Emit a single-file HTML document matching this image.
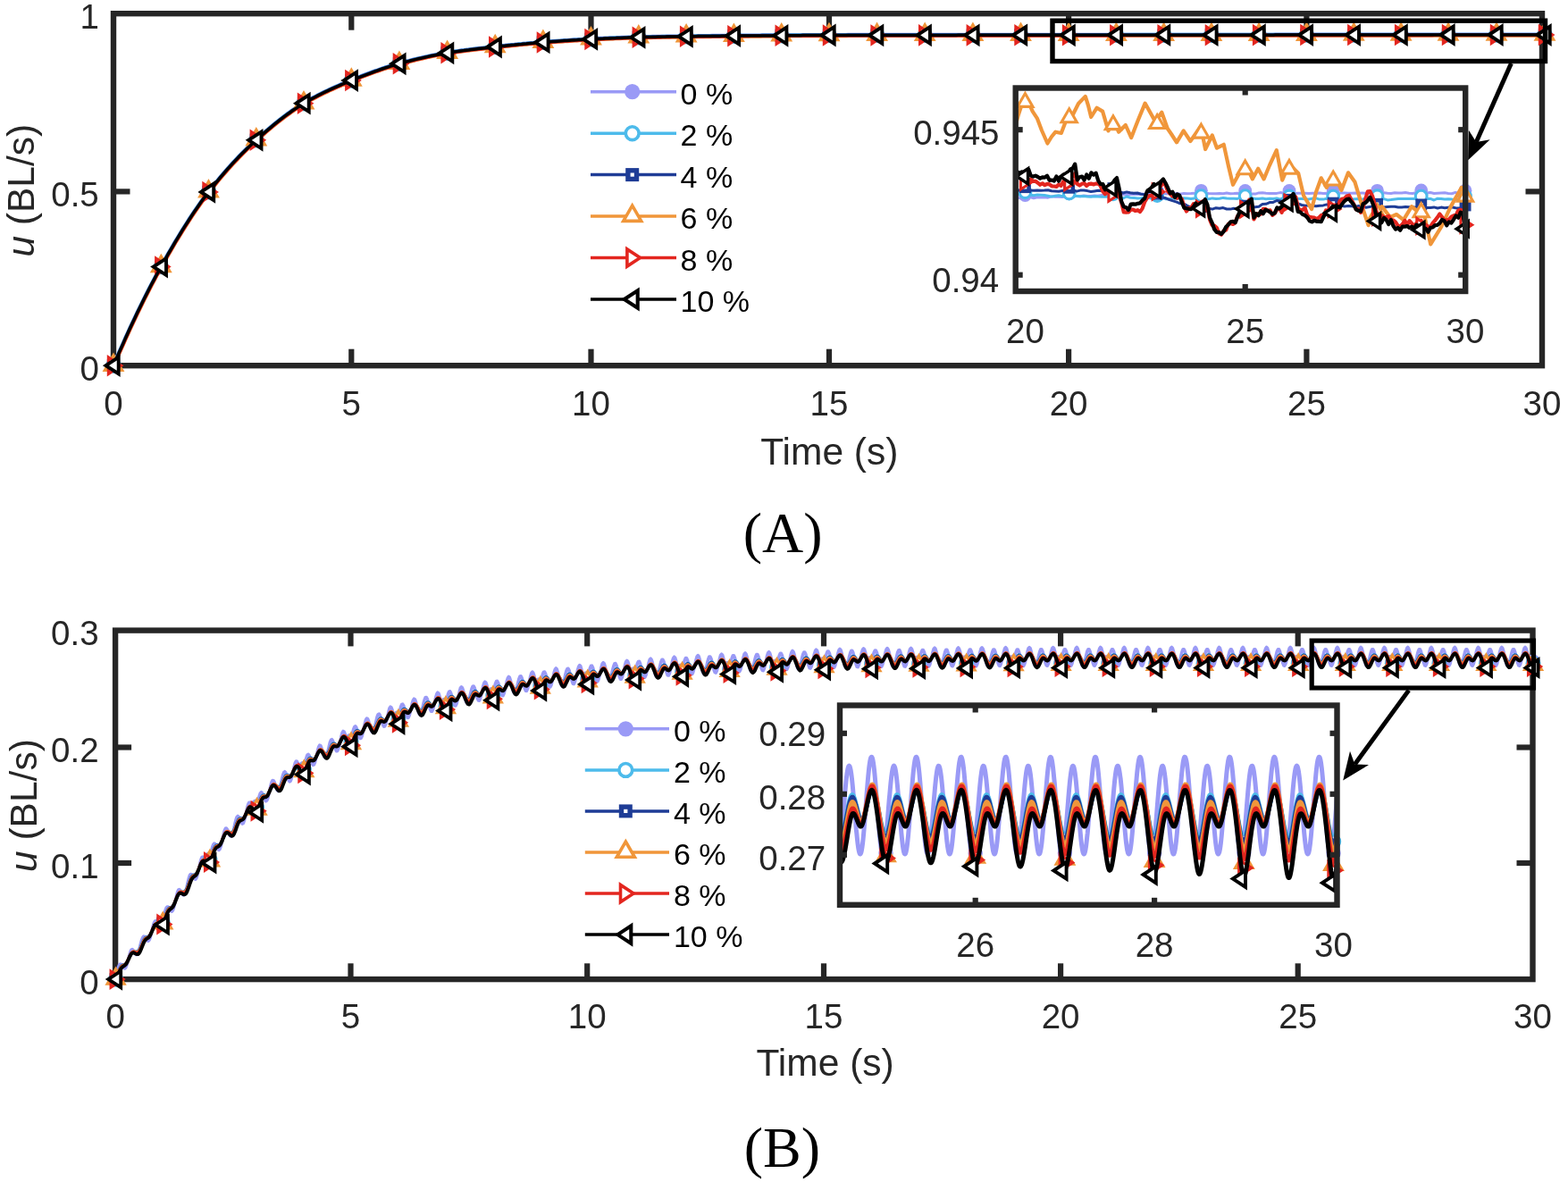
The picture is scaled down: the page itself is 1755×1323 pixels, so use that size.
<!DOCTYPE html>
<html><head><meta charset="utf-8"><title>u (BL/s) vs Time</title>
<style>
html,body{margin:0;padding:0;background:#fff;}
body{width:1755px;height:1323px;overflow:hidden;}
svg{display:block;}
svg text{font-family:"Liberation Sans",Arial,Helvetica,sans-serif;}
svg text.serif{font-family:"Liberation Serif","Times New Roman",Times,serif;}
</style></head><body>
<svg width="1755" height="1323" viewBox="0 0 1755 1323">
<rect width="1755" height="1323" fill="#fff"/>
<rect x="127" y="15.2" width="1599" height="394" fill="none" stroke="#262626" stroke-width="6.4"/>
<line x1="393.3" y1="409.2" x2="393.3" y2="390.7" stroke="#262626" stroke-width="6.2"/>
<line x1="393.3" y1="15.2" x2="393.3" y2="33.7" stroke="#262626" stroke-width="6.2"/>
<line x1="661.5" y1="409.2" x2="661.5" y2="390.7" stroke="#262626" stroke-width="6.2"/>
<line x1="661.5" y1="15.2" x2="661.5" y2="33.7" stroke="#262626" stroke-width="6.2"/>
<line x1="928" y1="409.2" x2="928" y2="390.7" stroke="#262626" stroke-width="6.2"/>
<line x1="928" y1="15.2" x2="928" y2="33.7" stroke="#262626" stroke-width="6.2"/>
<line x1="1196.1" y1="409.2" x2="1196.1" y2="390.7" stroke="#262626" stroke-width="6.2"/>
<line x1="1196.1" y1="15.2" x2="1196.1" y2="33.7" stroke="#262626" stroke-width="6.2"/>
<line x1="1462.4" y1="409.2" x2="1462.4" y2="390.7" stroke="#262626" stroke-width="6.2"/>
<line x1="1462.4" y1="15.2" x2="1462.4" y2="33.7" stroke="#262626" stroke-width="6.2"/>
<line x1="127" y1="214.4" x2="145.5" y2="214.4" stroke="#262626" stroke-width="6.2"/>
<line x1="1726" y1="214.4" x2="1707.5" y2="214.4" stroke="#262626" stroke-width="6.2"/>
<text x="127" y="464.6" font-size="38.5" text-anchor="middle" fill="#262626">0</text>
<text x="393.3" y="464.6" font-size="38.5" text-anchor="middle" fill="#262626">5</text>
<text x="661.5" y="464.6" font-size="38.5" text-anchor="middle" fill="#262626">10</text>
<text x="928" y="464.6" font-size="38.5" text-anchor="middle" fill="#262626">15</text>
<text x="1196.1" y="464.6" font-size="38.5" text-anchor="middle" fill="#262626">20</text>
<text x="1462.4" y="464.6" font-size="38.5" text-anchor="middle" fill="#262626">25</text>
<text x="1726" y="464.6" font-size="38.5" text-anchor="middle" fill="#262626">30</text>
<text x="110.8" y="426" font-size="38.5" text-anchor="end" fill="#262626">0</text>
<text x="110.8" y="231.2" font-size="38.5" text-anchor="end" fill="#262626">0.5</text>
<text x="110.8" y="32" font-size="38.5" text-anchor="end" fill="#262626">1</text>
<text x="928.3" y="519.6" font-size="42.5" text-anchor="middle" fill="#262626">Time (s)</text>
<text transform="translate(37.6,213.2) rotate(-90)" font-size="42.5" text-anchor="middle" fill="#262626"><tspan font-style="italic">u</tspan> (BL/s)</text>
<path d="M126.7 408.4L129.4 402.2L132 396.1L134.7 390.1L137.4 384.1L140 378.1L142.7 372.3L145.3 366.5L148 360.8L150.7 355.1L153.3 349.5L156 344L158.7 338.5L161.3 333.2L164 327.9L166.6 322.7L169.3 317.5L172 312.5L174.6 307.5L177.3 302.6L180 297.8L182.6 293.1L185.3 288.4L187.9 283.7L190.6 279.1L193.3 274.5L195.9 270L198.6 265.6L201.3 261.2L203.9 256.9L206.6 252.6L209.3 248.4L211.9 244.3L214.6 240.2L217.2 236.3L219.9 232.4L222.6 228.5L225.2 224.8L227.9 221.1L230.6 217.6L233.2 214.1L235.9 210.7L238.5 207.4L241.2 204.1L243.9 200.8L246.5 197.6L249.2 194.5L251.9 191.4L254.5 188.4L257.2 185.4L259.8 182.5L262.5 179.6L265.2 176.8L267.8 174L270.5 171.3L273.2 168.6L275.8 166L278.5 163.4L281.2 160.9L283.8 158.4L286.5 156L289.1 153.6L291.8 151.2L294.5 148.9L297.1 146.6L299.8 144.3L302.5 142L305.1 139.8L307.8 137.6L310.4 135.5L313.1 133.4L315.8 131.3L318.4 129.3L321.1 127.3L323.8 125.4L326.4 123.5L329.1 121.7L331.8 119.9L334.4 118.2L337.1 116.5L339.7 114.9L342.4 113.3L345.1 111.8L347.7 110.3L350.4 108.9L353.1 107.5L355.7 106.1L358.4 104.7L361 103.4L363.7 102.1L366.4 100.9L369 99.6L371.7 98.4L374.4 97.2L377 96L379.7 94.9L382.3 93.7L385 92.6L387.7 91.5L390.3 90.4L393 89.3L395.7 88.2L398.4 87.1L401 86.1L403.7 85L406.4 84L409.1 83L411.8 82L414.5 81L417.1 80L419.8 79L422.5 78.1L425.2 77.1L427.9 76.2L430.5 75.3L433.2 74.5L435.9 73.6L438.6 72.8L441.3 72L444 71.2L446.6 70.5L449.3 69.8L452 69.1L454.7 68.3L457.4 67.7L460.1 67L462.7 66.3L465.4 65.6L468.1 65L470.8 64.4L473.5 63.8L476.1 63.2L478.8 62.6L481.5 62L484.2 61.4L486.9 60.9L489.6 60.4L492.2 59.9L494.9 59.4L497.6 58.9L500.3 58.5L503 58.1L505.6 57.7L508.3 57.3L511 56.9L513.7 56.5L516.4 56.1L519.1 55.8L521.7 55.4L524.4 55.1L527.1 54.7L529.8 54.4L532.5 54.1L535.1 53.8L537.8 53.5L540.5 53.2L543.2 52.9L545.9 52.6L548.6 52.3L551.2 52L553.9 51.7L556.6 51.4L559.3 51.1L562 50.8L564.6 50.6L567.3 50.3L570 50L572.7 49.7L575.4 49.5L578.1 49.2L580.7 48.9L583.4 48.7L586.1 48.4L588.8 48.2L591.5 47.9L594.2 47.7L596.8 47.5L599.5 47.2L602.2 47L604.9 46.8L607.6 46.6L610.2 46.4L612.9 46.2L615.6 46L618.3 45.8L621 45.6L623.7 45.4L626.3 45.2L629 45L631.7 44.8L634.4 44.7L637.1 44.5L639.7 44.3L642.4 44.1L645.1 44L647.8 43.8L650.5 43.7L653.2 43.5L655.8 43.4L658.5 43.2L661.2 43.1L663.9 43L666.5 42.8L669.2 42.7L671.9 42.6L674.5 42.5L677.2 42.3L679.9 42.2L682.5 42.1L685.2 42L687.9 41.9L690.5 41.8L693.2 41.7L695.8 41.6L698.5 41.5L701.2 41.4L703.8 41.3L706.5 41.2L709.2 41.1L711.8 41.1L714.5 41L717.2 40.9L719.8 40.9L722.5 40.8L725.2 40.7L727.8 40.7L730.5 40.6L733.2 40.6L735.8 40.5L738.5 40.5L741.2 40.4L743.8 40.4L746.5 40.3L749.1 40.3L751.8 40.2L754.5 40.2L757.1 40.2L759.8 40.1L762.5 40.1L765.1 40L767.8 40L770.5 40L773.1 39.9L775.8 39.9L778.5 39.9L781.1 39.8L783.8 39.8L786.5 39.8L789.1 39.7L791.8 39.7L794.5 39.7L797.1 39.6L799.8 39.6L802.4 39.6L805.1 39.6L807.8 39.5L810.4 39.5L813.1 39.5L815.8 39.4L818.4 39.4L821.1 39.4L823.8 39.4L826.4 39.4L829.1 39.3L831.8 39.3L834.4 39.3L837.1 39.3L839.8 39.2L842.4 39.2L845.1 39.2L847.8 39.2L850.4 39.2L853.1 39.1L855.7 39.1L858.4 39.1L861.1 39.1L863.7 39.1L866.4 39.1L869.1 39L871.7 39L874.4 39L877.1 39L879.7 39L882.4 38.9L885.1 38.9L887.7 38.9L890.4 38.9L893.1 38.9L895.7 38.9L898.4 38.8L901.1 38.8L903.7 38.8L906.4 38.8L909 38.8L911.7 38.8L914.4 38.8L917 38.7L919.7 38.7L922.4 38.7L925 38.7L927.7 38.7L930.4 38.7L933.1 38.7L935.7 38.7L938.4 38.7L941.1 38.7L943.8 38.7L946.5 38.7L949.1 38.6L951.8 38.6L954.5 38.6L957.2 38.6L959.9 38.6L962.6 38.6L965.2 38.6L967.9 38.6L970.6 38.6L973.3 38.6L976 38.6L978.6 38.6L981.3 38.6L984 38.6L986.7 38.6L989.4 38.6L992 38.6L994.7 38.6L997.4 38.6L1000.1 38.6L1002.8 38.6L1005.4 38.6L1008.1 38.6L1010.8 38.6L1013.5 38.6L1016.2 38.6L1018.9 38.6L1021.5 38.6L1024.2 38.6L1026.9 38.6L1029.6 38.6L1032.3 38.6L1034.9 38.6L1037.6 38.6L1040.3 38.6L1043 38.6L1045.7 38.6L1048.3 38.6L1051 38.6L1053.7 38.6L1056.4 38.6L1059.1 38.6L1061.8 38.6L1064.4 38.6L1067.1 38.6L1069.8 38.6L1072.5 38.5L1075.2 38.5L1077.8 38.5L1080.5 38.5L1083.2 38.5L1085.9 38.5L1088.6 38.5L1091.2 38.5L1093.9 38.5L1096.6 38.5L1099.3 38.5L1102 38.5L1104.6 38.5L1107.3 38.5L1110 38.5L1112.7 38.5L1115.4 38.5L1118.1 38.5L1120.7 38.5L1123.4 38.5L1126.1 38.5L1128.8 38.5L1131.5 38.5L1134.1 38.5L1136.8 38.5L1139.5 38.5L1142.2 38.5L1144.9 38.5L1147.5 38.5L1150.2 38.5L1152.9 38.5L1155.6 38.5L1158.3 38.5L1160.9 38.5L1163.6 38.5L1166.3 38.5L1169 38.5L1171.7 38.5L1174.4 38.5L1177 38.5L1179.7 38.5L1182.4 38.5L1185.1 38.5L1187.8 38.5L1190.4 38.5L1193.1 38.5L1195.8 38.5L1198.5 38.5L1201.1 38.5L1203.8 38.5L1206.5 38.5L1209.1 38.5L1211.8 38.5L1214.4 38.5L1217.1 38.5L1219.8 38.5L1222.4 38.5L1225.1 38.5L1227.8 38.5L1230.4 38.5L1233.1 38.5L1235.7 38.5L1238.4 38.5L1241.1 38.5L1243.7 38.5L1246.4 38.5L1249.1 38.5L1251.7 38.4L1254.4 38.4L1257 38.4L1259.7 38.4L1262.4 38.4L1265 38.4L1267.7 38.4L1270.4 38.4L1273 38.4L1275.7 38.4L1278.4 38.4L1281 38.4L1283.7 38.4L1286.3 38.4L1289 38.4L1291.7 38.4L1294.3 38.4L1297 38.4L1299.7 38.4L1302.3 38.4L1305 38.4L1307.6 38.4L1310.3 38.4L1313 38.4L1315.6 38.4L1318.3 38.4L1321 38.4L1323.6 38.4L1326.3 38.4L1329 38.4L1331.6 38.4L1334.3 38.4L1336.9 38.4L1339.6 38.4L1342.3 38.4L1344.9 38.4L1347.6 38.4L1350.3 38.4L1352.9 38.4L1355.6 38.4L1358.2 38.4L1360.9 38.4L1363.6 38.4L1366.2 38.4L1368.9 38.4L1371.6 38.4L1374.2 38.4L1376.9 38.4L1379.5 38.4L1382.2 38.4L1384.9 38.4L1387.5 38.4L1390.2 38.4L1392.9 38.4L1395.5 38.4L1398.2 38.4L1400.9 38.4L1403.5 38.4L1406.2 38.4L1408.8 38.4L1411.5 38.4L1414.2 38.4L1416.8 38.4L1419.5 38.4L1422.2 38.4L1424.8 38.4L1427.5 38.3L1430.1 38.3L1432.8 38.3L1435.5 38.3L1438.1 38.3L1440.8 38.3L1443.5 38.3L1446.1 38.3L1448.8 38.3L1451.4 38.3L1454.1 38.3L1456.8 38.3L1459.4 38.3L1462.1 38.3L1464.7 38.3L1467.4 38.3L1470 38.3L1472.7 38.3L1475.3 38.3L1478 38.3L1480.6 38.3L1483.2 38.3L1485.9 38.3L1488.5 38.3L1491.2 38.3L1493.8 38.3L1496.5 38.3L1499.1 38.3L1501.8 38.3L1504.4 38.3L1507 38.3L1509.7 38.3L1512.3 38.3L1515 38.3L1517.6 38.3L1520.3 38.3L1522.9 38.3L1525.5 38.3L1528.2 38.3L1530.8 38.3L1533.5 38.3L1536.1 38.3L1538.8 38.3L1541.4 38.3L1544 38.3L1546.7 38.3L1549.3 38.3L1552 38.3L1554.6 38.3L1557.3 38.3L1559.9 38.3L1562.5 38.3L1565.2 38.3L1567.8 38.3L1570.5 38.3L1573.1 38.3L1575.8 38.3L1578.4 38.3L1581 38.3L1583.7 38.3L1586.3 38.3L1589 38.3L1591.6 38.3L1594.3 38.3L1596.9 38.3L1599.6 38.3L1602.2 38.3L1604.8 38.2L1607.5 38.2L1610.1 38.2L1612.8 38.2L1615.4 38.2L1618.1 38.2L1620.7 38.2L1623.4 38.2L1626.1 38.2L1628.8 38.2L1631.5 38.2L1634.2 38.2L1636.9 38.2L1639.6 38.2L1642.3 38.2L1645 38.2L1647.7 38.2L1650.4 38.2L1653.1 38.2L1655.8 38.2L1658.5 38.2L1661.2 38.2L1663.9 38.2L1666.6 38.2L1669.3 38.2L1672 38.2L1674.7 38.2L1677.4 38.2L1680.1 38.2L1682.8 38.2L1685.5 38.2L1688.2 38.2L1690.9 38.2L1693.6 38.2L1696.3 38.2L1699 38.2L1701.7 38.2L1704.4 38.2L1707.1 38.2L1709.8 38.2L1712.5 38.2L1715.2 38.2L1717.9 38.2L1720.6 38.2L1723.3 38.2L1726 38.2L1728.7 38.2" fill="none" stroke="#9A9AF6" stroke-width="3.5" stroke-linejoin="round"/>
<circle cx="127" cy="409.2" r="8.2" fill="#9A9AF6"/>
<circle cx="180.3" cy="298.6" r="8.2" fill="#9A9AF6"/>
<circle cx="233.5" cy="214.9" r="8.2" fill="#9A9AF6"/>
<circle cx="286.8" cy="156.8" r="8.2" fill="#9A9AF6"/>
<circle cx="340" cy="115.7" r="8.2" fill="#9A9AF6"/>
<circle cx="393.3" cy="90.1" r="8.2" fill="#9A9AF6"/>
<circle cx="446.9" cy="71.3" r="8.2" fill="#9A9AF6"/>
<circle cx="500.6" cy="59.3" r="8.2" fill="#9A9AF6"/>
<circle cx="554.2" cy="52.5" r="8.2" fill="#9A9AF6"/>
<circle cx="607.9" cy="47.4" r="8.2" fill="#9A9AF6"/>
<circle cx="661.5" cy="43.9" r="8.2" fill="#9A9AF6"/>
<circle cx="714.8" cy="41.8" r="8.2" fill="#9A9AF6"/>
<circle cx="768.1" cy="40.8" r="8.2" fill="#9A9AF6"/>
<circle cx="821.4" cy="40.2" r="8.2" fill="#9A9AF6"/>
<circle cx="874.7" cy="39.8" r="8.2" fill="#9A9AF6"/>
<circle cx="928" cy="39.5" r="8.2" fill="#9A9AF6"/>
<circle cx="981.6" cy="39.4" r="8.2" fill="#9A9AF6"/>
<circle cx="1035.2" cy="39.4" r="8.2" fill="#9A9AF6"/>
<circle cx="1088.9" cy="39.3" r="8.2" fill="#9A9AF6"/>
<circle cx="1142.5" cy="39.3" r="8.2" fill="#9A9AF6"/>
<circle cx="1196.1" cy="39.3" r="8.2" fill="#9A9AF6"/>
<circle cx="1249.4" cy="39.2" r="8.2" fill="#9A9AF6"/>
<circle cx="1302.6" cy="39.2" r="8.2" fill="#9A9AF6"/>
<circle cx="1355.9" cy="39.2" r="8.2" fill="#9A9AF6"/>
<circle cx="1409.1" cy="39.2" r="8.2" fill="#9A9AF6"/>
<circle cx="1462.4" cy="39.1" r="8.2" fill="#9A9AF6"/>
<circle cx="1515.3" cy="39.1" r="8.2" fill="#9A9AF6"/>
<circle cx="1568.1" cy="39.1" r="8.2" fill="#9A9AF6"/>
<circle cx="1621" cy="39" r="8.2" fill="#9A9AF6"/>
<circle cx="1675" cy="39" r="8.2" fill="#9A9AF6"/>
<circle cx="1729" cy="39" r="8.2" fill="#9A9AF6"/>
<path d="M126.8 408.6L129.5 402.4L132.1 396.3L134.8 390.3L137.5 384.3L140.1 378.3L142.8 372.5L145.4 366.7L148.1 361L150.8 355.3L153.4 349.7L156.1 344.2L158.8 338.7L161.4 333.4L164.1 328.1L166.7 322.9L169.4 317.7L172.1 312.7L174.7 307.7L177.4 302.8L180.1 298L182.7 293.3L185.4 288.6L188 283.9L190.7 279.3L193.4 274.7L196 270.2L198.7 265.8L201.4 261.4L204 257.1L206.7 252.8L209.4 248.6L212 244.5L214.7 240.4L217.3 236.5L220 232.6L222.7 228.7L225.3 225L228 221.3L230.7 217.8L233.3 214.3L236 210.9L238.6 207.6L241.3 204.3L244 201L246.6 197.8L249.3 194.7L252 191.6L254.6 188.6L257.3 185.6L259.9 182.7L262.6 179.8L265.3 177L267.9 174.2L270.6 171.5L273.3 168.8L275.9 166.2L278.6 163.6L281.3 161.1L283.9 158.6L286.6 156.2L289.2 153.8L291.9 151.4L294.6 149.1L297.2 146.8L299.9 144.5L302.6 142.2L305.2 140L307.9 137.8L310.5 135.7L313.2 133.6L315.9 131.5L318.5 129.5L321.2 127.5L323.9 125.6L326.5 123.7L329.2 121.9L331.9 120.1L334.5 118.4L337.2 116.7L339.8 115.1L342.5 113.5L345.2 112L347.8 110.5L350.5 109.1L353.2 107.7L355.8 106.3L358.5 104.9L361.1 103.6L363.8 102.3L366.5 101.1L369.1 99.8L371.8 98.6L374.5 97.4L377.1 96.2L379.8 95.1L382.4 93.9L385.1 92.8L387.8 91.7L390.4 90.6L393.1 89.5L395.8 88.4L398.5 87.3L401.1 86.3L403.8 85.2L406.5 84.2L409.2 83.2L411.9 82.2L414.6 81.2L417.2 80.2L419.9 79.2L422.6 78.3L425.3 77.3L428 76.4L430.6 75.5L433.3 74.7L436 73.8L438.7 73L441.4 72.2L444.1 71.4L446.7 70.7L449.4 70L452.1 69.3L454.8 68.5L457.5 67.9L460.2 67.2L462.8 66.5L465.5 65.8L468.2 65.2L470.9 64.6L473.6 64L476.2 63.4L478.9 62.8L481.6 62.2L484.3 61.6L487 61.1L489.7 60.6L492.3 60.1L495 59.6L497.7 59.1L500.4 58.7L503.1 58.3L505.7 57.9L508.4 57.5L511.1 57.1L513.8 56.7L516.5 56.3L519.2 56L521.8 55.6L524.5 55.3L527.2 54.9L529.9 54.6L532.6 54.3L535.2 54L537.9 53.7L540.6 53.4L543.3 53.1L546 52.8L548.7 52.5L551.3 52.2L554 51.9L556.7 51.6L559.4 51.3L562.1 51L564.7 50.8L567.4 50.5L570.1 50.2L572.8 49.9L575.5 49.7L578.2 49.4L580.8 49.1L583.5 48.9L586.2 48.6L588.9 48.4L591.6 48.1L594.2 47.9L596.9 47.7L599.6 47.4L602.3 47.2L605 47L607.7 46.8L610.3 46.6L613 46.4L615.7 46.2L618.4 46L621.1 45.8L623.8 45.6L626.4 45.4L629.1 45.2L631.8 45L634.5 44.9L637.2 44.7L639.8 44.5L642.5 44.3L645.2 44.2L647.9 44L650.6 43.9L653.3 43.7L655.9 43.6L658.6 43.4L661.3 43.3L664 43.2L666.6 43L669.3 42.9L672 42.8L674.6 42.7L677.3 42.5L680 42.4L682.6 42.3L685.3 42.2L687.9 42.1L690.6 42L693.3 41.9L695.9 41.8L698.6 41.7L701.3 41.6L703.9 41.5L706.6 41.4L709.3 41.3L711.9 41.3L714.6 41.2L717.3 41.1L719.9 41.1L722.6 41L725.3 40.9L727.9 40.9L730.6 40.8L733.3 40.8L735.9 40.7L738.6 40.7L741.2 40.6L743.9 40.6L746.6 40.5L749.2 40.5L751.9 40.4L754.6 40.4L757.2 40.4L759.9 40.3L762.6 40.3L765.2 40.2L767.9 40.2L770.6 40.2L773.2 40.1L775.9 40.1L778.6 40.1L781.2 40L783.9 40L786.6 40L789.2 39.9L791.9 39.9L794.5 39.9L797.2 39.8L799.9 39.8L802.5 39.8L805.2 39.8L807.9 39.7L810.5 39.7L813.2 39.7L815.9 39.6L818.5 39.6L821.2 39.6L823.9 39.6L826.5 39.6L829.2 39.5L831.9 39.5L834.5 39.5L837.2 39.5L839.9 39.4L842.5 39.4L845.2 39.4L847.8 39.4L850.5 39.4L853.2 39.3L855.8 39.3L858.5 39.3L861.2 39.3L863.8 39.3L866.5 39.3L869.2 39.2L871.8 39.2L874.5 39.2L877.2 39.2L879.8 39.2L882.5 39.1L885.2 39.1L887.8 39.1L890.5 39.1L893.2 39.1L895.8 39.1L898.5 39L901.1 39L903.8 39L906.5 39L909.1 39L911.8 39L914.5 39L917.1 38.9L919.8 38.9L922.5 38.9L925.1 38.9L927.8 38.9L930.5 38.9L933.2 38.9L935.8 38.9L938.5 38.9L941.2 38.9L943.9 38.9L946.6 38.9L949.2 38.8L951.9 38.8L954.6 38.8L957.3 38.8L960 38.8L962.7 38.8L965.3 38.8L968 38.8L970.7 38.8L973.4 38.8L976.1 38.8L978.7 38.8L981.4 38.8L984.1 38.8L986.8 38.8L989.5 38.8L992.1 38.8L994.8 38.8L997.5 38.8L1000.2 38.8L1002.9 38.8L1005.5 38.8L1008.2 38.8L1010.9 38.8L1013.6 38.8L1016.3 38.8L1019 38.8L1021.6 38.8L1024.3 38.8L1027 38.8L1029.7 38.8L1032.4 38.8L1035 38.8L1037.7 38.8L1040.4 38.8L1043.1 38.8L1045.8 38.8L1048.4 38.8L1051.1 38.8L1053.8 38.8L1056.5 38.8L1059.2 38.8L1061.8 38.8L1064.5 38.8L1067.2 38.8L1069.9 38.8L1072.6 38.7L1075.3 38.7L1077.9 38.7L1080.6 38.7L1083.3 38.7L1086 38.7L1088.7 38.7L1091.3 38.7L1094 38.7L1096.7 38.7L1099.4 38.7L1102.1 38.7L1104.7 38.7L1107.4 38.7L1110.1 38.7L1112.8 38.7L1115.5 38.7L1118.2 38.7L1120.8 38.7L1123.5 38.7L1126.2 38.7L1128.9 38.7L1131.6 38.7L1134.2 38.7L1136.9 38.7L1139.6 38.7L1142.3 38.7L1145 38.7L1147.6 38.7L1150.3 38.7L1153 38.7L1155.7 38.7L1158.4 38.7L1161 38.7L1163.7 38.7L1166.4 38.7L1169.1 38.7L1171.8 38.7L1174.5 38.7L1177.1 38.7L1179.8 38.7L1182.5 38.7L1185.2 38.7L1187.9 38.7L1190.5 38.7L1193.2 38.7L1195.9 38.7L1198.6 38.7L1201.2 38.7L1203.9 38.7L1206.6 38.7L1209.2 38.7L1211.9 38.7L1214.5 38.7L1217.2 38.7L1219.9 38.7L1222.5 38.7L1225.2 38.7L1227.9 38.7L1230.5 38.7L1233.2 38.7L1235.8 38.7L1238.5 38.7L1241.2 38.7L1243.8 38.7L1246.5 38.7L1249.2 38.6L1251.8 38.6L1254.5 38.6L1257.1 38.6L1259.8 38.6L1262.5 38.6L1265.1 38.6L1267.8 38.6L1270.5 38.6L1273.1 38.6L1275.8 38.6L1278.5 38.6L1281.1 38.6L1283.8 38.6L1286.4 38.6L1289.1 38.6L1291.8 38.6L1294.4 38.6L1297.1 38.6L1299.8 38.6L1302.4 38.6L1305.1 38.6L1307.7 38.6L1310.4 38.6L1313.1 38.6L1315.7 38.6L1318.4 38.6L1321.1 38.6L1323.7 38.6L1326.4 38.6L1329 38.6L1331.7 38.6L1334.4 38.6L1337 38.6L1339.7 38.6L1342.4 38.6L1345 38.6L1347.7 38.6L1350.4 38.6L1353 38.6L1355.7 38.6L1358.3 38.6L1361 38.6L1363.7 38.6L1366.3 38.6L1369 38.6L1371.7 38.6L1374.3 38.6L1377 38.6L1379.6 38.6L1382.3 38.6L1385 38.6L1387.6 38.6L1390.3 38.6L1393 38.6L1395.6 38.6L1398.3 38.6L1401 38.6L1403.6 38.6L1406.3 38.6L1408.9 38.6L1411.6 38.6L1414.3 38.6L1416.9 38.6L1419.6 38.6L1422.3 38.6L1424.9 38.6L1427.6 38.5L1430.2 38.5L1432.9 38.5L1435.6 38.5L1438.2 38.5L1440.9 38.5L1443.6 38.5L1446.2 38.5L1448.9 38.5L1451.5 38.5L1454.2 38.5L1456.9 38.5L1459.5 38.5L1462.2 38.5L1464.8 38.5L1467.5 38.5L1470.1 38.5L1472.8 38.5L1475.4 38.5L1478.1 38.5L1480.7 38.5L1483.3 38.5L1486 38.5L1488.6 38.5L1491.3 38.5L1493.9 38.5L1496.6 38.5L1499.2 38.5L1501.9 38.5L1504.5 38.5L1507.1 38.5L1509.8 38.5L1512.4 38.5L1515.1 38.5L1517.7 38.5L1520.4 38.5L1523 38.5L1525.6 38.5L1528.3 38.5L1530.9 38.5L1533.6 38.5L1536.2 38.5L1538.9 38.5L1541.5 38.5L1544.1 38.5L1546.8 38.5L1549.4 38.5L1552.1 38.5L1554.7 38.5L1557.4 38.5L1560 38.5L1562.6 38.5L1565.3 38.5L1567.9 38.5L1570.6 38.5L1573.2 38.5L1575.9 38.5L1578.5 38.5L1581.1 38.5L1583.8 38.5L1586.4 38.5L1589.1 38.5L1591.7 38.5L1594.4 38.5L1597 38.5L1599.7 38.5L1602.3 38.5L1604.9 38.4L1607.6 38.4L1610.2 38.4L1612.9 38.4L1615.5 38.4L1618.2 38.4L1620.8 38.4L1623.5 38.4L1626.2 38.4L1628.9 38.4L1631.6 38.4L1634.3 38.4L1637 38.4L1639.7 38.4L1642.4 38.4L1645.1 38.4L1647.8 38.4L1650.5 38.4L1653.2 38.4L1655.9 38.4L1658.6 38.4L1661.3 38.4L1664 38.4L1666.7 38.4L1669.4 38.4L1672.1 38.4L1674.8 38.4L1677.5 38.4L1680.2 38.4L1682.9 38.4L1685.6 38.4L1688.3 38.4L1691 38.4L1693.7 38.4L1696.4 38.4L1699.1 38.4L1701.8 38.4L1704.5 38.4L1707.2 38.4L1709.9 38.4L1712.6 38.4L1715.3 38.4L1718 38.4L1720.7 38.4L1723.4 38.4L1726.1 38.4L1728.8 38.4" fill="none" stroke="#4DBBEB" stroke-width="3.5" stroke-linejoin="round"/>
<circle cx="127" cy="409.2" r="7" fill="#fff" stroke="#4DBBEB" stroke-width="3.4"/>
<circle cx="180.3" cy="298.6" r="7" fill="#fff" stroke="#4DBBEB" stroke-width="3.4"/>
<circle cx="233.5" cy="214.9" r="7" fill="#fff" stroke="#4DBBEB" stroke-width="3.4"/>
<circle cx="286.8" cy="156.8" r="7" fill="#fff" stroke="#4DBBEB" stroke-width="3.4"/>
<circle cx="340" cy="115.7" r="7" fill="#fff" stroke="#4DBBEB" stroke-width="3.4"/>
<circle cx="393.3" cy="90.1" r="7" fill="#fff" stroke="#4DBBEB" stroke-width="3.4"/>
<circle cx="446.9" cy="71.3" r="7" fill="#fff" stroke="#4DBBEB" stroke-width="3.4"/>
<circle cx="500.6" cy="59.3" r="7" fill="#fff" stroke="#4DBBEB" stroke-width="3.4"/>
<circle cx="554.2" cy="52.5" r="7" fill="#fff" stroke="#4DBBEB" stroke-width="3.4"/>
<circle cx="607.9" cy="47.4" r="7" fill="#fff" stroke="#4DBBEB" stroke-width="3.4"/>
<circle cx="661.5" cy="43.9" r="7" fill="#fff" stroke="#4DBBEB" stroke-width="3.4"/>
<circle cx="714.8" cy="41.8" r="7" fill="#fff" stroke="#4DBBEB" stroke-width="3.4"/>
<circle cx="768.1" cy="40.8" r="7" fill="#fff" stroke="#4DBBEB" stroke-width="3.4"/>
<circle cx="821.4" cy="40.2" r="7" fill="#fff" stroke="#4DBBEB" stroke-width="3.4"/>
<circle cx="874.7" cy="39.8" r="7" fill="#fff" stroke="#4DBBEB" stroke-width="3.4"/>
<circle cx="928" cy="39.5" r="7" fill="#fff" stroke="#4DBBEB" stroke-width="3.4"/>
<circle cx="981.6" cy="39.4" r="7" fill="#fff" stroke="#4DBBEB" stroke-width="3.4"/>
<circle cx="1035.2" cy="39.4" r="7" fill="#fff" stroke="#4DBBEB" stroke-width="3.4"/>
<circle cx="1088.9" cy="39.3" r="7" fill="#fff" stroke="#4DBBEB" stroke-width="3.4"/>
<circle cx="1142.5" cy="39.3" r="7" fill="#fff" stroke="#4DBBEB" stroke-width="3.4"/>
<circle cx="1196.1" cy="39.3" r="7" fill="#fff" stroke="#4DBBEB" stroke-width="3.4"/>
<circle cx="1249.4" cy="39.2" r="7" fill="#fff" stroke="#4DBBEB" stroke-width="3.4"/>
<circle cx="1302.6" cy="39.2" r="7" fill="#fff" stroke="#4DBBEB" stroke-width="3.4"/>
<circle cx="1355.9" cy="39.2" r="7" fill="#fff" stroke="#4DBBEB" stroke-width="3.4"/>
<circle cx="1409.1" cy="39.2" r="7" fill="#fff" stroke="#4DBBEB" stroke-width="3.4"/>
<circle cx="1462.4" cy="39.1" r="7" fill="#fff" stroke="#4DBBEB" stroke-width="3.4"/>
<circle cx="1515.3" cy="39.1" r="7" fill="#fff" stroke="#4DBBEB" stroke-width="3.4"/>
<circle cx="1568.1" cy="39.1" r="7" fill="#fff" stroke="#4DBBEB" stroke-width="3.4"/>
<circle cx="1621" cy="39" r="7" fill="#fff" stroke="#4DBBEB" stroke-width="3.4"/>
<circle cx="1675" cy="39" r="7" fill="#fff" stroke="#4DBBEB" stroke-width="3.4"/>
<circle cx="1729" cy="39" r="7" fill="#fff" stroke="#4DBBEB" stroke-width="3.4"/>
<path d="M127 408.9L129.7 402.7L132.3 396.6L135 390.6L137.7 384.6L140.3 378.6L143 372.8L145.6 367L148.3 361.3L151 355.6L153.6 350L156.3 344.5L159 339L161.6 333.7L164.3 328.4L166.9 323.2L169.6 318L172.3 313L174.9 308L177.6 303.1L180.3 298.3L182.9 293.6L185.6 288.9L188.2 284.2L190.9 279.6L193.6 275L196.2 270.5L198.9 266.1L201.6 261.7L204.2 257.4L206.9 253.1L209.6 248.9L212.2 244.8L214.9 240.7L217.5 236.8L220.2 232.9L222.9 229L225.5 225.3L228.2 221.6L230.9 218.1L233.5 214.6L236.2 211.2L238.8 207.9L241.5 204.6L244.2 201.3L246.8 198.1L249.5 195L252.2 191.9L254.8 188.9L257.5 185.9L260.1 183L262.8 180.1L265.5 177.3L268.1 174.5L270.8 171.8L273.5 169.1L276.1 166.5L278.8 163.9L281.5 161.4L284.1 158.9L286.8 156.5L289.4 154.1L292.1 151.7L294.8 149.4L297.4 147.1L300.1 144.8L302.8 142.5L305.4 140.3L308.1 138.1L310.7 136L313.4 133.9L316.1 131.8L318.7 129.8L321.4 127.8L324.1 125.9L326.7 124L329.4 122.2L332.1 120.4L334.7 118.7L337.4 117L340 115.4L342.7 113.8L345.4 112.3L348 110.8L350.7 109.4L353.4 108L356 106.6L358.7 105.2L361.3 103.9L364 102.6L366.7 101.4L369.3 100.1L372 98.9L374.7 97.7L377.3 96.5L380 95.4L382.6 94.2L385.3 93.1L388 92L390.6 90.9L393.3 89.8L396 88.7L398.7 87.6L401.3 86.6L404 85.5L406.7 84.5L409.4 83.5L412.1 82.5L414.8 81.5L417.4 80.5L420.1 79.5L422.8 78.6L425.5 77.6L428.2 76.7L430.8 75.8L433.5 75L436.2 74.1L438.9 73.3L441.6 72.5L444.3 71.7L446.9 71L449.6 70.3L452.3 69.6L455 68.8L457.7 68.2L460.4 67.5L463 66.8L465.7 66.1L468.4 65.5L471.1 64.9L473.8 64.3L476.4 63.7L479.1 63.1L481.8 62.5L484.5 61.9L487.2 61.4L489.9 60.9L492.5 60.4L495.2 59.9L497.9 59.4L500.6 59L503.3 58.6L505.9 58.2L508.6 57.8L511.3 57.4L514 57L516.7 56.6L519.4 56.3L522 55.9L524.7 55.6L527.4 55.2L530.1 54.9L532.8 54.6L535.4 54.3L538.1 54L540.8 53.7L543.5 53.4L546.2 53.1L548.9 52.8L551.5 52.5L554.2 52.2L556.9 51.9L559.6 51.6L562.3 51.3L564.9 51.1L567.6 50.8L570.3 50.5L573 50.2L575.7 50L578.4 49.7L581 49.4L583.7 49.2L586.4 48.9L589.1 48.7L591.8 48.4L594.5 48.2L597.1 48L599.8 47.7L602.5 47.5L605.2 47.3L607.9 47.1L610.5 46.9L613.2 46.7L615.9 46.5L618.6 46.3L621.3 46.1L624 45.9L626.6 45.7L629.3 45.5L632 45.3L634.7 45.2L637.4 45L640 44.8L642.7 44.6L645.4 44.5L648.1 44.3L650.8 44.2L653.5 44L656.1 43.9L658.8 43.7L661.5 43.6L664.2 43.5L666.8 43.3L669.5 43.2L672.2 43.1L674.8 43L677.5 42.8L680.2 42.7L682.8 42.6L685.5 42.5L688.1 42.4L690.8 42.3L693.5 42.2L696.1 42.1L698.8 42L701.5 41.9L704.1 41.8L706.8 41.7L709.5 41.6L712.1 41.6L714.8 41.5L717.5 41.4L720.1 41.4L722.8 41.3L725.5 41.2L728.1 41.2L730.8 41.1L733.5 41.1L736.1 41L738.8 41L741.5 40.9L744.1 40.9L746.8 40.8L749.4 40.8L752.1 40.7L754.8 40.7L757.4 40.7L760.1 40.6L762.8 40.6L765.4 40.5L768.1 40.5L770.8 40.5L773.4 40.4L776.1 40.4L778.8 40.4L781.4 40.3L784.1 40.3L786.8 40.3L789.4 40.2L792.1 40.2L794.8 40.2L797.4 40.1L800.1 40.1L802.7 40.1L805.4 40.1L808.1 40L810.7 40L813.4 40L816.1 39.9L818.7 39.9L821.4 39.9L824.1 39.9L826.7 39.9L829.4 39.8L832.1 39.8L834.7 39.8L837.4 39.8L840.1 39.7L842.7 39.7L845.4 39.7L848 39.7L850.7 39.7L853.4 39.6L856 39.6L858.7 39.6L861.4 39.6L864 39.6L866.7 39.6L869.4 39.5L872 39.5L874.7 39.5L877.4 39.5L880 39.5L882.7 39.4L885.4 39.4L888 39.4L890.7 39.4L893.4 39.4L896 39.4L898.7 39.3L901.4 39.3L904 39.3L906.7 39.3L909.3 39.3L912 39.3L914.7 39.3L917.3 39.2L920 39.2L922.7 39.2L925.3 39.2L928 39.2L930.7 39.2L933.4 39.2L936 39.2L938.7 39.2L941.4 39.2L944.1 39.2L946.8 39.2L949.4 39.1L952.1 39.1L954.8 39.1L957.5 39.1L960.2 39.1L962.9 39.1L965.5 39.1L968.2 39.1L970.9 39.1L973.6 39.1L976.3 39.1L978.9 39.1L981.6 39.1L984.3 39.1L987 39.1L989.7 39.1L992.3 39.1L995 39.1L997.7 39.1L1000.4 39.1L1003.1 39.1L1005.7 39.1L1008.4 39.1L1011.1 39.1L1013.8 39.1L1016.5 39.1L1019.2 39.1L1021.8 39.1L1024.5 39.1L1027.2 39.1L1029.9 39.1L1032.6 39.1L1035.2 39.1L1037.9 39.1L1040.6 39.1L1043.3 39.1L1046 39.1L1048.6 39.1L1051.3 39.1L1054 39.1L1056.7 39.1L1059.4 39.1L1062 39.1L1064.7 39.1L1067.4 39.1L1070.1 39.1L1072.8 39L1075.5 39L1078.1 39L1080.8 39L1083.5 39L1086.2 39L1088.9 39L1091.5 39L1094.2 39L1096.9 39L1099.6 39L1102.3 39L1104.9 39L1107.6 39L1110.3 39L1113 39L1115.7 39L1118.4 39L1121 39L1123.7 39L1126.4 39L1129.1 39L1131.8 39L1134.4 39L1137.1 39L1139.8 39L1142.5 39L1145.2 39L1147.8 39L1150.5 39L1153.2 39L1155.9 39L1158.6 39L1161.2 39L1163.9 39L1166.6 39L1169.3 39L1172 39L1174.7 39L1177.3 39L1180 39L1182.7 39L1185.4 39L1188.1 39L1190.7 39L1193.4 39L1196.1 39L1198.8 39L1201.4 39L1204.1 39L1206.8 39L1209.4 39L1212.1 39L1214.7 39L1217.4 39L1220.1 39L1222.7 39L1225.4 39L1228.1 39L1230.7 39L1233.4 39L1236 39L1238.7 39L1241.4 39L1244 39L1246.7 39L1249.4 39L1252 38.9L1254.7 38.9L1257.3 38.9L1260 38.9L1262.7 38.9L1265.3 38.9L1268 38.9L1270.7 38.9L1273.3 38.9L1276 38.9L1278.7 38.9L1281.3 38.9L1284 38.9L1286.6 38.9L1289.3 38.9L1292 38.9L1294.6 38.9L1297.3 38.9L1300 38.9L1302.6 38.9L1305.3 38.9L1307.9 38.9L1310.6 38.9L1313.3 38.9L1315.9 38.9L1318.6 38.9L1321.3 38.9L1323.9 38.9L1326.6 38.9L1329.2 38.9L1331.9 38.9L1334.6 38.9L1337.2 38.9L1339.9 38.9L1342.6 38.9L1345.2 38.9L1347.9 38.9L1350.6 38.9L1353.2 38.9L1355.9 38.9L1358.5 38.9L1361.2 38.9L1363.9 38.9L1366.5 38.9L1369.2 38.9L1371.9 38.9L1374.5 38.9L1377.2 38.9L1379.8 38.9L1382.5 38.9L1385.2 38.9L1387.8 38.9L1390.5 38.9L1393.2 38.9L1395.8 38.9L1398.5 38.9L1401.2 38.9L1403.8 38.9L1406.5 38.9L1409.1 38.9L1411.8 38.9L1414.5 38.9L1417.1 38.9L1419.8 38.9L1422.5 38.9L1425.1 38.9L1427.8 38.8L1430.4 38.8L1433.1 38.8L1435.8 38.8L1438.4 38.8L1441.1 38.8L1443.8 38.8L1446.4 38.8L1449.1 38.8L1451.7 38.8L1454.4 38.8L1457.1 38.8L1459.7 38.8L1462.4 38.8L1465 38.8L1467.7 38.8L1470.3 38.8L1473 38.8L1475.6 38.8L1478.3 38.8L1480.9 38.8L1483.5 38.8L1486.2 38.8L1488.8 38.8L1491.5 38.8L1494.1 38.8L1496.8 38.8L1499.4 38.8L1502.1 38.8L1504.7 38.8L1507.3 38.8L1510 38.8L1512.6 38.8L1515.3 38.8L1517.9 38.8L1520.6 38.8L1523.2 38.8L1525.8 38.8L1528.5 38.8L1531.1 38.8L1533.8 38.8L1536.4 38.8L1539.1 38.8L1541.7 38.8L1544.3 38.8L1547 38.8L1549.6 38.8L1552.3 38.8L1554.9 38.8L1557.6 38.8L1560.2 38.8L1562.8 38.8L1565.5 38.8L1568.1 38.8L1570.8 38.8L1573.4 38.8L1576.1 38.8L1578.7 38.8L1581.3 38.8L1584 38.8L1586.6 38.8L1589.3 38.8L1591.9 38.8L1594.6 38.8L1597.2 38.8L1599.9 38.8L1602.5 38.8L1605.1 38.7L1607.8 38.7L1610.4 38.7L1613.1 38.7L1615.7 38.7L1618.4 38.7L1621 38.7L1623.7 38.7L1626.4 38.7L1629.1 38.7L1631.8 38.7L1634.5 38.7L1637.2 38.7L1639.9 38.7L1642.6 38.7L1645.3 38.7L1648 38.7L1650.7 38.7L1653.4 38.7L1656.1 38.7L1658.8 38.7L1661.5 38.7L1664.2 38.7L1666.9 38.7L1669.6 38.7L1672.3 38.7L1675 38.7L1677.7 38.7L1680.4 38.7L1683.1 38.7L1685.8 38.7L1688.5 38.7L1691.2 38.7L1693.9 38.7L1696.6 38.7L1699.3 38.7L1702 38.7L1704.7 38.7L1707.4 38.7L1710.1 38.7L1712.8 38.7L1715.5 38.7L1718.2 38.7L1720.9 38.7L1723.6 38.7L1726.3 38.7L1729 38.7" fill="none" stroke="#1E3C96" stroke-width="3.5" stroke-linejoin="round"/>
<rect x="122.4" y="404.6" width="9.1" height="9.1" fill="#fff" stroke="#1E3C96" stroke-width="5.1"/>
<rect x="175.7" y="294" width="9.1" height="9.1" fill="#fff" stroke="#1E3C96" stroke-width="5.1"/>
<rect x="229" y="210.3" width="9.1" height="9.1" fill="#fff" stroke="#1E3C96" stroke-width="5.1"/>
<rect x="282.2" y="152.2" width="9.1" height="9.1" fill="#fff" stroke="#1E3C96" stroke-width="5.1"/>
<rect x="335.5" y="111.1" width="9.1" height="9.1" fill="#fff" stroke="#1E3C96" stroke-width="5.1"/>
<rect x="388.7" y="85.5" width="9.1" height="9.1" fill="#fff" stroke="#1E3C96" stroke-width="5.1"/>
<rect x="442.4" y="66.7" width="9.1" height="9.1" fill="#fff" stroke="#1E3C96" stroke-width="5.1"/>
<rect x="496" y="54.7" width="9.1" height="9.1" fill="#fff" stroke="#1E3C96" stroke-width="5.1"/>
<rect x="549.7" y="47.9" width="9.1" height="9.1" fill="#fff" stroke="#1E3C96" stroke-width="5.1"/>
<rect x="603.3" y="42.8" width="9.1" height="9.1" fill="#fff" stroke="#1E3C96" stroke-width="5.1"/>
<rect x="656.9" y="39.3" width="9.1" height="9.1" fill="#fff" stroke="#1E3C96" stroke-width="5.1"/>
<rect x="710.2" y="37.2" width="9.1" height="9.1" fill="#fff" stroke="#1E3C96" stroke-width="5.1"/>
<rect x="763.5" y="36.2" width="9.1" height="9.1" fill="#fff" stroke="#1E3C96" stroke-width="5.1"/>
<rect x="816.8" y="35.6" width="9.1" height="9.1" fill="#fff" stroke="#1E3C96" stroke-width="5.1"/>
<rect x="870.1" y="35.2" width="9.1" height="9.1" fill="#fff" stroke="#1E3C96" stroke-width="5.1"/>
<rect x="923.4" y="34.9" width="9.1" height="9.1" fill="#fff" stroke="#1E3C96" stroke-width="5.1"/>
<rect x="977.1" y="34.8" width="9.1" height="9.1" fill="#fff" stroke="#1E3C96" stroke-width="5.1"/>
<rect x="1030.7" y="34.8" width="9.1" height="9.1" fill="#fff" stroke="#1E3C96" stroke-width="5.1"/>
<rect x="1084.3" y="34.8" width="9.1" height="9.1" fill="#fff" stroke="#1E3C96" stroke-width="5.1"/>
<rect x="1137.9" y="34.7" width="9.1" height="9.1" fill="#fff" stroke="#1E3C96" stroke-width="5.1"/>
<rect x="1191.5" y="34.7" width="9.1" height="9.1" fill="#fff" stroke="#1E3C96" stroke-width="5.1"/>
<rect x="1244.8" y="34.7" width="9.1" height="9.1" fill="#fff" stroke="#1E3C96" stroke-width="5.1"/>
<rect x="1298.1" y="34.7" width="9.1" height="9.1" fill="#fff" stroke="#1E3C96" stroke-width="5.1"/>
<rect x="1351.3" y="34.6" width="9.1" height="9.1" fill="#fff" stroke="#1E3C96" stroke-width="5.1"/>
<rect x="1404.6" y="34.6" width="9.1" height="9.1" fill="#fff" stroke="#1E3C96" stroke-width="5.1"/>
<rect x="1457.8" y="34.6" width="9.1" height="9.1" fill="#fff" stroke="#1E3C96" stroke-width="5.1"/>
<rect x="1510.7" y="34.5" width="9.1" height="9.1" fill="#fff" stroke="#1E3C96" stroke-width="5.1"/>
<rect x="1563.6" y="34.5" width="9.1" height="9.1" fill="#fff" stroke="#1E3C96" stroke-width="5.1"/>
<rect x="1616.4" y="34.5" width="9.1" height="9.1" fill="#fff" stroke="#1E3C96" stroke-width="5.1"/>
<rect x="1670.4" y="34.4" width="9.1" height="9.1" fill="#fff" stroke="#1E3C96" stroke-width="5.1"/>
<rect x="1724.4" y="34.4" width="9.1" height="9.1" fill="#fff" stroke="#1E3C96" stroke-width="5.1"/>
<path d="M127.5 410.1L130.2 403.9L132.8 397.8L135.5 391.8L138.2 385.8L140.8 379.8L143.5 374L146.1 368.2L148.8 362.5L151.5 356.8L154.1 351.2L156.8 345.7L159.5 340.2L162.1 334.9L164.8 329.6L167.4 324.4L170.1 319.2L172.8 314.2L175.4 309.2L178.1 304.3L180.8 299.5L183.4 294.8L186.1 290.1L188.7 285.4L191.4 280.8L194.1 276.2L196.7 271.7L199.4 267.3L202.1 262.9L204.7 258.6L207.4 254.3L210.1 250.1L212.7 246L215.4 241.9L218 238L220.7 234.1L223.4 230.2L226 226.5L228.7 222.8L231.4 219.3L234 215.8L236.7 212.4L239.3 209.1L242 205.8L244.7 202.5L247.3 199.3L250 196.2L252.7 193.1L255.3 190.1L258 187.1L260.6 184.2L263.3 181.3L266 178.5L268.6 175.7L271.3 173L274 170.3L276.6 167.7L279.3 165.1L282 162.6L284.6 160.1L287.3 157.7L289.9 155.3L292.6 152.9L295.3 150.6L297.9 148.3L300.6 146L303.3 143.7L305.9 141.5L308.6 139.3L311.2 137.2L313.9 135.1L316.6 133L319.2 131L321.9 129L324.6 127.1L327.2 125.2L329.9 123.4L332.6 121.6L335.2 119.9L337.9 118.2L340.5 116.6L343.2 115L345.9 113.5L348.5 112L351.2 110.6L353.9 109.2L356.5 107.8L359.2 106.4L361.8 105.1L364.5 103.8L367.2 102.6L369.8 101.3L372.5 100.1L375.2 98.9L377.8 97.7L380.5 96.6L383.1 95.4L385.8 94.3L388.5 93.2L391.1 92.1L393.8 91L396.5 89.9L399.2 88.8L401.8 87.8L404.5 86.7L407.2 85.7L409.9 84.7L412.6 83.7L415.3 82.7L417.9 81.7L420.6 80.7L423.3 79.8L426 78.8L428.7 77.9L431.3 77L434 76.2L436.7 75.3L439.4 74.5L442.1 73.7L444.8 72.9L447.4 72.2L450.1 71.5L452.8 70.8L455.5 70L458.2 69.4L460.9 68.7L463.5 68L466.2 67.3L468.9 66.7L471.6 66.1L474.3 65.5L476.9 64.9L479.6 64.3L482.3 63.7L485 63.1L487.7 62.6L490.4 62.1L493 61.6L495.7 61.1L498.4 60.6L501.1 60.2L503.8 59.8L506.4 59.4L509.1 59L511.8 58.6L514.5 58.2L517.2 57.8L519.9 57.5L522.5 57.1L525.2 56.8L527.9 56.4L530.6 56.1L533.3 55.8L535.9 55.5L538.6 55.2L541.3 54.9L544 54.6L546.7 54.3L549.4 54L552 53.7L554.7 53.4L557.4 53.1L560.1 52.8L562.8 52.5L565.4 52.3L568.1 52L570.8 51.7L573.5 51.4L576.2 51.2L578.9 50.9L581.5 50.6L584.2 50.4L586.9 50.1L589.6 49.9L592.3 49.6L595 49.4L597.6 49.2L600.3 48.9L603 48.7L605.7 48.5L608.4 48.3L611 48.1L613.7 47.9L616.4 47.7L619.1 47.5L621.8 47.3L624.5 47.1L627.1 46.9L629.8 46.7L632.5 46.5L635.2 46.4L637.9 46.2L640.5 46L643.2 45.8L645.9 45.7L648.6 45.5L651.3 45.4L654 45.2L656.6 45.1L659.3 44.9L662 44.8L664.7 44.7L667.3 44.5L670 44.4L672.7 44.3L675.3 44.2L678 44L680.7 43.9L683.3 43.8L686 43.7L688.6 43.6L691.3 43.5L694 43.4L696.6 43.3L699.3 43.2L702 43.1L704.6 43L707.3 42.9L710 42.8L712.6 42.8L715.3 42.7L718 42.6L720.6 42.6L723.3 42.5L726 42.4L728.6 42.4L731.3 42.3L734 42.3L736.6 42.2L739.3 42.2L742 42.1L744.6 42.1L747.3 42L749.9 42L752.6 41.9L755.3 41.9L757.9 41.9L760.6 41.8L763.3 41.8L765.9 41.7L768.6 41.7L771.3 41.7L773.9 41.6L776.6 41.6L779.3 41.6L781.9 41.5L784.6 41.5L787.3 41.5L789.9 41.4L792.6 41.4L795.2 41.4L797.9 41.3L800.6 41.3L803.2 41.3L805.9 41.3L808.6 41.2L811.2 41.2L813.9 41.2L816.6 41.1L819.2 41.1L821.9 41.1L824.6 41.1L827.2 41.1L829.9 41L832.6 41L835.2 41L837.9 41L840.6 40.9L843.2 40.9L845.9 40.9L848.5 40.9L851.2 40.9L853.9 40.8L856.5 40.8L859.2 40.8L861.9 40.8L864.5 40.8L867.2 40.8L869.9 40.7L872.5 40.7L875.2 40.7L877.9 40.7L880.5 40.7L883.2 40.6L885.9 40.6L888.5 40.6L891.2 40.6L893.9 40.6L896.5 40.6L899.2 40.5L901.9 40.5L904.5 40.5L907.2 40.5L909.8 40.5L912.5 40.5L915.2 40.5L917.8 40.4L920.5 40.4L923.2 40.4L925.8 40.4L928.5 40.4L931.2 40.4L933.9 40.4L936.5 40.4L939.2 40.4L941.9 40.4L944.6 40.4L947.3 40.4L949.9 40.3L952.6 40.3L955.3 40.3L958 40.3L960.7 40.3L963.4 40.3L966 40.3L968.7 40.3L971.4 40.3L974.1 40.3L976.8 40.3L979.4 40.3L982.1 40.3L984.8 40.3L987.5 40.3L990.2 40.3L992.8 40.3L995.5 40.3L998.2 40.3L1000.9 40.3L1003.6 40.3L1006.2 40.3L1008.9 40.3L1011.6 40.3L1014.3 40.3L1017 40.3L1019.7 40.3L1022.3 40.3L1025 40.3L1027.7 40.3L1030.4 40.3L1033.1 40.3L1035.7 40.3L1038.4 40.3L1041.1 40.3L1043.8 40.3L1046.5 40.3L1049.1 40.3L1051.8 40.3L1054.5 40.3L1057.2 40.3L1059.9 40.3L1062.5 40.3L1065.2 40.3L1067.9 40.3L1070.6 40.3L1073.3 40.2L1076 40.2L1078.6 40.2L1081.3 40.2L1084 40.2L1086.7 40.2L1089.4 40.2L1092 40.2L1094.7 40.2L1097.4 40.2L1100.1 40.2L1102.8 40.2L1105.4 40.2L1108.1 40.2L1110.8 40.2L1113.5 40.2L1116.2 40.2L1118.9 40.2L1121.5 40.2L1124.2 40.2L1126.9 40.2L1129.6 40.2L1132.3 40.2L1134.9 40.2L1137.6 40.2L1140.3 40.2L1143 40.2L1145.7 40.2L1148.3 40.2L1151 40.2L1153.7 40.2L1156.4 40.2L1159.1 40.2L1161.7 40.2L1164.4 40.2L1167.1 40.2L1169.8 40.2L1172.5 40.2L1175.2 40.2L1177.8 40.2L1180.5 40.2L1183.2 40.2L1185.9 40.2L1188.6 40.2L1191.2 40.2L1193.9 40.2L1196.6 40.2L1199.3 40.2L1201.9 40.2L1204.6 40.2L1207.3 40.2L1209.9 40.2L1212.6 40.2L1215.2 40.2L1217.9 40.2L1220.6 40.2L1223.2 40.2L1225.9 40.2L1228.6 40.2L1231.2 40.2L1233.9 40.2L1236.5 40.2L1239.2 40.2L1241.9 40.2L1244.5 40.2L1247.2 40.2L1249.9 40.1L1252.5 40.1L1255.2 40.1L1257.8 40.1L1260.5 40.1L1263.2 40.1L1265.8 40.1L1268.5 40.1L1271.2 40.1L1273.8 40.1L1276.5 40.1L1279.2 40.1L1281.8 40.1L1284.5 40.1L1287.1 40.1L1289.8 40.1L1292.5 40.1L1295.1 40.1L1297.8 40.1L1300.5 40.1L1303.1 40.1L1305.8 40.1L1308.4 40.1L1311.1 40.1L1313.8 40.1L1316.4 40.1L1319.1 40.1L1321.8 40.1L1324.4 40.1L1327.1 40.1L1329.8 40.1L1332.4 40.1L1335.1 40.1L1337.7 40.1L1340.4 40.1L1343.1 40.1L1345.7 40.1L1348.4 40.1L1351.1 40.1L1353.7 40.1L1356.4 40.1L1359 40.1L1361.7 40.1L1364.4 40.1L1367 40.1L1369.7 40.1L1372.4 40.1L1375 40.1L1377.7 40.1L1380.3 40.1L1383 40.1L1385.7 40.1L1388.3 40.1L1391 40.1L1393.7 40.1L1396.3 40.1L1399 40.1L1401.7 40.1L1404.3 40.1L1407 40.1L1409.6 40.1L1412.3 40.1L1415 40.1L1417.6 40.1L1420.3 40.1L1423 40.1L1425.6 40.1L1428.3 40L1430.9 40L1433.6 40L1436.3 40L1438.9 40L1441.6 40L1444.3 40L1446.9 40L1449.6 40L1452.2 40L1454.9 40L1457.6 40L1460.2 40L1462.9 40L1465.5 40L1468.2 40L1470.8 40L1473.5 40L1476.1 40L1478.8 40L1481.4 40L1484 40L1486.7 40L1489.3 40L1492 40L1494.6 40L1497.3 40L1499.9 40L1502.6 40L1505.2 40L1507.8 40L1510.5 40L1513.1 40L1515.8 40L1518.4 40L1521.1 40L1523.7 40L1526.3 40L1529 40L1531.6 40L1534.3 40L1536.9 40L1539.6 40L1542.2 40L1544.8 40L1547.5 40L1550.1 40L1552.8 40L1555.4 40L1558.1 40L1560.7 40L1563.3 40L1566 40L1568.6 40L1571.3 40L1573.9 40L1576.6 40L1579.2 40L1581.8 40L1584.5 40L1587.1 40L1589.8 40L1592.4 40L1595.1 40L1597.7 40L1600.4 40L1603 40L1605.6 39.9L1608.3 39.9L1610.9 39.9L1613.6 39.9L1616.2 39.9L1618.9 39.9L1621.5 39.9L1624.2 39.9L1626.9 39.9L1629.6 39.9L1632.3 39.9L1635 39.9L1637.7 39.9L1640.4 39.9L1643.1 39.9L1645.8 39.9L1648.5 39.9L1651.2 39.9L1653.9 39.9L1656.6 39.9L1659.3 39.9L1662 39.9L1664.7 39.9L1667.4 39.9L1670.1 39.9L1672.8 39.9L1675.5 39.9L1678.2 39.9L1680.9 39.9L1683.6 39.9L1686.3 39.9L1689 39.9L1691.7 39.9L1694.4 39.9L1697.1 39.9L1699.8 39.9L1702.5 39.9L1705.2 39.9L1707.9 39.9L1710.6 39.9L1713.3 39.9L1716 39.9L1718.7 39.9L1721.4 39.9L1724.1 39.9L1726.8 39.9L1729.5 39.9" fill="none" stroke="#F0963A" stroke-width="3.5" stroke-linejoin="round"/>
<polygon points="127,397.8 136.5,414.2 117.5,414.2" fill="#fff" stroke="#F0963A" stroke-width="3.4" stroke-linejoin="miter" stroke-miterlimit="10"/>
<polygon points="180.3,287.2 189.8,303.6 170.8,303.6" fill="#fff" stroke="#F0963A" stroke-width="3.4" stroke-linejoin="miter" stroke-miterlimit="10"/>
<polygon points="233.5,203.5 243,219.9 224,219.9" fill="#fff" stroke="#F0963A" stroke-width="3.4" stroke-linejoin="miter" stroke-miterlimit="10"/>
<polygon points="286.8,145.4 296.3,161.8 277.3,161.8" fill="#fff" stroke="#F0963A" stroke-width="3.4" stroke-linejoin="miter" stroke-miterlimit="10"/>
<polygon points="340,104.3 349.5,120.7 330.5,120.7" fill="#fff" stroke="#F0963A" stroke-width="3.4" stroke-linejoin="miter" stroke-miterlimit="10"/>
<polygon points="393.3,78.7 402.8,95.1 383.8,95.1" fill="#fff" stroke="#F0963A" stroke-width="3.4" stroke-linejoin="miter" stroke-miterlimit="10"/>
<polygon points="446.9,59.9 456.4,76.3 437.4,76.3" fill="#fff" stroke="#F0963A" stroke-width="3.4" stroke-linejoin="miter" stroke-miterlimit="10"/>
<polygon points="500.6,47.9 510.1,64.3 491.1,64.3" fill="#fff" stroke="#F0963A" stroke-width="3.4" stroke-linejoin="miter" stroke-miterlimit="10"/>
<polygon points="554.2,41.1 563.7,57.5 544.7,57.5" fill="#fff" stroke="#F0963A" stroke-width="3.4" stroke-linejoin="miter" stroke-miterlimit="10"/>
<polygon points="607.9,36 617.4,52.4 598.4,52.4" fill="#fff" stroke="#F0963A" stroke-width="3.4" stroke-linejoin="miter" stroke-miterlimit="10"/>
<polygon points="661.5,32.5 671,48.9 652,48.9" fill="#fff" stroke="#F0963A" stroke-width="3.4" stroke-linejoin="miter" stroke-miterlimit="10"/>
<polygon points="714.8,30.4 724.3,46.8 705.3,46.8" fill="#fff" stroke="#F0963A" stroke-width="3.4" stroke-linejoin="miter" stroke-miterlimit="10"/>
<polygon points="768.1,29.4 777.6,45.8 758.6,45.8" fill="#fff" stroke="#F0963A" stroke-width="3.4" stroke-linejoin="miter" stroke-miterlimit="10"/>
<polygon points="821.4,28.8 830.9,45.2 811.9,45.2" fill="#fff" stroke="#F0963A" stroke-width="3.4" stroke-linejoin="miter" stroke-miterlimit="10"/>
<polygon points="874.7,28.4 884.2,44.8 865.2,44.8" fill="#fff" stroke="#F0963A" stroke-width="3.4" stroke-linejoin="miter" stroke-miterlimit="10"/>
<polygon points="928,28.1 937.5,44.5 918.5,44.5" fill="#fff" stroke="#F0963A" stroke-width="3.4" stroke-linejoin="miter" stroke-miterlimit="10"/>
<polygon points="981.6,28 991.1,44.4 972.1,44.4" fill="#fff" stroke="#F0963A" stroke-width="3.4" stroke-linejoin="miter" stroke-miterlimit="10"/>
<polygon points="1035.2,28 1044.7,44.4 1025.7,44.4" fill="#fff" stroke="#F0963A" stroke-width="3.4" stroke-linejoin="miter" stroke-miterlimit="10"/>
<polygon points="1088.9,27.9 1098.4,44.4 1079.4,44.4" fill="#fff" stroke="#F0963A" stroke-width="3.4" stroke-linejoin="miter" stroke-miterlimit="10"/>
<polygon points="1142.5,27.9 1152,44.3 1133,44.3" fill="#fff" stroke="#F0963A" stroke-width="3.4" stroke-linejoin="miter" stroke-miterlimit="10"/>
<polygon points="1196.1,27.9 1205.6,44.3 1186.6,44.3" fill="#fff" stroke="#F0963A" stroke-width="3.4" stroke-linejoin="miter" stroke-miterlimit="10"/>
<polygon points="1249.4,27.9 1258.9,44.3 1239.9,44.3" fill="#fff" stroke="#F0963A" stroke-width="3.4" stroke-linejoin="miter" stroke-miterlimit="10"/>
<polygon points="1302.6,27.8 1312.1,44.3 1293.1,44.3" fill="#fff" stroke="#F0963A" stroke-width="3.4" stroke-linejoin="miter" stroke-miterlimit="10"/>
<polygon points="1355.9,27.8 1365.4,44.2 1346.4,44.2" fill="#fff" stroke="#F0963A" stroke-width="3.4" stroke-linejoin="miter" stroke-miterlimit="10"/>
<polygon points="1409.1,27.8 1418.6,44.2 1399.6,44.2" fill="#fff" stroke="#F0963A" stroke-width="3.4" stroke-linejoin="miter" stroke-miterlimit="10"/>
<polygon points="1462.4,27.7 1471.9,44.2 1452.9,44.2" fill="#fff" stroke="#F0963A" stroke-width="3.4" stroke-linejoin="miter" stroke-miterlimit="10"/>
<polygon points="1515.3,27.7 1524.8,44.1 1505.8,44.1" fill="#fff" stroke="#F0963A" stroke-width="3.4" stroke-linejoin="miter" stroke-miterlimit="10"/>
<polygon points="1568.1,27.7 1577.6,44.1 1558.6,44.1" fill="#fff" stroke="#F0963A" stroke-width="3.4" stroke-linejoin="miter" stroke-miterlimit="10"/>
<polygon points="1621,27.6 1630.5,44.1 1611.5,44.1" fill="#fff" stroke="#F0963A" stroke-width="3.4" stroke-linejoin="miter" stroke-miterlimit="10"/>
<polygon points="1675,27.6 1684.5,44 1665.5,44" fill="#fff" stroke="#F0963A" stroke-width="3.4" stroke-linejoin="miter" stroke-miterlimit="10"/>
<polygon points="1729,27.6 1738.5,44 1719.5,44" fill="#fff" stroke="#F0963A" stroke-width="3.4" stroke-linejoin="miter" stroke-miterlimit="10"/>
<path d="M127.3 409.8L130 403.6L132.6 397.5L135.3 391.5L138 385.5L140.6 379.5L143.3 373.7L145.9 367.9L148.6 362.2L151.3 356.5L153.9 350.9L156.6 345.4L159.3 339.9L161.9 334.6L164.6 329.3L167.2 324.1L169.9 318.9L172.6 313.9L175.2 308.9L177.9 304L180.6 299.2L183.2 294.5L185.9 289.8L188.5 285.1L191.2 280.5L193.9 275.9L196.5 271.4L199.2 267L201.9 262.6L204.5 258.3L207.2 254L209.9 249.8L212.5 245.7L215.2 241.6L217.8 237.7L220.5 233.8L223.2 229.9L225.8 226.2L228.5 222.5L231.2 219L233.8 215.5L236.5 212.1L239.1 208.8L241.8 205.5L244.5 202.2L247.1 199L249.8 195.9L252.5 192.8L255.1 189.8L257.8 186.8L260.4 183.9L263.1 181L265.8 178.2L268.4 175.4L271.1 172.7L273.8 170L276.4 167.4L279.1 164.8L281.8 162.3L284.4 159.8L287.1 157.4L289.7 155L292.4 152.6L295.1 150.3L297.7 148L300.4 145.7L303.1 143.4L305.7 141.2L308.4 139L311 136.9L313.7 134.8L316.4 132.7L319 130.7L321.7 128.7L324.4 126.8L327 124.9L329.7 123.1L332.4 121.3L335 119.6L337.7 117.9L340.3 116.3L343 114.7L345.7 113.2L348.3 111.7L351 110.3L353.7 108.9L356.3 107.5L359 106.1L361.6 104.8L364.3 103.5L367 102.3L369.6 101L372.3 99.8L375 98.6L377.6 97.4L380.3 96.3L382.9 95.1L385.6 94L388.3 92.9L390.9 91.8L393.6 90.7L396.3 89.6L399 88.5L401.6 87.5L404.3 86.4L407 85.4L409.7 84.4L412.4 83.4L415.1 82.4L417.7 81.4L420.4 80.4L423.1 79.5L425.8 78.5L428.5 77.6L431.1 76.7L433.8 75.9L436.5 75L439.2 74.2L441.9 73.4L444.6 72.6L447.2 71.9L449.9 71.2L452.6 70.5L455.3 69.7L458 69.1L460.7 68.4L463.3 67.7L466 67L468.7 66.4L471.4 65.8L474.1 65.2L476.7 64.6L479.4 64L482.1 63.4L484.8 62.8L487.5 62.3L490.2 61.8L492.8 61.3L495.5 60.8L498.2 60.3L500.9 59.9L503.6 59.5L506.2 59.1L508.9 58.7L511.6 58.3L514.3 57.9L517 57.5L519.7 57.2L522.3 56.8L525 56.5L527.7 56.1L530.4 55.8L533.1 55.5L535.7 55.2L538.4 54.9L541.1 54.6L543.8 54.3L546.5 54L549.2 53.7L551.8 53.4L554.5 53.1L557.2 52.8L559.9 52.5L562.6 52.2L565.2 52L567.9 51.7L570.6 51.4L573.3 51.1L576 50.9L578.7 50.6L581.3 50.3L584 50.1L586.7 49.8L589.4 49.6L592.1 49.3L594.8 49.1L597.4 48.9L600.1 48.6L602.8 48.4L605.5 48.2L608.2 48L610.8 47.8L613.5 47.6L616.2 47.4L618.9 47.2L621.6 47L624.3 46.8L626.9 46.6L629.6 46.4L632.3 46.2L635 46.1L637.7 45.9L640.3 45.7L643 45.5L645.7 45.4L648.4 45.2L651.1 45.1L653.8 44.9L656.4 44.8L659.1 44.6L661.8 44.5L664.5 44.4L667.1 44.2L669.8 44.1L672.5 44L675.1 43.9L677.8 43.7L680.5 43.6L683.1 43.5L685.8 43.4L688.4 43.3L691.1 43.2L693.8 43.1L696.4 43L699.1 42.9L701.8 42.8L704.4 42.7L707.1 42.6L709.8 42.5L712.4 42.5L715.1 42.4L717.8 42.3L720.4 42.3L723.1 42.2L725.8 42.1L728.4 42.1L731.1 42L733.8 42L736.4 41.9L739.1 41.9L741.8 41.8L744.4 41.8L747.1 41.7L749.7 41.7L752.4 41.6L755.1 41.6L757.7 41.6L760.4 41.5L763.1 41.5L765.7 41.4L768.4 41.4L771.1 41.4L773.7 41.3L776.4 41.3L779.1 41.3L781.7 41.2L784.4 41.2L787.1 41.2L789.7 41.1L792.4 41.1L795 41.1L797.7 41L800.4 41L803 41L805.7 41L808.4 40.9L811 40.9L813.7 40.9L816.4 40.8L819 40.8L821.7 40.8L824.4 40.8L827 40.8L829.7 40.7L832.4 40.7L835 40.7L837.7 40.7L840.4 40.6L843 40.6L845.7 40.6L848.3 40.6L851 40.6L853.7 40.5L856.3 40.5L859 40.5L861.7 40.5L864.3 40.5L867 40.5L869.7 40.4L872.3 40.4L875 40.4L877.7 40.4L880.3 40.4L883 40.3L885.7 40.3L888.3 40.3L891 40.3L893.7 40.3L896.3 40.3L899 40.2L901.6 40.2L904.3 40.2L907 40.2L909.6 40.2L912.3 40.2L915 40.2L917.6 40.1L920.3 40.1L923 40.1L925.6 40.1L928.3 40.1L931 40.1L933.7 40.1L936.3 40.1L939 40.1L941.7 40.1L944.4 40.1L947.1 40.1L949.7 40L952.4 40L955.1 40L957.8 40L960.5 40L963.2 40L965.8 40L968.5 40L971.2 40L973.9 40L976.6 40L979.2 40L981.9 40L984.6 40L987.3 40L990 40L992.6 40L995.3 40L998 40L1000.7 40L1003.4 40L1006 40L1008.7 40L1011.4 40L1014.1 40L1016.8 40L1019.5 40L1022.1 40L1024.8 40L1027.5 40L1030.2 40L1032.9 40L1035.5 40L1038.2 40L1040.9 40L1043.6 40L1046.3 40L1048.9 40L1051.6 40L1054.3 40L1057 40L1059.7 40L1062.3 40L1065 40L1067.7 40L1070.4 40L1073.1 39.9L1075.8 39.9L1078.4 39.9L1081.1 39.9L1083.8 39.9L1086.5 39.9L1089.2 39.9L1091.8 39.9L1094.5 39.9L1097.2 39.9L1099.9 39.9L1102.6 39.9L1105.2 39.9L1107.9 39.9L1110.6 39.9L1113.3 39.9L1116 39.9L1118.7 39.9L1121.3 39.9L1124 39.9L1126.7 39.9L1129.4 39.9L1132.1 39.9L1134.7 39.9L1137.4 39.9L1140.1 39.9L1142.8 39.9L1145.5 39.9L1148.1 39.9L1150.8 39.9L1153.5 39.9L1156.2 39.9L1158.9 39.9L1161.5 39.9L1164.2 39.9L1166.9 39.9L1169.6 39.9L1172.3 39.9L1175 39.9L1177.6 39.9L1180.3 39.9L1183 39.9L1185.7 39.9L1188.4 39.9L1191 39.9L1193.7 39.9L1196.4 39.9L1199.1 39.9L1201.7 39.9L1204.4 39.9L1207.1 39.9L1209.7 39.9L1212.4 39.9L1215 39.9L1217.7 39.9L1220.4 39.9L1223 39.9L1225.7 39.9L1228.4 39.9L1231 39.9L1233.7 39.9L1236.3 39.9L1239 39.9L1241.7 39.9L1244.3 39.9L1247 39.9L1249.7 39.9L1252.3 39.8L1255 39.8L1257.6 39.8L1260.3 39.8L1263 39.8L1265.6 39.8L1268.3 39.8L1271 39.8L1273.6 39.8L1276.3 39.8L1279 39.8L1281.6 39.8L1284.3 39.8L1286.9 39.8L1289.6 39.8L1292.3 39.8L1294.9 39.8L1297.6 39.8L1300.3 39.8L1302.9 39.8L1305.6 39.8L1308.2 39.8L1310.9 39.8L1313.6 39.8L1316.2 39.8L1318.9 39.8L1321.6 39.8L1324.2 39.8L1326.9 39.8L1329.5 39.8L1332.2 39.8L1334.9 39.8L1337.5 39.8L1340.2 39.8L1342.9 39.8L1345.5 39.8L1348.2 39.8L1350.9 39.8L1353.5 39.8L1356.2 39.8L1358.8 39.8L1361.5 39.8L1364.2 39.8L1366.8 39.8L1369.5 39.8L1372.2 39.8L1374.8 39.8L1377.5 39.8L1380.1 39.8L1382.8 39.8L1385.5 39.8L1388.1 39.8L1390.8 39.8L1393.5 39.8L1396.1 39.8L1398.8 39.8L1401.5 39.8L1404.1 39.8L1406.8 39.8L1409.4 39.8L1412.1 39.8L1414.8 39.8L1417.4 39.8L1420.1 39.8L1422.8 39.8L1425.4 39.8L1428.1 39.7L1430.7 39.7L1433.4 39.7L1436.1 39.7L1438.7 39.7L1441.4 39.7L1444.1 39.7L1446.7 39.7L1449.4 39.7L1452 39.7L1454.7 39.7L1457.4 39.7L1460 39.7L1462.7 39.7L1465.3 39.7L1468 39.7L1470.6 39.7L1473.3 39.7L1475.9 39.7L1478.6 39.7L1481.2 39.7L1483.8 39.7L1486.5 39.7L1489.1 39.7L1491.8 39.7L1494.4 39.7L1497.1 39.7L1499.7 39.7L1502.4 39.7L1505 39.7L1507.6 39.7L1510.3 39.7L1512.9 39.7L1515.6 39.7L1518.2 39.7L1520.9 39.7L1523.5 39.7L1526.1 39.7L1528.8 39.7L1531.4 39.7L1534.1 39.7L1536.7 39.7L1539.4 39.7L1542 39.7L1544.6 39.7L1547.3 39.7L1549.9 39.7L1552.6 39.7L1555.2 39.7L1557.9 39.7L1560.5 39.7L1563.1 39.7L1565.8 39.7L1568.4 39.7L1571.1 39.7L1573.7 39.7L1576.4 39.7L1579 39.7L1581.6 39.7L1584.3 39.7L1586.9 39.7L1589.6 39.7L1592.2 39.7L1594.9 39.7L1597.5 39.7L1600.2 39.7L1602.8 39.7L1605.4 39.6L1608.1 39.6L1610.7 39.6L1613.4 39.6L1616 39.6L1618.7 39.6L1621.3 39.6L1624 39.6L1626.7 39.6L1629.4 39.6L1632.1 39.6L1634.8 39.6L1637.5 39.6L1640.2 39.6L1642.9 39.6L1645.6 39.6L1648.3 39.6L1651 39.6L1653.7 39.6L1656.4 39.6L1659.1 39.6L1661.8 39.6L1664.5 39.6L1667.2 39.6L1669.9 39.6L1672.6 39.6L1675.3 39.6L1678 39.6L1680.7 39.6L1683.4 39.6L1686.1 39.6L1688.8 39.6L1691.5 39.6L1694.2 39.6L1696.9 39.6L1699.6 39.6L1702.3 39.6L1705 39.6L1707.7 39.6L1710.4 39.6L1713.1 39.6L1715.8 39.6L1718.5 39.6L1721.2 39.6L1723.9 39.6L1726.6 39.6L1729.3 39.6" fill="none" stroke="#E3261F" stroke-width="3.5" stroke-linejoin="round"/>
<polygon points="135.4,409.2 121.5,418.3 121.5,400.1" fill="#fff" stroke="#E3261F" stroke-width="3.4" stroke-linejoin="miter" stroke-miterlimit="10"/>
<polygon points="188.6,298.6 174.8,307.7 174.8,289.5" fill="#fff" stroke="#E3261F" stroke-width="3.4" stroke-linejoin="miter" stroke-miterlimit="10"/>
<polygon points="241.9,214.9 228,224 228,205.8" fill="#fff" stroke="#E3261F" stroke-width="3.4" stroke-linejoin="miter" stroke-miterlimit="10"/>
<polygon points="295.1,156.8 281.3,165.9 281.3,147.7" fill="#fff" stroke="#E3261F" stroke-width="3.4" stroke-linejoin="miter" stroke-miterlimit="10"/>
<polygon points="348.4,115.7 334.5,124.8 334.5,106.6" fill="#fff" stroke="#E3261F" stroke-width="3.4" stroke-linejoin="miter" stroke-miterlimit="10"/>
<polygon points="401.7,90.1 387.8,99.2 387.8,81" fill="#fff" stroke="#E3261F" stroke-width="3.4" stroke-linejoin="miter" stroke-miterlimit="10"/>
<polygon points="455.3,71.3 441.4,80.4 441.4,62.2" fill="#fff" stroke="#E3261F" stroke-width="3.4" stroke-linejoin="miter" stroke-miterlimit="10"/>
<polygon points="508.9,59.3 495.1,68.4 495.1,50.2" fill="#fff" stroke="#E3261F" stroke-width="3.4" stroke-linejoin="miter" stroke-miterlimit="10"/>
<polygon points="562.6,52.5 548.7,61.6 548.7,43.4" fill="#fff" stroke="#E3261F" stroke-width="3.4" stroke-linejoin="miter" stroke-miterlimit="10"/>
<polygon points="616.2,47.4 602.4,56.5 602.4,38.3" fill="#fff" stroke="#E3261F" stroke-width="3.4" stroke-linejoin="miter" stroke-miterlimit="10"/>
<polygon points="669.9,43.9 656,53 656,34.8" fill="#fff" stroke="#E3261F" stroke-width="3.4" stroke-linejoin="miter" stroke-miterlimit="10"/>
<polygon points="723.2,41.8 709.3,50.9 709.3,32.7" fill="#fff" stroke="#E3261F" stroke-width="3.4" stroke-linejoin="miter" stroke-miterlimit="10"/>
<polygon points="776.5,40.8 762.6,49.9 762.6,31.7" fill="#fff" stroke="#E3261F" stroke-width="3.4" stroke-linejoin="miter" stroke-miterlimit="10"/>
<polygon points="829.8,40.2 815.9,49.3 815.9,31.1" fill="#fff" stroke="#E3261F" stroke-width="3.4" stroke-linejoin="miter" stroke-miterlimit="10"/>
<polygon points="883.1,39.8 869.2,48.9 869.2,30.7" fill="#fff" stroke="#E3261F" stroke-width="3.4" stroke-linejoin="miter" stroke-miterlimit="10"/>
<polygon points="936.4,39.5 922.5,48.6 922.5,30.4" fill="#fff" stroke="#E3261F" stroke-width="3.4" stroke-linejoin="miter" stroke-miterlimit="10"/>
<polygon points="990,39.4 976.1,48.5 976.1,30.3" fill="#fff" stroke="#E3261F" stroke-width="3.4" stroke-linejoin="miter" stroke-miterlimit="10"/>
<polygon points="1043.6,39.4 1029.7,48.5 1029.7,30.2" fill="#fff" stroke="#E3261F" stroke-width="3.4" stroke-linejoin="miter" stroke-miterlimit="10"/>
<polygon points="1097.2,39.3 1083.3,48.5 1083.3,30.2" fill="#fff" stroke="#E3261F" stroke-width="3.4" stroke-linejoin="miter" stroke-miterlimit="10"/>
<polygon points="1150.8,39.3 1137,48.4 1137,30.2" fill="#fff" stroke="#E3261F" stroke-width="3.4" stroke-linejoin="miter" stroke-miterlimit="10"/>
<polygon points="1204.5,39.3 1190.6,48.4 1190.6,30.2" fill="#fff" stroke="#E3261F" stroke-width="3.4" stroke-linejoin="miter" stroke-miterlimit="10"/>
<polygon points="1257.7,39.2 1243.8,48.4 1243.8,30.1" fill="#fff" stroke="#E3261F" stroke-width="3.4" stroke-linejoin="miter" stroke-miterlimit="10"/>
<polygon points="1311,39.2 1297.1,48.3 1297.1,30.1" fill="#fff" stroke="#E3261F" stroke-width="3.4" stroke-linejoin="miter" stroke-miterlimit="10"/>
<polygon points="1364.2,39.2 1350.4,48.3 1350.4,30.1" fill="#fff" stroke="#E3261F" stroke-width="3.4" stroke-linejoin="miter" stroke-miterlimit="10"/>
<polygon points="1417.5,39.2 1403.6,48.3 1403.6,30" fill="#fff" stroke="#E3261F" stroke-width="3.4" stroke-linejoin="miter" stroke-miterlimit="10"/>
<polygon points="1470.8,39.1 1456.9,48.2 1456.9,30" fill="#fff" stroke="#E3261F" stroke-width="3.4" stroke-linejoin="miter" stroke-miterlimit="10"/>
<polygon points="1523.6,39.1 1509.8,48.2 1509.8,30" fill="#fff" stroke="#E3261F" stroke-width="3.4" stroke-linejoin="miter" stroke-miterlimit="10"/>
<polygon points="1576.5,39.1 1562.6,48.2 1562.6,30" fill="#fff" stroke="#E3261F" stroke-width="3.4" stroke-linejoin="miter" stroke-miterlimit="10"/>
<polygon points="1629.4,39 1615.5,48.2 1615.5,29.9" fill="#fff" stroke="#E3261F" stroke-width="3.4" stroke-linejoin="miter" stroke-miterlimit="10"/>
<polygon points="1683.4,39 1669.5,48.1 1669.5,29.9" fill="#fff" stroke="#E3261F" stroke-width="3.4" stroke-linejoin="miter" stroke-miterlimit="10"/>
<polygon points="1737.4,39 1723.5,48.1 1723.5,29.9" fill="#fff" stroke="#E3261F" stroke-width="3.4" stroke-linejoin="miter" stroke-miterlimit="10"/>
<path d="M127 409.2L129.7 403L132.3 396.9L135 390.9L137.7 384.9L140.3 378.9L143 373.1L145.6 367.3L148.3 361.6L151 355.9L153.6 350.3L156.3 344.8L159 339.3L161.6 334L164.3 328.7L166.9 323.5L169.6 318.3L172.3 313.3L174.9 308.3L177.6 303.4L180.3 298.6L182.9 293.9L185.6 289.2L188.2 284.5L190.9 279.9L193.6 275.3L196.2 270.8L198.9 266.4L201.6 262L204.2 257.7L206.9 253.4L209.6 249.2L212.2 245.1L214.9 241L217.5 237.1L220.2 233.2L222.9 229.3L225.5 225.6L228.2 221.9L230.9 218.4L233.5 214.9L236.2 211.5L238.8 208.2L241.5 204.9L244.2 201.6L246.8 198.4L249.5 195.3L252.2 192.2L254.8 189.2L257.5 186.2L260.1 183.3L262.8 180.4L265.5 177.6L268.1 174.8L270.8 172.1L273.5 169.4L276.1 166.8L278.8 164.2L281.5 161.7L284.1 159.2L286.8 156.8L289.4 154.4L292.1 152L294.8 149.7L297.4 147.4L300.1 145.1L302.8 142.8L305.4 140.6L308.1 138.4L310.7 136.3L313.4 134.2L316.1 132.1L318.7 130.1L321.4 128.1L324.1 126.2L326.7 124.3L329.4 122.5L332.1 120.7L334.7 119L337.4 117.3L340 115.7L342.7 114.1L345.4 112.6L348 111.1L350.7 109.7L353.4 108.3L356 106.9L358.7 105.5L361.3 104.2L364 102.9L366.7 101.7L369.3 100.4L372 99.2L374.7 98L377.3 96.8L380 95.7L382.6 94.5L385.3 93.4L388 92.3L390.6 91.2L393.3 90.1L396 89L398.7 87.9L401.3 86.9L404 85.8L406.7 84.8L409.4 83.8L412.1 82.8L414.8 81.8L417.4 80.8L420.1 79.8L422.8 78.9L425.5 77.9L428.2 77L430.8 76.1L433.5 75.3L436.2 74.4L438.9 73.6L441.6 72.8L444.3 72L446.9 71.3L449.6 70.6L452.3 69.9L455 69.1L457.7 68.5L460.4 67.8L463 67.1L465.7 66.4L468.4 65.8L471.1 65.2L473.8 64.6L476.4 64L479.1 63.4L481.8 62.8L484.5 62.2L487.2 61.7L489.9 61.2L492.5 60.7L495.2 60.2L497.9 59.7L500.6 59.3L503.3 58.9L505.9 58.5L508.6 58.1L511.3 57.7L514 57.3L516.7 56.9L519.4 56.6L522 56.2L524.7 55.9L527.4 55.5L530.1 55.2L532.8 54.9L535.4 54.6L538.1 54.3L540.8 54L543.5 53.7L546.2 53.4L548.9 53.1L551.5 52.8L554.2 52.5L556.9 52.2L559.6 51.9L562.3 51.6L564.9 51.4L567.6 51.1L570.3 50.8L573 50.5L575.7 50.3L578.4 50L581 49.7L583.7 49.5L586.4 49.2L589.1 49L591.8 48.7L594.5 48.5L597.1 48.3L599.8 48L602.5 47.8L605.2 47.6L607.9 47.4L610.5 47.2L613.2 47L615.9 46.8L618.6 46.6L621.3 46.4L624 46.2L626.6 46L629.3 45.8L632 45.6L634.7 45.5L637.4 45.3L640 45.1L642.7 44.9L645.4 44.8L648.1 44.6L650.8 44.5L653.5 44.3L656.1 44.2L658.8 44L661.5 43.9L664.2 43.8L666.8 43.6L669.5 43.5L672.2 43.4L674.8 43.3L677.5 43.1L680.2 43L682.8 42.9L685.5 42.8L688.1 42.7L690.8 42.6L693.5 42.5L696.1 42.4L698.8 42.3L701.5 42.2L704.1 42.1L706.8 42L709.5 41.9L712.1 41.9L714.8 41.8L717.5 41.7L720.1 41.7L722.8 41.6L725.5 41.5L728.1 41.5L730.8 41.4L733.5 41.4L736.1 41.3L738.8 41.3L741.5 41.2L744.1 41.2L746.8 41.1L749.4 41.1L752.1 41L754.8 41L757.4 41L760.1 40.9L762.8 40.9L765.4 40.8L768.1 40.8L770.8 40.8L773.4 40.7L776.1 40.7L778.8 40.7L781.4 40.6L784.1 40.6L786.8 40.6L789.4 40.5L792.1 40.5L794.8 40.5L797.4 40.4L800.1 40.4L802.7 40.4L805.4 40.4L808.1 40.3L810.7 40.3L813.4 40.3L816.1 40.2L818.7 40.2L821.4 40.2L824.1 40.2L826.7 40.2L829.4 40.1L832.1 40.1L834.7 40.1L837.4 40.1L840.1 40L842.7 40L845.4 40L848 40L850.7 40L853.4 39.9L856 39.9L858.7 39.9L861.4 39.9L864 39.9L866.7 39.9L869.4 39.8L872 39.8L874.7 39.8L877.4 39.8L880 39.8L882.7 39.7L885.4 39.7L888 39.7L890.7 39.7L893.4 39.7L896 39.7L898.7 39.6L901.4 39.6L904 39.6L906.7 39.6L909.3 39.6L912 39.6L914.7 39.6L917.3 39.5L920 39.5L922.7 39.5L925.3 39.5L928 39.5L930.7 39.5L933.4 39.5L936 39.5L938.7 39.5L941.4 39.5L944.1 39.5L946.8 39.5L949.4 39.4L952.1 39.4L954.8 39.4L957.5 39.4L960.2 39.4L962.9 39.4L965.5 39.4L968.2 39.4L970.9 39.4L973.6 39.4L976.3 39.4L978.9 39.4L981.6 39.4L984.3 39.4L987 39.4L989.7 39.4L992.3 39.4L995 39.4L997.7 39.4L1000.4 39.4L1003.1 39.4L1005.7 39.4L1008.4 39.4L1011.1 39.4L1013.8 39.4L1016.5 39.4L1019.2 39.4L1021.8 39.4L1024.5 39.4L1027.2 39.4L1029.9 39.4L1032.6 39.4L1035.2 39.4L1037.9 39.4L1040.6 39.4L1043.3 39.4L1046 39.4L1048.6 39.4L1051.3 39.4L1054 39.4L1056.7 39.4L1059.4 39.4L1062 39.4L1064.7 39.4L1067.4 39.4L1070.1 39.4L1072.8 39.3L1075.5 39.3L1078.1 39.3L1080.8 39.3L1083.5 39.3L1086.2 39.3L1088.9 39.3L1091.5 39.3L1094.2 39.3L1096.9 39.3L1099.6 39.3L1102.3 39.3L1104.9 39.3L1107.6 39.3L1110.3 39.3L1113 39.3L1115.7 39.3L1118.4 39.3L1121 39.3L1123.7 39.3L1126.4 39.3L1129.1 39.3L1131.8 39.3L1134.4 39.3L1137.1 39.3L1139.8 39.3L1142.5 39.3L1145.2 39.3L1147.8 39.3L1150.5 39.3L1153.2 39.3L1155.9 39.3L1158.6 39.3L1161.2 39.3L1163.9 39.3L1166.6 39.3L1169.3 39.3L1172 39.3L1174.7 39.3L1177.3 39.3L1180 39.3L1182.7 39.3L1185.4 39.3L1188.1 39.3L1190.7 39.3L1193.4 39.3L1196.1 39.3L1198.8 39.3L1201.4 39.3L1204.1 39.3L1206.8 39.3L1209.4 39.3L1212.1 39.3L1214.7 39.3L1217.4 39.3L1220.1 39.3L1222.7 39.3L1225.4 39.3L1228.1 39.3L1230.7 39.3L1233.4 39.3L1236 39.3L1238.7 39.3L1241.4 39.3L1244 39.3L1246.7 39.3L1249.4 39.2L1252 39.2L1254.7 39.2L1257.3 39.2L1260 39.2L1262.7 39.2L1265.3 39.2L1268 39.2L1270.7 39.2L1273.3 39.2L1276 39.2L1278.7 39.2L1281.3 39.2L1284 39.2L1286.6 39.2L1289.3 39.2L1292 39.2L1294.6 39.2L1297.3 39.2L1300 39.2L1302.6 39.2L1305.3 39.2L1307.9 39.2L1310.6 39.2L1313.3 39.2L1315.9 39.2L1318.6 39.2L1321.3 39.2L1323.9 39.2L1326.6 39.2L1329.2 39.2L1331.9 39.2L1334.6 39.2L1337.2 39.2L1339.9 39.2L1342.6 39.2L1345.2 39.2L1347.9 39.2L1350.6 39.2L1353.2 39.2L1355.9 39.2L1358.5 39.2L1361.2 39.2L1363.9 39.2L1366.5 39.2L1369.2 39.2L1371.9 39.2L1374.5 39.2L1377.2 39.2L1379.8 39.2L1382.5 39.2L1385.2 39.2L1387.8 39.2L1390.5 39.2L1393.2 39.2L1395.8 39.2L1398.5 39.2L1401.2 39.2L1403.8 39.2L1406.5 39.2L1409.1 39.2L1411.8 39.2L1414.5 39.2L1417.1 39.2L1419.8 39.2L1422.5 39.2L1425.1 39.2L1427.8 39.1L1430.4 39.1L1433.1 39.1L1435.8 39.1L1438.4 39.1L1441.1 39.1L1443.8 39.1L1446.4 39.1L1449.1 39.1L1451.7 39.1L1454.4 39.1L1457.1 39.1L1459.7 39.1L1462.4 39.1L1465 39.1L1467.7 39.1L1470.3 39.1L1473 39.1L1475.6 39.1L1478.3 39.1L1480.9 39.1L1483.5 39.1L1486.2 39.1L1488.8 39.1L1491.5 39.1L1494.1 39.1L1496.8 39.1L1499.4 39.1L1502.1 39.1L1504.7 39.1L1507.3 39.1L1510 39.1L1512.6 39.1L1515.3 39.1L1517.9 39.1L1520.6 39.1L1523.2 39.1L1525.8 39.1L1528.5 39.1L1531.1 39.1L1533.8 39.1L1536.4 39.1L1539.1 39.1L1541.7 39.1L1544.3 39.1L1547 39.1L1549.6 39.1L1552.3 39.1L1554.9 39.1L1557.6 39.1L1560.2 39.1L1562.8 39.1L1565.5 39.1L1568.1 39.1L1570.8 39.1L1573.4 39.1L1576.1 39.1L1578.7 39.1L1581.3 39.1L1584 39.1L1586.6 39.1L1589.3 39.1L1591.9 39.1L1594.6 39.1L1597.2 39.1L1599.9 39.1L1602.5 39.1L1605.1 39L1607.8 39L1610.4 39L1613.1 39L1615.7 39L1618.4 39L1621 39L1623.7 39L1626.4 39L1629.1 39L1631.8 39L1634.5 39L1637.2 39L1639.9 39L1642.6 39L1645.3 39L1648 39L1650.7 39L1653.4 39L1656.1 39L1658.8 39L1661.5 39L1664.2 39L1666.9 39L1669.6 39L1672.3 39L1675 39L1677.7 39L1680.4 39L1683.1 39L1685.8 39L1688.5 39L1691.2 39L1693.9 39L1696.6 39L1699.3 39L1702 39L1704.7 39L1707.4 39L1710.1 39L1712.8 39L1715.5 39L1718.2 39L1720.9 39L1723.6 39L1726.3 39L1729 39" fill="none" stroke="#000000" stroke-width="3.5" stroke-linejoin="round"/>
<polygon points="118.5,409.2 132.7,399.9 132.7,418.5" fill="#fff" stroke="#000000" stroke-width="3.9" stroke-linejoin="miter" stroke-miterlimit="10"/>
<polygon points="171.7,298.6 186,289.3 186,307.9" fill="#fff" stroke="#000000" stroke-width="3.9" stroke-linejoin="miter" stroke-miterlimit="10"/>
<polygon points="225,214.9 239.2,205.6 239.2,224.2" fill="#fff" stroke="#000000" stroke-width="3.9" stroke-linejoin="miter" stroke-miterlimit="10"/>
<polygon points="278.2,156.8 292.5,147.5 292.5,166.1" fill="#fff" stroke="#000000" stroke-width="3.9" stroke-linejoin="miter" stroke-miterlimit="10"/>
<polygon points="331.5,115.7 345.7,106.4 345.7,125" fill="#fff" stroke="#000000" stroke-width="3.9" stroke-linejoin="miter" stroke-miterlimit="10"/>
<polygon points="384.8,90.1 399,80.8 399,99.4" fill="#fff" stroke="#000000" stroke-width="3.9" stroke-linejoin="miter" stroke-miterlimit="10"/>
<polygon points="438.4,71.3 452.6,62 452.6,80.6" fill="#fff" stroke="#000000" stroke-width="3.9" stroke-linejoin="miter" stroke-miterlimit="10"/>
<polygon points="492,59.3 506.3,50 506.3,68.6" fill="#fff" stroke="#000000" stroke-width="3.9" stroke-linejoin="miter" stroke-miterlimit="10"/>
<polygon points="545.7,52.5 559.9,43.2 559.9,61.8" fill="#fff" stroke="#000000" stroke-width="3.9" stroke-linejoin="miter" stroke-miterlimit="10"/>
<polygon points="599.3,47.4 613.6,38.1 613.6,56.7" fill="#fff" stroke="#000000" stroke-width="3.9" stroke-linejoin="miter" stroke-miterlimit="10"/>
<polygon points="653,43.9 667.2,34.6 667.2,53.2" fill="#fff" stroke="#000000" stroke-width="3.9" stroke-linejoin="miter" stroke-miterlimit="10"/>
<polygon points="706.2,41.8 720.5,32.5 720.5,51.1" fill="#fff" stroke="#000000" stroke-width="3.9" stroke-linejoin="miter" stroke-miterlimit="10"/>
<polygon points="759.6,40.8 773.8,31.5 773.8,50.1" fill="#fff" stroke="#000000" stroke-width="3.9" stroke-linejoin="miter" stroke-miterlimit="10"/>
<polygon points="812.9,40.2 827.1,30.9 827.1,49.5" fill="#fff" stroke="#000000" stroke-width="3.9" stroke-linejoin="miter" stroke-miterlimit="10"/>
<polygon points="866.2,39.8 880.4,30.5 880.4,49.1" fill="#fff" stroke="#000000" stroke-width="3.9" stroke-linejoin="miter" stroke-miterlimit="10"/>
<polygon points="919.5,39.5 933.7,30.2 933.7,48.8" fill="#fff" stroke="#000000" stroke-width="3.9" stroke-linejoin="miter" stroke-miterlimit="10"/>
<polygon points="973.1,39.4 987.3,30.1 987.3,48.7" fill="#fff" stroke="#000000" stroke-width="3.9" stroke-linejoin="miter" stroke-miterlimit="10"/>
<polygon points="1026.7,39.4 1040.9,30.1 1040.9,48.7" fill="#fff" stroke="#000000" stroke-width="3.9" stroke-linejoin="miter" stroke-miterlimit="10"/>
<polygon points="1080.3,39.3 1094.6,30 1094.6,48.6" fill="#fff" stroke="#000000" stroke-width="3.9" stroke-linejoin="miter" stroke-miterlimit="10"/>
<polygon points="1133.9,39.3 1148.2,30 1148.2,48.6" fill="#fff" stroke="#000000" stroke-width="3.9" stroke-linejoin="miter" stroke-miterlimit="10"/>
<polygon points="1187.5,39.3 1201.8,30 1201.8,48.6" fill="#fff" stroke="#000000" stroke-width="3.9" stroke-linejoin="miter" stroke-miterlimit="10"/>
<polygon points="1240.8,39.2 1255.1,29.9 1255.1,48.6" fill="#fff" stroke="#000000" stroke-width="3.9" stroke-linejoin="miter" stroke-miterlimit="10"/>
<polygon points="1294.1,39.2 1308.3,29.9 1308.3,48.5" fill="#fff" stroke="#000000" stroke-width="3.9" stroke-linejoin="miter" stroke-miterlimit="10"/>
<polygon points="1347.3,39.2 1361.6,29.9 1361.6,48.5" fill="#fff" stroke="#000000" stroke-width="3.9" stroke-linejoin="miter" stroke-miterlimit="10"/>
<polygon points="1400.6,39.2 1414.8,29.8 1414.8,48.5" fill="#fff" stroke="#000000" stroke-width="3.9" stroke-linejoin="miter" stroke-miterlimit="10"/>
<polygon points="1453.9,39.1 1468.1,29.8 1468.1,48.4" fill="#fff" stroke="#000000" stroke-width="3.9" stroke-linejoin="miter" stroke-miterlimit="10"/>
<polygon points="1506.7,39.1 1521,29.8 1521,48.4" fill="#fff" stroke="#000000" stroke-width="3.9" stroke-linejoin="miter" stroke-miterlimit="10"/>
<polygon points="1559.6,39.1 1573.8,29.8 1573.8,48.4" fill="#fff" stroke="#000000" stroke-width="3.9" stroke-linejoin="miter" stroke-miterlimit="10"/>
<polygon points="1612.5,39 1626.7,29.7 1626.7,48.4" fill="#fff" stroke="#000000" stroke-width="3.9" stroke-linejoin="miter" stroke-miterlimit="10"/>
<polygon points="1666.5,39 1680.7,29.7 1680.7,48.3" fill="#fff" stroke="#000000" stroke-width="3.9" stroke-linejoin="miter" stroke-miterlimit="10"/>
<polygon points="1720.5,39 1734.7,29.7 1734.7,48.3" fill="#fff" stroke="#000000" stroke-width="3.9" stroke-linejoin="miter" stroke-miterlimit="10"/>
<rect x="1178" y="23.2" width="551.5" height="45.3" fill="none" stroke="#000" stroke-width="5.4"/>
<line x1="661" y1="102.7" x2="757" y2="102.7" stroke="#9A9AF6" stroke-width="3.5"/>
<circle cx="707.7" cy="102.7" r="8.6" fill="#9A9AF6"/>
<text x="761.6" y="116.7" font-size="34" text-anchor="start" fill="#000">0 %</text>
<line x1="661" y1="149.2" x2="757" y2="149.2" stroke="#4DBBEB" stroke-width="3.5"/>
<circle cx="707.7" cy="149.2" r="7.4" fill="#fff" stroke="#4DBBEB" stroke-width="3.6"/>
<text x="761.6" y="163.2" font-size="34" text-anchor="start" fill="#000">2 %</text>
<line x1="661" y1="195.6" x2="757" y2="195.6" stroke="#1E3C96" stroke-width="3.5"/>
<rect x="702.9" y="190.8" width="9.6" height="9.6" fill="#fff" stroke="#1E3C96" stroke-width="5.4"/>
<text x="761.6" y="209.6" font-size="34" text-anchor="start" fill="#000">4 %</text>
<line x1="661" y1="242.1" x2="757" y2="242.1" stroke="#F0963A" stroke-width="3.5"/>
<polygon points="707.7,230.1 717.7,247.4 697.7,247.4" fill="#fff" stroke="#F0963A" stroke-width="3.6" stroke-linejoin="miter" stroke-miterlimit="10"/>
<text x="761.6" y="256.1" font-size="34" text-anchor="start" fill="#000">6 %</text>
<line x1="661" y1="288.5" x2="757" y2="288.5" stroke="#E3261F" stroke-width="3.5"/>
<polygon points="716.5,288.5 701.9,298.1 701.9,278.9" fill="#fff" stroke="#E3261F" stroke-width="3.6" stroke-linejoin="miter" stroke-miterlimit="10"/>
<text x="761.6" y="302.5" font-size="34" text-anchor="start" fill="#000">8 %</text>
<line x1="661" y1="335" x2="757" y2="335" stroke="#000000" stroke-width="3.5"/>
<polygon points="698.7,335 713.7,325.2 713.7,344.8" fill="#fff" stroke="#000000" stroke-width="4.1" stroke-linejoin="miter" stroke-miterlimit="10"/>
<text x="761.6" y="349" font-size="34" text-anchor="start" fill="#000">10 %</text>
<rect x="1136.7" y="98.5" width="503.5" height="227.5" fill="#fff" stroke="none"/>
<clipPath id="clipA"><rect x="1136.7" y="98.5" width="503.5" height="227.5"/></clipPath>
<path d="M1133 222.6L1137 221.7L1141 221.6L1145 221.2L1149 221.8L1153 220.5L1157 221.8L1161 220.8L1165 221.1L1169 220.7L1173 221.2L1177 219.8L1181 220.3L1185 220.2L1189 220.6L1193 219.6L1197 219.8L1201 219.5L1205 219.6L1209 219.7L1213 219L1217 219.6L1221 219.4L1225 219.1L1229 219.2L1233 218.5L1237 218.5L1241 218.1L1245 218.2L1249 218.4L1253 217.8L1257 217.8L1261 217.5L1265 217.4L1269 217.3L1273 217.4L1277 216.9L1281 217.2L1285 217.6L1289 217.1L1293 216.7L1297 216.3L1301 216.2L1305 217.1L1309 216.5L1313 216.3L1317 216.5L1321 217.2L1325 216.5L1329 216.7L1333 216.6L1337 216.3L1341 216L1345 216.3L1349 216.4L1353 216.6L1357 216.7L1361 216.7L1365 216.5L1369 216.7L1373 216.1L1377 216.8L1381 216.6L1385 216.3L1389 216.5L1393 216.3L1397 216.8L1401 216.9L1405 217.1L1409 215.9L1413 215.8L1417 216.2L1421 216.4L1425 216.6L1429 216.4L1433 215.6L1437 216.2L1441 216.6L1445 216.4L1449 216.6L1453 216.2L1457 216.2L1461 216.3L1465 216.4L1469 216.3L1473 216.3L1477 216L1481 216.4L1485 216.3L1489 216.6L1493 216.6L1497 216.3L1501 216.1L1505 216L1509 216.3L1513 216.2L1517 216.1L1521 216.2L1525 216L1529 216.4L1533 216L1537 216.6L1541 216.3L1545 216.4L1549 215.8L1553 216.2L1557 216.4L1561 215.8L1565 216L1569 216.1L1573 215.6L1577 216.2L1581 216.4L1585 215.8L1589 216.2L1593 215.6L1597 216.1L1601 215.5L1605 216.5L1609 216.2L1613 216L1617 215.8L1621 216.5L1625 216.7L1629 215.4L1633 216.5L1637 216.6L1641 216.1L1645 215.6L1649 216.3" fill="none" stroke="#9A9AF6" stroke-width="3.0" stroke-linejoin="round" clip-path="url(#clipA)"/>
<circle cx="1147.4" cy="218.6" r="7.4" fill="#9A9AF6"/>
<circle cx="1196.7" cy="216.8" r="7.4" fill="#9A9AF6"/>
<circle cx="1245.9" cy="215.3" r="7.4" fill="#9A9AF6"/>
<circle cx="1295.2" cy="213.5" r="7.4" fill="#9A9AF6"/>
<circle cx="1344.4" cy="213.3" r="7.4" fill="#9A9AF6"/>
<circle cx="1393.7" cy="213.4" r="7.4" fill="#9A9AF6"/>
<circle cx="1443" cy="213.5" r="7.4" fill="#9A9AF6"/>
<circle cx="1492.2" cy="213.6" r="7.4" fill="#9A9AF6"/>
<circle cx="1541.5" cy="213.3" r="7.4" fill="#9A9AF6"/>
<circle cx="1590.7" cy="213" r="7.4" fill="#9A9AF6"/>
<circle cx="1640" cy="213.2" r="7.4" fill="#9A9AF6"/>
<path d="M1133 217.8L1137 218.1L1141 217.2L1145 219L1149 217.6L1153 218.1L1157 218.8L1161 218.1L1165 218.3L1169 218.5L1173 219.2L1177 220.1L1181 219.2L1185 218.7L1189 219.6L1193 219.2L1197 219.5L1201 220.2L1205 219.4L1209 219.8L1213 219.5L1217 219.9L1221 220.2L1225 219.8L1229 220.1L1233 220.3L1237 220.2L1241 220.1L1245 220L1249 220.7L1253 220.8L1257 222L1261 220L1265 221.2L1269 221.4L1273 222L1277 221.7L1281 221.2L1285 221.6L1289 222L1293 221.7L1297 222.3L1301 221.2L1305 222.8L1309 222.7L1313 221.9L1317 222.3L1321 222.1L1325 221.7L1329 222.1L1333 222.5L1337 221.9L1341 221.9L1345 222.1L1349 222.3L1353 222.7L1357 221.9L1361 222.4L1365 222.3L1369 221.4L1373 222L1377 222.2L1381 222.2L1385 222.4L1389 221.3L1393 222.3L1397 222L1401 221.6L1405 222.5L1409 222.6L1413 222L1417 222.7L1421 222.2L1425 222.4L1429 221.9L1433 223.1L1437 221.2L1441 222.4L1445 222.7L1449 221.5L1453 222.4L1457 222.4L1461 222.8L1465 223L1469 222.3L1473 221.9L1477 223.1L1481 223.1L1485 222.3L1489 222.7L1493 222.7L1497 222.8L1501 222.7L1505 223.2L1509 221.8L1513 223.1L1517 222.8L1521 222.5L1525 223.2L1529 221.6L1533 223.2L1537 222.9L1541 222.2L1545 222.9L1549 222.6L1553 223.9L1557 223.6L1561 222.9L1565 222.4L1569 222.5L1573 222.6L1577 222.5L1581 222.4L1585 222.5L1589 222.7L1593 222.6L1597 222.5L1601 222.4L1605 224L1609 222.2L1613 222.4L1617 223.1L1621 222.8L1625 223.1L1629 223.3L1633 223.5L1637 223.3L1641 222.5L1645 223.5L1649 222.2" fill="none" stroke="#4DBBEB" stroke-width="3.0" stroke-linejoin="round" clip-path="url(#clipA)"/>
<circle cx="1147.4" cy="215.2" r="6.4" fill="#fff" stroke="#4DBBEB" stroke-width="3.1"/>
<circle cx="1196.7" cy="216.5" r="6.4" fill="#fff" stroke="#4DBBEB" stroke-width="3.1"/>
<circle cx="1245.9" cy="217.2" r="6.4" fill="#fff" stroke="#4DBBEB" stroke-width="3.1"/>
<circle cx="1295.2" cy="219" r="6.4" fill="#fff" stroke="#4DBBEB" stroke-width="3.1"/>
<circle cx="1344.4" cy="219.1" r="6.4" fill="#fff" stroke="#4DBBEB" stroke-width="3.1"/>
<circle cx="1393.7" cy="219.2" r="6.4" fill="#fff" stroke="#4DBBEB" stroke-width="3.1"/>
<circle cx="1443" cy="219.5" r="6.4" fill="#fff" stroke="#4DBBEB" stroke-width="3.1"/>
<circle cx="1492.2" cy="219.7" r="6.4" fill="#fff" stroke="#4DBBEB" stroke-width="3.1"/>
<circle cx="1541.5" cy="219.3" r="6.4" fill="#fff" stroke="#4DBBEB" stroke-width="3.1"/>
<circle cx="1590.7" cy="219.7" r="6.4" fill="#fff" stroke="#4DBBEB" stroke-width="3.1"/>
<circle cx="1640" cy="219.7" r="6.4" fill="#fff" stroke="#4DBBEB" stroke-width="3.1"/>
<path d="M1133 213.9L1137 213.3L1141 213.1L1145 212.2L1149 213L1153 213L1157 213.2L1161 212.9L1165 213.3L1169 213.1L1173 212.7L1177 213.8L1181 213.9L1185 214.3L1189 213.5L1193 213.3L1197 213.3L1201 212.8L1205 214.1L1209 213.1L1213 213.1L1217 213.6L1221 214.5L1225 213.9L1229 213.3L1233 213.5L1237 214.2L1241 213.8L1245 213.6L1249 213.9L1253 214.8L1257 216L1261 214.9L1265 215.8L1269 216.3L1273 216L1277 217.3L1281 217.8L1285 219.5L1289 219.4L1293 219.2L1297 220.9L1301 221.1L1305 221.8L1309 223.6L1313 224.9L1317 226.1L1321 227.8L1325 228L1329 230.3L1333 232.2L1337 233.5L1341 234.5L1345 234.5L1349 234.6L1353 233.2L1357 234.1L1361 232.7L1365 233.3L1369 232.6L1373 234L1377 234.1L1381 233.2L1385 234.1L1389 232.8L1393 233.2L1397 233.1L1401 232.2L1405 231.7L1409 231.3L1413 228.6L1417 228.3L1421 226.6L1425 226.4L1429 224.5L1433 224.9L1437 225.7L1441 226.3L1445 226.3L1449 228.5L1453 227.9L1457 229.5L1461 230.3L1465 229.7L1469 230.2L1473 230.8L1477 230.3L1481 229.9L1485 228.9L1489 230L1493 230.2L1497 230.3L1501 230.2L1505 230.9L1509 230.5L1513 230.8L1517 231.2L1521 230.5L1525 230.9L1529 232.2L1533 231.6L1537 230.6L1541 231.2L1545 231.6L1549 232L1553 231.5L1557 231.3L1561 231.2L1565 232L1569 231.9L1573 231.5L1577 231.8L1581 231.7L1585 232.3L1589 231.7L1593 232.3L1597 232.6L1601 232.5L1605 231.9L1609 233L1613 232.1L1617 232.7L1621 232.2L1625 231.7L1629 232.8L1633 232.9L1637 232.8L1641 233L1645 232.6L1649 232.6" fill="none" stroke="#1E3C96" stroke-width="3.0" stroke-linejoin="round" clip-path="url(#clipA)"/>
<rect x="1143.3" y="205.5" width="8.3" height="8.3" fill="#fff" stroke="#1E3C96" stroke-width="4.6"/>
<rect x="1192.5" y="206.1" width="8.3" height="8.3" fill="#fff" stroke="#1E3C96" stroke-width="4.6"/>
<rect x="1241.8" y="206.5" width="8.3" height="8.3" fill="#fff" stroke="#1E3C96" stroke-width="4.6"/>
<rect x="1291.1" y="213" width="8.3" height="8.3" fill="#fff" stroke="#1E3C96" stroke-width="4.6"/>
<rect x="1340.3" y="227.4" width="8.3" height="8.3" fill="#fff" stroke="#1E3C96" stroke-width="4.6"/>
<rect x="1389.6" y="226.1" width="8.3" height="8.3" fill="#fff" stroke="#1E3C96" stroke-width="4.6"/>
<rect x="1438.8" y="219.2" width="8.3" height="8.3" fill="#fff" stroke="#1E3C96" stroke-width="4.6"/>
<rect x="1488.1" y="223" width="8.3" height="8.3" fill="#fff" stroke="#1E3C96" stroke-width="4.6"/>
<rect x="1537.4" y="224.2" width="8.3" height="8.3" fill="#fff" stroke="#1E3C96" stroke-width="4.6"/>
<rect x="1586.6" y="224.8" width="8.3" height="8.3" fill="#fff" stroke="#1E3C96" stroke-width="4.6"/>
<rect x="1635.9" y="225.8" width="8.3" height="8.3" fill="#fff" stroke="#1E3C96" stroke-width="4.6"/>
<path d="M1133.9 150.3L1140 128L1146.7 108L1150 112L1155.7 124.6L1160.8 132.3L1166 146L1172.4 160.5L1177 153L1181.4 147.7L1187.8 149L1192 138L1196.8 125.8L1201 128L1207 116L1214.8 107.9L1218 118L1221.2 131L1227.7 120.7L1234.1 124.6L1240.5 146.4L1245.7 133.6L1252.1 147.7L1259.8 140L1266.2 154.1L1274 134L1281.6 115.6L1288 127.1L1293 136L1300.3 125.8L1306.7 143.8L1311 150L1317 159.3L1324.7 146.4L1332.4 158L1338 150L1344 141.3L1349.1 167L1356.8 151.5L1362 165.7L1369.7 161.8L1375 186L1380 206.8L1387.7 192.7L1394.1 183.7L1401.8 200.4L1408.2 188.8L1414.6 200.4L1421 185L1428.8 168.2L1435.2 201.7L1442.9 183.7L1453.2 194L1459.1 219L1468.1 234.1L1473 215L1478.7 199.3L1484.8 209.9L1493.1 194.8L1501.4 212.9L1509 193.3L1516.5 203.8L1525.6 234.1L1531.6 252.2L1539.2 234.1L1546.7 231.1L1555.8 243.1L1563 240L1570.9 246.2L1580 231.1L1586 236L1592.1 231.1L1601.2 273.4L1613.3 253.7L1623.8 231.1L1635.9 209.9L1643 218" fill="none" stroke="#F0963A" stroke-width="4.2" stroke-linejoin="round" clip-path="url(#clipA)"/>
<polygon points="1147.4,104.5 1156,119.4 1138.8,119.4" fill="#fff" stroke="#F0963A" stroke-width="3.1" stroke-linejoin="miter" stroke-miterlimit="10"/>
<polygon points="1196.7,121.8 1205.3,136.7 1188.1,136.7" fill="#fff" stroke="#F0963A" stroke-width="3.1" stroke-linejoin="miter" stroke-miterlimit="10"/>
<polygon points="1245.9,129.8 1254.5,144.6 1237.3,144.6" fill="#fff" stroke="#F0963A" stroke-width="3.1" stroke-linejoin="miter" stroke-miterlimit="10"/>
<polygon points="1295.2,128.6 1303.8,143.5 1286.6,143.5" fill="#fff" stroke="#F0963A" stroke-width="3.1" stroke-linejoin="miter" stroke-miterlimit="10"/>
<polygon points="1344.4,139.2 1353,154.1 1335.8,154.1" fill="#fff" stroke="#F0963A" stroke-width="3.1" stroke-linejoin="miter" stroke-miterlimit="10"/>
<polygon points="1393.7,179.9 1402.3,194.8 1385.1,194.8" fill="#fff" stroke="#F0963A" stroke-width="3.1" stroke-linejoin="miter" stroke-miterlimit="10"/>
<polygon points="1443,179.4 1451.6,194.3 1434.4,194.3" fill="#fff" stroke="#F0963A" stroke-width="3.1" stroke-linejoin="miter" stroke-miterlimit="10"/>
<polygon points="1492.2,192.1 1500.8,207 1483.6,207" fill="#fff" stroke="#F0963A" stroke-width="3.1" stroke-linejoin="miter" stroke-miterlimit="10"/>
<polygon points="1541.5,228.9 1550.1,243.7 1532.9,243.7" fill="#fff" stroke="#F0963A" stroke-width="3.1" stroke-linejoin="miter" stroke-miterlimit="10"/>
<polygon points="1590.7,227.9 1599.3,242.8 1582.1,242.8" fill="#fff" stroke="#F0963A" stroke-width="3.1" stroke-linejoin="miter" stroke-miterlimit="10"/>
<polygon points="1640,210.3 1648.6,225.1 1631.4,225.1" fill="#fff" stroke="#F0963A" stroke-width="3.1" stroke-linejoin="miter" stroke-miterlimit="10"/>
<path d="M1133 193L1135.6 199.4L1138.2 195.9L1140.8 197.5L1143.4 200.4L1146 202.5L1148.6 201.2L1151.2 202L1153.8 200.5L1156.4 202.9L1159 202.8L1161.6 204.7L1164.2 206.8L1166.8 205.3L1169.4 207.2L1172 205.8L1174.6 206.4L1177.2 208.3L1179.8 208.5L1182.4 208.9L1185 206.4L1187.6 207.9L1190.2 202.9L1192.8 202L1195.4 199.5L1198 199.7L1200.6 197.6L1203.2 194.2L1205.8 206L1208.4 207.5L1211 205.8L1213.6 205.1L1216.2 208L1218.8 205.8L1221.4 205.6L1224 206.4L1226.6 205.6L1229.2 205.3L1231.8 208.1L1234.4 214.4L1237 217.3L1239.6 212.9L1242.2 218.4L1244.8 215L1247.4 214L1250 207.7L1252.6 219.5L1255.2 226.5L1257.8 237.5L1260.4 237.6L1263 237.5L1265.6 234.7L1268.2 234.7L1270.8 236L1273.4 235.2L1276 237.1L1278.6 233.4L1281.2 226L1283.8 221.6L1286.4 219.1L1289 218.7L1291.6 216.2L1294.2 209.4L1296.8 210L1299.4 208.3L1302 203.6L1304.6 207.6L1307.2 214.4L1309.8 217.1L1312.4 219.7L1315 218.7L1317.6 221.8L1320.2 220.3L1322.8 222.7L1325.4 231.5L1328 236.5L1330.6 232.9L1333.2 232.6L1335.8 228.3L1338.4 234.1L1341 230.5L1343.6 226.8L1346.2 225.2L1348.8 225.7L1351.4 231.9L1354 245.6L1356.6 251.9L1359.2 252.6L1361.8 254.8L1364.4 261.4L1367 262.7L1369.6 258.4L1372.2 257.6L1374.8 250.8L1377.4 250L1380 251L1382.6 249L1385.2 241.7L1387.8 241.5L1390.4 233.4L1393 232.7L1395.6 229.1L1398.2 223.6L1400.8 227.2L1403.4 245.4L1406 241L1408.6 239L1411.2 239.7L1413.8 233.9L1416.4 233.9L1419 236L1421.6 235.4L1424.2 240.9L1426.8 238.8L1429.4 234.4L1432 232.9L1434.6 237.8L1437.2 228.8L1439.8 226.1L1442.4 225L1445 222.4L1447.6 218.3L1450.2 220.3L1452.8 232.2L1455.4 235.9L1458 234.8L1460.6 232.7L1463.2 241L1465.8 242.9L1468.4 243.3L1471 243.7L1473.6 245.1L1476.2 243.7L1478.8 240.9L1481.4 241.6L1484 235.5L1486.6 236.6L1489.2 230.3L1491.8 230.9L1494.4 229.5L1497 232.1L1499.6 225.1L1502.2 222.6L1504.8 222.3L1507.4 219.5L1510 218.7L1512.6 223.7L1515.2 228.5L1517.8 234.4L1520.4 233.7L1523 237.9L1525.6 232L1528.2 223L1530.8 214.3L1533.4 214.1L1536 219.1L1538.6 228.3L1541.2 239.6L1543.8 243.3L1546.4 241.3L1549 243.2L1551.6 243.1L1554.2 242L1556.8 245.8L1559.4 246.5L1562 248.6L1564.6 252.7L1567.2 253.4L1569.8 250.8L1572.4 247L1575 252.1L1577.6 247.2L1580.2 250.2L1582.8 253.3L1585.4 249.7L1588 247.3L1590.6 246.8L1593.2 253.5L1595.8 254.7L1598.4 255.3L1601 253.8L1603.6 249.6L1606.2 246.8L1608.8 243.3L1611.4 239.4L1614 242.9L1616.6 246.2L1619.2 246.3L1621.8 245.7L1624.4 242.7L1627 241.4L1629.6 240.8L1632.2 235.5L1634.8 234.8L1637.4 236.5L1640 250.6L1642.6 253.1L1645.2 254.5L1647.8 257L1650.4 256.5" fill="none" stroke="#E3261F" stroke-width="4.2" stroke-linejoin="round" clip-path="url(#clipA)"/>
<polygon points="1155,203.8 1142.4,212 1142.4,195.5" fill="#fff" stroke="#E3261F" stroke-width="3.1" stroke-linejoin="miter" stroke-miterlimit="10"/>
<polygon points="1204.2,204.1 1191.7,212.4 1191.7,195.9" fill="#fff" stroke="#E3261F" stroke-width="3.1" stroke-linejoin="miter" stroke-miterlimit="10"/>
<polygon points="1253.5,216.9 1240.9,225.2 1240.9,208.7" fill="#fff" stroke="#E3261F" stroke-width="3.1" stroke-linejoin="miter" stroke-miterlimit="10"/>
<polygon points="1302.7,214.7 1290.2,222.9 1290.2,206.4" fill="#fff" stroke="#E3261F" stroke-width="3.1" stroke-linejoin="miter" stroke-miterlimit="10"/>
<polygon points="1352,233.6 1339.5,241.8 1339.5,225.3" fill="#fff" stroke="#E3261F" stroke-width="3.1" stroke-linejoin="miter" stroke-miterlimit="10"/>
<polygon points="1401.3,234.3 1388.7,242.6 1388.7,226" fill="#fff" stroke="#E3261F" stroke-width="3.1" stroke-linejoin="miter" stroke-miterlimit="10"/>
<polygon points="1450.5,226.7 1438,234.9 1438,218.4" fill="#fff" stroke="#E3261F" stroke-width="3.1" stroke-linejoin="miter" stroke-miterlimit="10"/>
<polygon points="1499.8,233.9 1487.2,242.2 1487.2,225.6" fill="#fff" stroke="#E3261F" stroke-width="3.1" stroke-linejoin="miter" stroke-miterlimit="10"/>
<polygon points="1549,243 1536.5,251.2 1536.5,234.7" fill="#fff" stroke="#E3261F" stroke-width="3.1" stroke-linejoin="miter" stroke-miterlimit="10"/>
<polygon points="1598.3,252.7 1585.8,261 1585.8,244.4" fill="#fff" stroke="#E3261F" stroke-width="3.1" stroke-linejoin="miter" stroke-miterlimit="10"/>
<polygon points="1647.6,251.7 1635,259.9 1635,243.4" fill="#fff" stroke="#E3261F" stroke-width="3.1" stroke-linejoin="miter" stroke-miterlimit="10"/>
<path d="M1133 193.1L1135.6 189.3L1138.2 191.8L1140.8 194.1L1143.4 192.4L1146 193.9L1148.6 193.6L1151.2 189.5L1153.8 196.6L1156.4 197.6L1159 196.7L1161.6 198L1164.2 199.7L1166.8 198.3L1169.4 198.7L1172 196.7L1174.6 201.8L1177.2 201.5L1179.8 202.5L1182.4 197.4L1185 202.7L1187.6 197.8L1190.2 195.5L1192.8 199.9L1195.4 194.5L1198 189.5L1200.6 188.4L1203.2 183.6L1205.8 201.4L1208.4 198.2L1211 197.5L1213.6 201.5L1216.2 195.5L1218.8 199.8L1221.4 193.3L1224 195.6L1226.6 193.6L1229.2 202.2L1231.8 206.1L1234.4 206.1L1237 212.4L1239.6 209.3L1242.2 210.1L1244.8 206.3L1247.4 201.8L1250 199.1L1252.6 210.8L1255.2 225.6L1257.8 231.3L1260.4 232.2L1263 235L1265.6 228.7L1268.2 228.3L1270.8 228.7L1273.4 227.8L1276 227.4L1278.6 224.2L1281.2 222.1L1283.8 214.4L1286.4 214L1289 210L1291.6 206L1294.2 209.4L1296.8 210.7L1299.4 203.3L1302 200.5L1304.6 205L1307.2 210.5L1309.8 216.4L1312.4 214.8L1315 221L1317.6 217.4L1320.2 218.6L1322.8 226.3L1325.4 232.6L1328 233.2L1330.6 233.8L1333.2 234.1L1335.8 231.5L1338.4 227.4L1341 232.1L1343.6 232.1L1346.2 228.7L1348.8 223.1L1351.4 229L1354 243.5L1356.6 249.3L1359.2 256.7L1361.8 259.8L1364.4 260.1L1367 261.9L1369.6 259L1372.2 254L1374.8 251.5L1377.4 248.3L1380 247.8L1382.6 249.3L1385.2 242.6L1387.8 236.4L1390.4 232.6L1393 229.1L1395.6 229.2L1398.2 226.7L1400.8 222.6L1403.4 243.6L1406 239.1L1408.6 241.2L1411.2 236.2L1413.8 239.2L1416.4 234.9L1419 235.7L1421.6 237.4L1424.2 239.6L1426.8 238.4L1429.4 232.4L1432 233.5L1434.6 231.1L1437.2 228.1L1439.8 225.2L1442.4 227.8L1445 220.5L1447.6 216.9L1450.2 225.1L1452.8 237L1455.4 237.4L1458 240.1L1460.6 241L1463.2 243.4L1465.8 247.4L1468.4 248.4L1471 246.8L1473.6 247.8L1476.2 247.9L1478.8 248.1L1481.4 242.6L1484 238.4L1486.6 240L1489.2 234.3L1491.8 230.8L1494.4 234.6L1497 231L1499.6 232.3L1502.2 228.3L1504.8 225.1L1507.4 223L1510 222.7L1512.6 226.2L1515.2 229.1L1517.8 234.4L1520.4 235.8L1523 236.6L1525.6 228.1L1528.2 227L1530.8 224.4L1533.4 220.7L1536 226.7L1538.6 233.5L1541.2 245.1L1543.8 250.3L1546.4 249L1549 243.9L1551.6 246L1554.2 251.1L1556.8 246.1L1559.4 252.8L1562 256.6L1564.6 255L1567.2 257.7L1569.8 253.5L1572.4 253.6L1575 253.1L1577.6 254.9L1580.2 253.7L1582.8 255.8L1585.4 251.6L1588 253.4L1590.6 255.8L1593.2 256.4L1595.8 255.8L1598.4 259.7L1601 254.9L1603.6 254.5L1606.2 252.1L1608.8 251.9L1611.4 249.8L1614 245.9L1616.6 247.3L1619.2 252.3L1621.8 248.3L1624.4 249.5L1627 245.7L1629.6 241.5L1632.2 243.7L1634.8 237.6L1637.4 239.2L1640 257.2L1642.6 252.8L1645.2 258.9L1647.8 260L1650.4 258.6" fill="none" stroke="#000000" stroke-width="4.2" stroke-linejoin="round" clip-path="url(#clipA)"/>
<polygon points="1137.7,197.3 1150.6,188.8 1150.6,205.7" fill="#fff" stroke="#000000" stroke-width="3.5" stroke-linejoin="miter" stroke-miterlimit="10"/>
<polygon points="1186.9,197.6 1199.8,189.2 1199.8,206" fill="#fff" stroke="#000000" stroke-width="3.5" stroke-linejoin="miter" stroke-miterlimit="10"/>
<polygon points="1236.2,210.4 1249.1,202 1249.1,218.9" fill="#fff" stroke="#000000" stroke-width="3.5" stroke-linejoin="miter" stroke-miterlimit="10"/>
<polygon points="1285.4,212.3 1298.3,203.8 1298.3,220.7" fill="#fff" stroke="#000000" stroke-width="3.5" stroke-linejoin="miter" stroke-miterlimit="10"/>
<polygon points="1334.7,233.1 1347.6,224.6 1347.6,241.5" fill="#fff" stroke="#000000" stroke-width="3.5" stroke-linejoin="miter" stroke-miterlimit="10"/>
<polygon points="1384,233.8 1396.9,225.4 1396.9,242.2" fill="#fff" stroke="#000000" stroke-width="3.5" stroke-linejoin="miter" stroke-miterlimit="10"/>
<polygon points="1433.2,226.9 1446.1,218.5 1446.1,235.3" fill="#fff" stroke="#000000" stroke-width="3.5" stroke-linejoin="miter" stroke-miterlimit="10"/>
<polygon points="1482.5,238.4 1495.4,230 1495.4,246.8" fill="#fff" stroke="#000000" stroke-width="3.5" stroke-linejoin="miter" stroke-miterlimit="10"/>
<polygon points="1531.7,247.5 1544.6,239 1544.6,255.9" fill="#fff" stroke="#000000" stroke-width="3.5" stroke-linejoin="miter" stroke-miterlimit="10"/>
<polygon points="1581,257.2 1593.9,248.8 1593.9,265.6" fill="#fff" stroke="#000000" stroke-width="3.5" stroke-linejoin="miter" stroke-miterlimit="10"/>
<polygon points="1630.3,256.2 1643.2,247.8 1643.2,264.6" fill="#fff" stroke="#000000" stroke-width="3.5" stroke-linejoin="miter" stroke-miterlimit="10"/>
<rect x="1136.7" y="98.5" width="503.5" height="227.5" fill="none" stroke="#262626" stroke-width="6.4"/>
<line x1="1393.7" y1="326" x2="1393.7" y2="318" stroke="#262626" stroke-width="6.2"/>
<line x1="1393.7" y1="98.5" x2="1393.7" y2="106.5" stroke="#262626" stroke-width="6.2"/>
<line x1="1136.7" y1="145.2" x2="1144.7" y2="145.2" stroke="#262626" stroke-width="6.2"/>
<line x1="1640.2" y1="145.2" x2="1632.2" y2="145.2" stroke="#262626" stroke-width="6.2"/>
<line x1="1136.7" y1="307.7" x2="1144.7" y2="307.7" stroke="#262626" stroke-width="6.2"/>
<line x1="1640.2" y1="307.7" x2="1632.2" y2="307.7" stroke="#262626" stroke-width="6.2"/>
<text x="1147.4" y="384" font-size="38.5" text-anchor="middle" fill="#262626">20</text>
<text x="1393.7" y="384" font-size="38.5" text-anchor="middle" fill="#262626">25</text>
<text x="1640" y="384" font-size="38.5" text-anchor="middle" fill="#262626">30</text>
<text x="1118.5" y="161.6" font-size="38.5" text-anchor="end" fill="#262626">0.945</text>
<text x="1118.2" y="327" font-size="38.5" text-anchor="end" fill="#262626">0.94</text>
<line x1="1691.4" y1="71" x2="1652.3" y2="158.9" stroke="#000" stroke-width="5.0"/><polygon points="1643.2,179.3 1643.9,145.7 1652.3,158.9 1667.7,156.3" fill="#000"/>
<text x="876.2" y="617.6" font-size="64" text-anchor="middle" fill="#000" class="serif">(A)</text>
<rect x="129.1" y="705.6" width="1586.4" height="390.5" fill="none" stroke="#262626" stroke-width="6.4"/>
<line x1="392.5" y1="1096.1" x2="392.5" y2="1078.3" stroke="#262626" stroke-width="6.2"/>
<line x1="392.5" y1="705.6" x2="392.5" y2="723.4" stroke="#262626" stroke-width="6.2"/>
<line x1="657.2" y1="1096.1" x2="657.2" y2="1078.3" stroke="#262626" stroke-width="6.2"/>
<line x1="657.2" y1="705.6" x2="657.2" y2="723.4" stroke="#262626" stroke-width="6.2"/>
<line x1="922" y1="1096.1" x2="922" y2="1078.3" stroke="#262626" stroke-width="6.2"/>
<line x1="922" y1="705.6" x2="922" y2="723.4" stroke="#262626" stroke-width="6.2"/>
<line x1="1187.1" y1="1096.1" x2="1187.1" y2="1078.3" stroke="#262626" stroke-width="6.2"/>
<line x1="1187.1" y1="705.6" x2="1187.1" y2="723.4" stroke="#262626" stroke-width="6.2"/>
<line x1="1452.7" y1="1096.1" x2="1452.7" y2="1078.3" stroke="#262626" stroke-width="6.2"/>
<line x1="1452.7" y1="705.6" x2="1452.7" y2="723.4" stroke="#262626" stroke-width="6.2"/>
<line x1="129.1" y1="966" x2="147.1" y2="966" stroke="#262626" stroke-width="6.2"/>
<line x1="1715.5" y1="966" x2="1697.5" y2="966" stroke="#262626" stroke-width="6.2"/>
<line x1="129.1" y1="836.5" x2="147.1" y2="836.5" stroke="#262626" stroke-width="6.2"/>
<line x1="1715.5" y1="836.5" x2="1697.5" y2="836.5" stroke="#262626" stroke-width="6.2"/>
<text x="129.1" y="1150.8" font-size="38.5" text-anchor="middle" fill="#262626">0</text>
<text x="392.5" y="1150.8" font-size="38.5" text-anchor="middle" fill="#262626">5</text>
<text x="657.2" y="1150.8" font-size="38.5" text-anchor="middle" fill="#262626">10</text>
<text x="922" y="1150.8" font-size="38.5" text-anchor="middle" fill="#262626">15</text>
<text x="1187.1" y="1150.8" font-size="38.5" text-anchor="middle" fill="#262626">20</text>
<text x="1452.7" y="1150.8" font-size="38.5" text-anchor="middle" fill="#262626">25</text>
<text x="1715.5" y="1150.8" font-size="38.5" text-anchor="middle" fill="#262626">30</text>
<text x="110.6" y="1112.7" font-size="38.5" text-anchor="end" fill="#262626">0</text>
<text x="110.6" y="982.6" font-size="38.5" text-anchor="end" fill="#262626">0.1</text>
<text x="110.6" y="853.1" font-size="38.5" text-anchor="end" fill="#262626">0.2</text>
<text x="110.6" y="722.2" font-size="38.5" text-anchor="end" fill="#262626">0.3</text>
<text x="923.6" y="1204.2" font-size="42.5" text-anchor="middle" fill="#262626">Time (s)</text>
<text transform="translate(40.8,901.6) rotate(-90)" font-size="42.5" text-anchor="middle" fill="#262626"><tspan font-style="italic">u</tspan> (BL/s)</text>
<path d="M129.1 1094.3L130.2 1090.6L131.2 1086.5L132.3 1082.9L133.3 1080.3L134.4 1079.1L135.4 1079.3L136.5 1080.6L137.5 1082.3L138.6 1083.7L139.6 1084.1L140.7 1083.2L141.7 1080.7L142.8 1077L143.9 1072.7L144.9 1068.5L146 1065.1L147 1063.1L148.1 1062.6L149.1 1063.5L150.2 1065.3L151.2 1067.2L152.3 1068.5L153.3 1068.6L154.4 1067.1L155.4 1064.2L156.5 1060.2L157.5 1055.9L158.6 1052.1L159.7 1049.3L160.7 1048.1L161.8 1048.3L162.8 1049.6L163.9 1051.4L164.9 1052.9L166 1053.3L167 1052.3L168.1 1049.7L169.1 1045.8L170.2 1041.2L171.2 1036.7L172.3 1033.1L173.4 1031L174.4 1030.5L175.5 1031.5L176.5 1033.4L177.6 1035.4L178.6 1036.7L179.7 1036.8L180.7 1035.2L181.8 1032.1L182.8 1027.9L183.9 1023.4L184.9 1019.3L186 1016.3L187 1015L188.1 1015.1L189.2 1016.5L190.2 1018.3L191.3 1019.8L192.3 1020.3L193.4 1019.1L194.4 1016.3L195.5 1012.1L196.5 1007.1L197.6 1002.3L198.6 998.5L199.7 996.1L200.7 995.5L201.8 996.5L202.9 998.4L203.9 1000.5L205 1001.8L206 1001.8L207.1 1000.1L208.1 996.7L209.2 992.2L210.2 987.4L211.3 983L212.3 979.9L213.4 978.4L214.4 978.6L215.5 980.1L216.5 982.1L217.6 983.7L218.7 984.2L219.7 983.1L220.8 980.2L221.8 975.8L222.9 970.7L223.9 965.8L225 961.9L226 959.5L227.1 959.1L228.1 960.3L229.2 962.5L230.2 964.9L231.3 966.6L232.4 966.8L233.4 965.2L234.5 962L235.5 957.5L236.6 952.7L237.6 948.4L238.7 945.3L239.7 944.1L240.8 944.5L241.8 946.3L242.9 948.7L243.9 950.7L245 951.5L246 950.5L247.1 947.7L248.2 943.4L249.2 938.3L250.3 933.4L251.3 929.5L252.4 927.3L253.4 927L254.5 928.5L255.5 931L256.6 933.7L257.6 935.7L258.7 936.1L259.7 934.6L260.8 931.3L261.9 926.8L262.9 921.9L264 917.6L265 914.6L266.1 913.4L267.1 914.1L268.2 916.2L269.2 918.8L270.3 921.1L271.3 922.1L272.4 921.3L273.4 918.5L274.5 914.2L275.6 909.1L276.6 904.2L277.7 900.3L278.7 898.2L279.8 898.2L280.8 899.9L281.9 902.7L282.9 905.8L284 908L285 908.7L286.1 907.3L287.1 904.2L288.2 899.7L289.2 894.9L290.3 890.6L291.4 887.7L292.4 886.7L293.5 887.6L294.5 890L295.6 892.9L296.6 895.5L297.7 896.7L298.7 896.1L299.8 893.5L300.8 889.2L301.9 884.1L302.9 879.2L304 875.4L305.1 873.4L306.1 873.6L307.2 875.5L308.2 878.6L309.3 882L310.3 884.4L311.4 885.3L312.4 884.1L313.5 881L314.5 876.5L315.6 871.7L316.6 867.4L317.7 864.6L318.7 863.7L319.8 864.8L320.9 867.4L321.9 870.6L323 873.4L324 874.9L325.1 874.4L326.1 871.8L327.2 867.6L328.2 862.5L329.3 857.6L330.3 853.8L331.4 852L332.4 852.3L333.5 854.5L334.6 857.8L335.6 861.4L336.7 864.1L337.7 865.1L338.8 864.1L339.8 861.1L340.9 856.7L341.9 851.8L343 847.6L344 844.9L345.1 844.2L346.1 845.5L347.2 848.3L348.2 851.7L349.3 854.7L350.4 856.4L351.4 856L352.5 853.6L353.5 849.4L354.6 844.4L355.6 839.5L356.7 835.8L357.7 834L358.8 834.5L359.8 836.9L360.9 840.5L361.9 844.2L363 847.1L364.1 848.3L365.1 847.4L366.2 844.4L367.2 840L368.3 835.2L369.3 831L370.4 828.3L371.4 827.6L372.5 829.1L373.5 832.1L374.6 835.8L375.6 839L376.7 840.8L377.7 840.5L378.8 838.1L379.9 833.9L380.9 828.8L382 823.9L383 820.2L384.1 818.4L385.1 819L386.2 821.5L387.2 825.3L388.3 829.3L389.3 832.4L390.4 833.6L391.4 832.7L392.5 829.8L393.6 825.3L394.6 820.4L395.7 816.2L396.7 813.5L397.8 812.9L398.9 814.4L399.9 817.6L401 821.3L402 824.7L403.1 826.5L404.1 826.3L405.2 823.9L406.3 819.6L407.3 814.5L408.4 809.5L409.4 805.7L410.5 804L411.6 804.6L412.6 807.2L413.7 811.1L414.7 815.2L415.8 818.4L416.9 819.7L417.9 818.8L419 815.8L420 811.4L421.1 806.4L422.1 802.2L423.2 799.5L424.3 799L425.3 800.6L426.4 803.9L427.4 807.8L428.5 811.2L429.6 813.2L430.6 813.1L431.7 810.7L432.7 806.5L433.8 801.4L434.9 796.4L435.9 792.8L437 791.1L438 791.9L439.1 794.7L440.1 798.8L441.2 803.1L442.3 806.4L443.3 807.9L444.4 807.2L445.4 804.3L446.5 800L447.6 795.1L448.6 791L449.7 788.4L450.7 788.1L451.8 789.9L452.9 793.4L453.9 797.5L455 801.2L456 803.4L457.1 803.4L458.1 801.1L459.2 797.1L460.3 792L461.3 787.1L462.4 783.6L463.4 782.1L464.5 782.9L465.6 785.9L466.6 790.2L467.7 794.6L468.7 798.1L469.8 799.8L470.9 799.1L471.9 796.3L473 792L474 787.3L475.1 783.1L476.1 780.7L477.2 780.4L478.3 782.3L479.3 785.9L480.4 790.1L481.4 793.9L482.5 796.2L483.6 796.3L484.6 794.1L485.7 790L486.7 785L487.8 780.1L488.9 776.5L489.9 775.1L491 776L492 779.1L493.1 783.4L494.1 787.9L495.2 791.5L496.3 793.2L497.3 792.6L498.4 789.8L499.4 785.5L500.5 780.7L501.6 776.5L502.6 774.1L503.7 773.8L504.7 775.8L505.8 779.4L506.9 783.7L507.9 787.5L509 789.8L510 790L511.1 787.8L512.1 783.7L513.2 778.6L514.3 773.8L515.3 770.2L516.4 768.8L517.4 769.7L518.5 772.8L519.6 777.2L520.6 781.8L521.7 785.4L522.7 787.2L523.8 786.6L524.9 783.8L525.9 779.5L527 774.7L528 770.6L529.1 768.1L530.1 767.9L531.2 769.9L532.3 773.6L533.3 777.9L534.4 781.8L535.4 784.1L536.5 784.3L537.6 782.1L538.6 778L539.7 772.9L540.7 768.1L541.8 764.5L542.8 763.1L543.9 764.1L545 767.2L546 771.6L547.1 776.2L548.1 779.9L549.2 781.7L550.3 781.1L551.3 778.3L552.4 773.9L553.4 769.1L554.5 765L555.6 762.5L556.6 762.3L557.7 764.3L558.7 768L559.8 772.4L560.8 776.3L561.9 778.6L563 778.8L564 776.6L565.1 772.5L566.1 767.4L567.2 762.4L568.3 758.9L569.3 757.4L570.4 758.4L571.4 761.5L572.5 766L573.6 770.7L574.6 774.3L575.7 776.1L576.7 775.5L577.8 772.7L578.8 768.4L579.9 763.5L581 759.3L582 756.9L583.1 756.7L584.1 758.7L585.2 762.4L586.3 766.9L587.3 770.8L588.4 773.2L589.4 773.4L590.5 771.2L591.6 767.1L592.6 762L593.7 757L594.7 753.5L595.8 752L596.8 753.1L597.9 756.3L599 760.8L600 765.5L601.1 769.3L602.1 771.1L603.2 770.6L604.3 767.8L605.3 763.5L606.4 758.6L607.4 754.5L608.5 752.1L609.6 751.9L610.6 754L611.7 757.8L612.7 762.3L613.8 766.4L614.8 768.8L615.9 769L617 766.9L618 762.8L619.1 757.7L620.1 752.8L621.2 749.3L622.3 747.9L623.3 749L624.4 752.2L625.4 756.8L626.5 761.6L627.6 765.4L628.6 767.3L629.7 766.8L630.7 764L631.8 759.7L632.8 754.9L633.9 750.8L635 748.4L636 748.2L637.1 750.4L638.1 754.2L639.2 758.8L640.3 762.8L641.3 765.3L642.4 765.6L643.4 763.4L644.5 759.3L645.6 754.3L646.6 749.4L647.7 745.9L648.7 744.5L649.8 745.6L650.8 748.9L651.9 753.5L653 758.4L654 762.2L655.1 764.1L656.1 763.6L657.2 760.9L658.3 756.6L659.3 751.8L660.4 747.7L661.4 745.3L662.5 745.1L663.6 747.3L664.6 751.2L665.7 755.8L666.7 759.9L667.8 762.4L668.9 762.7L669.9 760.6L671 756.5L672 751.4L673.1 746.5L674.1 743L675.2 741.7L676.3 742.8L677.3 746.1L678.4 750.8L679.4 755.7L680.5 759.5L681.6 761.5L682.6 761L683.7 758.3L684.7 754L685.8 749.2L686.9 745.1L687.9 742.7L689 742.6L690 744.8L691.1 748.7L692.2 753.3L693.2 757.4L694.3 760L695.3 760.3L696.4 758.1L697.4 754.1L698.5 749L699.6 744.1L700.6 740.6L701.7 739.3L702.7 740.4L703.8 743.8L704.9 748.5L705.9 753.4L707 757.3L708 759.2L709.1 758.7L710.2 756L711.2 751.7L712.3 746.9L713.3 742.8L714.4 740.4L715.5 740.3L716.5 742.5L717.6 746.5L718.6 751.1L719.7 755.2L720.8 757.8L721.8 758.1L722.9 756L723.9 751.9L725 746.8L726 742L727.1 738.4L728.2 737.1L729.2 738.3L730.3 741.6L731.3 746.3L732.4 751.3L733.5 755.2L734.5 757.1L735.6 756.7L736.6 753.9L737.7 749.6L738.8 744.8L739.8 740.7L740.9 738.3L741.9 738.3L743 740.5L744.1 744.4L745.1 749.1L746.2 753.3L747.2 755.8L748.3 756.1L749.4 754L750.4 750L751.5 744.9L752.5 740L753.6 736.5L754.6 735.2L755.7 736.3L756.8 739.7L757.8 744.5L758.9 749.4L759.9 753.3L761 755.3L762.1 754.9L763.1 752.1L764.2 747.8L765.2 743L766.3 738.9L767.4 736.6L768.4 736.5L769.5 738.7L770.5 742.7L771.6 747.4L772.7 751.6L773.7 754.2L774.8 754.5L775.8 752.4L776.9 748.3L777.9 743.2L779 738.4L780.1 734.8L781.1 733.5L782.2 734.7L783.2 738.1L784.3 742.9L785.4 747.8L786.4 751.8L787.5 753.8L788.5 753.3L789.6 750.6L790.7 746.3L791.7 741.5L792.8 737.4L793.8 735L794.9 735L796 737.2L797 741.2L798.1 745.9L799.1 750.1L800.2 752.7L801.3 753.1L802.3 751L803.4 746.9L804.4 741.8L805.5 736.9L806.5 733.4L807.6 732.1L808.7 733.3L809.7 736.7L810.8 741.5L811.8 746.5L812.9 750.4L814 752.4L815 752L816.1 749.3L817.1 745L818.2 740.2L819.3 736.1L820.3 733.7L821.4 733.7L822.4 735.9L823.5 739.9L824.6 744.6L825.6 748.8L826.7 751.5L827.7 751.8L828.8 749.7L829.8 745.6L830.9 740.6L832 735.7L833 732.2L834.1 730.9L835.1 732.1L836.2 735.5L837.3 740.3L838.3 745.3L839.4 749.2L840.4 751.2L841.5 750.8L842.6 748.1L843.6 743.8L844.7 739L845.7 734.9L846.8 732.5L847.9 732.5L848.9 734.7L850 738.8L851 743.5L852.1 747.7L853.2 750.3L854.2 750.7L855.3 748.6L856.3 744.5L857.4 739.4L858.4 734.5L859.5 731L860.6 729.7L861.6 730.9L862.7 734.3L863.7 739.1L864.8 744.1L865.9 748.1L866.9 750.1L868 749.7L869 746.9L870.1 742.6L871.2 737.8L872.2 733.7L873.3 731.3L874.3 731.3L875.4 733.6L876.5 737.6L877.5 742.3L878.6 746.5L879.6 749.1L880.7 749.4L881.8 747.3L882.8 743.3L883.9 738.2L884.9 733.3L886 729.7L887 728.4L888.1 729.6L889.2 733L890.2 737.8L891.3 742.8L892.3 746.8L893.4 748.8L894.5 748.4L895.5 745.6L896.6 741.3L897.6 736.5L898.7 732.3L899.8 730L900.8 729.9L901.9 732.2L902.9 736.2L904 740.9L905.1 745.2L906.1 747.8L907.2 748.1L908.2 746L909.3 741.9L910.3 736.8L911.4 732L912.5 728.4L913.5 727.1L914.6 728.3L915.6 731.8L916.7 736.6L917.8 741.6L918.8 745.6L919.9 747.6L920.9 747.2L922 744.5L923.1 740.2L924.1 735.4L925.2 731.3L926.2 728.9L927.3 728.9L928.4 731.2L929.4 735.2L930.5 740L931.5 744.2L932.6 746.9L933.7 747.3L934.7 745.2L935.8 741.1L936.8 736L937.9 731.1L939 727.6L940 726.3L941.1 727.6L942.1 731L943.2 735.9L944.3 740.9L945.3 744.9L946.4 746.9L947.4 746.5L948.5 743.8L949.6 739.5L950.6 734.7L951.7 730.6L952.8 728.3L953.8 728.3L954.9 730.6L955.9 734.6L957 739.4L958.1 743.6L959.1 746.3L960.2 746.7L961.2 744.6L962.3 740.5L963.4 735.5L964.4 730.6L965.5 727.1L966.5 725.8L967.6 727L968.7 730.5L969.7 735.4L970.8 740.4L971.8 744.4L972.9 746.5L974 746.1L975 743.4L976.1 739.1L977.1 734.3L978.2 730.2L979.3 727.9L980.3 727.9L981.4 730.2L982.4 734.2L983.5 739L984.6 743.3L985.6 746L986.7 746.3L987.7 744.3L988.8 740.2L989.9 735.2L990.9 730.3L992 726.8L993 725.5L994.1 726.8L995.2 730.3L996.2 735.1L997.3 740.2L998.3 744.2L999.4 746.2L1000.5 745.9L1001.5 743.2L1002.6 738.9L1003.7 734.1L1004.7 730L1005.8 727.7L1006.8 727.6L1007.9 730L1009 734L1010 738.8L1011.1 743.1L1012.1 745.8L1013.2 746.2L1014.3 744.1L1015.3 740L1016.4 735L1017.4 730.1L1018.5 726.6L1019.6 725.3L1020.6 726.6L1021.7 730.1L1022.7 734.9L1023.8 740L1024.9 744L1025.9 746.1L1027 745.7L1028 743L1029.1 738.7L1030.2 733.9L1031.2 729.8L1032.3 727.5L1033.3 727.5L1034.4 729.8L1035.5 733.8L1036.5 738.6L1037.6 742.9L1038.6 745.6L1039.7 746L1040.8 743.9L1041.8 739.8L1042.9 734.8L1043.9 729.9L1045 726.4L1046.1 725.1L1047.1 726.4L1048.2 729.9L1049.2 734.7L1050.3 739.8L1051.4 743.8L1052.4 745.8L1053.5 745.5L1054.5 742.8L1055.6 738.5L1056.7 733.7L1057.7 729.6L1058.8 727.2L1059.9 727.2L1060.9 729.6L1062 733.6L1063 738.4L1064.1 742.7L1065.2 745.4L1066.2 745.7L1067.3 743.7L1068.3 739.6L1069.4 734.5L1070.5 729.7L1071.5 726.2L1072.6 724.9L1073.6 726.2L1074.7 729.6L1075.8 734.5L1076.8 739.6L1077.9 743.6L1078.9 745.7L1080 745.3L1081.1 742.6L1082.1 738.3L1083.2 733.5L1084.2 729.4L1085.3 727.1L1086.4 727.1L1087.4 729.4L1088.5 733.5L1089.5 738.2L1090.6 742.5L1091.7 745.2L1092.7 745.6L1093.8 743.5L1094.8 739.5L1095.9 734.4L1097 729.5L1098 726L1099.1 724.8L1100.1 726L1101.2 729.5L1102.3 734.4L1103.3 739.4L1104.4 743.5L1105.4 745.5L1106.5 745.2L1107.6 742.5L1108.6 738.2L1109.7 733.4L1110.8 729.3L1111.8 727L1112.9 727L1113.9 729.3L1115 733.4L1116.1 738.1L1117.1 742.4L1118.2 745.1L1119.2 745.5L1120.3 743.4L1121.4 739.4L1122.4 734.3L1123.5 729.4L1124.5 726L1125.6 724.7L1126.7 725.9L1127.7 729.4L1128.8 734.3L1129.8 739.3L1130.9 743.4L1132 745.5L1133 745.1L1134.1 742.4L1135.1 738.1L1136.2 733.3L1137.3 729.2L1138.3 726.9L1139.4 726.9L1140.4 729.2L1141.5 733.3L1142.6 738L1143.6 742.3L1144.7 745L1145.7 745.4L1146.8 743.3L1147.9 739.3L1148.9 734.2L1150 729.3L1151 725.8L1152.1 724.6L1153.2 725.8L1154.2 729.3L1155.3 734.2L1156.3 739.2L1157.4 743.3L1158.5 745.3L1159.5 744.9L1160.6 742.2L1161.7 737.9L1162.7 733.2L1163.8 729.1L1164.8 726.7L1165.9 726.7L1167 729.1L1168 733.1L1169.1 737.9L1170.1 742.2L1171.2 744.9L1172.3 745.3L1173.3 743.2L1174.4 739.1L1175.4 734.1L1176.5 729.2L1177.6 725.7L1178.6 724.5L1179.7 725.7L1180.7 729.2L1181.8 734.1L1182.9 739.1L1183.9 743.2L1185 745.2L1186 744.9L1187.1 742.2L1188.2 737.9L1189.2 733.1L1190.3 729L1191.3 726.7L1192.4 726.7L1193.5 729L1194.5 733.1L1195.6 737.9L1196.7 742.2L1197.7 744.9L1198.8 745.2L1199.8 743.2L1200.9 739.1L1202 734.1L1203 729.2L1204.1 725.7L1205.2 724.4L1206.2 725.7L1207.3 729.2L1208.3 734.1L1209.4 739.1L1210.5 743.2L1211.5 745.2L1212.6 744.9L1213.7 742.2L1214.7 737.9L1215.8 733.1L1216.8 729L1217.9 726.7L1219 726.7L1220 729L1221.1 733.1L1222.2 737.9L1223.2 742.2L1224.3 744.9L1225.3 745.2L1226.4 743.2L1227.5 739.1L1228.5 734.1L1229.6 729.2L1230.7 725.7L1231.7 724.4L1232.8 725.7L1233.8 729.2L1234.9 734.1L1236 739.1L1237 743.2L1238.1 745.2L1239.2 744.9L1240.2 742.2L1241.3 737.9L1242.3 733.1L1243.4 729L1244.5 726.7L1245.5 726.7L1246.6 729L1247.7 733.1L1248.7 737.9L1249.8 742.2L1250.8 744.9L1251.9 745.2L1253 743.2L1254 739.1L1255.1 734.1L1256.2 729.2L1257.2 725.7L1258.3 724.4L1259.3 725.7L1260.4 729.2L1261.5 734.1L1262.5 739.1L1263.6 743.2L1264.7 745.2L1265.7 744.9L1266.8 742.2L1267.8 737.9L1268.9 733.1L1270 729L1271 726.7L1272.1 726.7L1273.2 729L1274.2 733.1L1275.3 737.9L1276.3 742.2L1277.4 744.9L1278.5 745.2L1279.5 743.2L1280.6 739.1L1281.7 734.1L1282.7 729.2L1283.8 725.7L1284.8 724.4L1285.9 725.7L1287 729.2L1288 734.1L1289.1 739.1L1290.2 743.2L1291.2 745.2L1292.3 744.9L1293.3 742.2L1294.4 737.9L1295.5 733.1L1296.5 729L1297.6 726.7L1298.7 726.7L1299.7 729L1300.8 733.1L1301.8 737.9L1302.9 742.2L1304 744.9L1305 745.2L1306.1 743.2L1307.2 739.1L1308.2 734.1L1309.3 729.2L1310.3 725.7L1311.4 724.4L1312.5 725.7L1313.5 729.2L1314.6 734.1L1315.7 739.1L1316.7 743.2L1317.8 745.2L1318.8 744.9L1319.9 742.2L1321 737.9L1322 733.1L1323.1 729L1324.1 726.7L1325.2 726.7L1326.3 729L1327.3 733.1L1328.4 737.9L1329.5 742.2L1330.5 744.9L1331.6 745.2L1332.6 743.2L1333.7 739.1L1334.8 734.1L1335.8 729.2L1336.9 725.7L1338 724.4L1339 725.7L1340.1 729.2L1341.1 734.1L1342.2 739.1L1343.3 743.2L1344.3 745.2L1345.4 744.9L1346.5 742.2L1347.5 737.9L1348.6 733.1L1349.6 729L1350.7 726.7L1351.8 726.7L1352.8 729L1353.9 733.1L1355 737.9L1356 742.2L1357.1 744.9L1358.1 745.2L1359.2 743.2L1360.3 739.1L1361.3 734.1L1362.4 729.2L1363.5 725.7L1364.5 724.4L1365.6 725.7L1366.6 729.2L1367.7 734.1L1368.8 739.1L1369.8 743.2L1370.9 745.2L1372 744.9L1373 742.2L1374.1 737.9L1375.1 733.1L1376.2 729L1377.3 726.7L1378.3 726.7L1379.4 729L1380.5 733.1L1381.5 737.9L1382.6 742.2L1383.6 744.9L1384.7 745.2L1385.8 743.2L1386.8 739.1L1387.9 734.1L1389 729.2L1390 725.7L1391.1 724.4L1392.1 725.7L1393.2 729.2L1394.3 734.1L1395.3 739.1L1396.4 743.2L1397.5 745.2L1398.5 744.9L1399.6 742.2L1400.6 737.9L1401.7 733.1L1402.8 729L1403.8 726.7L1404.9 726.7L1406 729L1407 733.1L1408.1 737.9L1409.1 742.2L1410.2 744.9L1411.3 745.2L1412.3 743.2L1413.4 739.1L1414.5 734.1L1415.5 729.2L1416.6 725.7L1417.6 724.4L1418.7 725.7L1419.8 729.2L1420.8 734.1L1421.9 739.1L1423 743.2L1424 745.2L1425.1 744.9L1426.1 742.2L1427.2 737.9L1428.3 733.1L1429.3 729L1430.4 726.7L1431.5 726.7L1432.5 729L1433.6 733.1L1434.6 737.9L1435.7 742.2L1436.8 744.9L1437.8 745.2L1438.9 743.2L1440 739.1L1441 734.1L1442.1 729.2L1443.1 725.7L1444.2 724.4L1445.3 725.7L1446.3 729.2L1447.4 734.1L1448.5 739.1L1449.5 743.2L1450.6 745.2L1451.6 744.9L1452.7 742.2L1453.8 737.9L1454.8 733.1L1455.9 729L1456.9 726.7L1458 726.7L1459 729L1460.1 733.1L1461.1 737.9L1462.2 742.2L1463.2 744.9L1464.3 745.2L1465.3 743.2L1466.4 739.1L1467.4 734.1L1468.5 729.2L1469.5 725.7L1470.6 724.4L1471.6 725.7L1472.7 729.2L1473.7 734.1L1474.8 739.1L1475.8 743.2L1476.9 745.2L1477.9 744.9L1479 742.2L1480 737.9L1481.1 733.1L1482.1 729L1483.2 726.7L1484.2 726.7L1485.3 729L1486.3 733.1L1487.4 737.9L1488.4 742.2L1489.5 744.9L1490.5 745.2L1491.6 743.2L1492.6 739.1L1493.7 734.1L1494.7 729.2L1495.8 725.7L1496.9 724.4L1497.9 725.7L1499 729.2L1500 734.1L1501.1 739.1L1502.1 743.2L1503.2 745.2L1504.2 744.9L1505.3 742.2L1506.3 737.9L1507.4 733.1L1508.4 729L1509.5 726.7L1510.5 726.7L1511.6 729L1512.6 733.1L1513.7 737.9L1514.7 742.2L1515.8 744.9L1516.8 745.2L1517.9 743.2L1518.9 739.1L1520 734.1L1521 729.2L1522.1 725.7L1523.1 724.4L1524.2 725.7L1525.2 729.2L1526.3 734.1L1527.3 739.1L1528.4 743.2L1529.4 745.2L1530.5 744.9L1531.5 742.2L1532.6 737.9L1533.6 733.1L1534.7 729L1535.7 726.7L1536.8 726.7L1537.8 729L1538.9 733.1L1539.9 737.9L1541 742.2L1542.1 744.9L1543.1 745.2L1544.2 743.2L1545.2 739.1L1546.3 734.1L1547.3 729.2L1548.4 725.7L1549.4 724.4L1550.5 725.7L1551.5 729.2L1552.6 734.1L1553.6 739.1L1554.7 743.2L1555.7 745.2L1556.8 744.9L1557.8 742.2L1558.9 737.9L1559.9 733.1L1561 729L1562 726.7L1563.1 726.7L1564.1 729L1565.2 733.1L1566.2 737.9L1567.3 742.2L1568.3 744.9L1569.4 745.2L1570.4 743.2L1571.5 739.1L1572.5 734.1L1573.6 729.2L1574.6 725.7L1575.7 724.4L1576.7 725.7L1577.8 729.2L1578.8 734.1L1579.9 739.1L1580.9 743.2L1582 745.2L1583 744.9L1584.1 742.2L1585.2 737.9L1586.2 733.1L1587.3 729L1588.3 726.7L1589.4 726.7L1590.4 729L1591.5 733.1L1592.5 737.9L1593.6 742.2L1594.6 744.9L1595.7 745.2L1596.7 743.2L1597.8 739.1L1598.8 734.1L1599.9 729.2L1600.9 725.7L1602 724.4L1603 725.7L1604.1 729.2L1605.1 734.1L1606.2 739.1L1607.2 743.2L1608.3 745.2L1609.3 744.9L1610.4 742.2L1611.4 737.9L1612.5 733.1L1613.5 729L1614.6 726.7L1615.6 726.7L1616.7 729L1617.7 733.1L1618.8 737.9L1619.8 742.2L1620.9 744.9L1621.9 745.2L1623 743.2L1624 739.1L1625.1 734.1L1626.1 729.2L1627.2 725.7L1628.3 724.4L1629.3 725.7L1630.4 729.2L1631.4 734.1L1632.5 739.1L1633.5 743.2L1634.6 745.2L1635.6 744.9L1636.7 742.2L1637.7 737.9L1638.8 733.1L1639.8 729L1640.9 726.7L1641.9 726.7L1643 729L1644 733.1L1645.1 737.9L1646.1 742.2L1647.2 744.9L1648.2 745.2L1649.3 743.2L1650.3 739.1L1651.4 734.1L1652.4 729.2L1653.5 725.7L1654.5 724.4L1655.6 725.7L1656.6 729.2L1657.7 734.1L1658.7 739.1L1659.8 743.2L1660.8 745.2L1661.9 744.9L1662.9 742.2L1664 737.9L1665 733.1L1666.1 729L1667.1 726.7L1668.2 726.7L1669.2 729L1670.3 733.1L1671.3 737.9L1672.4 742.2L1673.5 744.9L1674.5 745.2L1675.6 743.2L1676.6 739.1L1677.7 734.1L1678.7 729.2L1679.8 725.7L1680.8 724.4L1681.9 725.7L1682.9 729.2L1684 734.1L1685 739.1L1686.1 743.2L1687.1 745.2L1688.2 744.9L1689.2 742.2L1690.3 737.9L1691.3 733.1L1692.4 729L1693.4 726.7L1694.5 726.7L1695.5 729L1696.6 733.1L1697.6 737.9L1698.7 742.2L1699.7 744.9L1700.8 745.2L1701.8 743.2L1702.9 739.1L1703.9 734.1L1705 729.2L1706 725.7L1707.1 724.4L1708.1 725.7L1709.2 729.2L1710.2 734.1L1711.3 739.1L1712.3 743.2L1713.4 745.2L1714.4 744.9L1715.5 742.2" fill="none" stroke="#9A9AF6" stroke-width="3.5" stroke-linejoin="round"/>
<circle cx="129.6" cy="1096.1" r="8" fill="#9A9AF6"/>
<circle cx="182.3" cy="1032.7" r="8" fill="#9A9AF6"/>
<circle cx="235" cy="961.3" r="8" fill="#9A9AF6"/>
<circle cx="287.6" cy="902.2" r="8" fill="#9A9AF6"/>
<circle cx="340.3" cy="859.8" r="8" fill="#9A9AF6"/>
<circle cx="393" cy="828.7" r="8" fill="#9A9AF6"/>
<circle cx="445.9" cy="803.3" r="8" fill="#9A9AF6"/>
<circle cx="498.9" cy="788.5" r="8" fill="#9A9AF6"/>
<circle cx="551.8" cy="776.8" r="8" fill="#9A9AF6"/>
<circle cx="604.8" cy="766.1" r="8" fill="#9A9AF6"/>
<circle cx="657.7" cy="758.9" r="8" fill="#9A9AF6"/>
<circle cx="710.7" cy="754.1" r="8" fill="#9A9AF6"/>
<circle cx="763.6" cy="750.3" r="8" fill="#9A9AF6"/>
<circle cx="816.6" cy="747.5" r="8" fill="#9A9AF6"/>
<circle cx="869.5" cy="745.2" r="8" fill="#9A9AF6"/>
<circle cx="922.5" cy="742.8" r="8" fill="#9A9AF6"/>
<circle cx="975.5" cy="741.7" r="8" fill="#9A9AF6"/>
<circle cx="1028.5" cy="741.3" r="8" fill="#9A9AF6"/>
<circle cx="1081.6" cy="740.9" r="8" fill="#9A9AF6"/>
<circle cx="1134.6" cy="740.7" r="8" fill="#9A9AF6"/>
<circle cx="1187.6" cy="740.5" r="8" fill="#9A9AF6"/>
<circle cx="1240.7" cy="740.5" r="8" fill="#9A9AF6"/>
<circle cx="1293.8" cy="740.5" r="8" fill="#9A9AF6"/>
<circle cx="1347" cy="740.5" r="8" fill="#9A9AF6"/>
<circle cx="1400.1" cy="740.5" r="8" fill="#9A9AF6"/>
<circle cx="1453.2" cy="740.5" r="8" fill="#9A9AF6"/>
<circle cx="1505.8" cy="740.5" r="8" fill="#9A9AF6"/>
<circle cx="1558.3" cy="740.5" r="8" fill="#9A9AF6"/>
<circle cx="1610.9" cy="740.5" r="8" fill="#9A9AF6"/>
<circle cx="1663.4" cy="740.5" r="8" fill="#9A9AF6"/>
<circle cx="1716" cy="740.5" r="8" fill="#9A9AF6"/>
<path d="M129.1 1093.7L130.2 1092.1L131.2 1090L132.3 1087.7L133.3 1085.3L134.4 1083.2L135.4 1081.5L136.5 1080.5L137.5 1080L138.6 1079.7L139.6 1079.4L140.7 1078.8L141.7 1077.5L142.8 1075.7L143.9 1073.6L144.9 1071.4L146 1069.2L147 1067.5L148.1 1066.2L149.1 1065.6L150.2 1065.3L151.2 1065.3L152.3 1065.3L153.3 1065.2L154.4 1064.7L155.4 1063.6L156.5 1061.9L157.5 1059.6L158.6 1057.1L159.7 1054.6L160.7 1052.4L161.8 1050.6L162.8 1049.5L163.9 1048.9L164.9 1048.6L166 1048.3L167 1047.6L168.1 1046.3L169.1 1044.4L170.2 1042.1L171.2 1039.8L172.3 1037.5L173.4 1035.6L174.4 1034.3L175.5 1033.6L176.5 1033.4L177.6 1033.4L178.6 1033.4L179.7 1033.2L180.7 1032.6L181.8 1031.5L182.8 1029.7L183.9 1027.3L184.9 1024.6L186 1022L187 1019.5L188.1 1017.6L189.2 1016.4L190.2 1015.7L191.3 1015.4L192.3 1015L193.4 1014.2L194.4 1012.7L195.5 1010.6L196.5 1008.1L197.6 1005.6L198.6 1003.1L199.7 1001L200.7 999.6L201.8 998.8L202.9 998.4L203.9 998.3L205 998.2L206 998L207.1 997.3L208.1 996.1L209.2 994.1L210.2 991.5L211.3 988.7L212.3 985.8L213.4 983.2L214.4 981.2L215.5 979.9L216.5 979.3L217.6 979L218.7 978.6L219.7 977.9L220.8 976.4L221.8 974.3L222.9 971.8L223.9 969.2L225 966.8L226 964.7L227.1 963.4L228.1 962.7L229.2 962.5L230.2 962.6L231.3 962.8L232.4 962.8L233.4 962.3L234.5 961.3L235.5 959.4L236.6 957L237.6 954.3L238.7 951.6L239.7 949.1L240.8 947.3L241.8 946.2L242.9 945.8L243.9 945.7L245 945.6L246 945L247.1 943.8L248.2 941.8L249.2 939.4L250.3 937L251.3 934.6L252.4 932.7L253.4 931.5L254.5 931L255.5 931.1L256.6 931.4L257.6 931.7L258.7 931.8L259.7 931.6L260.8 930.6L261.9 928.9L262.9 926.5L264 923.8L265 921.1L266.1 918.7L267.1 916.9L268.2 916L269.2 915.8L270.3 915.9L271.3 915.9L272.4 915.5L273.4 914.4L274.5 912.5L275.6 910.3L276.6 907.9L277.7 905.7L278.7 903.9L279.8 902.8L280.8 902.5L281.9 902.8L282.9 903.3L284 903.9L285 904.2L286.1 904.2L287.1 903.4L288.2 901.8L289.2 899.6L290.3 897L291.4 894.5L292.4 892.2L293.5 890.6L294.5 889.8L295.6 889.8L296.6 890.1L297.7 890.4L298.7 890.2L299.8 889.2L300.8 887.5L301.9 885.3L302.9 883.1L304 880.9L305.1 879.3L306.1 878.4L307.2 878.3L308.2 878.7L309.3 879.4L310.3 880.2L311.4 880.7L312.4 880.8L313.5 880.2L314.5 878.7L315.6 876.5L316.6 874.1L317.7 871.6L318.7 869.4L319.8 867.9L320.9 867.3L321.9 867.4L323 867.9L324 868.3L325.1 868.3L326.1 867.4L327.2 865.8L328.2 863.7L329.3 861.6L330.3 859.5L331.4 858L332.4 857.2L333.5 857.3L334.6 857.9L335.6 858.8L336.7 859.7L337.7 860.5L338.8 860.7L339.8 860.2L340.9 858.9L341.9 856.8L343 854.4L344 852.1L345.1 850L346.1 848.6L347.2 848.1L348.2 848.4L349.3 849.1L350.4 849.7L351.4 849.8L352.5 849.1L353.5 847.6L354.6 845.6L355.6 843.5L356.7 841.6L357.7 840.2L358.8 839.6L359.8 839.7L360.9 840.5L361.9 841.6L363 842.7L364.1 843.5L365.1 843.9L366.2 843.6L367.2 842.3L368.3 840.3L369.3 838L370.4 835.7L371.4 833.7L372.5 832.3L373.5 832L374.6 832.4L375.6 833.2L376.7 833.9L377.7 834.1L378.8 833.4L379.9 832L380.9 830.1L382 828L383 826.2L384.1 824.8L385.1 824.2L386.2 824.5L387.2 825.4L388.3 826.5L389.3 827.7L390.4 828.7L391.4 829.2L392.5 828.9L393.6 827.7L394.6 825.7L395.7 823.4L396.7 821L397.8 819L398.9 817.7L399.9 817.4L401 817.9L402 818.7L403.1 819.5L404.1 819.7L405.2 819.1L406.3 817.7L407.3 815.8L408.4 813.7L409.4 811.8L410.5 810.5L411.6 809.9L412.6 810.2L413.7 811.2L414.7 812.4L415.8 813.7L416.9 814.7L417.9 815.2L419 815L420 813.7L421.1 811.8L422.1 809.5L423.2 807.2L424.3 805.2L425.3 804L426.4 803.7L427.4 804.3L428.5 805.2L429.6 806.1L430.6 806.4L431.7 805.9L432.7 804.6L433.8 802.7L434.9 800.8L435.9 799L437 797.7L438 797.3L439.1 797.7L440.1 798.8L441.2 800.2L442.3 801.6L443.3 802.9L444.4 803.6L445.4 803.5L446.5 802.4L447.6 800.6L448.6 798.4L449.7 796.2L450.7 794.4L451.8 793.3L452.9 793.2L453.9 793.9L455 795.1L456 796.1L457.1 796.6L458.1 796.3L459.2 795L460.3 793.4L461.3 791.5L462.4 789.8L463.4 788.7L464.5 788.4L465.6 789L466.6 790.2L467.7 791.8L468.7 793.3L469.8 794.7L470.9 795.5L471.9 795.5L473 794.5L474 792.7L475.1 790.6L476.1 788.5L477.2 786.8L478.3 785.7L479.3 785.7L480.4 786.5L481.4 787.7L482.5 788.9L483.6 789.5L484.6 789.1L485.7 788L486.7 786.3L487.8 784.5L488.9 782.9L489.9 781.8L491 781.5L492 782.2L493.1 783.4L494.1 785L495.2 786.6L496.3 788L497.3 788.9L498.4 788.9L499.4 787.9L500.5 786.2L501.6 784.1L502.6 782L503.7 780.2L504.7 779.2L505.8 779.2L506.9 780.1L507.9 781.3L509 782.5L510 783.1L511.1 782.8L512.1 781.6L513.2 780L514.3 778.2L515.3 776.6L516.4 775.5L517.4 775.3L518.5 776L519.6 777.3L520.6 778.9L521.7 780.5L522.7 782L523.8 782.8L524.9 782.9L525.9 781.9L527 780.2L528 778.2L529.1 776.1L530.1 774.4L531.2 773.3L532.3 773.4L533.3 774.3L534.4 775.5L535.4 776.7L536.5 777.4L537.6 777.1L538.6 776L539.7 774.3L540.7 772.5L541.8 770.9L542.8 769.9L543.9 769.6L545 770.3L546 771.7L547.1 773.3L548.1 775L549.2 776.4L550.3 777.3L551.3 777.4L552.4 776.4L553.4 774.7L554.5 772.6L555.6 770.5L556.6 768.8L557.7 767.8L558.7 767.8L559.8 768.7L560.8 770L561.9 771.2L563 771.8L564 771.5L565.1 770.4L566.1 768.7L567.2 766.9L568.3 765.3L569.3 764.2L570.4 764L571.4 764.7L572.5 766L573.6 767.7L574.6 769.4L575.7 770.8L576.7 771.7L577.8 771.8L578.8 770.9L579.9 769.1L581 767.1L582 764.9L583.1 763.2L584.1 762.2L585.2 762.3L586.3 763.2L587.3 764.5L588.4 765.7L589.4 766.4L590.5 766.1L591.6 765L592.6 763.4L593.7 761.6L594.7 760L595.8 758.9L596.8 758.7L597.9 759.5L599 760.9L600 762.6L601.1 764.3L602.1 765.8L603.2 766.8L604.3 766.9L605.3 766L606.4 764.3L607.4 762.3L608.5 760.2L609.6 758.5L610.6 757.6L611.7 757.7L612.7 758.6L613.8 760L614.8 761.3L615.9 762L617 761.8L618 760.7L619.1 759.1L620.1 757.4L621.2 755.8L622.3 754.8L623.3 754.7L624.4 755.4L625.4 756.9L626.5 758.6L627.6 760.4L628.6 762L629.7 763L630.7 763.1L631.8 762.2L632.8 760.6L633.9 758.5L635 756.5L636 754.8L637.1 753.9L638.1 754L639.2 755L640.3 756.4L641.3 757.7L642.4 758.5L643.4 758.3L644.5 757.3L645.6 755.7L646.6 754L647.7 752.4L648.7 751.4L649.8 751.3L650.8 752.1L651.9 753.6L653 755.4L654 757.2L655.1 758.8L656.1 759.8L657.2 760L658.3 759.1L659.3 757.5L660.4 755.5L661.4 753.4L662.5 751.8L663.6 750.9L664.6 751L665.7 752L666.7 753.5L667.8 754.8L668.9 755.6L669.9 755.4L671 754.4L672 752.8L673.1 751.1L674.1 749.6L675.2 748.6L676.3 748.5L677.3 749.4L678.4 750.9L679.4 752.7L680.5 754.5L681.6 756.1L682.6 757.2L683.7 757.3L684.7 756.5L685.8 754.9L686.9 752.9L687.9 750.9L689 749.2L690 748.3L691.1 748.5L692.2 749.5L693.2 751L694.3 752.3L695.3 753.1L696.4 753L697.4 752L698.5 750.4L699.6 748.7L700.6 747.2L701.7 746.2L702.7 746.2L703.8 747L704.9 748.5L705.9 750.3L707 752.2L708 753.8L709.1 754.9L710.2 755.1L711.2 754.2L712.3 752.6L713.3 750.6L714.4 748.6L715.5 747L716.5 746.1L717.6 746.3L718.6 747.3L719.7 748.8L720.8 750.1L721.8 751L722.9 750.8L723.9 749.8L725 748.3L726 746.6L727.1 745L728.2 744.1L729.2 744L730.3 744.9L731.3 746.4L732.4 748.2L733.5 750.1L734.5 751.7L735.6 752.8L736.6 753L737.7 752.2L738.8 750.6L739.8 748.6L740.9 746.6L741.9 744.9L743 744.1L744.1 744.3L745.1 745.3L746.2 746.8L747.2 748.2L748.3 749L749.4 748.9L750.4 747.8L751.5 746.3L752.5 744.6L753.6 743.1L754.6 742.2L755.7 742.1L756.8 743L757.8 744.5L758.9 746.4L759.9 748.3L761 749.9L762.1 751L763.1 751.2L764.2 750.4L765.2 748.8L766.3 746.8L767.4 744.8L768.4 743.2L769.5 742.3L770.5 742.5L771.6 743.6L772.7 745.1L773.7 746.5L774.8 747.3L775.8 747.2L776.9 746.2L777.9 744.7L779 743L780.1 741.5L781.1 740.6L782.2 740.5L783.2 741.4L784.3 742.9L785.4 744.8L786.4 746.7L787.5 748.4L788.5 749.5L789.6 749.7L790.7 748.9L791.7 747.3L792.8 745.3L793.8 743.3L794.9 741.7L796 740.8L797 741.1L798.1 742.1L799.1 743.6L800.2 745L801.3 745.9L802.3 745.8L803.4 744.8L804.4 743.3L805.5 741.6L806.5 740.1L807.6 739.2L808.7 739.1L809.7 740L810.8 741.6L811.8 743.4L812.9 745.4L814 747L815 748.1L816.1 748.4L817.1 747.6L818.2 746L819.3 744L820.3 742L821.4 740.4L822.4 739.5L823.5 739.7L824.6 740.8L825.6 742.3L826.7 743.7L827.7 744.6L828.8 744.5L829.8 743.5L830.9 742L832 740.3L833 738.8L834.1 737.9L835.1 737.9L836.2 738.8L837.3 740.3L838.3 742.2L839.4 744.1L840.4 745.8L841.5 746.9L842.6 747.2L843.6 746.4L844.7 744.8L845.7 742.8L846.8 740.8L847.9 739.2L848.9 738.3L850 738.6L851 739.7L852.1 741.2L853.2 742.6L854.2 743.5L855.3 743.3L856.3 742.4L857.4 740.8L858.4 739.2L859.5 737.7L860.6 736.8L861.6 736.7L862.7 737.6L863.7 739.2L864.8 741.1L865.9 743L866.9 744.7L868 745.8L869 746L870.1 745.2L871.2 743.6L872.2 741.6L873.3 739.6L874.3 738L875.4 737.2L876.5 737.4L877.5 738.5L878.6 740L879.6 741.4L880.7 742.2L881.8 742.1L882.8 741.1L883.9 739.6L884.9 737.9L886 736.4L887 735.5L888.1 735.4L889.2 736.3L890.2 737.9L891.3 739.8L892.3 741.7L893.4 743.3L894.5 744.4L895.5 744.7L896.6 743.9L897.6 742.3L898.7 740.3L899.8 738.3L900.8 736.7L901.9 735.8L902.9 736L904 737.1L905.1 738.6L906.1 740L907.2 740.9L908.2 740.8L909.3 739.8L910.3 738.3L911.4 736.6L912.5 735.1L913.5 734.2L914.6 734.2L915.6 735.1L916.7 736.6L917.8 738.5L918.8 740.5L919.9 742.2L920.9 743.3L922 743.6L923.1 742.8L924.1 741.2L925.2 739.2L926.2 737.3L927.3 735.7L928.4 734.8L929.4 735.1L930.5 736.2L931.5 737.7L932.6 739.1L933.7 740L934.7 739.9L935.8 739L936.8 737.5L937.9 735.8L939 734.3L940 733.4L941.1 733.4L942.1 734.3L943.2 735.9L944.3 737.8L945.3 739.8L946.4 741.5L947.4 742.6L948.5 742.9L949.6 742.1L950.6 740.5L951.7 738.6L952.8 736.6L953.8 735L954.9 734.2L955.9 734.4L957 735.6L958.1 737.1L959.1 738.5L960.2 739.4L961.2 739.4L962.3 738.4L963.4 736.9L964.4 735.2L965.5 733.8L966.5 732.9L967.6 732.9L968.7 733.8L969.7 735.4L970.8 737.3L971.8 739.3L972.9 741L974 742.2L975 742.5L976.1 741.7L977.1 740.1L978.2 738.2L979.3 736.2L980.3 734.6L981.4 733.8L982.4 734.1L983.5 735.2L984.6 736.7L985.6 738.2L986.7 739.1L987.7 739L988.8 738.1L989.9 736.6L990.9 734.9L992 733.5L993 732.6L994.1 732.6L995.2 733.6L996.2 735.2L997.3 737.1L998.3 739.1L999.4 740.8L1000.5 741.9L1001.5 742.2L1002.6 741.5L1003.7 739.9L1004.7 738L1005.8 736L1006.8 734.4L1007.9 733.6L1009 733.9L1010 735L1011.1 736.5L1012.1 738L1013.2 738.9L1014.3 738.9L1015.3 737.9L1016.4 736.4L1017.4 734.8L1018.5 733.3L1019.6 732.4L1020.6 732.4L1021.7 733.4L1022.7 735L1023.8 736.9L1024.9 738.9L1025.9 740.6L1027 741.8L1028 742L1029.1 741.3L1030.2 739.7L1031.2 737.8L1032.3 735.8L1033.3 734.2L1034.4 733.4L1035.5 733.7L1036.5 734.8L1037.6 736.4L1038.6 737.8L1039.7 738.7L1040.8 738.7L1041.8 737.7L1042.9 736.2L1043.9 734.6L1045 733.1L1046.1 732.2L1047.1 732.2L1048.2 733.2L1049.2 734.8L1050.3 736.7L1051.4 738.7L1052.4 740.4L1053.5 741.5L1054.5 741.8L1055.6 741.1L1056.7 739.5L1057.7 737.6L1058.8 735.6L1059.9 734L1060.9 733.2L1062 733.4L1063 734.6L1064.1 736.1L1065.2 737.6L1066.2 738.5L1067.3 738.4L1068.3 737.5L1069.4 736L1070.5 734.3L1071.5 732.9L1072.6 732L1073.6 732L1074.7 733L1075.8 734.6L1076.8 736.5L1077.9 738.5L1078.9 740.2L1080 741.3L1081.1 741.6L1082.1 740.9L1083.2 739.3L1084.2 737.4L1085.3 735.4L1086.4 733.8L1087.4 733L1088.5 733.3L1089.5 734.4L1090.6 736L1091.7 737.4L1092.7 738.4L1093.8 738.3L1094.8 737.3L1095.9 735.9L1097 734.2L1098 732.8L1099.1 731.9L1100.1 731.9L1101.2 732.8L1102.3 734.4L1103.3 736.4L1104.4 738.4L1105.4 740.1L1106.5 741.2L1107.6 741.5L1108.6 740.8L1109.7 739.2L1110.8 737.3L1111.8 735.3L1112.9 733.7L1113.9 732.9L1115 733.2L1116.1 734.3L1117.1 735.9L1118.2 737.3L1119.2 738.3L1120.3 738.2L1121.4 737.2L1122.4 735.8L1123.5 734.1L1124.5 732.7L1125.6 731.8L1126.7 731.8L1127.7 732.7L1128.8 734.3L1129.8 736.3L1130.9 738.3L1132 740L1133 741.1L1134.1 741.4L1135.1 740.7L1136.2 739.1L1137.3 737.2L1138.3 735.2L1139.4 733.6L1140.4 732.8L1141.5 733.1L1142.6 734.2L1143.6 735.8L1144.7 737.2L1145.7 738.2L1146.8 738.1L1147.9 737.1L1148.9 735.6L1150 734L1151 732.5L1152.1 731.7L1153.2 731.7L1154.2 732.6L1155.3 734.2L1156.3 736.2L1157.4 738.1L1158.5 739.9L1159.5 741L1160.6 741.3L1161.7 740.5L1162.7 739L1163.8 737L1164.8 735.1L1165.9 733.5L1167 732.7L1168 732.9L1169.1 734.1L1170.1 735.6L1171.2 737.1L1172.3 738L1173.3 738L1174.4 737L1175.4 735.5L1176.5 733.9L1177.6 732.4L1178.6 731.5L1179.7 731.6L1180.7 732.5L1181.8 734.1L1182.9 736.1L1183.9 738L1185 739.8L1186 740.9L1187.1 741.2L1188.2 740.5L1189.2 738.9L1190.3 737L1191.3 735L1192.4 733.4L1193.5 732.6L1194.5 732.9L1195.6 734.1L1196.7 735.6L1197.7 737.1L1198.8 738L1199.8 737.9L1200.9 737L1202 735.5L1203 733.9L1204.1 732.4L1205.2 731.5L1206.2 731.6L1207.3 732.5L1208.3 734.1L1209.4 736.1L1210.5 738L1211.5 739.8L1212.6 740.9L1213.7 741.2L1214.7 740.5L1215.8 738.9L1216.8 737L1217.9 735L1219 733.4L1220 732.6L1221.1 732.9L1222.2 734.1L1223.2 735.6L1224.3 737.1L1225.3 738L1226.4 737.9L1227.5 737L1228.5 735.5L1229.6 733.9L1230.7 732.4L1231.7 731.5L1232.8 731.6L1233.8 732.5L1234.9 734.1L1236 736.1L1237 738L1238.1 739.8L1239.2 740.9L1240.2 741.2L1241.3 740.5L1242.3 738.9L1243.4 737L1244.5 735L1245.5 733.4L1246.6 732.6L1247.7 732.9L1248.7 734.1L1249.8 735.6L1250.8 737.1L1251.9 738L1253 737.9L1254 737L1255.1 735.5L1256.2 733.9L1257.2 732.4L1258.3 731.5L1259.3 731.6L1260.4 732.5L1261.5 734.1L1262.5 736.1L1263.6 738L1264.7 739.8L1265.7 740.9L1266.8 741.2L1267.8 740.5L1268.9 738.9L1270 737L1271 735L1272.1 733.4L1273.2 732.6L1274.2 732.9L1275.3 734.1L1276.3 735.6L1277.4 737.1L1278.5 738L1279.5 737.9L1280.6 737L1281.7 735.5L1282.7 733.9L1283.8 732.4L1284.8 731.5L1285.9 731.6L1287 732.5L1288 734.1L1289.1 736.1L1290.2 738L1291.2 739.8L1292.3 740.9L1293.3 741.2L1294.4 740.5L1295.5 738.9L1296.5 737L1297.6 735L1298.7 733.4L1299.7 732.6L1300.8 732.9L1301.8 734.1L1302.9 735.6L1304 737.1L1305 738L1306.1 737.9L1307.2 737L1308.2 735.5L1309.3 733.9L1310.3 732.4L1311.4 731.5L1312.5 731.6L1313.5 732.5L1314.6 734.1L1315.7 736.1L1316.7 738L1317.8 739.8L1318.8 740.9L1319.9 741.2L1321 740.5L1322 738.9L1323.1 737L1324.1 735L1325.2 733.4L1326.3 732.6L1327.3 732.9L1328.4 734.1L1329.5 735.6L1330.5 737.1L1331.6 738L1332.6 737.9L1333.7 737L1334.8 735.5L1335.8 733.9L1336.9 732.4L1338 731.5L1339 731.6L1340.1 732.5L1341.1 734.1L1342.2 736.1L1343.3 738L1344.3 739.8L1345.4 740.9L1346.5 741.2L1347.5 740.5L1348.6 738.9L1349.6 737L1350.7 735L1351.8 733.4L1352.8 732.6L1353.9 732.9L1355 734.1L1356 735.6L1357.1 737.1L1358.1 738L1359.2 737.9L1360.3 737L1361.3 735.5L1362.4 733.9L1363.5 732.4L1364.5 731.5L1365.6 731.6L1366.6 732.5L1367.7 734.1L1368.8 736.1L1369.8 738L1370.9 739.8L1372 740.9L1373 741.2L1374.1 740.5L1375.1 738.9L1376.2 737L1377.3 735L1378.3 733.4L1379.4 732.6L1380.5 732.9L1381.5 734.1L1382.6 735.6L1383.6 737.1L1384.7 738L1385.8 737.9L1386.8 737L1387.9 735.5L1389 733.9L1390 732.4L1391.1 731.5L1392.1 731.6L1393.2 732.5L1394.3 734.1L1395.3 736.1L1396.4 738L1397.5 739.8L1398.5 740.9L1399.6 741.2L1400.6 740.5L1401.7 738.9L1402.8 737L1403.8 735L1404.9 733.4L1406 732.6L1407 732.9L1408.1 734.1L1409.1 735.6L1410.2 737.1L1411.3 738L1412.3 737.9L1413.4 737L1414.5 735.5L1415.5 733.9L1416.6 732.4L1417.6 731.5L1418.7 731.6L1419.8 732.5L1420.8 734.1L1421.9 736.1L1423 738L1424 739.8L1425.1 740.9L1426.1 741.2L1427.2 740.5L1428.3 738.9L1429.3 737L1430.4 735L1431.5 733.4L1432.5 732.6L1433.6 732.9L1434.6 734.1L1435.7 735.6L1436.8 737.1L1437.8 738L1438.9 737.9L1440 737L1441 735.5L1442.1 733.9L1443.1 732.4L1444.2 731.5L1445.3 731.6L1446.3 732.5L1447.4 734.1L1448.5 736.1L1449.5 738L1450.6 739.8L1451.6 740.9L1452.7 741.2L1453.8 740.5L1454.8 738.9L1455.9 737L1456.9 735L1458 733.4L1459 732.6L1460.1 732.9L1461.1 734.1L1462.2 735.6L1463.2 737.1L1464.3 738L1465.3 737.9L1466.4 737L1467.4 735.5L1468.5 733.9L1469.5 732.4L1470.6 731.5L1471.6 731.6L1472.7 732.5L1473.7 734.1L1474.8 736.1L1475.8 738L1476.9 739.8L1477.9 740.9L1479 741.2L1480 740.5L1481.1 738.9L1482.1 737L1483.2 735L1484.2 733.4L1485.3 732.6L1486.3 732.9L1487.4 734.1L1488.4 735.6L1489.5 737.1L1490.5 738L1491.6 737.9L1492.6 737L1493.7 735.5L1494.7 733.9L1495.8 732.4L1496.9 731.5L1497.9 731.6L1499 732.5L1500 734.1L1501.1 736.1L1502.1 738L1503.2 739.8L1504.2 740.9L1505.3 741.2L1506.3 740.5L1507.4 738.9L1508.4 737L1509.5 735L1510.5 733.4L1511.6 732.6L1512.6 732.9L1513.7 734.1L1514.7 735.6L1515.8 737.1L1516.8 738L1517.9 737.9L1518.9 737L1520 735.5L1521 733.9L1522.1 732.4L1523.1 731.5L1524.2 731.6L1525.2 732.5L1526.3 734.1L1527.3 736.1L1528.4 738L1529.4 739.8L1530.5 740.9L1531.5 741.2L1532.6 740.5L1533.6 738.9L1534.7 737L1535.7 735L1536.8 733.4L1537.8 732.6L1538.9 732.9L1539.9 734.1L1541 735.6L1542.1 737.1L1543.1 738L1544.2 737.9L1545.2 737L1546.3 735.5L1547.3 733.9L1548.4 732.4L1549.4 731.5L1550.5 731.6L1551.5 732.5L1552.6 734.1L1553.6 736.1L1554.7 738L1555.7 739.8L1556.8 740.9L1557.8 741.2L1558.9 740.5L1559.9 738.9L1561 737L1562 735L1563.1 733.4L1564.1 732.6L1565.2 732.9L1566.2 734.1L1567.3 735.6L1568.3 737.1L1569.4 738L1570.4 737.9L1571.5 737L1572.5 735.5L1573.6 733.9L1574.6 732.4L1575.7 731.5L1576.7 731.6L1577.8 732.5L1578.8 734.1L1579.9 736.1L1580.9 738L1582 739.8L1583 740.9L1584.1 741.2L1585.2 740.5L1586.2 738.9L1587.3 737L1588.3 735L1589.4 733.4L1590.4 732.6L1591.5 732.9L1592.5 734.1L1593.6 735.6L1594.6 737.1L1595.7 738L1596.7 737.9L1597.8 737L1598.8 735.5L1599.9 733.9L1600.9 732.4L1602 731.5L1603 731.6L1604.1 732.5L1605.1 734.1L1606.2 736.1L1607.2 738L1608.3 739.8L1609.3 740.9L1610.4 741.2L1611.4 740.5L1612.5 738.9L1613.5 737L1614.6 735L1615.6 733.4L1616.7 732.6L1617.7 732.9L1618.8 734.1L1619.8 735.6L1620.9 737.1L1621.9 738L1623 737.9L1624 737L1625.1 735.5L1626.1 733.9L1627.2 732.4L1628.3 731.5L1629.3 731.6L1630.4 732.5L1631.4 734.1L1632.5 736.1L1633.5 738L1634.6 739.8L1635.6 740.9L1636.7 741.2L1637.7 740.5L1638.8 738.9L1639.8 737L1640.9 735L1641.9 733.4L1643 732.6L1644 732.9L1645.1 734.1L1646.1 735.6L1647.2 737.1L1648.2 738L1649.3 737.9L1650.3 737L1651.4 735.5L1652.4 733.9L1653.5 732.4L1654.5 731.5L1655.6 731.6L1656.6 732.5L1657.7 734.1L1658.7 736.1L1659.8 738L1660.8 739.8L1661.9 740.9L1662.9 741.2L1664 740.5L1665 738.9L1666.1 737L1667.1 735L1668.2 733.4L1669.2 732.6L1670.3 732.9L1671.3 734.1L1672.4 735.6L1673.5 737.1L1674.5 738L1675.6 737.9L1676.6 737L1677.7 735.5L1678.7 733.9L1679.8 732.4L1680.8 731.5L1681.9 731.6L1682.9 732.5L1684 734.1L1685 736.1L1686.1 738L1687.1 739.8L1688.2 740.9L1689.2 741.2L1690.3 740.5L1691.3 738.9L1692.4 737L1693.4 735L1694.5 733.4L1695.5 732.6L1696.6 732.9L1697.6 734.1L1698.7 735.6L1699.7 737.1L1700.8 738L1701.8 737.9L1702.9 737L1703.9 735.5L1705 733.9L1706 732.4L1707.1 731.5L1708.1 731.6L1709.2 732.5L1710.2 734.1L1711.3 736.1L1712.3 738L1713.4 739.8L1714.4 740.9L1715.5 741.2" fill="none" stroke="#4DBBEB" stroke-width="3.5" stroke-linejoin="round"/>
<circle cx="129.6" cy="1096.1" r="6.9" fill="#fff" stroke="#4DBBEB" stroke-width="3.3"/>
<circle cx="182.3" cy="1033.3" r="6.9" fill="#fff" stroke="#4DBBEB" stroke-width="3.3"/>
<circle cx="235" cy="962.7" r="6.9" fill="#fff" stroke="#4DBBEB" stroke-width="3.3"/>
<circle cx="287.6" cy="904.2" r="6.9" fill="#fff" stroke="#4DBBEB" stroke-width="3.3"/>
<circle cx="340.3" cy="861.8" r="6.9" fill="#fff" stroke="#4DBBEB" stroke-width="3.3"/>
<circle cx="393" cy="830.7" r="6.9" fill="#fff" stroke="#4DBBEB" stroke-width="3.3"/>
<circle cx="445.9" cy="805.3" r="6.9" fill="#fff" stroke="#4DBBEB" stroke-width="3.3"/>
<circle cx="498.9" cy="790.5" r="6.9" fill="#fff" stroke="#4DBBEB" stroke-width="3.3"/>
<circle cx="551.8" cy="778.8" r="6.9" fill="#fff" stroke="#4DBBEB" stroke-width="3.3"/>
<circle cx="604.8" cy="768.1" r="6.9" fill="#fff" stroke="#4DBBEB" stroke-width="3.3"/>
<circle cx="657.7" cy="760.9" r="6.9" fill="#fff" stroke="#4DBBEB" stroke-width="3.3"/>
<circle cx="710.7" cy="756.1" r="6.9" fill="#fff" stroke="#4DBBEB" stroke-width="3.3"/>
<circle cx="763.6" cy="752.3" r="6.9" fill="#fff" stroke="#4DBBEB" stroke-width="3.3"/>
<circle cx="816.6" cy="749.5" r="6.9" fill="#fff" stroke="#4DBBEB" stroke-width="3.3"/>
<circle cx="869.5" cy="747.2" r="6.9" fill="#fff" stroke="#4DBBEB" stroke-width="3.3"/>
<circle cx="922.5" cy="744.8" r="6.9" fill="#fff" stroke="#4DBBEB" stroke-width="3.3"/>
<circle cx="975.5" cy="743.7" r="6.9" fill="#fff" stroke="#4DBBEB" stroke-width="3.3"/>
<circle cx="1028.5" cy="743.3" r="6.9" fill="#fff" stroke="#4DBBEB" stroke-width="3.3"/>
<circle cx="1081.6" cy="742.9" r="6.9" fill="#fff" stroke="#4DBBEB" stroke-width="3.3"/>
<circle cx="1134.6" cy="742.7" r="6.9" fill="#fff" stroke="#4DBBEB" stroke-width="3.3"/>
<circle cx="1187.6" cy="742.5" r="6.9" fill="#fff" stroke="#4DBBEB" stroke-width="3.3"/>
<circle cx="1240.7" cy="742.5" r="6.9" fill="#fff" stroke="#4DBBEB" stroke-width="3.3"/>
<circle cx="1293.8" cy="742.5" r="6.9" fill="#fff" stroke="#4DBBEB" stroke-width="3.3"/>
<circle cx="1347" cy="742.5" r="6.9" fill="#fff" stroke="#4DBBEB" stroke-width="3.3"/>
<circle cx="1400.1" cy="742.5" r="6.9" fill="#fff" stroke="#4DBBEB" stroke-width="3.3"/>
<circle cx="1453.2" cy="742.5" r="6.9" fill="#fff" stroke="#4DBBEB" stroke-width="3.3"/>
<circle cx="1505.8" cy="742.5" r="6.9" fill="#fff" stroke="#4DBBEB" stroke-width="3.3"/>
<circle cx="1558.3" cy="742.5" r="6.9" fill="#fff" stroke="#4DBBEB" stroke-width="3.3"/>
<circle cx="1610.9" cy="742.5" r="6.9" fill="#fff" stroke="#4DBBEB" stroke-width="3.3"/>
<circle cx="1663.4" cy="742.5" r="6.9" fill="#fff" stroke="#4DBBEB" stroke-width="3.3"/>
<circle cx="1716" cy="742.5" r="6.9" fill="#fff" stroke="#4DBBEB" stroke-width="3.3"/>
<path d="M129.1 1094.1L130.2 1092.5L131.2 1090.4L132.3 1088.1L133.3 1085.7L134.4 1083.5L135.4 1081.8L136.5 1080.8L137.5 1080.2L138.6 1079.9L139.6 1079.6L140.7 1078.9L141.7 1077.6L142.8 1075.8L143.9 1073.6L144.9 1071.3L146 1069.1L147 1067.3L148.1 1066.1L149.1 1065.5L150.2 1065.3L151.2 1065.4L152.3 1065.5L153.3 1065.4L154.4 1065L155.4 1064L156.5 1062.3L157.5 1060.1L158.6 1057.6L159.7 1055.1L160.7 1052.7L161.8 1050.9L162.8 1049.8L163.9 1049.2L164.9 1048.9L166 1048.5L167 1047.8L168.1 1046.4L169.1 1044.4L170.2 1042.1L171.2 1039.7L172.3 1037.4L173.4 1035.5L174.4 1034.2L175.5 1033.5L176.5 1033.4L177.6 1033.4L178.6 1033.5L179.7 1033.5L180.7 1033L181.8 1031.9L182.8 1030.1L183.9 1027.8L184.9 1025.1L186 1022.4L187 1019.9L188.1 1017.9L189.2 1016.7L190.2 1016L191.3 1015.7L192.3 1015.2L193.4 1014.4L194.4 1012.8L195.5 1010.7L196.5 1008.1L197.6 1005.5L198.6 1002.9L199.7 1000.8L200.7 999.4L201.8 998.6L202.9 998.4L203.9 998.4L205 998.4L206 998.3L207.1 997.7L208.1 996.5L209.2 994.6L210.2 992L211.3 989.2L212.3 986.3L213.4 983.7L214.4 981.6L215.5 980.3L216.5 979.6L217.6 979.3L218.7 978.9L219.7 978.1L220.8 976.5L221.8 974.3L222.9 971.8L223.9 969.1L225 966.6L226 964.5L227.1 963.2L228.1 962.6L229.2 962.5L230.2 962.7L231.3 963L232.4 963.1L233.4 962.7L234.5 961.8L235.5 960L236.6 957.6L237.6 954.8L238.7 952.1L239.7 949.6L240.8 947.7L241.8 946.6L242.9 946.1L243.9 946L245 945.9L246 945.3L247.1 943.9L248.2 941.9L249.2 939.4L250.3 936.8L251.3 934.5L252.4 932.5L253.4 931.3L254.5 930.9L255.5 931L256.6 931.4L257.6 931.9L258.7 932.2L259.7 932L260.8 931.1L261.9 929.4L262.9 927L264 924.3L265 921.6L266.1 919.2L267.1 917.4L268.2 916.4L269.2 916.1L270.3 916.2L271.3 916.2L272.4 915.8L273.4 914.5L274.5 912.6L275.6 910.2L276.6 907.8L277.7 905.5L278.7 903.7L279.8 902.6L280.8 902.4L281.9 902.7L282.9 903.4L284 904.1L285 904.6L286.1 904.6L287.1 904L288.2 902.4L289.2 900.2L290.3 897.6L291.4 895L292.4 892.7L293.5 891L294.5 890.2L295.6 890.2L296.6 890.5L297.7 890.7L298.7 890.4L299.8 889.3L300.8 887.5L301.9 885.3L302.9 882.9L304 880.7L305.1 879.1L306.1 878.2L307.2 878.1L308.2 878.7L309.3 879.5L310.3 880.4L311.4 881.1L312.4 881.3L313.5 880.7L314.5 879.3L315.6 877.1L316.6 874.6L317.7 872.1L318.7 869.9L319.8 868.3L320.9 867.7L321.9 867.8L323 868.2L324 868.6L325.1 868.5L326.1 867.6L327.2 865.9L328.2 863.7L329.3 861.4L330.3 859.3L331.4 857.8L332.4 857L333.5 857.1L334.6 857.9L335.6 858.9L336.7 860L337.7 860.8L338.8 861.2L339.8 860.8L340.9 859.5L341.9 857.4L343 855L344 852.6L345.1 850.5L346.1 849L347.2 848.5L348.2 848.8L349.3 849.4L350.4 850L351.4 850L352.5 849.2L353.5 847.6L354.6 845.6L355.6 843.4L356.7 841.4L357.7 840L358.8 839.3L359.8 839.6L360.9 840.5L361.9 841.7L363 842.9L364.1 843.9L365.1 844.4L366.2 844.1L367.2 842.9L368.3 840.9L369.3 838.6L370.4 836.3L371.4 834.2L372.5 832.8L373.5 832.4L374.6 832.8L375.6 833.5L376.7 834.2L377.7 834.4L378.8 833.6L379.9 832.1L380.9 830.1L382 827.9L383 826L384.1 824.5L385.1 824L386.2 824.3L387.2 825.3L388.3 826.6L389.3 828L390.4 829.1L391.4 829.7L392.5 829.5L393.6 828.3L394.6 826.3L395.7 824L396.7 821.6L397.8 819.6L398.9 818.2L399.9 817.8L401 818.3L402 819.1L403.1 819.8L404.1 820L405.2 819.3L406.3 817.8L407.3 815.7L408.4 813.6L409.4 811.6L410.5 810.2L411.6 809.7L412.6 810.1L413.7 811.1L414.7 812.5L415.8 813.9L416.9 815.1L417.9 815.7L419 815.6L420 814.4L421.1 812.5L422.1 810.1L423.2 807.8L424.3 805.8L425.3 804.4L426.4 804.1L427.4 804.7L428.5 805.6L429.6 806.4L430.6 806.7L431.7 806.1L432.7 804.6L433.8 802.7L434.9 800.6L435.9 798.8L437 797.5L438 797.1L439.1 797.6L440.1 798.8L441.2 800.3L442.3 801.9L443.3 803.2L444.4 804.1L445.4 804.1L446.5 803L447.6 801.2L448.6 799L449.7 796.8L450.7 795L451.8 793.8L452.9 793.7L453.9 794.4L455 795.4L456 796.4L457.1 796.9L458.1 796.4L459.2 795.1L460.3 793.3L461.3 791.4L462.4 789.6L463.4 788.5L464.5 788.2L465.6 788.9L466.6 790.2L467.7 791.9L468.7 793.6L469.8 795.1L470.9 796L471.9 796.1L473 795.1L474 793.4L475.1 791.3L476.1 789.1L477.2 787.3L478.3 786.2L479.3 786.2L480.4 787L481.4 788.1L482.5 789.2L483.6 789.7L484.6 789.3L485.7 788L486.7 786.3L487.8 784.4L488.9 782.7L489.9 781.5L491 781.3L492 782L493.1 783.4L494.1 785.1L495.2 786.9L496.3 788.4L497.3 789.4L498.4 789.5L499.4 788.6L500.5 786.9L501.6 784.8L502.6 782.6L503.7 780.8L504.7 779.7L505.8 779.7L506.9 780.5L507.9 781.7L509 782.8L510 783.4L511.1 783L512.1 781.7L513.2 780L514.3 778.1L515.3 776.4L516.4 775.3L517.4 775.1L518.5 775.8L519.6 777.2L520.6 779L521.7 780.8L522.7 782.4L523.8 783.4L524.9 783.5L525.9 782.6L527 780.9L528 778.8L529.1 776.7L530.1 774.9L531.2 773.9L532.3 773.8L533.3 774.7L534.4 775.9L535.4 777L536.5 777.6L537.6 777.3L538.6 776L539.7 774.3L540.7 772.4L541.8 770.7L542.8 769.6L543.9 769.4L545 770.2L546 771.6L547.1 773.4L548.1 775.2L549.2 776.8L550.3 777.9L551.3 778L552.4 777.1L553.4 775.4L554.5 773.3L555.6 771.2L556.6 769.4L557.7 768.3L558.7 768.3L559.8 769.1L560.8 770.4L561.9 771.5L563 772.1L564 771.7L565.1 770.5L566.1 768.7L567.2 766.8L568.3 765.1L569.3 764L570.4 763.8L571.4 764.6L572.5 766L573.6 767.8L574.6 769.7L575.7 771.2L576.7 772.3L577.8 772.4L578.8 771.5L579.9 769.8L581 767.7L582 765.6L583.1 763.8L584.1 762.7L585.2 762.7L586.3 763.6L587.3 764.9L588.4 766L589.4 766.6L590.5 766.3L591.6 765.1L592.6 763.3L593.7 761.4L594.7 759.7L595.8 758.7L596.8 758.5L597.9 759.3L599 760.8L600 762.7L601.1 764.6L602.1 766.2L603.2 767.3L604.3 767.5L605.3 766.7L606.4 765L607.4 762.9L608.5 760.8L609.6 759.1L610.6 758.1L611.7 758.1L612.7 759.1L613.8 760.4L614.8 761.6L615.9 762.3L617 762L618 760.8L619.1 759.1L620.1 757.2L621.2 755.6L622.3 754.5L623.3 754.4L624.4 755.3L625.4 756.8L626.5 758.7L627.6 760.7L628.6 762.4L629.7 763.5L630.7 763.7L631.8 762.9L632.8 761.3L633.9 759.2L635 757.1L636 755.4L637.1 754.4L638.1 754.5L639.2 755.5L640.3 756.8L641.3 758.1L642.4 758.8L643.4 758.5L644.5 757.3L645.6 755.6L646.6 753.8L647.7 752.2L648.7 751.2L649.8 751.1L650.8 752L651.9 753.5L653 755.5L654 757.5L655.1 759.2L656.1 760.3L657.2 760.6L658.3 759.8L659.3 758.2L660.4 756.1L661.4 754.1L662.5 752.4L663.6 751.4L664.6 751.5L665.7 752.5L666.7 753.9L667.8 755.1L668.9 755.9L669.9 755.6L671 754.5L672 752.8L673.1 751L674.1 749.4L675.2 748.4L676.3 748.3L677.3 749.2L678.4 750.8L679.4 752.8L680.5 754.8L681.6 756.5L682.6 757.7L683.7 758L684.7 757.2L685.8 755.6L686.9 753.6L687.9 751.5L689 749.8L690 748.9L691.1 749L692.2 750L693.2 751.4L694.3 752.7L695.3 753.4L696.4 753.2L697.4 752L698.5 750.4L699.6 748.6L700.6 747L701.7 746L702.7 745.9L703.8 746.9L704.9 748.5L705.9 750.4L707 752.5L708 754.2L709.1 755.4L710.2 755.7L711.2 754.9L712.3 753.3L713.3 751.3L714.4 749.3L715.5 747.6L716.5 746.6L717.6 746.8L718.6 747.8L719.7 749.2L720.8 750.5L721.8 751.2L722.9 751L723.9 749.9L725 748.2L726 746.4L727.1 744.8L728.2 743.8L729.2 743.8L730.3 744.7L731.3 746.3L732.4 748.3L733.5 750.4L734.5 752.2L735.6 753.4L736.6 753.7L737.7 752.9L738.8 751.3L739.8 749.3L740.9 747.2L741.9 745.5L743 744.6L744.1 744.7L745.1 745.8L746.2 747.2L747.2 748.5L748.3 749.3L749.4 749L750.4 747.9L751.5 746.3L752.5 744.5L753.6 742.9L754.6 741.9L755.7 741.9L756.8 742.8L757.8 744.5L758.9 746.5L759.9 748.5L761 750.3L762.1 751.5L763.1 751.9L764.2 751.1L765.2 749.5L766.3 747.5L767.4 745.5L768.4 743.8L769.5 742.8L770.5 743L771.6 744L772.7 745.5L773.7 746.8L774.8 747.6L775.8 747.4L776.9 746.3L777.9 744.6L779 742.8L780.1 741.3L781.1 740.3L782.2 740.3L783.2 741.2L784.3 742.9L785.4 744.9L786.4 747L787.5 748.8L788.5 750L789.6 750.3L790.7 749.6L791.7 748L792.8 746L793.8 744L794.9 742.3L796 741.4L797 741.5L798.1 742.6L799.1 744L800.2 745.4L801.3 746.2L802.3 746L803.4 744.9L804.4 743.2L805.5 741.4L806.5 739.9L807.6 738.9L808.7 738.9L809.7 739.9L810.8 741.5L811.8 743.5L812.9 745.6L814 747.4L815 748.7L816.1 749L817.1 748.3L818.2 746.7L819.3 744.7L820.3 742.6L821.4 741L822.4 740.1L823.5 740.2L824.6 741.3L825.6 742.7L826.7 744.1L827.7 744.9L828.8 744.7L829.8 743.6L830.9 741.9L832 740.2L833 738.6L834.1 737.6L835.1 737.6L836.2 738.6L837.3 740.3L838.3 742.3L839.4 744.4L840.4 746.2L841.5 747.5L842.6 747.8L843.6 747.1L844.7 745.5L845.7 743.5L846.8 741.5L847.9 739.8L848.9 738.9L850 739.1L851 740.1L852.1 741.6L853.2 742.9L854.2 743.7L855.3 743.5L856.3 742.4L857.4 740.8L858.4 739L859.5 737.5L860.6 736.5L861.6 736.5L862.7 737.5L863.7 739.1L864.8 741.2L865.9 743.3L866.9 745.1L868 746.3L869 746.7L870.1 745.9L871.2 744.3L872.2 742.3L873.3 740.3L874.3 738.6L875.4 737.7L876.5 737.9L877.5 738.9L878.6 740.4L879.6 741.7L880.7 742.5L881.8 742.3L882.8 741.2L883.9 739.5L884.9 737.8L886 736.2L887 735.2L888.1 735.2L889.2 736.2L890.2 737.8L891.3 739.9L892.3 741.9L893.4 743.8L894.5 745L895.5 745.3L896.6 744.6L897.6 743L898.7 741L899.8 738.9L900.8 737.3L901.9 736.3L902.9 736.5L904 737.6L905.1 739L906.1 740.4L907.2 741.2L908.2 741L909.3 739.9L910.3 738.2L911.4 736.5L912.5 734.9L913.5 733.9L914.6 733.9L915.6 734.9L916.7 736.6L917.8 738.7L918.8 740.8L919.9 742.6L920.9 743.9L922 744.2L923.1 743.5L924.1 741.9L925.2 739.9L926.2 737.9L927.3 736.2L928.4 735.3L929.4 735.5L930.5 736.6L931.5 738.1L932.6 739.5L933.7 740.3L934.7 740.1L935.8 739L936.8 737.4L937.9 735.6L939 734.1L940 733.1L941.1 733.2L942.1 734.2L943.2 735.9L944.3 737.9L945.3 740.1L946.4 741.9L947.4 743.2L948.5 743.5L949.6 742.8L950.6 741.3L951.7 739.3L952.8 737.3L953.8 735.6L954.9 734.7L955.9 734.9L957 736L958.1 737.5L959.1 738.9L960.2 739.7L961.2 739.5L962.3 738.5L963.4 736.9L964.4 735.1L965.5 733.6L966.5 732.6L967.6 732.6L968.7 733.7L969.7 735.4L970.8 737.4L971.8 739.6L972.9 741.4L974 742.7L975 743.1L976.1 742.4L977.1 740.8L978.2 738.9L979.3 736.9L980.3 735.2L981.4 734.3L982.4 734.5L983.5 735.6L984.6 737.1L985.6 738.6L986.7 739.4L987.7 739.2L988.8 738.2L989.9 736.6L990.9 734.8L992 733.3L993 732.3L994.1 732.4L995.2 733.4L996.2 735.1L997.3 737.2L998.3 739.3L999.4 741.2L1000.5 742.5L1001.5 742.9L1002.6 742.2L1003.7 740.6L1004.7 738.6L1005.8 736.6L1006.8 735L1007.9 734.1L1009 734.3L1010 735.4L1011.1 737L1012.1 738.4L1013.2 739.2L1014.3 739L1015.3 738L1016.4 736.4L1017.4 734.6L1018.5 733.1L1019.6 732.2L1020.6 732.2L1021.7 733.2L1022.7 734.9L1023.8 737L1024.9 739.2L1025.9 741L1027 742.3L1028 742.7L1029.1 742L1030.2 740.4L1031.2 738.5L1032.3 736.5L1033.3 734.8L1034.4 733.9L1035.5 734.2L1036.5 735.3L1037.6 736.8L1038.6 738.2L1039.7 739L1040.8 738.8L1041.8 737.8L1042.9 736.2L1043.9 734.4L1045 732.9L1046.1 731.9L1047.1 732L1048.2 733L1049.2 734.7L1050.3 736.8L1051.4 738.9L1052.4 740.8L1053.5 742.1L1054.5 742.5L1055.6 741.8L1056.7 740.2L1057.7 738.2L1058.8 736.2L1059.9 734.6L1060.9 733.7L1062 733.9L1063 735L1064.1 736.5L1065.2 738L1066.2 738.8L1067.3 738.6L1068.3 737.5L1069.4 735.9L1070.5 734.2L1071.5 732.7L1072.6 731.7L1073.6 731.8L1074.7 732.8L1075.8 734.5L1076.8 736.6L1077.9 738.7L1078.9 740.6L1080 741.9L1081.1 742.3L1082.1 741.6L1083.2 740L1084.2 738.1L1085.3 736.1L1086.4 734.4L1087.4 733.5L1088.5 733.8L1089.5 734.9L1090.6 736.4L1091.7 737.8L1092.7 738.6L1093.8 738.5L1094.8 737.4L1095.9 735.8L1097 734.1L1098 732.5L1099.1 731.6L1100.1 731.6L1101.2 732.7L1102.3 734.4L1103.3 736.5L1104.4 738.6L1105.4 740.5L1106.5 741.8L1107.6 742.2L1108.6 741.5L1109.7 739.9L1110.8 738L1111.8 736L1112.9 734.3L1113.9 733.4L1115 733.7L1116.1 734.8L1117.1 736.3L1118.2 737.7L1119.2 738.5L1120.3 738.4L1121.4 737.3L1122.4 735.7L1123.5 734L1124.5 732.4L1125.6 731.5L1126.7 731.5L1127.7 732.6L1128.8 734.3L1129.8 736.4L1130.9 738.5L1132 740.4L1133 741.7L1134.1 742.1L1135.1 741.4L1136.2 739.8L1137.3 737.9L1138.3 735.9L1139.4 734.2L1140.4 733.3L1141.5 733.6L1142.6 734.7L1143.6 736.2L1144.7 737.6L1145.7 738.4L1146.8 738.3L1147.9 737.2L1148.9 735.6L1150 733.8L1151 732.3L1152.1 731.4L1153.2 731.4L1154.2 732.5L1155.3 734.2L1156.3 736.3L1157.4 738.4L1158.5 740.3L1159.5 741.6L1160.6 742L1161.7 741.2L1162.7 739.7L1163.8 737.7L1164.8 735.7L1165.9 734.1L1167 733.2L1168 733.4L1169.1 734.5L1170.1 736.1L1171.2 737.5L1172.3 738.3L1173.3 738.1L1174.4 737.1L1175.4 735.5L1176.5 733.7L1177.6 732.2L1178.6 731.3L1179.7 731.3L1180.7 732.4L1181.8 734.1L1182.9 736.2L1183.9 738.3L1185 740.2L1186 741.5L1187.1 741.9L1188.2 741.2L1189.2 739.6L1190.3 737.7L1191.3 735.7L1192.4 734L1193.5 733.2L1194.5 733.4L1195.6 734.5L1196.7 736L1197.7 737.4L1198.8 738.3L1199.8 738.1L1200.9 737.1L1202 735.5L1203 733.7L1204.1 732.2L1205.2 731.3L1206.2 731.3L1207.3 732.3L1208.3 734.1L1209.4 736.2L1210.5 738.3L1211.5 740.2L1212.6 741.5L1213.7 741.9L1214.7 741.2L1215.8 739.6L1216.8 737.7L1217.9 735.7L1219 734L1220 733.2L1221.1 733.4L1222.2 734.5L1223.2 736L1224.3 737.4L1225.3 738.3L1226.4 738.1L1227.5 737.1L1228.5 735.5L1229.6 733.7L1230.7 732.2L1231.7 731.3L1232.8 731.3L1233.8 732.3L1234.9 734.1L1236 736.2L1237 738.3L1238.1 740.2L1239.2 741.5L1240.2 741.9L1241.3 741.2L1242.3 739.6L1243.4 737.7L1244.5 735.7L1245.5 734L1246.6 733.2L1247.7 733.4L1248.7 734.5L1249.8 736L1250.8 737.4L1251.9 738.3L1253 738.1L1254 737.1L1255.1 735.5L1256.2 733.7L1257.2 732.2L1258.3 731.3L1259.3 731.3L1260.4 732.3L1261.5 734.1L1262.5 736.2L1263.6 738.3L1264.7 740.2L1265.7 741.5L1266.8 741.9L1267.8 741.2L1268.9 739.6L1270 737.7L1271 735.7L1272.1 734L1273.2 733.2L1274.2 733.4L1275.3 734.5L1276.3 736L1277.4 737.4L1278.5 738.3L1279.5 738.1L1280.6 737.1L1281.7 735.5L1282.7 733.7L1283.8 732.2L1284.8 731.3L1285.9 731.3L1287 732.3L1288 734.1L1289.1 736.2L1290.2 738.3L1291.2 740.2L1292.3 741.5L1293.3 741.9L1294.4 741.2L1295.5 739.6L1296.5 737.7L1297.6 735.7L1298.7 734L1299.7 733.2L1300.8 733.4L1301.8 734.5L1302.9 736L1304 737.4L1305 738.3L1306.1 738.1L1307.2 737.1L1308.2 735.5L1309.3 733.7L1310.3 732.2L1311.4 731.3L1312.5 731.3L1313.5 732.3L1314.6 734.1L1315.7 736.2L1316.7 738.3L1317.8 740.2L1318.8 741.5L1319.9 741.9L1321 741.2L1322 739.6L1323.1 737.7L1324.1 735.7L1325.2 734L1326.3 733.2L1327.3 733.4L1328.4 734.5L1329.5 736L1330.5 737.4L1331.6 738.3L1332.6 738.1L1333.7 737.1L1334.8 735.5L1335.8 733.7L1336.9 732.2L1338 731.3L1339 731.3L1340.1 732.3L1341.1 734.1L1342.2 736.2L1343.3 738.3L1344.3 740.2L1345.4 741.5L1346.5 741.9L1347.5 741.2L1348.6 739.6L1349.6 737.7L1350.7 735.7L1351.8 734L1352.8 733.2L1353.9 733.4L1355 734.5L1356 736L1357.1 737.4L1358.1 738.3L1359.2 738.1L1360.3 737.1L1361.3 735.5L1362.4 733.7L1363.5 732.2L1364.5 731.3L1365.6 731.3L1366.6 732.3L1367.7 734.1L1368.8 736.2L1369.8 738.3L1370.9 740.2L1372 741.5L1373 741.9L1374.1 741.2L1375.1 739.6L1376.2 737.7L1377.3 735.7L1378.3 734L1379.4 733.2L1380.5 733.4L1381.5 734.5L1382.6 736L1383.6 737.4L1384.7 738.3L1385.8 738.1L1386.8 737.1L1387.9 735.5L1389 733.7L1390 732.2L1391.1 731.3L1392.1 731.3L1393.2 732.3L1394.3 734.1L1395.3 736.2L1396.4 738.3L1397.5 740.2L1398.5 741.5L1399.6 741.9L1400.6 741.2L1401.7 739.6L1402.8 737.7L1403.8 735.7L1404.9 734L1406 733.2L1407 733.4L1408.1 734.5L1409.1 736L1410.2 737.4L1411.3 738.3L1412.3 738.1L1413.4 737.1L1414.5 735.5L1415.5 733.7L1416.6 732.2L1417.6 731.3L1418.7 731.3L1419.8 732.3L1420.8 734.1L1421.9 736.2L1423 738.3L1424 740.2L1425.1 741.5L1426.1 741.9L1427.2 741.2L1428.3 739.6L1429.3 737.7L1430.4 735.7L1431.5 734L1432.5 733.2L1433.6 733.4L1434.6 734.5L1435.7 736L1436.8 737.4L1437.8 738.3L1438.9 738.1L1440 737.1L1441 735.5L1442.1 733.7L1443.1 732.2L1444.2 731.3L1445.3 731.3L1446.3 732.3L1447.4 734.1L1448.5 736.2L1449.5 738.3L1450.6 740.2L1451.6 741.5L1452.7 741.9L1453.8 741.2L1454.8 739.6L1455.9 737.7L1456.9 735.7L1458 734L1459 733.2L1460.1 733.4L1461.1 734.5L1462.2 736L1463.2 737.4L1464.3 738.3L1465.3 738.1L1466.4 737.1L1467.4 735.5L1468.5 733.7L1469.5 732.2L1470.6 731.3L1471.6 731.3L1472.7 732.3L1473.7 734.1L1474.8 736.2L1475.8 738.3L1476.9 740.2L1477.9 741.5L1479 741.9L1480 741.2L1481.1 739.6L1482.1 737.7L1483.2 735.7L1484.2 734L1485.3 733.2L1486.3 733.4L1487.4 734.5L1488.4 736L1489.5 737.4L1490.5 738.3L1491.6 738.1L1492.6 737.1L1493.7 735.5L1494.7 733.7L1495.8 732.2L1496.9 731.3L1497.9 731.3L1499 732.3L1500 734.1L1501.1 736.2L1502.1 738.3L1503.2 740.2L1504.2 741.5L1505.3 741.9L1506.3 741.2L1507.4 739.6L1508.4 737.7L1509.5 735.7L1510.5 734L1511.6 733.2L1512.6 733.4L1513.7 734.5L1514.7 736L1515.8 737.4L1516.8 738.3L1517.9 738.1L1518.9 737.1L1520 735.5L1521 733.7L1522.1 732.2L1523.1 731.3L1524.2 731.3L1525.2 732.3L1526.3 734.1L1527.3 736.2L1528.4 738.3L1529.4 740.2L1530.5 741.5L1531.5 741.9L1532.6 741.2L1533.6 739.6L1534.7 737.7L1535.7 735.7L1536.8 734L1537.8 733.2L1538.9 733.4L1539.9 734.5L1541 736L1542.1 737.4L1543.1 738.3L1544.2 738.1L1545.2 737.1L1546.3 735.5L1547.3 733.7L1548.4 732.2L1549.4 731.3L1550.5 731.3L1551.5 732.3L1552.6 734.1L1553.6 736.2L1554.7 738.3L1555.7 740.2L1556.8 741.5L1557.8 741.9L1558.9 741.2L1559.9 739.6L1561 737.7L1562 735.7L1563.1 734L1564.1 733.2L1565.2 733.4L1566.2 734.5L1567.3 736L1568.3 737.4L1569.4 738.3L1570.4 738.1L1571.5 737.1L1572.5 735.5L1573.6 733.7L1574.6 732.2L1575.7 731.3L1576.7 731.3L1577.8 732.3L1578.8 734.1L1579.9 736.2L1580.9 738.3L1582 740.2L1583 741.5L1584.1 741.9L1585.2 741.2L1586.2 739.6L1587.3 737.7L1588.3 735.7L1589.4 734L1590.4 733.2L1591.5 733.4L1592.5 734.5L1593.6 736L1594.6 737.4L1595.7 738.3L1596.7 738.1L1597.8 737.1L1598.8 735.5L1599.9 733.7L1600.9 732.2L1602 731.3L1603 731.3L1604.1 732.3L1605.1 734.1L1606.2 736.2L1607.2 738.3L1608.3 740.2L1609.3 741.5L1610.4 741.9L1611.4 741.2L1612.5 739.6L1613.5 737.7L1614.6 735.7L1615.6 734L1616.7 733.2L1617.7 733.4L1618.8 734.5L1619.8 736L1620.9 737.4L1621.9 738.3L1623 738.1L1624 737.1L1625.1 735.5L1626.1 733.7L1627.2 732.2L1628.3 731.3L1629.3 731.3L1630.4 732.3L1631.4 734.1L1632.5 736.2L1633.5 738.3L1634.6 740.2L1635.6 741.5L1636.7 741.9L1637.7 741.2L1638.8 739.6L1639.8 737.7L1640.9 735.7L1641.9 734L1643 733.2L1644 733.4L1645.1 734.5L1646.1 736L1647.2 737.4L1648.2 738.3L1649.3 738.1L1650.3 737.1L1651.4 735.5L1652.4 733.7L1653.5 732.2L1654.5 731.3L1655.6 731.3L1656.6 732.3L1657.7 734.1L1658.7 736.2L1659.8 738.3L1660.8 740.2L1661.9 741.5L1662.9 741.9L1664 741.2L1665 739.6L1666.1 737.7L1667.1 735.7L1668.2 734L1669.2 733.2L1670.3 733.4L1671.3 734.5L1672.4 736L1673.5 737.4L1674.5 738.3L1675.6 738.1L1676.6 737.1L1677.7 735.5L1678.7 733.7L1679.8 732.2L1680.8 731.3L1681.9 731.3L1682.9 732.3L1684 734.1L1685 736.2L1686.1 738.3L1687.1 740.2L1688.2 741.5L1689.2 741.9L1690.3 741.2L1691.3 739.6L1692.4 737.7L1693.4 735.7L1694.5 734L1695.5 733.2L1696.6 733.4L1697.6 734.5L1698.7 736L1699.7 737.4L1700.8 738.3L1701.8 738.1L1702.9 737.1L1703.9 735.5L1705 733.7L1706 732.2L1707.1 731.3L1708.1 731.3L1709.2 732.3L1710.2 734.1L1711.3 736.2L1712.3 738.3L1713.4 740.2L1714.4 741.5L1715.5 741.9" fill="none" stroke="#1E3C96" stroke-width="3.5" stroke-linejoin="round"/>
<rect x="125.1" y="1091.6" width="8.9" height="8.9" fill="#fff" stroke="#1E3C96" stroke-width="5"/>
<rect x="177.8" y="1029.2" width="8.9" height="8.9" fill="#fff" stroke="#1E3C96" stroke-width="5"/>
<rect x="230.5" y="958.9" width="8.9" height="8.9" fill="#fff" stroke="#1E3C96" stroke-width="5"/>
<rect x="283.2" y="900.7" width="8.9" height="8.9" fill="#fff" stroke="#1E3C96" stroke-width="5"/>
<rect x="335.9" y="858.3" width="8.9" height="8.9" fill="#fff" stroke="#1E3C96" stroke-width="5"/>
<rect x="388.5" y="827.2" width="8.9" height="8.9" fill="#fff" stroke="#1E3C96" stroke-width="5"/>
<rect x="441.5" y="801.8" width="8.9" height="8.9" fill="#fff" stroke="#1E3C96" stroke-width="5"/>
<rect x="494.4" y="787.1" width="8.9" height="8.9" fill="#fff" stroke="#1E3C96" stroke-width="5"/>
<rect x="547.4" y="775.4" width="8.9" height="8.9" fill="#fff" stroke="#1E3C96" stroke-width="5"/>
<rect x="600.3" y="764.7" width="8.9" height="8.9" fill="#fff" stroke="#1E3C96" stroke-width="5"/>
<rect x="653.2" y="757.4" width="8.9" height="8.9" fill="#fff" stroke="#1E3C96" stroke-width="5"/>
<rect x="706.2" y="752.6" width="8.9" height="8.9" fill="#fff" stroke="#1E3C96" stroke-width="5"/>
<rect x="759.2" y="748.8" width="8.9" height="8.9" fill="#fff" stroke="#1E3C96" stroke-width="5"/>
<rect x="812.1" y="746" width="8.9" height="8.9" fill="#fff" stroke="#1E3C96" stroke-width="5"/>
<rect x="865.1" y="743.7" width="8.9" height="8.9" fill="#fff" stroke="#1E3C96" stroke-width="5"/>
<rect x="918" y="741.3" width="8.9" height="8.9" fill="#fff" stroke="#1E3C96" stroke-width="5"/>
<rect x="971.1" y="740.2" width="8.9" height="8.9" fill="#fff" stroke="#1E3C96" stroke-width="5"/>
<rect x="1024.1" y="739.8" width="8.9" height="8.9" fill="#fff" stroke="#1E3C96" stroke-width="5"/>
<rect x="1077.1" y="739.4" width="8.9" height="8.9" fill="#fff" stroke="#1E3C96" stroke-width="5"/>
<rect x="1130.1" y="739.2" width="8.9" height="8.9" fill="#fff" stroke="#1E3C96" stroke-width="5"/>
<rect x="1183.1" y="739" width="8.9" height="8.9" fill="#fff" stroke="#1E3C96" stroke-width="5"/>
<rect x="1236.3" y="739" width="8.9" height="8.9" fill="#fff" stroke="#1E3C96" stroke-width="5"/>
<rect x="1289.4" y="739" width="8.9" height="8.9" fill="#fff" stroke="#1E3C96" stroke-width="5"/>
<rect x="1342.5" y="739" width="8.9" height="8.9" fill="#fff" stroke="#1E3C96" stroke-width="5"/>
<rect x="1395.6" y="739" width="8.9" height="8.9" fill="#fff" stroke="#1E3C96" stroke-width="5"/>
<rect x="1448.7" y="739" width="8.9" height="8.9" fill="#fff" stroke="#1E3C96" stroke-width="5"/>
<rect x="1501.3" y="739" width="8.9" height="8.9" fill="#fff" stroke="#1E3C96" stroke-width="5"/>
<rect x="1553.9" y="739" width="8.9" height="8.9" fill="#fff" stroke="#1E3C96" stroke-width="5"/>
<rect x="1606.4" y="739" width="8.9" height="8.9" fill="#fff" stroke="#1E3C96" stroke-width="5"/>
<rect x="1659" y="739" width="8.9" height="8.9" fill="#fff" stroke="#1E3C96" stroke-width="5"/>
<rect x="1711.5" y="739" width="8.9" height="8.9" fill="#fff" stroke="#1E3C96" stroke-width="5"/>
<path d="M129.1 1094.7L130.2 1093.2L131.2 1091.2L132.3 1088.9L133.3 1086.5L134.4 1084.2L135.4 1082.5L136.5 1081.3L137.5 1080.7L138.6 1080.4L139.6 1079.9L140.7 1079.1L141.7 1077.7L142.8 1075.7L143.9 1073.3L144.9 1070.9L146 1068.6L147 1066.8L148.1 1065.6L149.1 1065.1L150.2 1065.1L151.2 1065.3L152.3 1065.6L153.3 1065.8L154.4 1065.5L155.4 1064.7L156.5 1063.1L157.5 1060.9L158.6 1058.4L159.7 1055.8L160.7 1053.5L161.8 1051.6L162.8 1050.4L163.9 1049.8L164.9 1049.3L166 1048.9L167 1048L168.1 1046.5L169.1 1044.3L170.2 1041.9L171.2 1039.3L172.3 1036.9L173.4 1034.9L174.4 1033.7L175.5 1033.1L176.5 1033.1L177.6 1033.4L178.6 1033.7L179.7 1033.8L180.7 1033.6L181.8 1032.6L182.8 1030.9L183.9 1028.6L184.9 1026L186 1023.2L187 1020.7L188.1 1018.7L189.2 1017.3L190.2 1016.6L191.3 1016.1L192.3 1015.6L193.4 1014.6L194.4 1012.9L195.5 1010.5L196.5 1007.8L197.6 1005L198.6 1002.4L199.7 1000.3L200.7 998.9L201.8 998.2L202.9 998.1L203.9 998.3L205 998.6L206 998.7L207.1 998.3L208.1 997.3L209.2 995.4L210.2 992.9L211.3 990.1L212.3 987.2L213.4 984.5L214.4 982.4L215.5 981L216.5 980.2L217.6 979.8L218.7 979.2L219.7 978.3L220.8 976.6L221.8 974.2L222.9 971.5L223.9 968.7L225 966L226 963.9L227.1 962.6L228.1 962.1L229.2 962.2L230.2 962.7L231.3 963.2L232.4 963.5L233.4 963.3L234.5 962.5L235.5 960.8L236.6 958.5L237.6 955.8L238.7 953L239.7 950.5L240.8 948.5L241.8 947.3L242.9 946.8L243.9 946.6L245 946.3L246 945.5L247.1 944L248.2 941.7L249.2 939.1L250.3 936.4L251.3 933.9L252.4 931.9L253.4 930.8L254.5 930.4L255.5 930.7L256.6 931.4L257.6 932.1L258.7 932.6L259.7 932.6L260.8 931.9L261.9 930.3L262.9 928L264 925.3L265 922.6L266.1 920.1L267.1 918.2L268.2 917.2L269.2 916.8L270.3 916.7L271.3 916.6L272.4 916L273.4 914.6L274.5 912.5L275.6 909.9L276.6 907.3L277.7 904.9L278.7 903L279.8 902L280.8 901.9L281.9 902.5L282.9 903.3L284 904.3L285 905L286.1 905.3L287.1 904.8L288.2 903.4L289.2 901.2L290.3 898.6L291.4 896L292.4 893.6L293.5 891.9L294.5 891L295.6 890.9L296.6 891L297.7 891.1L298.7 890.7L299.8 889.4L300.8 887.4L301.9 885L302.9 882.4L304 880.1L305.1 878.4L306.1 877.6L307.2 877.6L308.2 878.4L309.3 879.4L310.3 880.6L311.4 881.5L312.4 882L313.5 881.6L314.5 880.3L315.6 878.2L316.6 875.7L317.7 873.2L318.7 870.9L319.8 869.2L320.9 868.5L321.9 868.5L323 868.8L324 869L325.1 868.8L326.1 867.6L327.2 865.7L328.2 863.4L329.3 860.9L330.3 858.7L331.4 857.1L332.4 856.4L333.5 856.6L334.6 857.5L335.6 858.8L336.7 860.2L337.7 861.3L338.8 861.9L339.8 861.7L340.9 860.5L341.9 858.5L343 856.1L344 853.7L345.1 851.5L346.1 850L347.2 849.4L348.2 849.5L349.3 850L350.4 850.4L351.4 850.3L352.5 849.3L353.5 847.5L354.6 845.2L355.6 842.9L356.7 840.8L357.7 839.3L358.8 838.7L359.8 839.1L360.9 840.1L361.9 841.6L363 843.1L364.1 844.4L365.1 845.1L366.2 845.1L367.2 844L368.3 842.1L369.3 839.7L370.4 837.3L371.4 835.2L372.5 833.8L373.5 833.2L374.6 833.5L375.6 834.1L376.7 834.7L377.7 834.6L378.8 833.7L379.9 831.9L380.9 829.7L382 827.4L383 825.3L384.1 823.8L385.1 823.3L386.2 823.8L387.2 825L388.3 826.6L389.3 828.2L390.4 829.6L391.4 830.5L392.5 830.4L393.6 829.4L394.6 827.5L395.7 825.2L396.7 822.7L397.8 820.6L398.9 819.2L399.9 818.7L401 819L402 819.7L403.1 820.3L404.1 820.3L405.2 819.4L406.3 817.6L407.3 815.4L408.4 813L409.4 811L410.5 809.5L411.6 809L412.6 809.6L413.7 810.8L414.7 812.4L415.8 814.1L416.9 815.6L417.9 816.5L419 816.5L420 815.5L421.1 813.6L422.1 811.3L423.2 808.9L424.3 806.8L425.3 805.4L426.4 805L427.4 805.4L428.5 806.2L429.6 806.9L430.6 807L431.7 806.2L432.7 804.5L433.8 802.3L434.9 800.1L435.9 798.1L437 796.7L438 796.4L439.1 797L440.1 798.4L441.2 800.2L442.3 802.1L443.3 803.8L444.4 804.8L445.4 805L446.5 804.1L447.6 802.4L448.6 800.2L449.7 798L450.7 796L451.8 794.8L452.9 794.6L453.9 795.1L455 796.1L456 796.9L457.1 797.2L458.1 796.5L459.2 795L460.3 792.9L461.3 790.8L462.4 788.9L463.4 787.7L464.5 787.5L465.6 788.3L466.6 789.8L467.7 791.8L468.7 793.8L469.8 795.6L470.9 796.8L471.9 797.1L473 796.2L474 794.6L475.1 792.5L476.1 790.3L477.2 788.4L478.3 787.2L479.3 787.1L480.4 787.7L481.4 788.8L482.5 789.7L483.6 790L484.6 789.4L485.7 787.9L486.7 785.9L487.8 783.8L488.9 782L489.9 780.8L491 780.6L492 781.5L493.1 783.1L494.1 785.1L495.2 787.1L496.3 788.9L497.3 790.2L498.4 790.5L499.4 789.7L500.5 788.1L501.6 786L502.6 783.8L503.7 781.9L504.7 780.7L505.8 780.6L506.9 781.3L507.9 782.3L509 783.3L510 783.7L511.1 783.1L512.1 781.6L513.2 779.6L514.3 777.5L515.3 775.7L516.4 774.5L517.4 774.4L518.5 775.3L519.6 776.9L520.6 778.9L521.7 781L522.7 782.9L523.8 784.2L524.9 784.5L525.9 783.8L527 782.1L528 780.1L529.1 777.9L530.1 776L531.2 774.9L532.3 774.8L533.3 775.5L534.4 776.6L535.4 777.5L536.5 777.9L537.6 777.3L538.6 775.9L539.7 773.9L540.7 771.8L541.8 770L542.8 768.8L543.9 768.7L545 769.6L546 771.3L547.1 773.3L548.1 775.5L549.2 777.4L550.3 778.6L551.3 779L552.4 778.3L553.4 776.6L554.5 774.5L555.6 772.4L556.6 770.5L557.7 769.3L558.7 769.2L559.8 769.9L560.8 771L561.9 772L563 772.4L564 771.8L565.1 770.3L566.1 768.3L567.2 766.2L568.3 764.4L569.3 763.2L570.4 763.1L571.4 764L572.5 765.7L573.6 767.7L574.6 769.9L575.7 771.8L576.7 773.1L577.8 773.5L578.8 772.7L579.9 771.1L581 769L582 766.8L583.1 764.9L584.1 763.8L585.2 763.7L586.3 764.4L587.3 765.5L588.4 766.5L589.4 766.9L590.5 766.4L591.6 764.9L592.6 762.9L593.7 760.8L594.7 759L595.8 757.9L596.8 757.8L597.9 758.8L599 760.5L600 762.6L601.1 764.8L602.1 766.8L603.2 768.1L604.3 768.5L605.3 767.8L606.4 766.2L607.4 764.2L608.5 762L609.6 760.2L610.6 759.1L611.7 759.1L612.7 759.9L613.8 761L614.8 762.1L615.9 762.6L617 762L618 760.6L619.1 758.7L620.1 756.6L621.2 754.9L622.3 753.8L623.3 753.7L624.4 754.7L625.4 756.5L626.5 758.7L627.6 760.9L628.6 762.9L629.7 764.3L630.7 764.8L631.8 764.1L632.8 762.5L633.9 760.5L635 758.4L636 756.6L637.1 755.5L638.1 755.5L639.2 756.3L640.3 757.5L641.3 758.6L642.4 759.1L643.4 758.6L644.5 757.2L645.6 755.3L646.6 753.2L647.7 751.5L648.7 750.4L649.8 750.4L650.8 751.4L651.9 753.2L653 755.4L654 757.7L655.1 759.7L656.1 761.1L657.2 761.6L658.3 761L659.3 759.4L660.4 757.4L661.4 755.3L662.5 753.5L663.6 752.4L664.6 752.4L665.7 753.3L666.7 754.5L667.8 755.7L668.9 756.2L669.9 755.7L671 754.3L672 752.4L673.1 750.4L674.1 748.7L675.2 747.6L676.3 747.6L677.3 748.6L678.4 750.5L679.4 752.7L680.5 755L681.6 757.1L682.6 758.5L683.7 759L684.7 758.4L685.8 756.8L686.9 754.8L687.9 752.7L689 751L690 749.9L691.1 749.9L692.2 750.8L693.2 752.1L694.3 753.2L695.3 753.7L696.4 753.3L697.4 751.9L698.5 750L699.6 748L700.6 746.3L701.7 745.2L702.7 745.2L703.8 746.3L704.9 748.1L705.9 750.4L707 752.7L708 754.8L709.1 756.2L710.2 756.8L711.2 756.1L712.3 754.6L713.3 752.6L714.4 750.5L715.5 748.7L716.5 747.7L717.6 747.7L718.6 748.6L719.7 749.9L720.8 751L721.8 751.6L722.9 751.1L723.9 749.7L725 747.8L726 745.8L727.1 744.1L728.2 743L729.2 743.1L730.3 744.1L731.3 746L732.4 748.3L733.5 750.6L734.5 752.7L735.6 754.2L736.6 754.7L737.7 754.1L738.8 752.5L739.8 750.5L740.9 748.4L741.9 746.7L743 745.7L744.1 745.7L745.1 746.6L746.2 747.9L747.2 749L748.3 749.6L749.4 749.1L750.4 747.8L751.5 745.9L752.5 743.9L753.6 742.2L754.6 741.1L755.7 741.1L756.8 742.2L757.8 744.1L758.9 746.4L759.9 748.8L761 750.9L762.1 752.3L763.1 752.9L764.2 752.3L765.2 750.8L766.3 748.8L767.4 746.7L768.4 744.9L769.5 743.9L770.5 744L771.6 744.9L772.7 746.2L773.7 747.3L774.8 747.9L775.8 747.5L776.9 746.1L777.9 744.2L779 742.2L780.1 740.5L781.1 739.5L782.2 739.5L783.2 740.7L784.3 742.5L785.4 744.8L786.4 747.2L787.5 749.3L788.5 750.8L789.6 751.4L790.7 750.8L791.7 749.3L792.8 747.3L793.8 745.2L794.9 743.5L796 742.4L797 742.5L798.1 743.4L799.1 744.7L800.2 745.9L801.3 746.5L802.3 746L803.4 744.7L804.4 742.8L805.5 740.8L806.5 739.1L807.6 738.1L808.7 738.1L809.7 739.3L810.8 741.2L811.8 743.5L812.9 745.9L814 748L815 749.5L816.1 750L817.1 749.4L818.2 747.9L819.3 745.9L820.3 743.9L821.4 742.1L822.4 741.1L823.5 741.2L824.6 742.1L825.6 743.4L826.7 744.6L827.7 745.2L828.8 744.8L829.8 743.4L830.9 741.6L832 739.6L833 737.9L834.1 736.9L835.1 736.9L836.2 738L837.3 739.9L838.3 742.2L839.4 744.6L840.4 746.8L841.5 748.3L842.6 748.9L843.6 748.2L844.7 746.7L845.7 744.8L846.8 742.7L847.9 741L848.9 739.9L850 740L851 740.9L852.1 742.3L853.2 743.5L854.2 744.1L855.3 743.6L856.3 742.3L857.4 740.4L858.4 738.4L859.5 736.7L860.6 735.7L861.6 735.7L862.7 736.9L863.7 738.8L864.8 741.1L865.9 743.5L866.9 745.6L868 747.1L869 747.7L870.1 747.1L871.2 745.6L872.2 743.6L873.3 741.5L874.3 739.8L875.4 738.8L876.5 738.8L877.5 739.7L878.6 741.1L879.6 742.2L880.7 742.8L881.8 742.4L882.8 741L883.9 739.2L884.9 737.2L886 735.4L887 734.4L888.1 734.4L889.2 735.6L890.2 737.5L891.3 739.8L892.3 742.2L893.4 744.3L894.5 745.8L895.5 746.4L896.6 745.8L897.6 744.3L898.7 742.3L899.8 740.2L900.8 738.4L901.9 737.4L902.9 737.5L904 738.4L905.1 739.7L906.1 740.9L907.2 741.5L908.2 741.1L909.3 739.7L910.3 737.9L911.4 735.9L912.5 734.2L913.5 733.1L914.6 733.2L915.6 734.3L916.7 736.2L917.8 738.6L918.8 741L919.9 743.1L920.9 744.7L922 745.3L923.1 744.7L924.1 743.2L925.2 741.2L926.2 739.1L927.3 737.4L928.4 736.4L929.4 736.5L930.5 737.5L931.5 738.8L932.6 740L933.7 740.6L934.7 740.2L935.8 738.9L936.8 737L937.9 735.1L939 733.4L940 732.4L941.1 732.4L942.1 733.6L943.2 735.5L944.3 737.9L945.3 740.3L946.4 742.5L947.4 744L948.5 744.6L949.6 744L950.6 742.5L951.7 740.6L952.8 738.5L953.8 736.8L954.9 735.8L955.9 735.9L957 736.8L958.1 738.2L959.1 739.4L960.2 740L961.2 739.6L962.3 738.3L963.4 736.5L964.4 734.5L965.5 732.8L966.5 731.8L967.6 731.9L968.7 733.1L969.7 735L970.8 737.4L971.8 739.8L972.9 742L974 743.5L975 744.2L976.1 743.6L977.1 742.1L978.2 740.1L979.3 738.1L980.3 736.4L981.4 735.4L982.4 735.5L983.5 736.5L984.6 737.8L985.6 739.1L986.7 739.7L987.7 739.3L988.8 738L989.9 736.2L990.9 734.2L992 732.5L993 731.5L994.1 731.6L995.2 732.8L996.2 734.8L997.3 737.1L998.3 739.6L999.4 741.8L1000.5 743.3L1001.5 743.9L1002.6 743.4L1003.7 741.9L1004.7 739.9L1005.8 737.9L1006.8 736.2L1007.9 735.2L1009 735.3L1010 736.3L1011.1 737.6L1012.1 738.9L1013.2 739.5L1014.3 739.1L1015.3 737.8L1016.4 736L1017.4 734L1018.5 732.3L1019.6 731.4L1020.6 731.4L1021.7 732.6L1022.7 734.6L1023.8 736.9L1024.9 739.4L1025.9 741.6L1027 743.1L1028 743.7L1029.1 743.2L1030.2 741.7L1031.2 739.7L1032.3 737.7L1033.3 736L1034.4 735L1035.5 735.1L1036.5 736.1L1037.6 737.4L1038.6 738.7L1039.7 739.3L1040.8 738.9L1041.8 737.6L1042.9 735.8L1043.9 733.8L1045 732.1L1046.1 731.1L1047.1 731.2L1048.2 732.4L1049.2 734.4L1050.3 736.7L1051.4 739.2L1052.4 741.4L1053.5 742.9L1054.5 743.5L1055.6 743L1056.7 741.5L1057.7 739.5L1058.8 737.5L1059.9 735.8L1060.9 734.8L1062 734.9L1063 735.9L1064.1 737.2L1065.2 738.5L1066.2 739.1L1067.3 738.7L1068.3 737.4L1069.4 735.6L1070.5 733.6L1071.5 731.9L1072.6 730.9L1073.6 731L1074.7 732.2L1075.8 734.2L1076.8 736.5L1077.9 739L1078.9 741.2L1080 742.7L1081.1 743.3L1082.1 742.8L1083.2 741.3L1084.2 739.3L1085.3 737.3L1086.4 735.6L1087.4 734.6L1088.5 734.7L1089.5 735.7L1090.6 737.1L1091.7 738.3L1092.7 739L1093.8 738.6L1094.8 737.2L1095.9 735.4L1097 733.5L1098 731.8L1099.1 730.8L1100.1 730.9L1101.2 732.1L1102.3 734L1103.3 736.4L1104.4 738.9L1105.4 741L1106.5 742.6L1107.6 743.2L1108.6 742.7L1109.7 741.2L1110.8 739.2L1111.8 737.2L1112.9 735.5L1113.9 734.5L1115 734.6L1116.1 735.6L1117.1 737L1118.2 738.2L1119.2 738.9L1120.3 738.5L1121.4 737.2L1122.4 735.3L1123.5 733.4L1124.5 731.7L1125.6 730.7L1126.7 730.8L1127.7 732L1128.8 733.9L1129.8 736.3L1130.9 738.8L1132 741L1133 742.5L1134.1 743.1L1135.1 742.6L1136.2 741.1L1137.3 739.1L1138.3 737.1L1139.4 735.4L1140.4 734.4L1141.5 734.5L1142.6 735.5L1143.6 736.9L1144.7 738.1L1145.7 738.8L1146.8 738.4L1147.9 737L1148.9 735.2L1150 733.3L1151 731.6L1152.1 730.6L1153.2 730.7L1154.2 731.9L1155.3 733.8L1156.3 736.2L1157.4 738.6L1158.5 740.8L1159.5 742.4L1160.6 743L1161.7 742.4L1162.7 741L1163.8 739L1164.8 737L1165.9 735.3L1167 734.3L1168 734.4L1169.1 735.4L1170.1 736.7L1171.2 738L1172.3 738.6L1173.3 738.2L1174.4 736.9L1175.4 735.1L1176.5 733.1L1177.6 731.5L1178.6 730.5L1179.7 730.6L1180.7 731.8L1181.8 733.7L1182.9 736.1L1183.9 738.6L1185 740.7L1186 742.3L1187.1 742.9L1188.2 742.4L1189.2 740.9L1190.3 739L1191.3 736.9L1192.4 735.2L1193.5 734.2L1194.5 734.4L1195.6 735.3L1196.7 736.7L1197.7 738L1198.8 738.6L1199.8 738.2L1200.9 736.9L1202 735.1L1203 733.1L1204.1 731.5L1205.2 730.5L1206.2 730.6L1207.3 731.8L1208.3 733.7L1209.4 736.1L1210.5 738.6L1211.5 740.7L1212.6 742.3L1213.7 742.9L1214.7 742.4L1215.8 740.9L1216.8 739L1217.9 736.9L1219 735.2L1220 734.2L1221.1 734.4L1222.2 735.3L1223.2 736.7L1224.3 738L1225.3 738.6L1226.4 738.2L1227.5 736.9L1228.5 735.1L1229.6 733.1L1230.7 731.5L1231.7 730.5L1232.8 730.6L1233.8 731.8L1234.9 733.7L1236 736.1L1237 738.6L1238.1 740.7L1239.2 742.3L1240.2 742.9L1241.3 742.4L1242.3 740.9L1243.4 739L1244.5 736.9L1245.5 735.2L1246.6 734.2L1247.7 734.4L1248.7 735.3L1249.8 736.7L1250.8 738L1251.9 738.6L1253 738.2L1254 736.9L1255.1 735.1L1256.2 733.1L1257.2 731.5L1258.3 730.5L1259.3 730.6L1260.4 731.8L1261.5 733.7L1262.5 736.1L1263.6 738.6L1264.7 740.7L1265.7 742.3L1266.8 742.9L1267.8 742.4L1268.9 740.9L1270 739L1271 736.9L1272.1 735.2L1273.2 734.2L1274.2 734.4L1275.3 735.3L1276.3 736.7L1277.4 738L1278.5 738.6L1279.5 738.2L1280.6 736.9L1281.7 735.1L1282.7 733.1L1283.8 731.5L1284.8 730.5L1285.9 730.6L1287 731.8L1288 733.7L1289.1 736.1L1290.2 738.6L1291.2 740.7L1292.3 742.3L1293.3 742.9L1294.4 742.4L1295.5 740.9L1296.5 739L1297.6 736.9L1298.7 735.2L1299.7 734.2L1300.8 734.4L1301.8 735.3L1302.9 736.7L1304 738L1305 738.6L1306.1 738.2L1307.2 736.9L1308.2 735.1L1309.3 733.1L1310.3 731.5L1311.4 730.5L1312.5 730.6L1313.5 731.8L1314.6 733.7L1315.7 736.1L1316.7 738.6L1317.8 740.7L1318.8 742.3L1319.9 742.9L1321 742.4L1322 740.9L1323.1 739L1324.1 736.9L1325.2 735.2L1326.3 734.2L1327.3 734.4L1328.4 735.3L1329.5 736.7L1330.5 738L1331.6 738.6L1332.6 738.2L1333.7 736.9L1334.8 735.1L1335.8 733.1L1336.9 731.5L1338 730.5L1339 730.6L1340.1 731.8L1341.1 733.7L1342.2 736.1L1343.3 738.6L1344.3 740.7L1345.4 742.3L1346.5 742.9L1347.5 742.4L1348.6 740.9L1349.6 739L1350.7 736.9L1351.8 735.2L1352.8 734.2L1353.9 734.4L1355 735.3L1356 736.7L1357.1 738L1358.1 738.6L1359.2 738.2L1360.3 736.9L1361.3 735.1L1362.4 733.1L1363.5 731.5L1364.5 730.5L1365.6 730.6L1366.6 731.8L1367.7 733.7L1368.8 736.1L1369.8 738.6L1370.9 740.7L1372 742.3L1373 742.9L1374.1 742.4L1375.1 740.9L1376.2 739L1377.3 736.9L1378.3 735.2L1379.4 734.2L1380.5 734.4L1381.5 735.3L1382.6 736.7L1383.6 738L1384.7 738.6L1385.8 738.2L1386.8 736.9L1387.9 735.1L1389 733.1L1390 731.5L1391.1 730.5L1392.1 730.6L1393.2 731.8L1394.3 733.7L1395.3 736.1L1396.4 738.6L1397.5 740.7L1398.5 742.3L1399.6 742.9L1400.6 742.4L1401.7 740.9L1402.8 739L1403.8 736.9L1404.9 735.2L1406 734.2L1407 734.4L1408.1 735.3L1409.1 736.7L1410.2 738L1411.3 738.6L1412.3 738.2L1413.4 736.9L1414.5 735.1L1415.5 733.1L1416.6 731.5L1417.6 730.5L1418.7 730.6L1419.8 731.8L1420.8 733.7L1421.9 736.1L1423 738.6L1424 740.7L1425.1 742.3L1426.1 742.9L1427.2 742.4L1428.3 740.9L1429.3 739L1430.4 736.9L1431.5 735.2L1432.5 734.2L1433.6 734.4L1434.6 735.3L1435.7 736.7L1436.8 738L1437.8 738.6L1438.9 738.2L1440 736.9L1441 735.1L1442.1 733.1L1443.1 731.5L1444.2 730.5L1445.3 730.6L1446.3 731.8L1447.4 733.7L1448.5 736.1L1449.5 738.6L1450.6 740.7L1451.6 742.3L1452.7 742.9L1453.8 742.4L1454.8 740.9L1455.9 739L1456.9 736.9L1458 735.2L1459 734.2L1460.1 734.4L1461.1 735.3L1462.2 736.7L1463.2 738L1464.3 738.6L1465.3 738.2L1466.4 736.9L1467.4 735.1L1468.5 733.1L1469.5 731.5L1470.6 730.5L1471.6 730.6L1472.7 731.8L1473.7 733.7L1474.8 736.1L1475.8 738.6L1476.9 740.7L1477.9 742.3L1479 742.9L1480 742.4L1481.1 740.9L1482.1 739L1483.2 736.9L1484.2 735.2L1485.3 734.2L1486.3 734.4L1487.4 735.3L1488.4 736.7L1489.5 738L1490.5 738.6L1491.6 738.2L1492.6 736.9L1493.7 735.1L1494.7 733.1L1495.8 731.5L1496.9 730.5L1497.9 730.6L1499 731.8L1500 733.7L1501.1 736.1L1502.1 738.6L1503.2 740.7L1504.2 742.3L1505.3 742.9L1506.3 742.4L1507.4 740.9L1508.4 739L1509.5 736.9L1510.5 735.2L1511.6 734.2L1512.6 734.4L1513.7 735.3L1514.7 736.7L1515.8 738L1516.8 738.6L1517.9 738.2L1518.9 736.9L1520 735.1L1521 733.1L1522.1 731.5L1523.1 730.5L1524.2 730.6L1525.2 731.8L1526.3 733.7L1527.3 736.1L1528.4 738.6L1529.4 740.7L1530.5 742.3L1531.5 742.9L1532.6 742.4L1533.6 740.9L1534.7 739L1535.7 736.9L1536.8 735.2L1537.8 734.2L1538.9 734.4L1539.9 735.3L1541 736.7L1542.1 738L1543.1 738.6L1544.2 738.2L1545.2 736.9L1546.3 735.1L1547.3 733.1L1548.4 731.5L1549.4 730.5L1550.5 730.6L1551.5 731.8L1552.6 733.7L1553.6 736.1L1554.7 738.6L1555.7 740.7L1556.8 742.3L1557.8 742.9L1558.9 742.4L1559.9 740.9L1561 739L1562 736.9L1563.1 735.2L1564.1 734.2L1565.2 734.4L1566.2 735.3L1567.3 736.7L1568.3 738L1569.4 738.6L1570.4 738.2L1571.5 736.9L1572.5 735.1L1573.6 733.1L1574.6 731.5L1575.7 730.5L1576.7 730.6L1577.8 731.8L1578.8 733.7L1579.9 736.1L1580.9 738.6L1582 740.7L1583 742.3L1584.1 742.9L1585.2 742.4L1586.2 740.9L1587.3 739L1588.3 736.9L1589.4 735.2L1590.4 734.2L1591.5 734.4L1592.5 735.3L1593.6 736.7L1594.6 738L1595.7 738.6L1596.7 738.2L1597.8 736.9L1598.8 735.1L1599.9 733.1L1600.9 731.5L1602 730.5L1603 730.6L1604.1 731.8L1605.1 733.7L1606.2 736.1L1607.2 738.6L1608.3 740.7L1609.3 742.3L1610.4 742.9L1611.4 742.4L1612.5 740.9L1613.5 739L1614.6 736.9L1615.6 735.2L1616.7 734.2L1617.7 734.4L1618.8 735.3L1619.8 736.7L1620.9 738L1621.9 738.6L1623 738.2L1624 736.9L1625.1 735.1L1626.1 733.1L1627.2 731.5L1628.3 730.5L1629.3 730.6L1630.4 731.8L1631.4 733.7L1632.5 736.1L1633.5 738.6L1634.6 740.7L1635.6 742.3L1636.7 742.9L1637.7 742.4L1638.8 740.9L1639.8 739L1640.9 736.9L1641.9 735.2L1643 734.2L1644 734.4L1645.1 735.3L1646.1 736.7L1647.2 738L1648.2 738.6L1649.3 738.2L1650.3 736.9L1651.4 735.1L1652.4 733.1L1653.5 731.5L1654.5 730.5L1655.6 730.6L1656.6 731.8L1657.7 733.7L1658.7 736.1L1659.8 738.6L1660.8 740.7L1661.9 742.3L1662.9 742.9L1664 742.4L1665 740.9L1666.1 739L1667.1 736.9L1668.2 735.2L1669.2 734.2L1670.3 734.4L1671.3 735.3L1672.4 736.7L1673.5 738L1674.5 738.6L1675.6 738.2L1676.6 736.9L1677.7 735.1L1678.7 733.1L1679.8 731.5L1680.8 730.5L1681.9 730.6L1682.9 731.8L1684 733.7L1685 736.1L1686.1 738.6L1687.1 740.7L1688.2 742.3L1689.2 742.9L1690.3 742.4L1691.3 740.9L1692.4 739L1693.4 736.9L1694.5 735.2L1695.5 734.2L1696.6 734.4L1697.6 735.3L1698.7 736.7L1699.7 738L1700.8 738.6L1701.8 738.2L1702.9 736.9L1703.9 735.1L1705 733.1L1706 731.5L1707.1 730.5L1708.1 730.6L1709.2 731.8L1710.2 733.7L1711.3 736.1L1712.3 738.6L1713.4 740.7L1714.4 742.3L1715.5 742.9" fill="none" stroke="#F0963A" stroke-width="3.5" stroke-linejoin="round"/>
<polygon points="129.6,1084.9 138.9,1101 120.3,1101" fill="#fff" stroke="#F0963A" stroke-width="3.3" stroke-linejoin="miter" stroke-miterlimit="10"/>
<polygon points="182.3,1022.8 191.6,1038.9 173,1038.9" fill="#fff" stroke="#F0963A" stroke-width="3.3" stroke-linejoin="miter" stroke-miterlimit="10"/>
<polygon points="235,952.8 244.3,968.9 225.7,968.9" fill="#fff" stroke="#F0963A" stroke-width="3.3" stroke-linejoin="miter" stroke-miterlimit="10"/>
<polygon points="287.6,895 296.9,911.1 278.3,911.1" fill="#fff" stroke="#F0963A" stroke-width="3.3" stroke-linejoin="miter" stroke-miterlimit="10"/>
<polygon points="340.3,852.6 349.6,868.7 331,868.7" fill="#fff" stroke="#F0963A" stroke-width="3.3" stroke-linejoin="miter" stroke-miterlimit="10"/>
<polygon points="393,821.5 402.3,837.6 383.7,837.6" fill="#fff" stroke="#F0963A" stroke-width="3.3" stroke-linejoin="miter" stroke-miterlimit="10"/>
<polygon points="445.9,796.1 455.2,812.2 436.6,812.2" fill="#fff" stroke="#F0963A" stroke-width="3.3" stroke-linejoin="miter" stroke-miterlimit="10"/>
<polygon points="498.9,781.4 508.2,797.5 489.6,797.5" fill="#fff" stroke="#F0963A" stroke-width="3.3" stroke-linejoin="miter" stroke-miterlimit="10"/>
<polygon points="551.8,769.7 561.1,785.8 542.5,785.8" fill="#fff" stroke="#F0963A" stroke-width="3.3" stroke-linejoin="miter" stroke-miterlimit="10"/>
<polygon points="604.8,759 614.1,775 595.5,775" fill="#fff" stroke="#F0963A" stroke-width="3.3" stroke-linejoin="miter" stroke-miterlimit="10"/>
<polygon points="657.7,751.7 667,767.8 648.4,767.8" fill="#fff" stroke="#F0963A" stroke-width="3.3" stroke-linejoin="miter" stroke-miterlimit="10"/>
<polygon points="710.7,746.9 720,763 701.4,763" fill="#fff" stroke="#F0963A" stroke-width="3.3" stroke-linejoin="miter" stroke-miterlimit="10"/>
<polygon points="763.6,743.1 772.9,759.2 754.3,759.2" fill="#fff" stroke="#F0963A" stroke-width="3.3" stroke-linejoin="miter" stroke-miterlimit="10"/>
<polygon points="816.6,740.3 825.9,756.4 807.3,756.4" fill="#fff" stroke="#F0963A" stroke-width="3.3" stroke-linejoin="miter" stroke-miterlimit="10"/>
<polygon points="869.5,738 878.8,754.1 860.2,754.1" fill="#fff" stroke="#F0963A" stroke-width="3.3" stroke-linejoin="miter" stroke-miterlimit="10"/>
<polygon points="922.5,735.6 931.8,751.7 913.2,751.7" fill="#fff" stroke="#F0963A" stroke-width="3.3" stroke-linejoin="miter" stroke-miterlimit="10"/>
<polygon points="975.5,734.5 984.8,750.6 966.2,750.6" fill="#fff" stroke="#F0963A" stroke-width="3.3" stroke-linejoin="miter" stroke-miterlimit="10"/>
<polygon points="1028.5,734.1 1037.8,750.2 1019.2,750.2" fill="#fff" stroke="#F0963A" stroke-width="3.3" stroke-linejoin="miter" stroke-miterlimit="10"/>
<polygon points="1081.6,733.7 1090.9,749.8 1072.3,749.8" fill="#fff" stroke="#F0963A" stroke-width="3.3" stroke-linejoin="miter" stroke-miterlimit="10"/>
<polygon points="1134.6,733.5 1143.9,749.6 1125.3,749.6" fill="#fff" stroke="#F0963A" stroke-width="3.3" stroke-linejoin="miter" stroke-miterlimit="10"/>
<polygon points="1187.6,733.3 1196.9,749.4 1178.3,749.4" fill="#fff" stroke="#F0963A" stroke-width="3.3" stroke-linejoin="miter" stroke-miterlimit="10"/>
<polygon points="1240.7,733.3 1250,749.4 1231.4,749.4" fill="#fff" stroke="#F0963A" stroke-width="3.3" stroke-linejoin="miter" stroke-miterlimit="10"/>
<polygon points="1293.8,733.3 1303.1,749.4 1284.5,749.4" fill="#fff" stroke="#F0963A" stroke-width="3.3" stroke-linejoin="miter" stroke-miterlimit="10"/>
<polygon points="1347,733.3 1356.3,749.4 1337.7,749.4" fill="#fff" stroke="#F0963A" stroke-width="3.3" stroke-linejoin="miter" stroke-miterlimit="10"/>
<polygon points="1400.1,733.3 1409.4,749.4 1390.8,749.4" fill="#fff" stroke="#F0963A" stroke-width="3.3" stroke-linejoin="miter" stroke-miterlimit="10"/>
<polygon points="1453.2,733.3 1462.5,749.4 1443.9,749.4" fill="#fff" stroke="#F0963A" stroke-width="3.3" stroke-linejoin="miter" stroke-miterlimit="10"/>
<polygon points="1505.8,733.3 1515.1,749.4 1496.5,749.4" fill="#fff" stroke="#F0963A" stroke-width="3.3" stroke-linejoin="miter" stroke-miterlimit="10"/>
<polygon points="1558.3,733.3 1567.6,749.4 1549,749.4" fill="#fff" stroke="#F0963A" stroke-width="3.3" stroke-linejoin="miter" stroke-miterlimit="10"/>
<polygon points="1610.9,733.3 1620.2,749.4 1601.6,749.4" fill="#fff" stroke="#F0963A" stroke-width="3.3" stroke-linejoin="miter" stroke-miterlimit="10"/>
<polygon points="1663.4,733.3 1672.7,749.4 1654.1,749.4" fill="#fff" stroke="#F0963A" stroke-width="3.3" stroke-linejoin="miter" stroke-miterlimit="10"/>
<polygon points="1716,733.3 1725.3,749.4 1706.7,749.4" fill="#fff" stroke="#F0963A" stroke-width="3.3" stroke-linejoin="miter" stroke-miterlimit="10"/>
<path d="M129.1 1095.6L130.2 1094.2L131.2 1092.2L132.3 1089.8L133.3 1087.4L134.4 1085.2L135.4 1083.4L136.5 1082.1L137.5 1081.4L138.6 1080.9L139.6 1080.3L140.7 1079.4L141.7 1077.9L142.8 1075.8L143.9 1073.4L144.9 1071L146 1068.8L147 1067L148.1 1065.9L149.1 1065.5L150.2 1065.6L151.2 1065.9L152.3 1066.3L153.3 1066.5L154.4 1066.4L155.4 1065.6L156.5 1064L157.5 1061.9L158.6 1059.4L159.7 1056.9L160.7 1054.5L161.8 1052.5L162.8 1051.2L163.9 1050.5L164.9 1049.9L166 1049.3L167 1048.3L168.1 1046.7L169.1 1044.5L170.2 1042L171.2 1039.4L172.3 1037.1L173.4 1035.2L174.4 1034L175.5 1033.5L176.5 1033.6L177.6 1034L178.6 1034.4L179.7 1034.6L180.7 1034.4L181.8 1033.6L182.8 1032L183.9 1029.7L184.9 1027.1L186 1024.3L187 1021.8L188.1 1019.7L189.2 1018.2L190.2 1017.3L191.3 1016.7L192.3 1016L193.4 1014.9L194.4 1013.1L195.5 1010.7L196.5 1008L197.6 1005.2L198.6 1002.6L199.7 1000.5L200.7 999.2L201.8 998.6L202.9 998.6L203.9 998.9L205 999.3L206 999.5L207.1 999.2L208.1 998.3L209.2 996.5L210.2 994.1L211.3 991.3L212.3 988.3L213.4 985.6L214.4 983.4L215.5 981.9L216.5 981L217.6 980.4L218.7 979.7L219.7 978.6L220.8 976.8L221.8 974.4L222.9 971.6L223.9 968.8L225 966.2L226 964.2L227.1 963L228.1 962.6L229.2 962.8L230.2 963.3L231.3 963.9L232.4 964.3L233.4 964.3L234.5 963.6L235.5 962L236.6 959.7L237.6 957L238.7 954.2L239.7 951.6L240.8 949.6L241.8 948.3L242.9 947.6L243.9 947.2L245 946.7L246 945.8L247.1 944.2L248.2 941.9L249.2 939.2L250.3 936.5L251.3 934.1L252.4 932.2L253.4 931.1L254.5 930.9L255.5 931.3L256.6 932.1L257.6 932.9L258.7 933.5L259.7 933.7L260.8 933.1L261.9 931.5L262.9 929.3L264 926.6L265 923.9L266.1 921.4L267.1 919.4L268.2 918.2L269.2 917.7L270.3 917.4L271.3 917.1L272.4 916.4L273.4 914.8L274.5 912.6L275.6 910.1L276.6 907.4L277.7 905.1L278.7 903.3L279.8 902.4L280.8 902.4L281.9 903L282.9 904L284 905.1L285 906L286.1 906.4L287.1 906L288.2 904.6L289.2 902.5L290.3 900L291.4 897.3L292.4 894.9L293.5 893.1L294.5 892.1L295.6 891.7L296.6 891.7L297.7 891.6L298.7 891L299.8 889.7L300.8 887.6L301.9 885.1L302.9 882.6L304 880.3L305.1 878.7L306.1 877.9L307.2 878.1L308.2 879L309.3 880.2L310.3 881.4L311.4 882.5L312.4 883.1L313.5 882.8L314.5 881.6L315.6 879.5L316.6 877.1L317.7 874.5L318.7 872.2L319.8 870.5L320.9 869.6L321.9 869.4L323 869.5L324 869.6L325.1 869.1L326.1 867.9L327.2 865.9L328.2 863.5L329.3 861.1L330.3 858.9L331.4 857.4L332.4 856.8L333.5 857.1L334.6 858.2L335.6 859.6L336.7 861L337.7 862.3L338.8 863L339.8 862.9L340.9 861.8L341.9 859.9L343 857.6L344 855.1L345.1 852.9L346.1 851.2L347.2 850.5L348.2 850.5L349.3 850.8L350.4 851L351.4 850.7L352.5 849.5L353.5 847.7L354.6 845.4L355.6 843.1L356.7 841L357.7 839.6L358.8 839.1L359.8 839.6L360.9 840.8L361.9 842.4L363 844L364.1 845.4L365.1 846.3L366.2 846.3L367.2 845.3L368.3 843.5L369.3 841.2L370.4 838.8L371.4 836.6L372.5 835.1L373.5 834.4L374.6 834.5L375.6 834.9L376.7 835.2L377.7 835L378.8 834L379.9 832.1L380.9 829.9L382 827.6L383 825.5L384.1 824.1L385.1 823.7L386.2 824.3L387.2 825.6L388.3 827.3L389.3 829.1L390.4 830.7L391.4 831.6L392.5 831.7L393.6 830.8L394.6 828.9L395.7 826.6L396.7 824.2L397.8 822.1L398.9 820.5L399.9 819.9L401 820L402 820.5L403.1 820.8L404.1 820.7L405.2 819.6L406.3 817.8L407.3 815.6L408.4 813.2L409.4 811.2L410.5 809.8L411.6 809.4L412.6 810.1L413.7 811.5L414.7 813.2L415.8 815.1L416.9 816.7L417.9 817.7L419 817.9L420 816.9L421.1 815.1L422.1 812.8L423.2 810.4L424.3 808.3L425.3 806.8L426.4 806.2L427.4 806.4L428.5 807L429.6 807.5L430.6 807.4L431.7 806.4L432.7 804.7L433.8 802.5L434.9 800.2L435.9 798.3L437 797L438 796.8L439.1 797.6L440.1 799.1L441.2 801L442.3 803.1L443.3 804.9L444.4 806.1L445.4 806.4L446.5 805.6L447.6 803.9L448.6 801.8L449.7 799.5L450.7 797.5L451.8 796.2L452.9 795.8L453.9 796.2L455 796.9L456 797.5L457.1 797.6L458.1 796.8L459.2 795.2L460.3 793.1L461.3 791L462.4 789.2L463.4 788L464.5 787.9L465.6 788.9L466.6 790.5L467.7 792.6L468.7 794.8L469.8 796.7L470.9 798L471.9 798.4L473 797.7L474 796.1L475.1 794L476.1 791.8L477.2 789.9L478.3 788.6L479.3 788.3L480.4 788.8L481.4 789.6L482.5 790.3L483.6 790.4L484.6 789.7L485.7 788.1L486.7 786.1L487.8 784L488.9 782.2L489.9 781.1L491 781L492 782L493.1 783.8L494.1 785.9L495.2 788.1L496.3 790.1L497.3 791.4L498.4 791.9L499.4 791.2L500.5 789.6L501.6 787.5L502.6 785.3L503.7 783.4L504.7 782.1L505.8 781.8L506.9 782.3L507.9 783.2L509 783.9L510 784.1L511.1 783.3L512.1 781.8L513.2 779.8L514.3 777.7L515.3 775.9L516.4 774.8L517.4 774.8L518.5 775.8L519.6 777.6L520.6 779.8L521.7 782L522.7 784L523.8 785.4L524.9 785.9L525.9 785.2L527 783.7L528 781.6L529.1 779.5L530.1 777.5L531.2 776.3L532.3 776L533.3 776.5L534.4 777.4L535.4 778.1L536.5 778.4L537.6 777.6L538.6 776.1L539.7 774.1L540.7 772L541.8 770.2L542.8 769.2L543.9 769.1L545 770.2L546 772L547.1 774.2L548.1 776.5L549.2 778.5L550.3 779.9L551.3 780.4L552.4 779.7L553.4 778.2L554.5 776.1L555.6 773.9L556.6 772L557.7 770.8L558.7 770.5L559.8 771L560.8 771.8L561.9 772.6L563 772.8L564 772.1L565.1 770.5L566.1 768.5L567.2 766.4L568.3 764.6L569.3 763.5L570.4 763.5L571.4 764.6L572.5 766.4L573.6 768.6L574.6 770.9L575.7 772.9L576.7 774.3L577.8 774.8L578.8 774.2L579.9 772.6L581 770.5L582 768.4L583.1 766.4L584.1 765.2L585.2 764.9L586.3 765.5L587.3 766.3L588.4 767.1L589.4 767.4L590.5 766.7L591.6 765.1L592.6 763.1L593.7 761L594.7 759.3L595.8 758.2L596.8 758.2L597.9 759.3L599 761.2L600 763.4L601.1 765.8L602.1 767.9L603.2 769.4L604.3 769.9L605.3 769.3L606.4 767.8L607.4 765.8L608.5 763.6L609.6 761.8L610.6 760.6L611.7 760.3L612.7 760.9L613.8 761.9L614.8 762.7L615.9 763L617 762.3L618 760.8L619.1 758.9L620.1 756.8L621.2 755.1L622.3 754.1L623.3 754.1L624.4 755.3L625.4 757.2L626.5 759.5L627.6 761.9L628.6 764.1L629.7 765.6L630.7 766.2L631.8 765.6L632.8 764.1L633.9 762.1L635 760L636 758.1L637.1 756.9L638.1 756.7L639.2 757.3L640.3 758.3L641.3 759.2L642.4 759.5L643.4 758.9L644.5 757.4L645.6 755.4L646.6 753.4L647.7 751.7L648.7 750.7L649.8 750.8L650.8 752L651.9 753.9L653 756.3L654 758.7L655.1 760.9L656.1 762.4L657.2 763L658.3 762.5L659.3 761L660.4 759L661.4 756.9L662.5 755.1L663.6 753.9L664.6 753.7L665.7 754.4L666.7 755.4L667.8 756.3L668.9 756.6L669.9 756L671 754.5L672 752.6L673.1 750.6L674.1 748.9L675.2 747.9L676.3 748L677.3 749.2L678.4 751.2L679.4 753.6L680.5 756L681.6 758.2L682.6 759.8L683.7 760.4L684.7 759.9L685.8 758.4L686.9 756.4L687.9 754.3L689 752.5L690 751.4L691.1 751.2L692.2 751.9L693.2 752.9L694.3 753.8L695.3 754.2L696.4 753.5L697.4 752.1L698.5 750.2L699.6 748.2L700.6 746.5L701.7 745.5L702.7 745.6L703.8 746.9L704.9 748.8L705.9 751.2L707 753.7L708 755.9L709.1 757.5L710.2 758.2L711.2 757.6L712.3 756.2L713.3 754.2L714.4 752.1L715.5 750.3L716.5 749.1L717.6 749L718.6 749.7L719.7 750.7L720.8 751.6L721.8 752L722.9 751.4L723.9 749.9L725 748L726 746L727.1 744.3L728.2 743.4L729.2 743.5L730.3 744.7L731.3 746.7L732.4 749.1L733.5 751.6L734.5 753.9L735.6 755.5L736.6 756.1L737.7 755.6L738.8 754.1L739.8 752.2L740.9 750.1L741.9 748.3L743 747.1L744.1 747L745.1 747.7L746.2 748.7L747.2 749.6L748.3 750L749.4 749.4L750.4 748L751.5 746.1L752.5 744.1L753.6 742.4L754.6 741.5L755.7 741.6L756.8 742.8L757.8 744.8L758.9 747.3L759.9 749.8L761 752L762.1 753.7L763.1 754.3L764.2 753.8L765.2 752.3L766.3 750.4L767.4 748.3L768.4 746.5L769.5 745.4L770.5 745.2L771.6 745.9L772.7 747L773.7 748L774.8 748.3L775.8 747.8L776.9 746.3L777.9 744.4L779 742.4L780.1 740.8L781.1 739.8L782.2 740L783.2 741.2L784.3 743.3L785.4 745.7L786.4 748.2L787.5 750.5L788.5 752.1L789.6 752.8L790.7 752.3L791.7 750.9L792.8 748.9L793.8 746.8L794.9 745L796 743.9L797 743.8L798.1 744.5L799.1 745.6L800.2 746.5L801.3 746.9L802.3 746.3L803.4 744.9L804.4 743L805.5 741L806.5 739.4L807.6 738.4L808.7 738.6L809.7 739.8L810.8 741.9L811.8 744.3L812.9 746.9L814 749.1L815 750.8L816.1 751.5L817.1 751L818.2 749.5L819.3 747.6L820.3 745.5L821.4 743.7L822.4 742.6L823.5 742.5L824.6 743.2L825.6 744.3L826.7 745.2L827.7 745.6L828.8 745.1L829.8 743.6L830.9 741.7L832 739.8L833 738.1L834.1 737.2L835.1 737.3L836.2 738.6L837.3 740.6L838.3 743.1L839.4 745.7L840.4 747.9L841.5 749.6L842.6 750.3L843.6 749.8L844.7 748.4L845.7 746.4L846.8 744.3L847.9 742.5L848.9 741.4L850 741.3L851 742L852.1 743.1L853.2 744.1L854.2 744.5L855.3 743.9L856.3 742.5L857.4 740.6L858.4 738.6L859.5 737L860.6 736L861.6 736.2L862.7 737.5L863.7 739.5L864.8 742L865.9 744.5L866.9 746.8L868 748.5L869 749.1L870.1 748.6L871.2 747.2L872.2 745.2L873.3 743.2L874.3 741.4L875.4 740.2L876.5 740.1L877.5 740.8L878.6 741.9L879.6 742.9L880.7 743.3L881.8 742.7L882.8 741.2L883.9 739.3L884.9 737.4L886 735.7L887 734.8L888.1 734.9L889.2 736.2L890.2 738.2L891.3 740.7L892.3 743.2L893.4 745.5L894.5 747.1L895.5 747.8L896.6 747.3L897.6 745.9L898.7 743.9L899.8 741.8L900.8 740L901.9 738.9L902.9 738.8L904 739.5L905.1 740.6L906.1 741.5L907.2 741.9L908.2 741.4L909.3 739.9L910.3 738L911.4 736.1L912.5 734.4L913.5 733.5L914.6 733.6L915.6 734.9L916.7 737L917.8 739.5L918.8 742L919.9 744.3L920.9 746L922 746.7L923.1 746.2L924.1 744.8L925.2 742.9L926.2 740.8L927.3 739L928.4 737.9L929.4 737.8L930.5 738.5L931.5 739.6L932.6 740.6L933.7 741.1L934.7 740.5L935.8 739.1L936.8 737.2L937.9 735.2L939 733.6L940 732.7L941.1 732.9L942.1 734.2L943.2 736.2L944.3 738.7L945.3 741.3L946.4 743.6L947.4 745.3L948.5 746L949.6 745.5L950.6 744.1L951.7 742.2L952.8 740.1L953.8 738.4L954.9 737.3L955.9 737.2L957 737.9L958.1 739L959.1 740L960.2 740.5L961.2 739.9L962.3 738.5L963.4 736.6L964.4 734.7L965.5 733.1L966.5 732.2L967.6 732.3L968.7 733.7L969.7 735.7L970.8 738.2L971.8 740.8L972.9 743.2L974 744.9L975 745.6L976.1 745.1L977.1 743.7L978.2 741.8L979.3 739.7L980.3 738L981.4 736.9L982.4 736.8L983.5 737.6L984.6 738.7L985.6 739.7L986.7 740.1L987.7 739.6L988.8 738.2L989.9 736.3L990.9 734.4L992 732.8L993 731.9L994.1 732.1L995.2 733.4L996.2 735.5L997.3 738L998.3 740.6L999.4 742.9L1000.5 744.6L1001.5 745.4L1002.6 744.9L1003.7 743.5L1004.7 741.6L1005.8 739.5L1006.8 737.8L1007.9 736.7L1009 736.6L1010 737.4L1011.1 738.5L1012.1 739.5L1013.2 740L1014.3 739.4L1015.3 738L1016.4 736.2L1017.4 734.2L1018.5 732.6L1019.6 731.7L1020.6 731.9L1021.7 733.2L1022.7 735.3L1023.8 737.8L1024.9 740.4L1025.9 742.7L1027 744.5L1028 745.2L1029.1 744.7L1030.2 743.3L1031.2 741.4L1032.3 739.3L1033.3 737.6L1034.4 736.5L1035.5 736.4L1036.5 737.2L1037.6 738.3L1038.6 739.3L1039.7 739.8L1040.8 739.2L1041.8 737.8L1042.9 736L1043.9 734L1045 732.4L1046.1 731.5L1047.1 731.7L1048.2 733L1049.2 735.1L1050.3 737.6L1051.4 740.2L1052.4 742.5L1053.5 744.2L1054.5 745L1055.6 744.5L1056.7 743.1L1057.7 741.2L1058.8 739.1L1059.9 737.4L1060.9 736.3L1062 736.2L1063 737L1064.1 738.1L1065.2 739.1L1066.2 739.5L1067.3 739L1068.3 737.6L1069.4 735.7L1070.5 733.8L1071.5 732.2L1072.6 731.3L1073.6 731.5L1074.7 732.8L1075.8 734.9L1076.8 737.4L1077.9 740L1078.9 742.3L1080 744L1081.1 744.8L1082.1 744.3L1083.2 742.9L1084.2 741L1085.3 738.9L1086.4 737.2L1087.4 736.1L1088.5 736L1089.5 736.8L1090.6 737.9L1091.7 738.9L1092.7 739.4L1093.8 738.9L1094.8 737.5L1095.9 735.6L1097 733.7L1098 732L1099.1 731.1L1100.1 731.3L1101.2 732.7L1102.3 734.8L1103.3 737.3L1104.4 739.9L1105.4 742.2L1106.5 743.9L1107.6 744.7L1108.6 744.2L1109.7 742.8L1110.8 740.9L1111.8 738.8L1112.9 737.1L1113.9 736L1115 735.9L1116.1 736.7L1117.1 737.8L1118.2 738.8L1119.2 739.3L1120.3 738.8L1121.4 737.4L1122.4 735.5L1123.5 733.6L1124.5 731.9L1125.6 731.1L1126.7 731.2L1127.7 732.6L1128.8 734.7L1129.8 737.2L1130.9 739.8L1132 742.1L1133 743.8L1134.1 744.6L1135.1 744.1L1136.2 742.7L1137.3 740.8L1138.3 738.7L1139.4 737L1140.4 735.9L1141.5 735.8L1142.6 736.6L1143.6 737.7L1144.7 738.7L1145.7 739.2L1146.8 738.7L1147.9 737.3L1148.9 735.4L1150 733.5L1151 731.8L1152.1 730.9L1153.2 731.1L1154.2 732.4L1155.3 734.5L1156.3 737.1L1157.4 739.7L1158.5 742L1159.5 743.7L1160.6 744.4L1161.7 744L1162.7 742.6L1163.8 740.7L1164.8 738.6L1165.9 736.9L1167 735.8L1168 735.7L1169.1 736.5L1170.1 737.6L1171.2 738.6L1172.3 739.1L1173.3 738.5L1174.4 737.1L1175.4 735.3L1176.5 733.3L1177.6 731.7L1178.6 730.8L1179.7 731L1180.7 732.3L1181.8 734.4L1182.9 737L1183.9 739.6L1185 741.9L1186 743.6L1187.1 744.4L1188.2 743.9L1189.2 742.5L1190.3 740.6L1191.3 738.6L1192.4 736.8L1193.5 735.7L1194.5 735.7L1195.6 736.4L1196.7 737.6L1197.7 738.6L1198.8 739L1199.8 738.5L1200.9 737.1L1202 735.3L1203 733.3L1204.1 731.7L1205.2 730.8L1206.2 731L1207.3 732.3L1208.3 734.4L1209.4 737L1210.5 739.6L1211.5 741.9L1212.6 743.6L1213.7 744.4L1214.7 743.9L1215.8 742.5L1216.8 740.6L1217.9 738.6L1219 736.8L1220 735.7L1221.1 735.7L1222.2 736.4L1223.2 737.6L1224.3 738.6L1225.3 739L1226.4 738.5L1227.5 737.1L1228.5 735.3L1229.6 733.3L1230.7 731.7L1231.7 730.8L1232.8 731L1233.8 732.3L1234.9 734.4L1236 737L1237 739.6L1238.1 741.9L1239.2 743.6L1240.2 744.4L1241.3 743.9L1242.3 742.5L1243.4 740.6L1244.5 738.6L1245.5 736.8L1246.6 735.7L1247.7 735.7L1248.7 736.4L1249.8 737.6L1250.8 738.6L1251.9 739L1253 738.5L1254 737.1L1255.1 735.3L1256.2 733.3L1257.2 731.7L1258.3 730.8L1259.3 731L1260.4 732.3L1261.5 734.4L1262.5 737L1263.6 739.6L1264.7 741.9L1265.7 743.6L1266.8 744.4L1267.8 743.9L1268.9 742.5L1270 740.6L1271 738.6L1272.1 736.8L1273.2 735.7L1274.2 735.7L1275.3 736.4L1276.3 737.6L1277.4 738.6L1278.5 739L1279.5 738.5L1280.6 737.1L1281.7 735.3L1282.7 733.3L1283.8 731.7L1284.8 730.8L1285.9 731L1287 732.3L1288 734.4L1289.1 737L1290.2 739.6L1291.2 741.9L1292.3 743.6L1293.3 744.4L1294.4 743.9L1295.5 742.5L1296.5 740.6L1297.6 738.6L1298.7 736.8L1299.7 735.7L1300.8 735.7L1301.8 736.4L1302.9 737.6L1304 738.6L1305 739L1306.1 738.5L1307.2 737.1L1308.2 735.3L1309.3 733.3L1310.3 731.7L1311.4 730.8L1312.5 731L1313.5 732.3L1314.6 734.4L1315.7 737L1316.7 739.6L1317.8 741.9L1318.8 743.6L1319.9 744.4L1321 743.9L1322 742.5L1323.1 740.6L1324.1 738.6L1325.2 736.8L1326.3 735.7L1327.3 735.7L1328.4 736.4L1329.5 737.6L1330.5 738.6L1331.6 739L1332.6 738.5L1333.7 737.1L1334.8 735.3L1335.8 733.3L1336.9 731.7L1338 730.8L1339 731L1340.1 732.3L1341.1 734.4L1342.2 737L1343.3 739.6L1344.3 741.9L1345.4 743.6L1346.5 744.4L1347.5 743.9L1348.6 742.5L1349.6 740.6L1350.7 738.6L1351.8 736.8L1352.8 735.7L1353.9 735.7L1355 736.4L1356 737.6L1357.1 738.6L1358.1 739L1359.2 738.5L1360.3 737.1L1361.3 735.3L1362.4 733.3L1363.5 731.7L1364.5 730.8L1365.6 731L1366.6 732.3L1367.7 734.4L1368.8 737L1369.8 739.6L1370.9 741.9L1372 743.6L1373 744.4L1374.1 743.9L1375.1 742.5L1376.2 740.6L1377.3 738.6L1378.3 736.8L1379.4 735.7L1380.5 735.7L1381.5 736.4L1382.6 737.6L1383.6 738.6L1384.7 739L1385.8 738.5L1386.8 737.1L1387.9 735.3L1389 733.3L1390 731.7L1391.1 730.8L1392.1 731L1393.2 732.3L1394.3 734.4L1395.3 737L1396.4 739.6L1397.5 741.9L1398.5 743.6L1399.6 744.4L1400.6 743.9L1401.7 742.5L1402.8 740.6L1403.8 738.6L1404.9 736.8L1406 735.7L1407 735.7L1408.1 736.4L1409.1 737.6L1410.2 738.6L1411.3 739L1412.3 738.5L1413.4 737.1L1414.5 735.3L1415.5 733.3L1416.6 731.7L1417.6 730.8L1418.7 731L1419.8 732.3L1420.8 734.4L1421.9 737L1423 739.6L1424 741.9L1425.1 743.6L1426.1 744.4L1427.2 743.9L1428.3 742.5L1429.3 740.6L1430.4 738.6L1431.5 736.8L1432.5 735.7L1433.6 735.7L1434.6 736.4L1435.7 737.6L1436.8 738.6L1437.8 739L1438.9 738.5L1440 737.1L1441 735.3L1442.1 733.3L1443.1 731.7L1444.2 730.8L1445.3 731L1446.3 732.3L1447.4 734.4L1448.5 737L1449.5 739.6L1450.6 741.9L1451.6 743.6L1452.7 744.4L1453.8 743.9L1454.8 742.5L1455.9 740.6L1456.9 738.6L1458 736.8L1459 735.7L1460.1 735.7L1461.1 736.4L1462.2 737.6L1463.2 738.6L1464.3 739L1465.3 738.5L1466.4 737.1L1467.4 735.3L1468.5 733.3L1469.5 731.7L1470.6 730.8L1471.6 731L1472.7 732.3L1473.7 734.4L1474.8 737L1475.8 739.6L1476.9 741.9L1477.9 743.6L1479 744.4L1480 743.9L1481.1 742.5L1482.1 740.6L1483.2 738.6L1484.2 736.8L1485.3 735.7L1486.3 735.7L1487.4 736.4L1488.4 737.6L1489.5 738.6L1490.5 739L1491.6 738.5L1492.6 737.1L1493.7 735.3L1494.7 733.3L1495.8 731.7L1496.9 730.8L1497.9 731L1499 732.3L1500 734.4L1501.1 737L1502.1 739.6L1503.2 741.9L1504.2 743.6L1505.3 744.4L1506.3 743.9L1507.4 742.5L1508.4 740.6L1509.5 738.6L1510.5 736.8L1511.6 735.7L1512.6 735.7L1513.7 736.4L1514.7 737.6L1515.8 738.6L1516.8 739L1517.9 738.5L1518.9 737.1L1520 735.3L1521 733.3L1522.1 731.7L1523.1 730.8L1524.2 731L1525.2 732.3L1526.3 734.4L1527.3 737L1528.4 739.6L1529.4 741.9L1530.5 743.6L1531.5 744.4L1532.6 743.9L1533.6 742.5L1534.7 740.6L1535.7 738.6L1536.8 736.8L1537.8 735.7L1538.9 735.7L1539.9 736.4L1541 737.6L1542.1 738.6L1543.1 739L1544.2 738.5L1545.2 737.1L1546.3 735.3L1547.3 733.3L1548.4 731.7L1549.4 730.8L1550.5 731L1551.5 732.3L1552.6 734.4L1553.6 737L1554.7 739.6L1555.7 741.9L1556.8 743.6L1557.8 744.4L1558.9 743.9L1559.9 742.5L1561 740.6L1562 738.6L1563.1 736.8L1564.1 735.7L1565.2 735.7L1566.2 736.4L1567.3 737.6L1568.3 738.6L1569.4 739L1570.4 738.5L1571.5 737.1L1572.5 735.3L1573.6 733.3L1574.6 731.7L1575.7 730.8L1576.7 731L1577.8 732.3L1578.8 734.4L1579.9 737L1580.9 739.6L1582 741.9L1583 743.6L1584.1 744.4L1585.2 743.9L1586.2 742.5L1587.3 740.6L1588.3 738.6L1589.4 736.8L1590.4 735.7L1591.5 735.7L1592.5 736.4L1593.6 737.6L1594.6 738.6L1595.7 739L1596.7 738.5L1597.8 737.1L1598.8 735.3L1599.9 733.3L1600.9 731.7L1602 730.8L1603 731L1604.1 732.3L1605.1 734.4L1606.2 737L1607.2 739.6L1608.3 741.9L1609.3 743.6L1610.4 744.4L1611.4 743.9L1612.5 742.5L1613.5 740.6L1614.6 738.6L1615.6 736.8L1616.7 735.7L1617.7 735.7L1618.8 736.4L1619.8 737.6L1620.9 738.6L1621.9 739L1623 738.5L1624 737.1L1625.1 735.3L1626.1 733.3L1627.2 731.7L1628.3 730.8L1629.3 731L1630.4 732.3L1631.4 734.4L1632.5 737L1633.5 739.6L1634.6 741.9L1635.6 743.6L1636.7 744.4L1637.7 743.9L1638.8 742.5L1639.8 740.6L1640.9 738.6L1641.9 736.8L1643 735.7L1644 735.7L1645.1 736.4L1646.1 737.6L1647.2 738.6L1648.2 739L1649.3 738.5L1650.3 737.1L1651.4 735.3L1652.4 733.3L1653.5 731.7L1654.5 730.8L1655.6 731L1656.6 732.3L1657.7 734.4L1658.7 737L1659.8 739.6L1660.8 741.9L1661.9 743.6L1662.9 744.4L1664 743.9L1665 742.5L1666.1 740.6L1667.1 738.6L1668.2 736.8L1669.2 735.7L1670.3 735.7L1671.3 736.4L1672.4 737.6L1673.5 738.6L1674.5 739L1675.6 738.5L1676.6 737.1L1677.7 735.3L1678.7 733.3L1679.8 731.7L1680.8 730.8L1681.9 731L1682.9 732.3L1684 734.4L1685 737L1686.1 739.6L1687.1 741.9L1688.2 743.6L1689.2 744.4L1690.3 743.9L1691.3 742.5L1692.4 740.6L1693.4 738.6L1694.5 736.8L1695.5 735.7L1696.6 735.7L1697.6 736.4L1698.7 737.6L1699.7 738.6L1700.8 739L1701.8 738.5L1702.9 737.1L1703.9 735.3L1705 733.3L1706 731.7L1707.1 730.8L1708.1 731L1709.2 732.3L1710.2 734.4L1711.3 737L1712.3 739.6L1713.4 741.9L1714.4 743.6L1715.5 744.4" fill="none" stroke="#E3261F" stroke-width="3.5" stroke-linejoin="round"/>
<polygon points="137.8,1096.1 124.2,1105 124.2,1087.2" fill="#fff" stroke="#E3261F" stroke-width="3.3" stroke-linejoin="miter" stroke-miterlimit="10"/>
<polygon points="190.5,1034.5 176.9,1043.4 176.9,1025.6" fill="#fff" stroke="#E3261F" stroke-width="3.3" stroke-linejoin="miter" stroke-miterlimit="10"/>
<polygon points="243.1,965 229.6,973.9 229.6,956.1" fill="#fff" stroke="#E3261F" stroke-width="3.3" stroke-linejoin="miter" stroke-miterlimit="10"/>
<polygon points="295.8,907.7 282.2,916.6 282.2,898.8" fill="#fff" stroke="#E3261F" stroke-width="3.3" stroke-linejoin="miter" stroke-miterlimit="10"/>
<polygon points="348.5,865.3 334.9,874.2 334.9,856.4" fill="#fff" stroke="#E3261F" stroke-width="3.3" stroke-linejoin="miter" stroke-miterlimit="10"/>
<polygon points="401.2,834.2 387.6,843.1 387.6,825.3" fill="#fff" stroke="#E3261F" stroke-width="3.3" stroke-linejoin="miter" stroke-miterlimit="10"/>
<polygon points="454.1,808.8 440.5,817.7 440.5,799.8" fill="#fff" stroke="#E3261F" stroke-width="3.3" stroke-linejoin="miter" stroke-miterlimit="10"/>
<polygon points="507.1,794 493.5,803 493.5,785.1" fill="#fff" stroke="#E3261F" stroke-width="3.3" stroke-linejoin="miter" stroke-miterlimit="10"/>
<polygon points="560,782.3 546.4,791.3 546.4,773.4" fill="#fff" stroke="#E3261F" stroke-width="3.3" stroke-linejoin="miter" stroke-miterlimit="10"/>
<polygon points="612.9,771.6 599.4,780.5 599.4,762.7" fill="#fff" stroke="#E3261F" stroke-width="3.3" stroke-linejoin="miter" stroke-miterlimit="10"/>
<polygon points="665.9,764.4 652.3,773.3 652.3,755.5" fill="#fff" stroke="#E3261F" stroke-width="3.3" stroke-linejoin="miter" stroke-miterlimit="10"/>
<polygon points="718.8,759.6 705.3,768.5 705.3,750.7" fill="#fff" stroke="#E3261F" stroke-width="3.3" stroke-linejoin="miter" stroke-miterlimit="10"/>
<polygon points="771.8,755.8 758.2,764.7 758.2,746.9" fill="#fff" stroke="#E3261F" stroke-width="3.3" stroke-linejoin="miter" stroke-miterlimit="10"/>
<polygon points="824.8,753 811.2,761.9 811.2,744.1" fill="#fff" stroke="#E3261F" stroke-width="3.3" stroke-linejoin="miter" stroke-miterlimit="10"/>
<polygon points="877.7,750.7 864.1,759.6 864.1,741.8" fill="#fff" stroke="#E3261F" stroke-width="3.3" stroke-linejoin="miter" stroke-miterlimit="10"/>
<polygon points="930.7,748.3 917.1,757.2 917.1,739.4" fill="#fff" stroke="#E3261F" stroke-width="3.3" stroke-linejoin="miter" stroke-miterlimit="10"/>
<polygon points="983.7,747.2 970.1,756.1 970.1,738.3" fill="#fff" stroke="#E3261F" stroke-width="3.3" stroke-linejoin="miter" stroke-miterlimit="10"/>
<polygon points="1036.7,746.8 1023.1,755.7 1023.1,737.9" fill="#fff" stroke="#E3261F" stroke-width="3.3" stroke-linejoin="miter" stroke-miterlimit="10"/>
<polygon points="1089.7,746.4 1076.2,755.3 1076.2,737.5" fill="#fff" stroke="#E3261F" stroke-width="3.3" stroke-linejoin="miter" stroke-miterlimit="10"/>
<polygon points="1142.8,746.2 1129.2,755.1 1129.2,737.3" fill="#fff" stroke="#E3261F" stroke-width="3.3" stroke-linejoin="miter" stroke-miterlimit="10"/>
<polygon points="1195.8,746 1182.2,754.9 1182.2,737.1" fill="#fff" stroke="#E3261F" stroke-width="3.3" stroke-linejoin="miter" stroke-miterlimit="10"/>
<polygon points="1248.9,746 1235.3,754.9 1235.3,737.1" fill="#fff" stroke="#E3261F" stroke-width="3.3" stroke-linejoin="miter" stroke-miterlimit="10"/>
<polygon points="1302,746 1288.4,754.9 1288.4,737.1" fill="#fff" stroke="#E3261F" stroke-width="3.3" stroke-linejoin="miter" stroke-miterlimit="10"/>
<polygon points="1355.1,746 1341.6,754.9 1341.6,737.1" fill="#fff" stroke="#E3261F" stroke-width="3.3" stroke-linejoin="miter" stroke-miterlimit="10"/>
<polygon points="1408.3,746 1394.7,754.9 1394.7,737.1" fill="#fff" stroke="#E3261F" stroke-width="3.3" stroke-linejoin="miter" stroke-miterlimit="10"/>
<polygon points="1461.4,746 1447.8,754.9 1447.8,737.1" fill="#fff" stroke="#E3261F" stroke-width="3.3" stroke-linejoin="miter" stroke-miterlimit="10"/>
<polygon points="1513.9,746 1500.4,754.9 1500.4,737.1" fill="#fff" stroke="#E3261F" stroke-width="3.3" stroke-linejoin="miter" stroke-miterlimit="10"/>
<polygon points="1566.5,746 1552.9,754.9 1552.9,737.1" fill="#fff" stroke="#E3261F" stroke-width="3.3" stroke-linejoin="miter" stroke-miterlimit="10"/>
<polygon points="1619.1,746 1605.5,754.9 1605.5,737.1" fill="#fff" stroke="#E3261F" stroke-width="3.3" stroke-linejoin="miter" stroke-miterlimit="10"/>
<polygon points="1671.6,746 1658,754.9 1658,737.1" fill="#fff" stroke="#E3261F" stroke-width="3.3" stroke-linejoin="miter" stroke-miterlimit="10"/>
<polygon points="1724.2,746 1710.6,754.9 1710.6,737.1" fill="#fff" stroke="#E3261F" stroke-width="3.3" stroke-linejoin="miter" stroke-miterlimit="10"/>
<path d="M129.1 1096.1L130.2 1095.8L131.2 1093.6L132.3 1091.2L133.3 1088.6L134.4 1086.1L135.4 1084.1L136.5 1082.7L137.5 1081.9L138.6 1081.3L139.6 1080.6L140.7 1079.6L141.7 1078.1L142.8 1076L143.9 1073.7L144.9 1071.3L146 1069.2L147 1067.5L148.1 1066.6L149.1 1066.3L150.2 1066.6L151.2 1067.2L152.3 1067.7L153.3 1068.1L154.4 1068.1L155.4 1067.3L156.5 1065.7L157.5 1063.5L158.6 1060.8L159.7 1058.1L160.7 1055.5L161.8 1053.3L162.8 1051.9L163.9 1050.9L164.9 1050.3L166 1049.6L167 1048.6L168.1 1046.9L169.1 1044.7L170.2 1042.2L171.2 1039.7L172.3 1037.5L173.4 1035.7L174.4 1034.7L175.5 1034.4L176.5 1034.7L177.6 1035.3L178.6 1035.9L179.7 1036.3L180.7 1036.2L181.8 1035.4L182.8 1033.8L183.9 1031.4L184.9 1028.6L186 1025.6L187 1022.8L188.1 1020.5L189.2 1018.9L190.2 1017.9L191.3 1017.1L192.3 1016.3L193.4 1015.2L194.4 1013.3L195.5 1010.9L196.5 1008.2L197.6 1005.5L198.6 1003L199.7 1001.1L200.7 999.9L201.8 999.6L202.9 999.8L203.9 1000.3L205 1000.9L206 1001.3L207.1 1001.1L208.1 1000.2L209.2 998.4L210.2 995.8L211.3 992.8L212.3 989.7L213.4 986.8L214.4 984.3L215.5 982.6L216.5 981.6L217.6 980.8L218.7 980.1L219.7 978.9L220.8 977.1L221.8 974.6L222.9 971.9L223.9 969.1L225 966.7L226 964.8L227.1 963.7L228.1 963.6L229.2 964L230.2 964.8L231.3 965.6L232.4 966.2L233.4 966.3L234.5 965.6L235.5 964L236.6 961.5L237.6 958.7L238.7 955.6L239.7 952.8L240.8 950.5L241.8 949L242.9 948.2L243.9 947.7L245 947.1L246 946.1L247.1 944.5L248.2 942.2L249.2 939.5L250.3 936.9L251.3 934.5L252.4 932.8L253.4 931.9L254.5 931.9L255.5 932.6L256.6 933.6L257.6 934.7L258.7 935.5L259.7 935.7L260.8 935.2L261.9 933.6L262.9 931.2L264 928.4L265 925.4L266.1 922.6L267.1 920.3L268.2 919L269.2 918.3L270.3 917.9L271.3 917.5L272.4 916.7L273.4 915.1L274.5 912.9L275.6 910.4L276.6 907.8L277.7 905.6L278.7 903.9L279.8 903.2L280.8 903.5L281.9 904.4L282.9 905.6L284 907L285 908L286.1 908.5L287.1 908.2L288.2 906.8L289.2 904.5L290.3 901.8L291.4 898.9L292.4 896.2L293.5 894.1L294.5 892.9L295.6 892.4L296.6 892.2L297.7 892L298.7 891.4L299.8 890L300.8 887.9L301.9 885.4L302.9 883L304 880.8L305.1 879.3L306.1 878.8L307.2 879.2L308.2 880.4L309.3 881.8L310.3 883.4L311.4 884.6L312.4 885.3L313.5 885.1L314.5 883.8L315.6 881.6L316.6 878.9L317.7 876.1L318.7 873.5L319.8 871.5L320.9 870.4L321.9 870L323 870L324 870L325.1 869.5L326.1 868.2L327.2 866.2L328.2 863.9L329.3 861.5L330.3 859.5L331.4 858.1L332.4 857.7L333.5 858.3L334.6 859.6L335.6 861.3L336.7 863L337.7 864.5L338.8 865.3L339.8 865.3L340.9 864.1L341.9 862L343 859.4L344 856.7L345.1 854.2L346.1 852.3L347.2 851.3L348.2 851.1L349.3 851.3L350.4 851.4L351.4 851L352.5 849.9L353.5 848L354.6 845.7L355.6 843.5L356.7 841.5L357.7 840.3L358.8 840L359.8 840.8L360.9 842.3L361.9 844.1L363 846L364.1 847.6L365.1 848.7L366.2 848.7L367.2 847.6L368.3 845.6L369.3 843.1L370.4 840.4L371.4 838L372.5 836.2L373.5 835.3L374.6 835.2L375.6 835.4L376.7 835.6L377.7 835.4L378.8 834.3L379.9 832.4L380.9 830.2L382 828L383 826.1L384.1 824.9L385.1 824.7L386.2 825.6L387.2 827.2L388.3 829.2L389.3 831.2L390.4 833L391.4 834.1L392.5 834.2L393.6 833.2L394.6 831.2L395.7 828.6L396.7 825.9L397.8 823.5L398.9 821.7L399.9 820.8L401 820.7L402 821L403.1 821.3L404.1 821.1L405.2 820L406.3 818.1L407.3 815.9L408.4 813.7L409.4 811.7L410.5 810.5L411.6 810.4L412.6 811.3L413.7 813L414.7 815.1L415.8 817.2L416.9 819L417.9 820.2L419 820.4L420 819.3L421.1 817.4L422.1 814.8L423.2 812.2L424.3 809.7L425.3 807.9L426.4 807.1L427.4 807.2L428.5 807.6L429.6 807.9L430.6 807.8L431.7 806.8L432.7 805L433.8 802.9L434.9 800.7L435.9 798.9L437 797.8L438 797.8L439.1 798.8L440.1 800.7L441.2 802.9L442.3 805.2L443.3 807.2L444.4 808.6L445.4 808.9L446.5 808.1L447.6 806.2L448.6 803.8L449.7 801.3L450.7 799L451.8 797.3L452.9 796.7L453.9 796.9L455 797.4L456 798L457.1 798L458.1 797.1L459.2 795.5L460.3 793.5L461.3 791.4L462.4 789.7L463.4 788.8L464.5 788.9L465.6 790.1L466.6 792.1L467.7 794.5L468.7 796.9L469.8 799.1L470.9 800.5L471.9 801L473 800.2L474 798.4L475.1 796.1L476.1 793.6L477.2 791.4L478.3 789.8L479.3 789.2L480.4 789.5L481.4 790.1L482.5 790.7L483.6 790.8L484.6 790L485.7 788.4L486.7 786.4L487.8 784.4L488.9 782.8L489.9 781.9L491 782L492 783.3L493.1 785.3L494.1 787.8L495.2 790.3L496.3 792.5L497.3 794L498.4 794.5L499.4 793.7L500.5 791.9L501.6 789.6L502.6 787.1L503.7 784.9L504.7 783.3L505.8 782.8L506.9 783.1L507.9 783.7L509 784.4L510 784.5L511.1 783.7L512.1 782.1L513.2 780.1L514.3 778.1L515.3 776.5L516.4 775.6L517.4 775.8L518.5 777.1L519.6 779.2L520.6 781.7L521.7 784.2L522.7 786.4L523.8 788L524.9 788.5L525.9 787.8L527 786L528 783.7L529.1 781.3L530.1 779L531.2 777.5L532.3 777L533.3 777.3L534.4 778L535.4 778.6L536.5 778.7L537.6 778L538.6 776.4L539.7 774.4L540.7 772.5L541.8 770.8L542.8 769.9L543.9 770.1L545 771.5L546 773.6L547.1 776.1L548.1 778.7L549.2 780.9L550.3 782.5L551.3 783L552.4 782.3L553.4 780.5L554.5 778.2L555.6 775.7L556.6 773.5L557.7 772L558.7 771.4L559.8 771.7L560.8 772.4L561.9 773.1L563 773.2L564 772.4L565.1 770.9L566.1 768.9L567.2 766.9L568.3 765.2L569.3 764.3L570.4 764.5L571.4 765.9L572.5 768L573.6 770.5L574.6 773.1L575.7 775.4L576.7 777L577.8 777.5L578.8 776.7L579.9 775L581 772.7L582 770.2L583.1 768L584.1 766.4L585.2 765.9L586.3 766.2L587.3 766.9L588.4 767.6L589.4 767.8L590.5 767L591.6 765.4L592.6 763.5L593.7 761.5L594.7 759.9L595.8 759L596.8 759.2L597.9 760.6L599 762.8L600 765.4L601.1 768L602.1 770.4L603.2 772L604.3 772.6L605.3 771.9L606.4 770.2L607.4 767.9L608.5 765.5L609.6 763.3L610.6 761.8L611.7 761.3L612.7 761.7L613.8 762.5L614.8 763.2L615.9 763.4L617 762.7L618 761.2L619.1 759.2L620.1 757.3L621.2 755.7L622.3 754.9L623.3 755.2L624.4 756.6L625.4 758.8L626.5 761.5L627.6 764.2L628.6 766.5L629.7 768.2L630.7 768.8L631.8 768.2L632.8 766.5L633.9 764.2L635 761.8L636 759.6L637.1 758.1L638.1 757.7L639.2 758.1L640.3 758.9L641.3 759.7L642.4 759.9L643.4 759.2L644.5 757.7L645.6 755.8L646.6 753.9L647.7 752.3L648.7 751.5L649.8 751.8L650.8 753.3L651.9 755.6L653 758.2L654 761L655.1 763.4L656.1 765.1L657.2 765.7L658.3 765.1L659.3 763.4L660.4 761.2L661.4 758.7L662.5 756.6L663.6 755.1L664.6 754.7L665.7 755.1L666.7 756L667.8 756.7L668.9 757L669.9 756.3L671 754.9L672 753L673.1 751L674.1 749.5L675.2 748.7L676.3 749L677.3 750.5L678.4 752.8L679.4 755.5L680.5 758.3L681.6 760.7L682.6 762.5L683.7 763.1L684.7 762.5L685.8 760.8L686.9 758.6L687.9 756.2L689 754.1L690 752.6L691.1 752.2L692.2 752.6L693.2 753.5L694.3 754.3L695.3 754.6L696.4 753.9L697.4 752.4L698.5 750.6L699.6 748.6L700.6 747.1L701.7 746.3L702.7 746.7L703.8 748.2L704.9 750.5L705.9 753.2L707 756L708 758.4L709.1 760.2L710.2 760.9L711.2 760.3L712.3 758.6L713.3 756.4L714.4 754L715.5 751.8L716.5 750.4L717.6 750L718.6 750.4L719.7 751.3L720.8 752.1L721.8 752.4L722.9 751.7L723.9 750.3L725 748.4L726 746.5L727.1 744.9L728.2 744.2L729.2 744.5L730.3 746.1L731.3 748.4L732.4 751.1L733.5 753.9L734.5 756.4L735.6 758.1L736.6 758.8L737.7 758.2L738.8 756.6L739.8 754.3L740.9 751.9L741.9 749.8L743 748.3L744.1 747.9L745.1 748.4L746.2 749.3L747.2 750.1L748.3 750.4L749.4 749.8L750.4 748.3L751.5 746.4L752.5 744.5L753.6 743L754.6 742.2L755.7 742.6L756.8 744.2L757.8 746.5L758.9 749.3L759.9 752.1L761 754.5L762.1 756.3L763.1 757L764.2 756.4L765.2 754.8L766.3 752.6L767.4 750.2L768.4 748L769.5 746.6L770.5 746.2L771.6 746.7L772.7 747.6L773.7 748.4L774.8 748.7L775.8 748.1L776.9 746.7L777.9 744.8L779 742.9L780.1 741.4L781.1 740.6L782.2 741L783.2 742.6L784.3 744.9L785.4 747.7L786.4 750.5L787.5 753L788.5 754.8L789.6 755.5L790.7 754.9L791.7 753.3L792.8 751.1L793.8 748.7L794.9 746.6L796 745.1L797 744.8L798.1 745.3L799.1 746.2L800.2 747L801.3 747.3L802.3 746.7L803.4 745.3L804.4 743.4L805.5 741.5L806.5 740L807.6 739.2L808.7 739.6L809.7 741.2L810.8 743.6L811.8 746.3L812.9 749.2L814 751.7L815 753.5L816.1 754.2L817.1 753.6L818.2 752L819.3 749.8L820.3 747.4L821.4 745.3L822.4 743.8L823.5 743.5L824.6 744L825.6 744.9L826.7 745.7L827.7 746L828.8 745.4L829.8 744L830.9 742.1L832 740.2L833 738.7L834.1 738L835.1 738.4L836.2 740L837.3 742.3L838.3 745.1L839.4 748L840.4 750.5L841.5 752.3L842.6 753L843.6 752.4L844.7 750.8L845.7 748.6L846.8 746.2L847.9 744.1L848.9 742.7L850 742.3L851 742.8L852.1 743.7L853.2 744.6L854.2 744.9L855.3 744.3L856.3 742.8L857.4 741L858.4 739.1L859.5 737.6L860.6 736.8L861.6 737.2L862.7 738.8L863.7 741.2L864.8 744L865.9 746.8L866.9 749.3L868 751.1L869 751.9L870.1 751.3L871.2 749.7L872.2 747.4L873.3 745L874.3 742.9L875.4 741.5L876.5 741.1L877.5 741.6L878.6 742.5L879.6 743.4L880.7 743.7L881.8 743L882.8 741.6L883.9 739.7L884.9 737.8L886 736.3L887 735.5L888.1 735.9L889.2 737.5L890.2 739.9L891.3 742.7L892.3 745.5L893.4 748L894.5 749.8L895.5 750.6L896.6 750L897.6 748.3L898.7 746.1L899.8 743.7L900.8 741.6L901.9 740.1L902.9 739.8L904 740.3L905.1 741.2L906.1 742L907.2 742.3L908.2 741.7L909.3 740.3L910.3 738.4L911.4 736.5L912.5 735L913.5 734.3L914.6 734.7L915.6 736.3L916.7 738.7L917.8 741.5L918.8 744.3L919.9 746.9L920.9 748.7L922 749.4L923.1 748.9L924.1 747.3L925.2 745L926.2 742.7L927.3 740.6L928.4 739.1L929.4 738.8L930.5 739.3L931.5 740.3L932.6 741.1L933.7 741.5L934.7 740.9L935.8 739.4L936.8 737.6L937.9 735.7L939 734.2L940 733.5L941.1 733.9L942.1 735.5L943.2 737.9L944.3 740.7L945.3 743.6L946.4 746.2L947.4 748L948.5 748.8L949.6 748.2L950.6 746.6L951.7 744.4L952.8 742L953.8 739.9L954.9 738.5L955.9 738.2L957 738.7L958.1 739.6L959.1 740.5L960.2 740.9L961.2 740.3L962.3 738.9L963.4 737L964.4 735.2L965.5 733.7L966.5 733L967.6 733.4L968.7 735L969.7 737.4L970.8 740.3L971.8 743.2L972.9 745.7L974 747.6L975 748.3L976.1 747.8L977.1 746.2L978.2 744L979.3 741.6L980.3 739.5L981.4 738.1L982.4 737.8L983.5 738.3L984.6 739.3L985.6 740.2L986.7 740.6L987.7 740L988.8 738.6L989.9 736.7L990.9 734.9L992 733.4L993 732.7L994.1 733.1L995.2 734.7L996.2 737.2L997.3 740L998.3 742.9L999.4 745.5L1000.5 747.3L1001.5 748.1L1002.6 747.6L1003.7 746L1004.7 743.8L1005.8 741.4L1006.8 739.3L1007.9 737.9L1009 737.6L1010 738.1L1011.1 739.1L1012.1 740L1013.2 740.4L1014.3 739.8L1015.3 738.4L1016.4 736.5L1017.4 734.7L1018.5 733.2L1019.6 732.5L1020.6 732.9L1021.7 734.6L1022.7 737L1023.8 739.8L1024.9 742.7L1025.9 745.3L1027 747.2L1028 747.9L1029.1 747.4L1030.2 745.8L1031.2 743.6L1032.3 741.2L1033.3 739.1L1034.4 737.7L1035.5 737.4L1036.5 737.9L1037.6 738.9L1038.6 739.8L1039.7 740.2L1040.8 739.6L1041.8 738.2L1042.9 736.3L1043.9 734.5L1045 733L1046.1 732.3L1047.1 732.7L1048.2 734.3L1049.2 736.8L1050.3 739.6L1051.4 742.5L1052.4 745.1L1053.5 746.9L1054.5 747.7L1055.6 747.2L1056.7 745.6L1057.7 743.4L1058.8 741L1059.9 738.9L1060.9 737.5L1062 737.2L1063 737.7L1064.1 738.7L1065.2 739.6L1066.2 739.9L1067.3 739.4L1068.3 738L1069.4 736.1L1070.5 734.3L1071.5 732.8L1072.6 732.1L1073.6 732.5L1074.7 734.1L1075.8 736.6L1076.8 739.4L1077.9 742.3L1078.9 744.9L1080 746.7L1081.1 747.5L1082.1 747L1083.2 745.4L1084.2 743.2L1085.3 740.8L1086.4 738.7L1087.4 737.3L1088.5 737L1089.5 737.6L1090.6 738.5L1091.7 739.4L1092.7 739.8L1093.8 739.2L1094.8 737.8L1095.9 736L1097 734.1L1098 732.6L1099.1 731.9L1100.1 732.4L1101.2 734L1102.3 736.4L1103.3 739.3L1104.4 742.2L1105.4 744.8L1106.5 746.6L1107.6 747.4L1108.6 746.9L1109.7 745.3L1110.8 743.1L1111.8 740.7L1112.9 738.6L1113.9 737.2L1115 736.9L1116.1 737.5L1117.1 738.4L1118.2 739.3L1119.2 739.7L1120.3 739.1L1121.4 737.7L1122.4 735.9L1123.5 734L1124.5 732.6L1125.6 731.8L1126.7 732.3L1127.7 733.9L1128.8 736.3L1129.8 739.2L1130.9 742.1L1132 744.7L1133 746.5L1134.1 747.3L1135.1 746.8L1136.2 745.2L1137.3 743L1138.3 740.6L1139.4 738.5L1140.4 737.1L1141.5 736.8L1142.6 737.4L1143.6 738.3L1144.7 739.2L1145.7 739.6L1146.8 739L1147.9 737.6L1148.9 735.8L1150 733.9L1151 732.4L1152.1 731.7L1153.2 732.2L1154.2 733.8L1155.3 736.2L1156.3 739.1L1157.4 742L1158.5 744.6L1159.5 746.4L1160.6 747.2L1161.7 746.6L1162.7 745.1L1163.8 742.9L1164.8 740.5L1165.9 738.4L1167 737L1168 736.7L1169.1 737.2L1170.1 738.2L1171.2 739.1L1172.3 739.5L1173.3 738.9L1174.4 737.5L1175.4 735.7L1176.5 733.8L1177.6 732.3L1178.6 731.6L1179.7 732.1L1180.7 733.7L1181.8 736.1L1182.9 739L1183.9 741.9L1185 744.5L1186 746.3L1187.1 747.1L1188.2 746.6L1189.2 745L1190.3 742.8L1191.3 740.4L1192.4 738.4L1193.5 737L1194.5 736.6L1195.6 737.2L1196.7 738.2L1197.7 739.1L1198.8 739.4L1199.8 738.9L1200.9 737.5L1202 735.6L1203 733.8L1204.1 732.3L1205.2 731.6L1206.2 732.1L1207.3 733.7L1208.3 736.1L1209.4 739L1210.5 741.9L1211.5 744.5L1212.6 746.3L1213.7 747.1L1214.7 746.6L1215.8 745L1216.8 742.8L1217.9 740.4L1219 738.4L1220 737L1221.1 736.6L1222.2 737.2L1223.2 738.2L1224.3 739.1L1225.3 739.4L1226.4 738.9L1227.5 737.5L1228.5 735.6L1229.6 733.8L1230.7 732.3L1231.7 731.6L1232.8 732.1L1233.8 733.7L1234.9 736.1L1236 739L1237 741.9L1238.1 744.5L1239.2 746.3L1240.2 747.1L1241.3 746.6L1242.3 745L1243.4 742.8L1244.5 740.4L1245.5 738.4L1246.6 737L1247.7 736.6L1248.7 737.2L1249.8 738.2L1250.8 739.1L1251.9 739.4L1253 738.9L1254 737.5L1255.1 735.6L1256.2 733.8L1257.2 732.3L1258.3 731.6L1259.3 732.1L1260.4 733.7L1261.5 736.1L1262.5 739L1263.6 741.9L1264.7 744.5L1265.7 746.3L1266.8 747.1L1267.8 746.6L1268.9 745L1270 742.8L1271 740.4L1272.1 738.4L1273.2 737L1274.2 736.6L1275.3 737.2L1276.3 738.2L1277.4 739.1L1278.5 739.4L1279.5 738.9L1280.6 737.5L1281.7 735.6L1282.7 733.8L1283.8 732.3L1284.8 731.6L1285.9 732.1L1287 733.7L1288 736.1L1289.1 739L1290.2 741.9L1291.2 744.5L1292.3 746.3L1293.3 747.1L1294.4 746.6L1295.5 745L1296.5 742.8L1297.6 740.4L1298.7 738.4L1299.7 737L1300.8 736.6L1301.8 737.2L1302.9 738.2L1304 739.1L1305 739.4L1306.1 738.9L1307.2 737.5L1308.2 735.6L1309.3 733.8L1310.3 732.3L1311.4 731.6L1312.5 732.1L1313.5 733.7L1314.6 736.1L1315.7 739L1316.7 741.9L1317.8 744.5L1318.8 746.3L1319.9 747.1L1321 746.6L1322 745L1323.1 742.8L1324.1 740.4L1325.2 738.4L1326.3 737L1327.3 736.6L1328.4 737.2L1329.5 738.2L1330.5 739.1L1331.6 739.4L1332.6 738.9L1333.7 737.5L1334.8 735.6L1335.8 733.8L1336.9 732.3L1338 731.6L1339 732.1L1340.1 733.7L1341.1 736.1L1342.2 739L1343.3 741.9L1344.3 744.5L1345.4 746.3L1346.5 747.1L1347.5 746.6L1348.6 745L1349.6 742.8L1350.7 740.4L1351.8 738.4L1352.8 737L1353.9 736.6L1355 737.2L1356 738.2L1357.1 739.1L1358.1 739.4L1359.2 738.9L1360.3 737.5L1361.3 735.6L1362.4 733.8L1363.5 732.3L1364.5 731.6L1365.6 732.1L1366.6 733.7L1367.7 736.1L1368.8 739L1369.8 741.9L1370.9 744.5L1372 746.3L1373 747.1L1374.1 746.6L1375.1 745L1376.2 742.8L1377.3 740.4L1378.3 738.4L1379.4 737L1380.5 736.6L1381.5 737.2L1382.6 738.2L1383.6 739.1L1384.7 739.4L1385.8 738.9L1386.8 737.5L1387.9 735.6L1389 733.8L1390 732.3L1391.1 731.6L1392.1 732.1L1393.2 733.7L1394.3 736.1L1395.3 739L1396.4 741.9L1397.5 744.5L1398.5 746.3L1399.6 747.1L1400.6 746.6L1401.7 745L1402.8 742.8L1403.8 740.4L1404.9 738.4L1406 737L1407 736.6L1408.1 737.2L1409.1 738.2L1410.2 739.1L1411.3 739.4L1412.3 738.9L1413.4 737.5L1414.5 735.6L1415.5 733.8L1416.6 732.3L1417.6 731.6L1418.7 732.1L1419.8 733.7L1420.8 736.1L1421.9 739L1423 741.9L1424 744.5L1425.1 746.3L1426.1 747.1L1427.2 746.6L1428.3 745L1429.3 742.8L1430.4 740.4L1431.5 738.4L1432.5 737L1433.6 736.6L1434.6 737.2L1435.7 738.2L1436.8 739.1L1437.8 739.4L1438.9 738.9L1440 737.5L1441 735.6L1442.1 733.8L1443.1 732.3L1444.2 731.6L1445.3 732.1L1446.3 733.7L1447.4 736.1L1448.5 739L1449.5 741.9L1450.6 744.5L1451.6 746.3L1452.7 747.1L1453.8 746.6L1454.8 745L1455.9 742.8L1456.9 740.4L1458 738.4L1459 737L1460.1 736.6L1461.1 737.2L1462.2 738.2L1463.2 739.1L1464.3 739.4L1465.3 738.9L1466.4 737.5L1467.4 735.6L1468.5 733.8L1469.5 732.3L1470.6 731.6L1471.6 732.1L1472.7 733.7L1473.7 736.1L1474.8 739L1475.8 741.9L1476.9 744.5L1477.9 746.3L1479 747.1L1480 746.6L1481.1 745L1482.1 742.8L1483.2 740.4L1484.2 738.4L1485.3 737L1486.3 736.6L1487.4 737.2L1488.4 738.2L1489.5 739.1L1490.5 739.4L1491.6 738.9L1492.6 737.5L1493.7 735.6L1494.7 733.8L1495.8 732.3L1496.9 731.6L1497.9 732.1L1499 733.7L1500 736.1L1501.1 739L1502.1 741.9L1503.2 744.5L1504.2 746.3L1505.3 747.1L1506.3 746.6L1507.4 745L1508.4 742.8L1509.5 740.4L1510.5 738.4L1511.6 737L1512.6 736.6L1513.7 737.2L1514.7 738.2L1515.8 739.1L1516.8 739.4L1517.9 738.9L1518.9 737.5L1520 735.6L1521 733.8L1522.1 732.3L1523.1 731.6L1524.2 732.1L1525.2 733.7L1526.3 736.1L1527.3 739L1528.4 741.9L1529.4 744.5L1530.5 746.3L1531.5 747.1L1532.6 746.6L1533.6 745L1534.7 742.8L1535.7 740.4L1536.8 738.4L1537.8 737L1538.9 736.6L1539.9 737.2L1541 738.2L1542.1 739.1L1543.1 739.4L1544.2 738.9L1545.2 737.5L1546.3 735.6L1547.3 733.8L1548.4 732.3L1549.4 731.6L1550.5 732.1L1551.5 733.7L1552.6 736.1L1553.6 739L1554.7 741.9L1555.7 744.5L1556.8 746.3L1557.8 747.1L1558.9 746.6L1559.9 745L1561 742.8L1562 740.4L1563.1 738.4L1564.1 737L1565.2 736.6L1566.2 737.2L1567.3 738.2L1568.3 739.1L1569.4 739.4L1570.4 738.9L1571.5 737.5L1572.5 735.6L1573.6 733.8L1574.6 732.3L1575.7 731.6L1576.7 732.1L1577.8 733.7L1578.8 736.1L1579.9 739L1580.9 741.9L1582 744.5L1583 746.3L1584.1 747.1L1585.2 746.6L1586.2 745L1587.3 742.8L1588.3 740.4L1589.4 738.4L1590.4 737L1591.5 736.6L1592.5 737.2L1593.6 738.2L1594.6 739.1L1595.7 739.4L1596.7 738.9L1597.8 737.5L1598.8 735.6L1599.9 733.8L1600.9 732.3L1602 731.6L1603 732.1L1604.1 733.7L1605.1 736.1L1606.2 739L1607.2 741.9L1608.3 744.5L1609.3 746.3L1610.4 747.1L1611.4 746.6L1612.5 745L1613.5 742.8L1614.6 740.4L1615.6 738.4L1616.7 737L1617.7 736.6L1618.8 737.2L1619.8 738.2L1620.9 739.1L1621.9 739.4L1623 738.9L1624 737.5L1625.1 735.6L1626.1 733.8L1627.2 732.3L1628.3 731.6L1629.3 732.1L1630.4 733.7L1631.4 736.1L1632.5 739L1633.5 741.9L1634.6 744.5L1635.6 746.3L1636.7 747.1L1637.7 746.6L1638.8 745L1639.8 742.8L1640.9 740.4L1641.9 738.4L1643 737L1644 736.6L1645.1 737.2L1646.1 738.2L1647.2 739.1L1648.2 739.4L1649.3 738.9L1650.3 737.5L1651.4 735.6L1652.4 733.8L1653.5 732.3L1654.5 731.6L1655.6 732.1L1656.6 733.7L1657.7 736.1L1658.7 739L1659.8 741.9L1660.8 744.5L1661.9 746.3L1662.9 747.1L1664 746.6L1665 745L1666.1 742.8L1667.1 740.4L1668.2 738.4L1669.2 737L1670.3 736.6L1671.3 737.2L1672.4 738.2L1673.5 739.1L1674.5 739.4L1675.6 738.9L1676.6 737.5L1677.7 735.6L1678.7 733.8L1679.8 732.3L1680.8 731.6L1681.9 732.1L1682.9 733.7L1684 736.1L1685 739L1686.1 741.9L1687.1 744.5L1688.2 746.3L1689.2 747.1L1690.3 746.6L1691.3 745L1692.4 742.8L1693.4 740.4L1694.5 738.4L1695.5 737L1696.6 736.6L1697.6 737.2L1698.7 738.2L1699.7 739.1L1700.8 739.4L1701.8 738.9L1702.9 737.5L1703.9 735.6L1705 733.8L1706 732.3L1707.1 731.6L1708.1 732.1L1709.2 733.7L1710.2 736.1L1711.3 739L1712.3 741.9L1713.4 744.5L1714.4 746.3L1715.5 747.1" fill="none" stroke="#000000" stroke-width="4.0" stroke-linejoin="round"/>
<polygon points="121.2,1096.1 135.2,1087 135.2,1105.2" fill="#fff" stroke="#000000" stroke-width="3.8" stroke-linejoin="miter" stroke-miterlimit="10"/>
<polygon points="173.9,1035 187.9,1025.9 187.9,1044.1" fill="#fff" stroke="#000000" stroke-width="3.8" stroke-linejoin="miter" stroke-miterlimit="10"/>
<polygon points="226.6,966 240.5,956.9 240.5,975.1" fill="#fff" stroke="#000000" stroke-width="3.8" stroke-linejoin="miter" stroke-miterlimit="10"/>
<polygon points="279.3,909.2 293.2,900.1 293.2,918.3" fill="#fff" stroke="#000000" stroke-width="3.8" stroke-linejoin="miter" stroke-miterlimit="10"/>
<polygon points="331.9,866.8 345.9,857.7 345.9,875.9" fill="#fff" stroke="#000000" stroke-width="3.8" stroke-linejoin="miter" stroke-miterlimit="10"/>
<polygon points="384.6,835.7 398.6,826.6 398.6,844.8" fill="#fff" stroke="#000000" stroke-width="3.8" stroke-linejoin="miter" stroke-miterlimit="10"/>
<polygon points="437.6,810.3 451.5,801.2 451.5,819.4" fill="#fff" stroke="#000000" stroke-width="3.8" stroke-linejoin="miter" stroke-miterlimit="10"/>
<polygon points="490.5,795.5 504.5,786.4 504.5,804.7" fill="#fff" stroke="#000000" stroke-width="3.8" stroke-linejoin="miter" stroke-miterlimit="10"/>
<polygon points="543.5,783.8 557.4,774.7 557.4,792.9" fill="#fff" stroke="#000000" stroke-width="3.8" stroke-linejoin="miter" stroke-miterlimit="10"/>
<polygon points="596.4,773.1 610.3,764 610.3,782.2" fill="#fff" stroke="#000000" stroke-width="3.8" stroke-linejoin="miter" stroke-miterlimit="10"/>
<polygon points="649.3,765.9 663.3,756.8 663.3,775" fill="#fff" stroke="#000000" stroke-width="3.8" stroke-linejoin="miter" stroke-miterlimit="10"/>
<polygon points="702.3,761.1 716.2,752 716.2,770.2" fill="#fff" stroke="#000000" stroke-width="3.8" stroke-linejoin="miter" stroke-miterlimit="10"/>
<polygon points="755.2,757.3 769.2,748.2 769.2,766.4" fill="#fff" stroke="#000000" stroke-width="3.8" stroke-linejoin="miter" stroke-miterlimit="10"/>
<polygon points="808.2,754.5 822.2,745.4 822.2,763.6" fill="#fff" stroke="#000000" stroke-width="3.8" stroke-linejoin="miter" stroke-miterlimit="10"/>
<polygon points="861.2,752.2 875.1,743.1 875.1,761.3" fill="#fff" stroke="#000000" stroke-width="3.8" stroke-linejoin="miter" stroke-miterlimit="10"/>
<polygon points="914.1,749.8 928.1,740.7 928.1,758.9" fill="#fff" stroke="#000000" stroke-width="3.8" stroke-linejoin="miter" stroke-miterlimit="10"/>
<polygon points="967.1,748.7 981.1,739.6 981.1,757.8" fill="#fff" stroke="#000000" stroke-width="3.8" stroke-linejoin="miter" stroke-miterlimit="10"/>
<polygon points="1020.2,748.3 1034.1,739.2 1034.1,757.4" fill="#fff" stroke="#000000" stroke-width="3.8" stroke-linejoin="miter" stroke-miterlimit="10"/>
<polygon points="1073.2,747.9 1087.1,738.8 1087.1,757" fill="#fff" stroke="#000000" stroke-width="3.8" stroke-linejoin="miter" stroke-miterlimit="10"/>
<polygon points="1126.2,747.7 1140.2,738.6 1140.2,756.8" fill="#fff" stroke="#000000" stroke-width="3.8" stroke-linejoin="miter" stroke-miterlimit="10"/>
<polygon points="1179.2,747.5 1193.2,738.4 1193.2,756.6" fill="#fff" stroke="#000000" stroke-width="3.8" stroke-linejoin="miter" stroke-miterlimit="10"/>
<polygon points="1232.4,747.5 1246.3,738.4 1246.3,756.6" fill="#fff" stroke="#000000" stroke-width="3.8" stroke-linejoin="miter" stroke-miterlimit="10"/>
<polygon points="1285.5,747.5 1299.4,738.4 1299.4,756.6" fill="#fff" stroke="#000000" stroke-width="3.8" stroke-linejoin="miter" stroke-miterlimit="10"/>
<polygon points="1338.6,747.5 1352.5,738.4 1352.5,756.6" fill="#fff" stroke="#000000" stroke-width="3.8" stroke-linejoin="miter" stroke-miterlimit="10"/>
<polygon points="1391.7,747.5 1405.7,738.4 1405.7,756.6" fill="#fff" stroke="#000000" stroke-width="3.8" stroke-linejoin="miter" stroke-miterlimit="10"/>
<polygon points="1444.8,747.5 1458.8,738.4 1458.8,756.6" fill="#fff" stroke="#000000" stroke-width="3.8" stroke-linejoin="miter" stroke-miterlimit="10"/>
<polygon points="1497.4,747.5 1511.3,738.4 1511.3,756.6" fill="#fff" stroke="#000000" stroke-width="3.8" stroke-linejoin="miter" stroke-miterlimit="10"/>
<polygon points="1550,747.5 1563.9,738.4 1563.9,756.6" fill="#fff" stroke="#000000" stroke-width="3.8" stroke-linejoin="miter" stroke-miterlimit="10"/>
<polygon points="1602.5,747.5 1616.5,738.4 1616.5,756.6" fill="#fff" stroke="#000000" stroke-width="3.8" stroke-linejoin="miter" stroke-miterlimit="10"/>
<polygon points="1655.1,747.5 1669,738.4 1669,756.6" fill="#fff" stroke="#000000" stroke-width="3.8" stroke-linejoin="miter" stroke-miterlimit="10"/>
<polygon points="1707.6,747.5 1721.6,738.4 1721.6,756.6" fill="#fff" stroke="#000000" stroke-width="3.8" stroke-linejoin="miter" stroke-miterlimit="10"/>
<rect x="1468.2" y="717.1" width="248.3" height="52.9" fill="none" stroke="#000" stroke-width="5.2"/>
<line x1="654.8" y1="815.8" x2="749" y2="815.8" stroke="#9A9AF6" stroke-width="3.5"/>
<circle cx="700.3" cy="815.8" r="8.6" fill="#9A9AF6"/>
<text x="753.9" y="829.8" font-size="34" text-anchor="start" fill="#000">0 %</text>
<line x1="654.8" y1="861.9" x2="749" y2="861.9" stroke="#4DBBEB" stroke-width="3.5"/>
<circle cx="700.3" cy="861.9" r="7.4" fill="#fff" stroke="#4DBBEB" stroke-width="3.6"/>
<text x="753.9" y="875.9" font-size="34" text-anchor="start" fill="#000">2 %</text>
<line x1="654.8" y1="907.9" x2="749" y2="907.9" stroke="#1E3C96" stroke-width="3.5"/>
<rect x="695.5" y="903.1" width="9.6" height="9.6" fill="#fff" stroke="#1E3C96" stroke-width="5.4"/>
<text x="753.9" y="921.9" font-size="34" text-anchor="start" fill="#000">4 %</text>
<line x1="654.8" y1="954" x2="749" y2="954" stroke="#F0963A" stroke-width="3.5"/>
<polygon points="700.3,942 710.3,959.3 690.3,959.3" fill="#fff" stroke="#F0963A" stroke-width="3.6" stroke-linejoin="miter" stroke-miterlimit="10"/>
<text x="753.9" y="968" font-size="34" text-anchor="start" fill="#000">6 %</text>
<line x1="654.8" y1="1000" x2="749" y2="1000" stroke="#E3261F" stroke-width="3.5"/>
<polygon points="709.1,1000 694.5,1009.6 694.5,990.4" fill="#fff" stroke="#E3261F" stroke-width="3.6" stroke-linejoin="miter" stroke-miterlimit="10"/>
<text x="753.9" y="1014" font-size="34" text-anchor="start" fill="#000">8 %</text>
<line x1="654.8" y1="1046.1" x2="749" y2="1046.1" stroke="#000000" stroke-width="3.5"/>
<polygon points="691.3,1046.1 706.3,1036.3 706.3,1055.9" fill="#fff" stroke="#000000" stroke-width="4.1" stroke-linejoin="miter" stroke-miterlimit="10"/>
<text x="753.9" y="1060.1" font-size="34" text-anchor="start" fill="#000">10 %</text>
<rect x="940" y="789.5" width="556.5" height="223.3" fill="#fff" stroke="none"/>
<clipPath id="clipB"><rect x="940" y="789.5" width="556.5" height="223.3"/></clipPath>
<path d="M936.4 951.3L936.8 953.3L937.2 954.7L937.6 955.6L938 956L938.4 955.8L938.8 955.2L939.2 954L939.6 952.3L940 950.1L940.4 947.5L940.8 944.5L941.2 941.1L941.6 937.3L942 933.1L942.4 928.8L942.8 924.1L943.2 919.3L943.6 914.4L944 909.4L944.4 904.3L944.8 899.3L945.2 894.4L945.6 889.6L946 884.9L946.4 880.5L946.8 876.4L947.2 872.6L947.6 869.1L948 866L948.4 863.4L948.8 861.1L949.2 859.4L949.6 858.1L950 857.4L950.4 857.1L950.8 857.4L951.2 858.2L951.6 859.5L952 861.2L952.4 863.5L952.8 866.2L953.2 869.3L953.6 872.8L954 876.6L954.4 880.7L954.8 885.2L955.2 889.8L955.6 894.6L956 899.6L956.4 904.6L956.8 909.6L957.2 914.6L957.6 919.6L958 924.4L958.4 929L958.9 933.4L959.3 937.5L959.7 941.2L960.1 944.7L960.5 947.7L960.9 950.3L961.3 952.4L961.7 954L962.1 955.2L962.5 955.8L962.9 956L963.3 955.5L963.7 954.6L964.1 953.2L964.5 951.2L964.9 948.8L965.3 945.9L965.7 942.6L966.1 938.8L966.5 934.7L966.9 930.3L967.3 925.6L967.7 920.7L968.1 915.5L968.5 910.3L968.9 904.9L969.3 899.5L969.7 894.1L970.1 888.8L970.5 883.6L970.9 878.6L971.3 873.9L971.7 869.4L972.1 865.2L972.5 861.3L972.9 857.9L973.3 854.9L973.7 852.3L974.1 850.3L974.5 848.7L974.9 847.7L975.3 847.2L975.7 847.2L976.1 847.8L976.5 848.9L976.9 850.5L977.3 852.7L977.7 855.3L978.1 858.3L978.5 861.8L978.9 865.7L979.3 870L979.7 874.5L980.1 879.3L980.5 884.4L980.9 889.6L981.3 894.9L981.7 900.3L982.1 905.7L982.5 911L982.9 916.3L983.3 921.4L983.7 926.3L984.1 931L984.5 935.3L984.9 939.4L985.3 943.1L985.7 946.3L986.1 949.2L986.5 951.5L986.9 953.4L987.3 954.8L987.7 955.6L988.1 956L988.5 955.8L988.9 955.1L989.3 953.8L989.7 952.1L990.1 949.9L990.5 947.3L990.9 944.2L991.3 940.7L991.7 936.9L992.1 932.8L992.5 928.3L992.9 923.7L993.3 918.9L993.7 914L994.1 908.9L994.5 903.9L994.9 898.9L995.3 894L995.8 889.2L996.2 884.5L996.6 880.2L997 876L997.4 872.2L997.8 868.8L998.2 865.8L998.6 863.1L999 861L999.4 859.3L999.8 858.1L1000.2 857.3L1000.6 857.1L1001 857.5L1001.4 858.3L1001.8 859.6L1002.2 861.4L1002.6 863.7L1003 866.4L1003.4 869.6L1003.8 873.1L1004.2 877L1004.6 881.1L1005 885.6L1005.4 890.2L1005.8 895.1L1006.2 900L1006.6 905L1007 910.1L1007.4 915.1L1007.8 920L1008.2 924.8L1008.6 929.4L1009 933.7L1009.4 937.8L1009.8 941.6L1010.2 944.9L1010.6 947.9L1011 950.5L1011.4 952.6L1011.8 954.2L1012.2 955.3L1012.6 955.9L1013 955.9L1013.4 955.5L1013.8 954.5L1014.2 953L1014.6 951L1015 948.6L1015.4 945.6L1015.8 942.3L1016.2 938.5L1016.6 934.4L1017 929.9L1017.4 925.2L1017.8 920.2L1018.2 915.1L1018.6 909.8L1019 904.4L1019.4 899L1019.8 893.7L1020.2 888.4L1020.6 883.2L1021 878.2L1021.4 873.4L1021.8 869L1022.2 864.8L1022.6 861L1023 857.6L1023.4 854.6L1023.8 852.1L1024.2 850.1L1024.6 848.6L1025 847.6L1025.4 847.2L1025.8 847.3L1026.2 847.9L1026.6 849L1027 850.7L1027.4 852.9L1027.8 855.5L1028.2 858.6L1028.6 862.2L1029 866.1L1029.4 870.4L1029.8 874.9L1030.2 879.8L1030.6 884.8L1031 890L1031.4 895.4L1031.8 900.7L1032.2 906.1L1032.7 911.5L1033.1 916.7L1033.5 921.8L1033.9 926.7L1034.3 931.4L1034.7 935.7L1035.1 939.7L1035.5 943.4L1035.9 946.6L1036.3 949.4L1036.7 951.7L1037.1 953.5L1037.5 954.9L1037.9 955.7L1038.3 956L1038.7 955.7L1039.1 955L1039.5 953.7L1039.9 952L1040.3 949.7L1040.7 947L1041.1 943.9L1041.5 940.4L1041.9 936.5L1042.3 932.4L1042.7 927.9L1043.1 923.3L1043.5 918.5L1043.9 913.5L1044.3 908.5L1044.7 903.4L1045.1 898.4L1045.5 893.5L1045.9 888.7L1046.3 884.1L1046.7 879.8L1047.1 875.7L1047.5 871.9L1047.9 868.5L1048.3 865.5L1048.7 862.9L1049.1 860.8L1049.5 859.1L1049.9 858L1050.3 857.3L1050.7 857.2L1051.1 857.5L1051.5 858.4L1051.9 859.8L1052.3 861.6L1052.7 863.9L1053.1 866.7L1053.5 869.9L1053.9 873.4L1054.3 877.3L1054.7 881.5L1055.1 886L1055.5 890.7L1055.9 895.5L1056.3 900.5L1056.7 905.5L1057.1 910.5L1057.5 915.5L1057.9 920.4L1058.3 925.2L1058.7 929.8L1059.1 934.1L1059.5 938.2L1059.9 941.9L1060.3 945.2L1060.7 948.2L1061.1 950.7L1061.5 952.7L1061.9 954.3L1062.3 955.4L1062.7 955.9L1063.1 955.9L1063.5 955.4L1063.9 954.4L1064.3 952.9L1064.7 950.8L1065.1 948.3L1065.5 945.3L1065.9 941.9L1066.3 938.1L1066.7 934L1067.1 929.5L1067.5 924.8L1067.9 919.8L1068.3 914.6L1068.7 909.3L1069.1 903.9L1069.6 898.5L1070 893.2L1070.4 887.9L1070.8 882.7L1071.2 877.8L1071.6 873L1072 868.6L1072.4 864.4L1072.8 860.7L1073.2 857.3L1073.6 854.4L1074 851.9L1074.4 850L1074.8 848.5L1075.2 847.6L1075.6 847.2L1076 847.3L1076.4 848L1076.8 849.2L1077.2 850.9L1077.6 853.1L1078 855.8L1078.4 858.9L1078.8 862.5L1079.2 866.5L1079.6 870.8L1080 875.4L1080.4 880.2L1080.8 885.3L1081.2 890.5L1081.6 895.8L1082 901.2L1082.4 906.6L1082.8 912L1083.2 917.2L1083.6 922.3L1084 927.1L1084.4 931.8L1084.8 936.1L1085.2 940.1L1085.6 943.7L1086 946.9L1086.4 949.6L1086.8 951.9L1087.2 953.7L1087.6 955L1088 955.7L1088.4 956L1088.8 955.7L1089.2 954.9L1089.6 953.6L1090 951.8L1090.4 949.5L1090.8 946.8L1091.2 943.6L1091.6 940.1L1092 936.2L1092.4 932L1092.8 927.5L1093.2 922.9L1093.6 918L1094 913.1L1094.4 908L1094.8 903L1095.2 898L1095.6 893.1L1096 888.3L1096.4 883.7L1096.8 879.4L1097.2 875.3L1097.6 871.6L1098 868.2L1098.4 865.3L1098.8 862.7L1099.2 860.6L1099.6 859L1100 857.9L1100.4 857.3L1100.8 857.2L1101.2 857.6L1101.6 858.5L1102 859.9L1102.4 861.8L1102.8 864.2L1103.2 867L1103.6 870.2L1104 873.8L1104.4 877.7L1104.8 881.9L1105.2 886.4L1105.6 891.1L1106 895.9L1106.5 900.9L1106.9 905.9L1107.3 911L1107.7 916L1108.1 920.9L1108.5 925.6L1108.9 930.2L1109.3 934.5L1109.7 938.5L1110.1 942.2L1110.5 945.5L1110.9 948.4L1111.3 950.9L1111.7 952.9L1112.1 954.4L1112.5 955.4L1112.9 955.9L1113.3 955.9L1113.7 955.4L1114.1 954.3L1114.5 952.7L1114.9 950.6L1115.3 948.1L1115.7 945.1L1116.1 941.6L1116.5 937.8L1116.9 933.6L1117.3 929.1L1117.7 924.3L1118.1 919.3L1118.5 914.1L1118.9 908.8L1119.3 903.5L1119.7 898.1L1120.1 892.7L1120.5 887.4L1120.9 882.3L1121.3 877.3L1121.7 872.6L1122.1 868.2L1122.5 864.1L1122.9 860.4L1123.3 857L1123.7 854.2L1124.1 851.7L1124.5 849.8L1124.9 848.4L1125.3 847.5L1125.7 847.2L1126.1 847.3L1126.5 848.1L1126.9 849.3L1127.3 851.1L1127.7 853.3L1128.1 856.1L1128.5 859.2L1128.9 862.8L1129.3 866.8L1129.7 871.2L1130.1 875.8L1130.5 880.7L1130.9 885.7L1131.3 891L1131.7 896.3L1132.1 901.7L1132.5 907.1L1132.9 912.4L1133.3 917.6L1133.7 922.7L1134.1 927.6L1134.5 932.2L1134.9 936.5L1135.3 940.4L1135.7 944L1136.1 947.1L1136.5 949.8L1136.9 952.1L1137.3 953.8L1137.7 955.1L1138.1 955.8L1138.5 956L1138.9 955.6L1139.3 954.8L1139.7 953.4L1140.1 951.6L1140.5 949.3L1140.9 946.5L1141.3 943.3L1141.7 939.7L1142.1 935.8L1142.5 931.6L1142.9 927.1L1143.4 922.4L1143.8 917.6L1144.2 912.6L1144.6 907.6L1145 902.5L1145.4 897.6L1145.8 892.7L1146.2 887.9L1146.6 883.3L1147 879L1147.4 875L1147.8 871.3L1148.2 868L1148.6 865L1149 862.5L1149.4 860.5L1149.8 858.9L1150.2 857.8L1150.6 857.2L1151 857.2L1151.4 857.6L1151.8 858.6L1152.2 860L1152.6 862L1153 864.4L1153.4 867.2L1153.8 870.5L1154.2 874.1L1154.6 878L1155 882.3L1155.4 886.8L1155.8 891.5L1156.2 896.4L1156.6 901.4L1157 906.4L1157.4 911.4L1157.8 916.4L1158.2 921.3L1158.6 926L1159 930.6L1159.4 934.9L1159.8 938.8L1160.2 942.5L1160.6 945.8L1161 948.6L1161.4 951.1L1161.8 953L1162.2 954.5L1162.6 955.5L1163 955.9L1163.4 955.9L1163.8 955.3L1164.2 954.2L1164.6 952.5L1165 950.4L1165.4 947.8L1165.8 944.8L1166.2 941.3L1166.6 937.4L1167 933.2L1167.4 928.7L1167.8 923.9L1168.2 918.9L1168.6 913.7L1169 908.4L1169.4 903L1169.8 897.6L1170.2 892.2L1170.6 887L1171 881.8L1171.4 876.9L1171.8 872.2L1172.2 867.8L1172.6 863.7L1173 860.1L1173.4 856.8L1173.8 853.9L1174.2 851.6L1174.6 849.7L1175 848.3L1175.4 847.5L1175.8 847.2L1176.2 847.4L1176.6 848.1L1177 849.4L1177.4 851.2L1177.8 853.5L1178.2 856.3L1178.6 859.5L1179 863.2L1179.4 867.2L1179.8 871.6L1180.3 876.2L1180.7 881.1L1181.1 886.2L1181.5 891.4L1181.9 896.8L1182.3 902.2L1182.7 907.6L1183.1 912.9L1183.5 918.1L1183.9 923.2L1184.3 928L1184.7 932.6L1185.1 936.8L1185.5 940.7L1185.9 944.3L1186.3 947.4L1186.7 950.1L1187.1 952.3L1187.5 954L1187.9 955.1L1188.3 955.8L1188.7 956L1189.1 955.6L1189.5 954.7L1189.9 953.3L1190.3 951.4L1190.7 949L1191.1 946.2L1191.5 943L1191.9 939.4L1192.3 935.5L1192.7 931.2L1193.1 926.7L1193.5 922L1193.9 917.1L1194.3 912.2L1194.7 907.1L1195.1 902.1L1195.5 897.1L1195.9 892.2L1196.3 887.5L1196.7 882.9L1197.1 878.7L1197.5 874.6L1197.9 871L1198.3 867.7L1198.7 864.8L1199.1 862.3L1199.5 860.3L1199.9 858.8L1200.3 857.7L1200.7 857.2L1201.1 857.2L1201.5 857.7L1201.9 858.7L1202.3 860.2L1202.7 862.2L1203.1 864.6L1203.5 867.5L1203.9 870.8L1204.3 874.4L1204.7 878.4L1205.1 882.7L1205.5 887.2L1205.9 891.9L1206.3 896.8L1206.7 901.8L1207.1 906.8L1207.5 911.9L1207.9 916.9L1208.3 921.7L1208.7 926.5L1209.1 931L1209.5 935.2L1209.9 939.2L1210.3 942.8L1210.7 946.1L1211.1 948.9L1211.5 951.3L1211.9 953.2L1212.3 954.6L1212.7 955.5L1213.1 956L1213.5 955.8L1213.9 955.2L1214.3 954L1214.7 952.4L1215.1 950.2L1215.5 947.6L1215.9 944.5L1216.3 941L1216.7 937.1L1217.2 932.8L1217.6 928.3L1218 923.4L1218.4 918.4L1218.8 913.2L1219.2 907.9L1219.6 902.5L1220 897.1L1220.4 891.8L1220.8 886.5L1221.2 881.4L1221.6 876.5L1222 871.8L1222.4 867.4L1222.8 863.4L1223.2 859.7L1223.6 856.5L1224 853.7L1224.4 851.4L1224.8 849.5L1225.2 848.2L1225.6 847.4L1226 847.2L1226.4 847.4L1226.8 848.2L1227.2 849.6L1227.6 851.4L1228 853.8L1228.4 856.6L1228.8 859.9L1229.2 863.5L1229.6 867.6L1230 872L1230.4 876.6L1230.8 881.5L1231.2 886.7L1231.6 891.9L1232 897.3L1232.4 902.7L1232.8 908.1L1233.2 913.4L1233.6 918.6L1234 923.6L1234.4 928.4L1234.8 933L1235.2 937.2L1235.6 941.1L1236 944.6L1236.4 947.7L1236.8 950.3L1237.2 952.4L1237.6 954.1L1238 955.2L1238.4 955.9L1238.8 956L1239.2 955.5L1239.6 954.6L1240 953.1L1240.4 951.2L1240.8 948.8L1241.2 946L1241.6 942.7L1242 939.1L1242.4 935.1L1242.8 930.8L1243.2 926.3L1243.6 921.6L1244 916.7L1244.4 911.7L1244.8 906.7L1245.2 901.7L1245.6 896.7L1246 891.8L1246.4 887.1L1246.8 882.6L1247.2 878.3L1247.6 874.3L1248 870.7L1248.4 867.4L1248.8 864.5L1249.2 862.1L1249.6 860.1L1250 858.7L1250.4 857.7L1250.8 857.2L1251.2 857.2L1251.6 857.8L1252 858.8L1252.4 860.4L1252.8 862.4L1253.2 864.9L1253.6 867.8L1254.1 871.1L1254.5 874.8L1254.9 878.8L1255.3 883.1L1255.7 887.6L1256.1 892.4L1256.5 897.3L1256.9 902.3L1257.3 907.3L1257.7 912.3L1258.1 917.3L1258.5 922.2L1258.9 926.9L1259.3 931.4L1259.7 935.6L1260.1 939.5L1260.5 943.1L1260.9 946.3L1261.3 949.1L1261.7 951.5L1262.1 953.3L1262.5 954.7L1262.9 955.6L1263.3 956L1263.7 955.8L1264.1 955.1L1264.5 953.9L1264.9 952.2L1265.3 950L1265.7 947.3L1266.1 944.2L1266.5 940.6L1266.9 936.7L1267.3 932.4L1267.7 927.8L1268.1 923L1268.5 917.9L1268.9 912.7L1269.3 907.4L1269.7 902L1270.1 896.6L1270.5 891.3L1270.9 886L1271.3 880.9L1271.7 876L1272.1 871.4L1272.5 867.1L1272.9 863.1L1273.3 859.4L1273.7 856.2L1274.1 853.5L1274.5 851.2L1274.9 849.4L1275.3 848.1L1275.7 847.4L1276.1 847.2L1276.5 847.5L1276.9 848.3L1277.3 849.7L1277.7 851.6L1278.1 854L1278.5 856.9L1278.9 860.2L1279.3 863.9L1279.7 868L1280.1 872.4L1280.5 877.1L1280.9 882L1281.3 887.1L1281.7 892.4L1282.1 897.8L1282.5 903.2L1282.9 908.5L1283.3 913.8L1283.7 919L1284.1 924L1284.5 928.8L1284.9 933.3L1285.3 937.6L1285.7 941.4L1286.1 944.9L1286.5 947.9L1286.9 950.5L1287.3 952.6L1287.7 954.2L1288.1 955.3L1288.5 955.9L1288.9 955.9L1289.3 955.5L1289.7 954.5L1290.1 953L1290.5 951L1291 948.6L1291.4 945.7L1291.8 942.4L1292.2 938.7L1292.6 934.7L1293 930.4L1293.4 925.9L1293.8 921.2L1294.2 916.3L1294.6 911.3L1295 906.2L1295.4 901.2L1295.8 896.2L1296.2 891.4L1296.6 886.7L1297 882.2L1297.4 877.9L1297.8 874L1298.2 870.4L1298.6 867.1L1299 864.3L1299.4 861.9L1299.8 860L1300.2 858.6L1300.6 857.6L1301 857.2L1301.4 857.3L1301.8 857.8L1302.2 858.9L1302.6 860.5L1303 862.6L1303.4 865.1L1303.8 868.1L1304.2 871.4L1304.6 875.1L1305 879.2L1305.4 883.5L1305.8 888.1L1306.2 892.8L1306.6 897.7L1307 902.7L1307.4 907.7L1307.8 912.8L1308.2 917.7L1308.6 922.6L1309 927.3L1309.4 931.7L1309.8 936L1310.2 939.9L1310.6 943.4L1311 946.6L1311.4 949.3L1311.8 951.7L1312.2 953.5L1312.6 954.8L1313 955.7L1313.4 956L1313.8 955.8L1314.2 955L1314.6 953.8L1315 952L1315.4 949.8L1315.8 947L1316.2 943.9L1316.6 940.3L1317 936.3L1317.4 932L1317.8 927.4L1318.2 922.6L1318.6 917.5L1319 912.3L1319.4 906.9L1319.8 901.5L1320.2 896.1L1320.6 890.8L1321 885.6L1321.4 880.5L1321.8 875.6L1322.2 871L1322.6 866.7L1323 862.7L1323.4 859.1L1323.8 856L1324.2 853.2L1324.6 851L1325 849.3L1325.4 848L1325.8 847.3L1326.2 847.2L1326.6 847.5L1327 848.4L1327.4 849.9L1327.9 851.8L1328.3 854.2L1328.7 857.1L1329.1 860.5L1329.5 864.2L1329.9 868.3L1330.3 872.8L1330.7 877.5L1331.1 882.4L1331.5 887.6L1331.9 892.9L1332.3 898.2L1332.7 903.6L1333.1 909L1333.5 914.3L1333.9 919.5L1334.3 924.5L1334.7 929.2L1335.1 933.7L1335.5 937.9L1335.9 941.7L1336.3 945.2L1336.7 948.2L1337.1 950.7L1337.5 952.8L1337.9 954.3L1338.3 955.4L1338.7 955.9L1339.1 955.9L1339.5 955.4L1339.9 954.4L1340.3 952.8L1340.7 950.8L1341.1 948.3L1341.5 945.4L1341.9 942.1L1342.3 938.4L1342.7 934.3L1343.1 930L1343.5 925.5L1343.9 920.7L1344.3 915.8L1344.7 910.8L1345.1 905.8L1345.5 900.8L1345.9 895.8L1346.3 890.9L1346.7 886.2L1347.1 881.8L1347.5 877.5L1347.9 873.6L1348.3 870.1L1348.7 866.9L1349.1 864.1L1349.5 861.7L1349.9 859.8L1350.3 858.4L1350.7 857.6L1351.1 857.2L1351.5 857.3L1351.9 857.9L1352.3 859.1L1352.7 860.7L1353.1 862.8L1353.5 865.4L1353.9 868.3L1354.3 871.7L1354.7 875.5L1355.1 879.5L1355.5 883.9L1355.9 888.5L1356.3 893.2L1356.7 898.2L1357.1 903.2L1357.5 908.2L1357.9 913.2L1358.3 918.2L1358.7 923L1359.1 927.7L1359.5 932.1L1359.9 936.3L1360.3 940.2L1360.7 943.7L1361.1 946.9L1361.5 949.6L1361.9 951.8L1362.3 953.6L1362.7 954.9L1363.1 955.7L1363.5 956L1363.9 955.7L1364.3 954.9L1364.8 953.6L1365.2 951.8L1365.6 949.5L1366 946.8L1366.4 943.6L1366.8 939.9L1367.2 936L1367.6 931.6L1368 927L1368.4 922.1L1368.8 917L1369.2 911.8L1369.6 906.4L1370 901L1370.4 895.7L1370.8 890.3L1371.2 885.1L1371.6 880L1372 875.2L1372.4 870.6L1372.8 866.3L1373.2 862.4L1373.6 858.8L1374 855.7L1374.4 853L1374.8 850.8L1375.2 849.1L1375.6 847.9L1376 847.3L1376.4 847.2L1376.8 847.6L1377.2 848.5L1377.6 850L1378 852L1378.4 854.5L1378.8 857.4L1379.2 860.8L1379.6 864.6L1380 868.7L1380.4 873.2L1380.8 877.9L1381.2 882.9L1381.6 888.1L1382 893.3L1382.4 898.7L1382.8 904.1L1383.2 909.5L1383.6 914.8L1384 919.9L1384.4 924.9L1384.8 929.7L1385.2 934.1L1385.6 938.3L1386 942.1L1386.4 945.4L1386.8 948.4L1387.2 950.9L1387.6 952.9L1388 954.4L1388.4 955.4L1388.8 955.9L1389.2 955.9L1389.6 955.3L1390 954.2L1390.4 952.7L1390.8 950.6L1391.2 948.1L1391.6 945.1L1392 941.8L1392.4 938L1392.8 934L1393.2 929.6L1393.6 925.1L1394 920.3L1394.4 915.4L1394.8 910.4L1395.2 905.3L1395.6 900.3L1396 895.4L1396.4 890.5L1396.8 885.8L1397.2 881.4L1397.6 877.2L1398 873.3L1398.4 869.8L1398.8 866.6L1399.2 863.8L1399.6 861.5L1400 859.7L1400.4 858.3L1400.8 857.5L1401.2 857.2L1401.7 857.3L1402.1 858L1402.5 859.2L1402.9 860.9L1403.3 863L1403.7 865.6L1404.1 868.6L1404.5 872L1404.9 875.8L1405.3 879.9L1405.7 884.3L1406.1 888.9L1406.5 893.7L1406.9 898.6L1407.3 903.6L1407.7 908.6L1408.1 913.7L1408.5 918.6L1408.9 923.4L1409.3 928.1L1409.7 932.5L1410.1 936.7L1410.5 940.5L1410.9 944L1411.3 947.1L1411.7 949.8L1412.1 952L1412.5 953.8L1412.9 955L1413.3 955.8L1413.7 956L1414.1 955.7L1414.5 954.8L1414.9 953.5L1415.3 951.6L1415.7 949.3L1416.1 946.5L1416.5 943.3L1416.9 939.6L1417.3 935.6L1417.7 931.2L1418.1 926.6L1418.5 921.7L1418.9 916.6L1419.3 911.3L1419.7 906L1420.1 900.6L1420.5 895.2L1420.9 889.9L1421.3 884.7L1421.7 879.6L1422.1 874.8L1422.5 870.2L1422.9 866L1423.3 862.1L1423.7 858.5L1424.1 855.4L1424.5 852.8L1424.9 850.6L1425.3 849L1425.7 847.9L1426.1 847.3L1426.5 847.2L1426.9 847.7L1427.3 848.7L1427.7 850.2L1428.1 852.2L1428.5 854.7L1428.9 857.7L1429.3 861.1L1429.7 864.9L1430.1 869.1L1430.5 873.6L1430.9 878.4L1431.3 883.4L1431.7 888.5L1432.1 893.8L1432.5 899.2L1432.9 904.6L1433.3 910L1433.7 915.2L1434.1 920.4L1434.5 925.3L1434.9 930.1L1435.3 934.5L1435.7 938.6L1436.1 942.4L1436.5 945.7L1436.9 948.6L1437.3 951.1L1437.7 953.1L1438.1 954.6L1438.6 955.5L1439 955.9L1439.4 955.9L1439.8 955.3L1440.2 954.1L1440.6 952.5L1441 950.4L1441.4 947.8L1441.8 944.8L1442.2 941.4L1442.6 937.7L1443 933.6L1443.4 929.2L1443.8 924.6L1444.2 919.9L1444.6 914.9L1445 909.9L1445.4 904.9L1445.8 899.9L1446.2 894.9L1446.6 890.1L1447 885.4L1447.4 881L1447.8 876.8L1448.2 873L1448.6 869.5L1449 866.3L1449.4 863.6L1449.8 861.4L1450.2 859.6L1450.6 858.3L1451 857.4L1451.4 857.1L1451.8 857.4L1452.2 858.1L1452.6 859.3L1453 861L1453.4 863.2L1453.8 865.9L1454.2 868.9L1454.6 872.4L1455 876.2L1455.4 880.3L1455.8 884.7L1456.2 889.3L1456.6 894.1L1457 899L1457.4 904.1L1457.8 909.1L1458.2 914.1L1458.6 919.1L1459 923.9L1459.4 928.5L1459.8 932.9L1460.2 937L1460.6 940.8L1461 944.3L1461.4 947.4L1461.8 950L1462.2 952.2L1462.6 953.9L1463 955.1L1463.4 955.8L1463.8 956L1464.2 955.6L1464.6 954.7L1465 953.4L1465.4 951.5L1465.8 949.1L1466.2 946.2L1466.6 943L1467 939.3L1467.4 935.2L1467.8 930.8L1468.2 926.1L1468.6 921.2L1469 916.1L1469.4 910.8L1469.8 905.5L1470.2 900.1L1470.6 894.7L1471 889.4L1471.4 884.2L1471.8 879.2L1472.2 874.4L1472.6 869.8L1473 865.6L1473.4 861.7L1473.8 858.2L1474.2 855.2L1474.6 852.6L1475 850.5L1475.5 848.9L1475.9 847.8L1476.3 847.2L1476.7 847.2L1477.1 847.7L1477.5 848.8L1477.9 850.3L1478.3 852.4L1478.7 855L1479.1 858L1479.5 861.4L1479.9 865.3L1480.3 869.5L1480.7 874L1481.1 878.8L1481.5 883.8L1481.9 889L1482.3 894.3L1482.7 899.7L1483.1 905.1L1483.5 910.4L1483.9 915.7L1484.3 920.8L1484.7 925.8L1485.1 930.5L1485.5 934.9L1485.9 939L1486.3 942.7L1486.7 946L1487.1 948.9L1487.5 951.3L1487.9 953.2L1488.3 954.7L1488.7 955.6L1489.1 956L1489.5 955.8L1489.9 955.2L1490.3 954L1490.7 952.3L1491.1 950.2L1491.5 947.6L1491.9 944.5L1492.3 941.1L1492.7 937.3L1493.1 933.2L1493.5 928.8L1493.9 924.2L1494.3 919.4L1494.7 914.5L1495.1 909.5L1495.5 904.4L1495.9 899.4L1496.3 894.5L1496.7 889.7L1497.1 885L1497.5 880.6" fill="none" stroke="#9A9AF6" stroke-width="5.0" stroke-linejoin="round" clip-path="url(#clipB)"/>
<circle cx="991.5" cy="955" r="8.2" fill="#9A9AF6"/>
<circle cx="1091.7" cy="955" r="8.2" fill="#9A9AF6"/>
<circle cx="1191.9" cy="955" r="8.2" fill="#9A9AF6"/>
<circle cx="1292.1" cy="955" r="8.2" fill="#9A9AF6"/>
<circle cx="1392.3" cy="955" r="8.2" fill="#9A9AF6"/>
<circle cx="1492.5" cy="955" r="8.2" fill="#9A9AF6"/>
<path d="M936.4 922.6L936.8 924.3L937.2 926L937.6 927.6L938 929L938.4 930.3L938.8 931.4L939.2 932.4L939.6 933.2L940 933.8L940.4 934.3L940.8 934.5L941.2 934.5L941.6 934.2L942 933.7L942.4 933L942.8 932.1L943.2 931L943.6 929.7L944 928.3L944.4 926.8L944.8 925.1L945.2 923.3L945.6 921.4L946 919.4L946.4 917.4L946.8 915.4L947.2 913.3L947.6 911.2L948 909.1L948.4 907L948.8 905L949.2 903L949.6 901.1L950 899.3L950.4 897.6L950.8 896L951.2 894.6L951.6 893.3L952 892.1L952.4 891.2L952.8 890.4L953.2 889.9L953.6 889.6L954 889.5L954.4 889.7L954.8 890.1L955.2 890.7L955.6 891.6L956 892.6L956.4 893.7L956.8 895L957.2 896.4L957.6 897.9L958 899.5L958.4 901.1L958.9 902.7L959.3 904.4L959.7 906.1L960.1 907.7L960.5 909.3L960.9 910.8L961.3 912.2L961.7 913.5L962.1 914.7L962.5 915.8L962.9 916.7L963.3 917.3L963.7 917.8L964.1 918.1L964.5 918.1L964.9 917.9L965.3 917.5L965.7 916.9L966.1 916.1L966.5 915.2L966.9 914.1L967.3 912.9L967.7 911.6L968.1 910.1L968.5 908.6L968.9 907L969.3 905.4L969.7 903.7L970.1 902L970.5 900.3L970.9 898.5L971.3 896.8L971.7 895.2L972.1 893.6L972.5 892L972.9 890.5L973.3 889.2L973.7 887.9L974.1 886.8L974.5 885.8L974.9 884.9L975.3 884.2L975.7 883.7L976.1 883.4L976.5 883.4L976.9 883.5L977.3 883.9L977.7 884.4L978.1 885.2L978.5 886.1L978.9 887.2L979.3 888.5L979.7 889.9L980.1 891.4L980.5 893L980.9 894.8L981.3 896.6L981.7 898.5L982.1 900.5L982.5 902.5L982.9 904.5L983.3 906.6L983.7 908.7L984.1 910.8L984.5 912.9L984.9 915L985.3 917L985.7 919L986.1 920.9L986.5 922.7L986.9 924.5L987.3 926.1L987.7 927.7L988.1 929.1L988.5 930.4L988.9 931.5L989.3 932.5L989.7 933.3L990.1 933.9L990.5 934.3L990.9 934.5L991.3 934.4L991.7 934.2L992.1 933.7L992.5 932.9L992.9 932L993.3 930.9L993.7 929.6L994.1 928.2L994.5 926.6L994.9 924.9L995.3 923.1L995.8 921.2L996.2 919.3L996.6 917.2L997 915.2L997.4 913.1L997.8 911L998.2 908.9L998.6 906.9L999 904.8L999.4 902.9L999.8 901L1000.2 899.2L1000.6 897.5L1001 895.9L1001.4 894.4L1001.8 893.2L1002.2 892L1002.6 891.1L1003 890.3L1003.4 889.8L1003.8 889.5L1004.2 889.5L1004.6 889.7L1005 890.1L1005.4 890.8L1005.8 891.6L1006.2 892.7L1006.6 893.8L1007 895.1L1007.4 896.5L1007.8 898L1008.2 899.6L1008.6 901.2L1009 902.9L1009.4 904.5L1009.8 906.2L1010.2 907.8L1010.6 909.4L1011 910.9L1011.4 912.3L1011.8 913.6L1012.2 914.8L1012.6 915.9L1013 916.7L1013.4 917.4L1013.8 917.9L1014.2 918.1L1014.6 918.1L1015 917.9L1015.4 917.5L1015.8 916.9L1016.2 916.1L1016.6 915.1L1017 914L1017.4 912.8L1017.8 911.5L1018.2 910L1018.6 908.5L1019 906.9L1019.4 905.2L1019.8 903.6L1020.2 901.8L1020.6 900.1L1021 898.4L1021.4 896.7L1021.8 895L1022.2 893.4L1022.6 891.9L1023 890.4L1023.4 889L1023.8 887.8L1024.2 886.7L1024.6 885.7L1025 884.8L1025.4 884.2L1025.8 883.7L1026.2 883.4L1026.6 883.4L1027 883.5L1027.4 883.9L1027.8 884.5L1028.2 885.3L1028.6 886.2L1029 887.3L1029.4 888.6L1029.8 890L1030.2 891.5L1030.6 893.2L1031 894.9L1031.4 896.8L1031.8 898.7L1032.2 900.7L1032.7 902.7L1033.1 904.7L1033.5 906.8L1033.9 908.9L1034.3 911L1034.7 913.1L1035.1 915.2L1035.5 917.2L1035.9 919.2L1036.3 921.1L1036.7 923L1037.1 924.7L1037.5 926.4L1037.9 927.9L1038.3 929.4L1038.7 930.6L1039.1 931.8L1039.5 932.7L1039.9 933.5L1040.3 934.1L1040.7 934.5L1041.1 934.7L1041.5 934.6L1041.9 934.3L1042.3 933.8L1042.7 933.1L1043.1 932.1L1043.5 931L1043.9 929.7L1044.3 928.2L1044.7 926.7L1045.1 924.9L1045.5 923.1L1045.9 921.2L1046.3 919.2L1046.7 917.2L1047.1 915.1L1047.5 913L1047.9 910.9L1048.3 908.8L1048.7 906.8L1049.1 904.7L1049.5 902.8L1049.9 900.9L1050.3 899.1L1050.7 897.4L1051.1 895.8L1051.5 894.4L1051.9 893.1L1052.3 892L1052.7 891L1053.1 890.3L1053.5 889.8L1053.9 889.5L1054.3 889.5L1054.7 889.7L1055.1 890.2L1055.5 890.9L1055.9 891.7L1056.3 892.8L1056.7 893.9L1057.1 895.2L1057.5 896.7L1057.9 898.2L1058.3 899.7L1058.7 901.4L1059.1 903L1059.5 904.7L1059.9 906.3L1060.3 908L1060.7 909.5L1061.1 911L1061.5 912.5L1061.9 913.8L1062.3 914.9L1062.7 915.9L1063.1 916.8L1063.5 917.5L1063.9 917.9L1064.3 918.1L1064.7 918.1L1065.1 917.9L1065.5 917.4L1065.9 916.8L1066.3 916L1066.7 915L1067.1 913.9L1067.5 912.7L1067.9 911.3L1068.3 909.9L1068.7 908.3L1069.1 906.7L1069.6 905.1L1070 903.4L1070.4 901.7L1070.8 900L1071.2 898.2L1071.6 896.5L1072 894.9L1072.4 893.3L1072.8 891.7L1073.2 890.3L1073.6 888.9L1074 887.7L1074.4 886.6L1074.8 885.6L1075.2 884.8L1075.6 884.1L1076 883.7L1076.4 883.4L1076.8 883.4L1077.2 883.6L1077.6 884L1078 884.6L1078.4 885.4L1078.8 886.3L1079.2 887.5L1079.6 888.7L1080 890.2L1080.4 891.7L1080.8 893.4L1081.2 895.1L1081.6 897L1082 898.9L1082.4 900.9L1082.8 902.9L1083.2 905L1083.6 907.1L1084 909.3L1084.4 911.4L1084.8 913.5L1085.2 915.6L1085.6 917.6L1086 919.6L1086.4 921.6L1086.8 923.4L1087.2 925.2L1087.6 926.9L1088 928.5L1088.4 929.9L1088.8 931.2L1089.2 932.3L1089.6 933.3L1090 934.1L1090.4 934.7L1090.8 935L1091.2 935.2L1091.6 935.1L1092 934.8L1092.4 934.3L1092.8 933.5L1093.2 932.5L1093.6 931.4L1094 930L1094.4 928.5L1094.8 926.9L1095.2 925.2L1095.6 923.3L1096 921.4L1096.4 919.4L1096.8 917.3L1097.2 915.2L1097.6 913.1L1098 910.9L1098.4 908.8L1098.8 906.7L1099.2 904.7L1099.6 902.7L1100 900.8L1100.4 899L1100.8 897.3L1101.2 895.7L1101.6 894.3L1102 893L1102.4 891.9L1102.8 891L1103.2 890.3L1103.6 889.8L1104 889.5L1104.4 889.5L1104.8 889.8L1105.2 890.3L1105.6 890.9L1106 891.8L1106.5 892.9L1106.9 894L1107.3 895.4L1107.7 896.8L1108.1 898.3L1108.5 899.9L1108.9 901.5L1109.3 903.2L1109.7 904.8L1110.1 906.5L1110.5 908.1L1110.9 909.7L1111.3 911.2L1111.7 912.6L1112.1 913.9L1112.5 915L1112.9 916L1113.3 916.9L1113.7 917.5L1114.1 917.9L1114.5 918.1L1114.9 918.1L1115.3 917.8L1115.7 917.4L1116.1 916.7L1116.5 915.9L1116.9 914.9L1117.3 913.8L1117.7 912.6L1118.1 911.2L1118.5 909.7L1118.9 908.2L1119.3 906.6L1119.7 904.9L1120.1 903.2L1120.5 901.5L1120.9 899.8L1121.3 898.1L1121.7 896.4L1122.1 894.7L1122.5 893.1L1122.9 891.6L1123.3 890.2L1123.7 888.8L1124.1 887.6L1124.5 886.5L1124.9 885.5L1125.3 884.7L1125.7 884.1L1126.1 883.6L1126.5 883.4L1126.9 883.4L1127.3 883.6L1127.7 884L1128.1 884.6L1128.5 885.4L1128.9 886.4L1129.3 887.6L1129.7 888.9L1130.1 890.3L1130.5 891.9L1130.9 893.6L1131.3 895.3L1131.7 897.2L1132.1 899.1L1132.5 901.1L1132.9 903.2L1133.3 905.3L1133.7 907.4L1134.1 909.6L1134.5 911.7L1134.9 913.9L1135.3 916L1135.7 918L1136.1 920.1L1136.5 922L1136.9 923.9L1137.3 925.7L1137.7 927.4L1138.1 929L1138.5 930.4L1138.9 931.7L1139.3 932.9L1139.7 933.8L1140.1 934.6L1140.5 935.2L1140.9 935.6L1141.3 935.7L1141.7 935.7L1142.1 935.3L1142.5 934.7L1142.9 933.9L1143.4 932.9L1143.8 931.7L1144.2 930.4L1144.6 928.8L1145 927.2L1145.4 925.4L1145.8 923.5L1146.2 921.5L1146.6 919.5L1147 917.4L1147.4 915.3L1147.8 913.1L1148.2 911L1148.6 908.8L1149 906.7L1149.4 904.7L1149.8 902.7L1150.2 900.7L1150.6 898.9L1151 897.2L1151.4 895.6L1151.8 894.2L1152.2 892.9L1152.6 891.8L1153 890.9L1153.4 890.2L1153.8 889.8L1154.2 889.5L1154.6 889.6L1155 889.8L1155.4 890.3L1155.8 891L1156.2 891.9L1156.6 893L1157 894.2L1157.4 895.5L1157.8 896.9L1158.2 898.4L1158.6 900L1159 901.7L1159.4 903.3L1159.8 905L1160.2 906.6L1160.6 908.3L1161 909.8L1161.4 911.3L1161.8 912.7L1162.2 914L1162.6 915.1L1163 916.1L1163.4 916.9L1163.8 917.5L1164.2 918L1164.6 918.1L1165 918.1L1165.4 917.8L1165.8 917.3L1166.2 916.7L1166.6 915.8L1167 914.8L1167.4 913.7L1167.8 912.4L1168.2 911.1L1168.6 909.6L1169 908.1L1169.4 906.5L1169.8 904.8L1170.2 903.1L1170.6 901.4L1171 899.7L1171.4 897.9L1171.8 896.2L1172.2 894.6L1172.6 893L1173 891.5L1173.4 890L1173.8 888.7L1174.2 887.5L1174.6 886.4L1175 885.4L1175.4 884.6L1175.8 884L1176.2 883.6L1176.6 883.4L1177 883.4L1177.4 883.6L1177.8 884.1L1178.2 884.7L1178.6 885.5L1179 886.5L1179.4 887.7L1179.8 889L1180.3 890.5L1180.7 892L1181.1 893.7L1181.5 895.5L1181.9 897.4L1182.3 899.4L1182.7 901.4L1183.1 903.5L1183.5 905.6L1183.9 907.7L1184.3 909.9L1184.7 912.1L1185.1 914.2L1185.5 916.3L1185.9 918.4L1186.3 920.5L1186.7 922.5L1187.1 924.4L1187.5 926.2L1187.9 927.9L1188.3 929.5L1188.7 931L1189.1 932.3L1189.5 933.4L1189.9 934.4L1190.3 935.2L1190.7 935.8L1191.1 936.1L1191.5 936.3L1191.9 936.2L1192.3 935.8L1192.7 935.2L1193.1 934.4L1193.5 933.3L1193.9 932.1L1194.3 930.7L1194.7 929.1L1195.1 927.4L1195.5 925.6L1195.9 923.7L1196.3 921.7L1196.7 919.6L1197.1 917.5L1197.5 915.3L1197.9 913.1L1198.3 911L1198.7 908.8L1199.1 906.7L1199.5 904.6L1199.9 902.6L1200.3 900.7L1200.7 898.9L1201.1 897.1L1201.5 895.6L1201.9 894.1L1202.3 892.9L1202.7 891.8L1203.1 890.9L1203.5 890.2L1203.9 889.8L1204.3 889.5L1204.7 889.6L1205.1 889.9L1205.5 890.4L1205.9 891.1L1206.3 892L1206.7 893.1L1207.1 894.3L1207.5 895.6L1207.9 897.1L1208.3 898.6L1208.7 900.2L1209.1 901.8L1209.5 903.5L1209.9 905.1L1210.3 906.8L1210.7 908.4L1211.1 910L1211.5 911.4L1211.9 912.8L1212.3 914.1L1212.7 915.2L1213.1 916.2L1213.5 917L1213.9 917.6L1214.3 918L1214.7 918.1L1215.1 918.1L1215.5 917.8L1215.9 917.3L1216.3 916.6L1216.7 915.7L1217.2 914.7L1217.6 913.6L1218 912.3L1218.4 910.9L1218.8 909.5L1219.2 907.9L1219.6 906.3L1220 904.6L1220.4 902.9L1220.8 901.2L1221.2 899.5L1221.6 897.8L1222 896.1L1222.4 894.5L1222.8 892.9L1223.2 891.3L1223.6 889.9L1224 888.6L1224.4 887.4L1224.8 886.3L1225.2 885.4L1225.6 884.6L1226 884L1226.4 883.6L1226.8 883.4L1227.2 883.4L1227.6 883.7L1228 884.1L1228.4 884.8L1228.8 885.6L1229.2 886.6L1229.6 887.8L1230 889.2L1230.4 890.6L1230.8 892.2L1231.2 893.9L1231.6 895.7L1232 897.6L1232.4 899.6L1232.8 901.7L1233.2 903.8L1233.6 905.9L1234 908L1234.4 910.2L1234.8 912.4L1235.2 914.6L1235.6 916.7L1236 918.9L1236.4 920.9L1236.8 922.9L1237.2 924.8L1237.6 926.7L1238 928.4L1238.4 930L1238.8 931.5L1239.2 932.8L1239.6 934L1240 934.9L1240.4 935.7L1240.8 936.3L1241.2 936.7L1241.6 936.8L1242 936.7L1242.4 936.3L1242.8 935.6L1243.2 934.8L1243.6 933.7L1244 932.5L1244.4 931L1244.8 929.4L1245.2 927.7L1245.6 925.8L1246 923.9L1246.4 921.8L1246.8 919.7L1247.2 917.6L1247.6 915.4L1248 913.2L1248.4 911L1248.8 908.8L1249.2 906.6L1249.6 904.6L1250 902.5L1250.4 900.6L1250.8 898.8L1251.2 897.1L1251.6 895.5L1252 894.1L1252.4 892.8L1252.8 891.7L1253.2 890.9L1253.6 890.2L1254.1 889.7L1254.5 889.5L1254.9 889.6L1255.3 889.9L1255.7 890.4L1256.1 891.2L1256.5 892.1L1256.9 893.2L1257.3 894.4L1257.7 895.7L1258.1 897.2L1258.5 898.7L1258.9 900.3L1259.3 902L1259.7 903.6L1260.1 905.3L1260.5 906.9L1260.9 908.5L1261.3 910.1L1261.7 911.6L1262.1 912.9L1262.5 914.2L1262.9 915.3L1263.3 916.3L1263.7 917.1L1264.1 917.6L1264.5 918L1264.9 918.1L1265.3 918L1265.7 917.7L1266.1 917.2L1266.5 916.5L1266.9 915.7L1267.3 914.6L1267.7 913.5L1268.1 912.2L1268.5 910.8L1268.9 909.3L1269.3 907.8L1269.7 906.2L1270.1 904.5L1270.5 902.8L1270.9 901.1L1271.3 899.3L1271.7 897.6L1272.1 896L1272.5 894.3L1272.9 892.7L1273.3 891.2L1273.7 889.8L1274.1 888.5L1274.5 887.3L1274.9 886.2L1275.3 885.3L1275.7 884.5L1276.1 883.9L1276.5 883.6L1276.9 883.4L1277.3 883.4L1277.7 883.7L1278.1 884.2L1278.5 884.9L1278.9 885.7L1279.3 886.8L1279.7 888L1280.1 889.3L1280.5 890.8L1280.9 892.4L1281.3 894.1L1281.7 895.9L1282.1 897.9L1282.5 899.9L1282.9 901.9L1283.3 904L1283.7 906.2L1284.1 908.4L1284.5 910.6L1284.9 912.8L1285.3 915L1285.7 917.1L1286.1 919.3L1286.5 921.4L1286.9 923.4L1287.3 925.3L1287.7 927.2L1288.1 928.9L1288.5 930.5L1288.9 932L1289.3 933.4L1289.7 934.5L1290.1 935.5L1290.5 936.3L1291 936.9L1291.4 937.2L1291.8 937.3L1292.2 937.2L1292.6 936.7L1293 936.1L1293.4 935.2L1293.8 934.1L1294.2 932.8L1294.6 931.3L1295 929.7L1295.4 927.9L1295.8 926.1L1296.2 924.1L1296.6 922L1297 919.8L1297.4 917.6L1297.8 915.4L1298.2 913.2L1298.6 911L1299 908.8L1299.4 906.6L1299.8 904.5L1300.2 902.5L1300.6 900.5L1301 898.7L1301.4 897L1301.8 895.4L1302.2 894L1302.6 892.7L1303 891.7L1303.4 890.8L1303.8 890.2L1304.2 889.7L1304.6 889.6L1305 889.6L1305.4 890L1305.8 890.5L1306.2 891.3L1306.6 892.2L1307 893.3L1307.4 894.5L1307.8 895.9L1308.2 897.3L1308.6 898.9L1309 900.5L1309.4 902.1L1309.8 903.8L1310.2 905.4L1310.6 907.1L1311 908.7L1311.4 910.2L1311.8 911.7L1312.2 913.1L1312.6 914.3L1313 915.4L1313.4 916.3L1313.8 917.1L1314.2 917.7L1314.6 918L1315 918.1L1315.4 918L1315.8 917.7L1316.2 917.2L1316.6 916.4L1317 915.6L1317.4 914.5L1317.8 913.4L1318.2 912.1L1318.6 910.7L1319 909.2L1319.4 907.6L1319.8 906L1320.2 904.3L1320.6 902.6L1321 900.9L1321.4 899.2L1321.8 897.5L1322.2 895.8L1322.6 894.2L1323 892.6L1323.4 891.1L1323.8 889.7L1324.2 888.4L1324.6 887.2L1325 886.1L1325.4 885.2L1325.8 884.5L1326.2 883.9L1326.6 883.5L1327 883.4L1327.4 883.4L1327.9 883.7L1328.3 884.2L1328.7 884.9L1329.1 885.8L1329.5 886.9L1329.9 888.1L1330.3 889.4L1330.7 890.9L1331.1 892.6L1331.5 894.3L1331.9 896.2L1332.3 898.1L1332.7 900.1L1333.1 902.2L1333.5 904.3L1333.9 906.5L1334.3 908.7L1334.7 910.9L1335.1 913.1L1335.5 915.3L1335.9 917.5L1336.3 919.7L1336.7 921.8L1337.1 923.8L1337.5 925.8L1337.9 927.7L1338.3 929.4L1338.7 931.1L1339.1 932.6L1339.5 933.9L1339.9 935.1L1340.3 936.1L1340.7 936.8L1341.1 937.4L1341.5 937.7L1341.9 937.8L1342.3 937.7L1342.7 937.2L1343.1 936.5L1343.5 935.6L1343.9 934.5L1344.3 933.2L1344.7 931.7L1345.1 930L1345.5 928.2L1345.9 926.3L1346.3 924.2L1346.7 922.1L1347.1 919.9L1347.5 917.7L1347.9 915.5L1348.3 913.2L1348.7 911L1349.1 908.7L1349.5 906.6L1349.9 904.5L1350.3 902.4L1350.7 900.5L1351.1 898.6L1351.5 896.9L1351.9 895.3L1352.3 893.9L1352.7 892.7L1353.1 891.6L1353.5 890.8L1353.9 890.1L1354.3 889.7L1354.7 889.6L1355.1 889.7L1355.5 890L1355.9 890.6L1356.3 891.3L1356.7 892.3L1357.1 893.4L1357.5 894.6L1357.9 896L1358.3 897.5L1358.7 899L1359.1 900.6L1359.5 902.3L1359.9 903.9L1360.3 905.6L1360.7 907.2L1361.1 908.8L1361.5 910.4L1361.9 911.8L1362.3 913.2L1362.7 914.4L1363.1 915.5L1363.5 916.4L1363.9 917.2L1364.3 917.7L1364.8 918L1365.2 918.1L1365.6 918L1366 917.6L1366.4 917.1L1366.8 916.4L1367.2 915.5L1367.6 914.4L1368 913.3L1368.4 912L1368.8 910.6L1369.2 909.1L1369.6 907.5L1370 905.9L1370.4 904.2L1370.8 902.5L1371.2 900.8L1371.6 899L1372 897.3L1372.4 895.7L1372.8 894L1373.2 892.5L1373.6 891L1374 889.5L1374.4 888.2L1374.8 887.1L1375.2 886L1375.6 885.1L1376 884.4L1376.4 883.9L1376.8 883.5L1377.2 883.4L1377.6 883.5L1378 883.8L1378.4 884.3L1378.8 885L1379.2 885.9L1379.6 887L1380 888.2L1380.4 889.6L1380.8 891.1L1381.2 892.8L1381.6 894.5L1382 896.4L1382.4 898.3L1382.8 900.3L1383.2 902.4L1383.6 904.6L1384 906.8L1384.4 909L1384.8 911.2L1385.2 913.5L1385.6 915.7L1386 917.9L1386.4 920.1L1386.8 922.2L1387.2 924.3L1387.6 926.3L1388 928.2L1388.4 930L1388.8 931.6L1389.2 933.1L1389.6 934.5L1390 935.6L1390.4 936.6L1390.8 937.4L1391.2 938L1391.6 938.3L1392 938.4L1392.4 938.2L1392.8 937.7L1393.2 937L1393.6 936L1394 934.9L1394.4 933.5L1394.8 932L1395.2 930.3L1395.6 928.4L1396 926.5L1396.4 924.4L1396.8 922.3L1397.2 920L1397.6 917.8L1398 915.5L1398.4 913.2L1398.8 911L1399.2 908.7L1399.6 906.5L1400 904.4L1400.4 902.3L1400.8 900.4L1401.2 898.6L1401.7 896.8L1402.1 895.3L1402.5 893.9L1402.9 892.6L1403.3 891.6L1403.7 890.7L1404.1 890.1L1404.5 889.7L1404.9 889.6L1405.3 889.7L1405.7 890.1L1406.1 890.6L1406.5 891.4L1406.9 892.4L1407.3 893.5L1407.7 894.8L1408.1 896.1L1408.5 897.6L1408.9 899.1L1409.3 900.8L1409.7 902.4L1410.1 904.1L1410.5 905.7L1410.9 907.4L1411.3 909L1411.7 910.5L1412.1 911.9L1412.5 913.3L1412.9 914.5L1413.3 915.6L1413.7 916.5L1414.1 917.2L1414.5 917.8L1414.9 918.1L1415.3 918.1L1415.7 918L1416.1 917.6L1416.5 917L1416.9 916.3L1417.3 915.4L1417.7 914.3L1418.1 913.2L1418.5 911.8L1418.9 910.4L1419.3 908.9L1419.7 907.4L1420.1 905.7L1420.5 904L1420.9 902.3L1421.3 900.6L1421.7 898.9L1422.1 897.2L1422.5 895.5L1422.9 893.9L1423.3 892.3L1423.7 890.8L1424.1 889.4L1424.5 888.1L1424.9 887L1425.3 885.9L1425.7 885.1L1426.1 884.4L1426.5 883.8L1426.9 883.5L1427.3 883.4L1427.7 883.5L1428.1 883.8L1428.5 884.4L1428.9 885.1L1429.3 886L1429.7 887.1L1430.1 888.3L1430.5 889.7L1430.9 891.3L1431.3 892.9L1431.7 894.7L1432.1 896.6L1432.5 898.5L1432.9 900.6L1433.3 902.7L1433.7 904.9L1434.1 907.1L1434.5 909.3L1434.9 911.6L1435.3 913.8L1435.7 916.1L1436.1 918.3L1436.5 920.5L1436.9 922.7L1437.3 924.8L1437.7 926.8L1438.1 928.7L1438.6 930.5L1439 932.1L1439.4 933.7L1439.8 935L1440.2 936.2L1440.6 937.2L1441 938L1441.4 938.5L1441.8 938.8L1442.2 938.9L1442.6 938.6L1443 938.2L1443.4 937.4L1443.8 936.4L1444.2 935.2L1444.6 933.8L1445 932.3L1445.4 930.5L1445.8 928.7L1446.2 926.7L1446.6 924.6L1447 922.4L1447.4 920.1L1447.8 917.9L1448.2 915.5L1448.6 913.2L1449 910.9L1449.4 908.7L1449.8 906.5L1450.2 904.3L1450.6 902.3L1451 900.3L1451.4 898.5L1451.8 896.8L1452.2 895.2L1452.6 893.8L1453 892.6L1453.4 891.5L1453.8 890.7L1454.2 890.1L1454.6 889.7L1455 889.6L1455.4 889.7L1455.8 890.1L1456.2 890.7L1456.6 891.5L1457 892.5L1457.4 893.6L1457.8 894.9L1458.2 896.3L1458.6 897.7L1459 899.3L1459.4 900.9L1459.8 902.6L1460.2 904.2L1460.6 905.9L1461 907.5L1461.4 909.1L1461.8 910.6L1462.2 912.1L1462.6 913.4L1463 914.6L1463.4 915.7L1463.8 916.6L1464.2 917.3L1464.6 917.8L1465 918.1L1465.4 918.1L1465.8 917.9L1466.2 917.6L1466.6 917L1467 916.2L1467.4 915.3L1467.8 914.2L1468.2 913L1468.6 911.7L1469 910.3L1469.4 908.8L1469.8 907.2L1470.2 905.6L1470.6 903.9L1471 902.2L1471.4 900.5L1471.8 898.7L1472.2 897L1472.6 895.4L1473 893.7L1473.4 892.2L1473.8 890.7L1474.2 889.3L1474.6 888L1475 886.9L1475.5 885.9L1475.9 885L1476.3 884.3L1476.7 883.8L1477.1 883.5L1477.5 883.4L1477.9 883.5L1478.3 883.9L1478.7 884.4L1479.1 885.2L1479.5 886.1L1479.9 887.2L1480.3 888.5L1480.7 889.9L1481.1 891.4L1481.5 893.1L1481.9 894.9L1482.3 896.8L1482.7 898.8L1483.1 900.8L1483.5 903L1483.9 905.2L1484.3 907.4L1484.7 909.6L1485.1 911.9L1485.5 914.2L1485.9 916.5L1486.3 918.7L1486.7 921L1487.1 923.1L1487.5 925.2L1487.9 927.3L1488.3 929.2L1488.7 931L1489.1 932.7L1489.5 934.2L1489.9 935.6L1490.3 936.8L1490.7 937.8L1491.1 938.5L1491.5 939.1L1491.9 939.4L1492.3 939.4L1492.7 939.1L1493.1 938.6L1493.5 937.9L1493.9 936.8L1494.3 935.6L1494.7 934.2L1495.1 932.6L1495.5 930.8L1495.9 928.9L1496.3 926.8L1496.7 924.7L1497.1 922.5L1497.5 920.2" fill="none" stroke="#4DBBEB" stroke-width="5.0" stroke-linejoin="round" clip-path="url(#clipB)"/>
<circle cx="991.5" cy="937" r="7" fill="#fff" stroke="#4DBBEB" stroke-width="3.4"/>
<circle cx="1091.7" cy="937.7" r="7" fill="#fff" stroke="#4DBBEB" stroke-width="3.4"/>
<circle cx="1191.9" cy="938.8" r="7" fill="#fff" stroke="#4DBBEB" stroke-width="3.4"/>
<circle cx="1292.1" cy="939.8" r="7" fill="#fff" stroke="#4DBBEB" stroke-width="3.4"/>
<circle cx="1392.3" cy="940.9" r="7" fill="#fff" stroke="#4DBBEB" stroke-width="3.4"/>
<circle cx="1492.5" cy="941.9" r="7" fill="#fff" stroke="#4DBBEB" stroke-width="3.4"/>
<path d="M936.4 924.4L936.8 926.3L937.2 928.1L937.6 929.8L938 931.4L938.4 932.8L938.8 934.1L939.2 935.2L939.6 936.2L940 936.9L940.4 937.4L940.8 937.7L941.2 937.8L941.6 937.6L942 937.2L942.4 936.6L942.8 935.7L943.2 934.6L943.6 933.4L944 932L944.4 930.5L944.8 928.8L945.2 927L945.6 925.1L946 923.1L946.4 921.1L946.8 919L947.2 916.9L947.6 914.8L948 912.6L948.4 910.5L948.8 908.5L949.2 906.4L949.6 904.5L950 902.6L950.4 900.8L950.8 899.2L951.2 897.7L951.6 896.3L952 895.1L952.4 894.1L952.8 893.3L953.2 892.7L953.6 892.3L954 892.2L954.4 892.3L954.8 892.7L955.2 893.3L955.6 894.1L956 895L956.4 896.1L956.8 897.4L957.2 898.8L957.6 900.2L958 901.7L958.4 903.3L958.9 904.9L959.3 906.5L959.7 908.1L960.1 909.7L960.5 911.3L960.9 912.7L961.3 914.1L961.7 915.3L962.1 916.5L962.5 917.4L962.9 918.3L963.3 918.9L963.7 919.3L964.1 919.4L964.5 919.3L964.9 919L965.3 918.5L965.7 917.8L966.1 916.9L966.5 915.9L966.9 914.7L967.3 913.3L967.7 911.9L968.1 910.3L968.5 908.7L968.9 907L969.3 905.2L969.7 903.4L970.1 901.6L970.5 899.7L970.9 897.9L971.3 896.1L971.7 894.3L972.1 892.6L972.5 891L972.9 889.4L973.3 888L973.7 886.7L974.1 885.5L974.5 884.4L974.9 883.6L975.3 882.9L975.7 882.4L976.1 882.1L976.5 882L976.9 882.2L977.3 882.6L977.7 883.2L978.1 884L978.5 885.1L978.9 886.2L979.3 887.6L979.7 889.1L980.1 890.7L980.5 892.5L980.9 894.4L981.3 896.3L981.7 898.4L982.1 900.5L982.5 902.7L982.9 904.9L983.3 907.1L983.7 909.4L984.1 911.6L984.5 913.9L984.9 916.1L985.3 918.3L985.7 920.5L986.1 922.6L986.5 924.6L986.9 926.5L987.3 928.3L987.7 930L988.1 931.5L988.5 933L988.9 934.2L989.3 935.3L989.7 936.2L990.1 937L990.5 937.5L990.9 937.8L991.3 937.8L991.7 937.6L992.1 937.2L992.5 936.5L992.9 935.6L993.3 934.5L993.7 933.3L994.1 931.9L994.5 930.3L994.9 928.6L995.3 926.8L995.8 924.9L996.2 922.9L996.6 920.9L997 918.8L997.4 916.7L997.8 914.6L998.2 912.4L998.6 910.3L999 908.3L999.4 906.3L999.8 904.3L1000.2 902.4L1000.6 900.7L1001 899L1001.4 897.5L1001.8 896.2L1002.2 895L1002.6 894L1003 893.2L1003.4 892.6L1003.8 892.3L1004.2 892.2L1004.6 892.4L1005 892.7L1005.4 893.4L1005.8 894.2L1006.2 895.1L1006.6 896.3L1007 897.5L1007.4 898.9L1007.8 900.3L1008.2 901.9L1008.6 903.4L1009 905.1L1009.4 906.7L1009.8 908.3L1010.2 909.9L1010.6 911.4L1011 912.8L1011.4 914.2L1011.8 915.5L1012.2 916.6L1012.6 917.5L1013 918.3L1013.4 918.9L1013.8 919.3L1014.2 919.4L1014.6 919.3L1015 919L1015.4 918.5L1015.8 917.7L1016.2 916.8L1016.6 915.8L1017 914.6L1017.4 913.2L1017.8 911.7L1018.2 910.2L1018.6 908.5L1019 906.8L1019.4 905L1019.8 903.2L1020.2 901.4L1020.6 899.6L1021 897.7L1021.4 895.9L1021.8 894.2L1022.2 892.5L1022.6 890.9L1023 889.3L1023.4 887.9L1023.8 886.6L1024.2 885.4L1024.6 884.3L1025 883.5L1025.4 882.8L1025.8 882.3L1026.2 882L1026.6 882L1027 882.2L1027.4 882.6L1027.8 883.3L1028.2 884.1L1028.6 885.2L1029 886.4L1029.4 887.7L1029.8 889.2L1030.2 890.9L1030.6 892.7L1031 894.5L1031.4 896.5L1031.8 898.6L1032.2 900.7L1032.7 902.9L1033.1 905.1L1033.5 907.4L1033.9 909.6L1034.3 911.9L1034.7 914.2L1035.1 916.4L1035.5 918.6L1035.9 920.8L1036.3 922.8L1036.7 924.9L1037.1 926.8L1037.5 928.6L1037.9 930.3L1038.3 931.9L1038.7 933.3L1039.1 934.6L1039.5 935.7L1039.9 936.6L1040.3 937.3L1040.7 937.8L1041.1 938.1L1041.5 938.1L1041.9 937.9L1042.3 937.4L1042.7 936.7L1043.1 935.8L1043.5 934.7L1043.9 933.5L1044.3 932L1044.7 930.4L1045.1 928.7L1045.5 926.9L1045.9 925L1046.3 923L1046.7 920.9L1047.1 918.8L1047.5 916.7L1047.9 914.5L1048.3 912.4L1048.7 910.3L1049.1 908.2L1049.5 906.2L1049.9 904.2L1050.3 902.4L1050.7 900.6L1051.1 899L1051.5 897.5L1051.9 896.1L1052.3 894.9L1052.7 894L1053.1 893.2L1053.5 892.6L1053.9 892.3L1054.3 892.2L1054.7 892.4L1055.1 892.8L1055.5 893.4L1055.9 894.2L1056.3 895.2L1056.7 896.4L1057.1 897.6L1057.5 899L1057.9 900.5L1058.3 902L1058.7 903.6L1059.1 905.2L1059.5 906.8L1059.9 908.4L1060.3 910L1060.7 911.5L1061.1 913L1061.5 914.3L1061.9 915.6L1062.3 916.7L1062.7 917.6L1063.1 918.4L1063.5 918.9L1063.9 919.3L1064.3 919.4L1064.7 919.3L1065.1 919L1065.5 918.4L1065.9 917.7L1066.3 916.7L1066.7 915.7L1067.1 914.4L1067.5 913.1L1067.9 911.6L1068.3 910L1068.7 908.4L1069.1 906.7L1069.6 904.9L1070 903.1L1070.4 901.2L1070.8 899.4L1071.2 897.6L1071.6 895.8L1072 894L1072.4 892.3L1072.8 890.7L1073.2 889.2L1073.6 887.8L1074 886.4L1074.4 885.3L1074.8 884.3L1075.2 883.4L1075.6 882.7L1076 882.3L1076.4 882L1076.8 882L1077.2 882.2L1077.6 882.7L1078 883.4L1078.4 884.2L1078.8 885.3L1079.2 886.5L1079.6 887.9L1080 889.4L1080.4 891.1L1080.8 892.9L1081.2 894.8L1081.6 896.8L1082 898.8L1082.4 901L1082.8 903.2L1083.2 905.4L1083.6 907.7L1084 910L1084.4 912.3L1084.8 914.6L1085.2 916.9L1085.6 919.1L1086 921.3L1086.4 923.4L1086.8 925.4L1087.2 927.4L1087.6 929.2L1088 931L1088.4 932.6L1088.8 934L1089.2 935.3L1089.6 936.4L1090 937.3L1090.4 938L1090.8 938.5L1091.2 938.8L1091.6 938.8L1092 938.6L1092.4 938.1L1092.8 937.4L1093.2 936.4L1093.6 935.3L1094 934L1094.4 932.5L1094.8 930.9L1095.2 929.1L1095.6 927.2L1096 925.3L1096.4 923.2L1096.8 921.1L1097.2 919L1097.6 916.8L1098 914.6L1098.4 912.5L1098.8 910.3L1099.2 908.2L1099.6 906.2L1100 904.2L1100.4 902.3L1100.8 900.5L1101.2 898.9L1101.6 897.4L1102 896.1L1102.4 894.9L1102.8 893.9L1103.2 893.1L1103.6 892.6L1104 892.3L1104.4 892.2L1104.8 892.4L1105.2 892.9L1105.6 893.5L1106 894.3L1106.5 895.3L1106.9 896.5L1107.3 897.8L1107.7 899.1L1108.1 900.6L1108.5 902.1L1108.9 903.7L1109.3 905.3L1109.7 907L1110.1 908.6L1110.5 910.1L1110.9 911.7L1111.3 913.1L1111.7 914.4L1112.1 915.7L1112.5 916.7L1112.9 917.7L1113.3 918.4L1113.7 919L1114.1 919.3L1114.5 919.4L1114.9 919.3L1115.3 918.9L1115.7 918.4L1116.1 917.6L1116.5 916.7L1116.9 915.6L1117.3 914.3L1117.7 913L1118.1 911.5L1118.5 909.9L1118.9 908.2L1119.3 906.5L1119.7 904.7L1120.1 902.9L1120.5 901.1L1120.9 899.2L1121.3 897.4L1121.7 895.6L1122.1 893.9L1122.5 892.2L1122.9 890.6L1123.3 889L1123.7 887.6L1124.1 886.3L1124.5 885.2L1124.9 884.2L1125.3 883.3L1125.7 882.7L1126.1 882.3L1126.5 882L1126.9 882L1127.3 882.3L1127.7 882.7L1128.1 883.4L1128.5 884.3L1128.9 885.4L1129.3 886.6L1129.7 888L1130.1 889.6L1130.5 891.3L1130.9 893.1L1131.3 895L1131.7 897L1132.1 899.1L1132.5 901.3L1132.9 903.5L1133.3 905.8L1133.7 908.1L1134.1 910.4L1134.5 912.7L1134.9 915L1135.3 917.3L1135.7 919.6L1136.1 921.8L1136.5 924L1136.9 926L1137.3 928L1137.7 929.9L1138.1 931.7L1138.5 933.3L1138.9 934.7L1139.3 936L1139.7 937.2L1140.1 938.1L1140.5 938.8L1140.9 939.3L1141.3 939.5L1141.7 939.5L1142.1 939.3L1142.5 938.8L1142.9 938L1143.4 937L1143.8 935.9L1144.2 934.5L1144.6 933L1145 931.3L1145.4 929.5L1145.8 927.6L1146.2 925.6L1146.6 923.5L1147 921.3L1147.4 919.1L1147.8 916.9L1148.2 914.7L1148.6 912.5L1149 910.3L1149.4 908.2L1149.8 906.1L1150.2 904.2L1150.6 902.3L1151 900.5L1151.4 898.8L1151.8 897.3L1152.2 896L1152.6 894.8L1153 893.9L1153.4 893.1L1153.8 892.6L1154.2 892.3L1154.6 892.3L1155 892.5L1155.4 892.9L1155.8 893.6L1156.2 894.4L1156.6 895.4L1157 896.6L1157.4 897.9L1157.8 899.3L1158.2 900.7L1158.6 902.3L1159 903.9L1159.4 905.5L1159.8 907.1L1160.2 908.7L1160.6 910.3L1161 911.8L1161.4 913.2L1161.8 914.5L1162.2 915.8L1162.6 916.8L1163 917.8L1163.4 918.5L1163.8 919L1164.2 919.3L1164.6 919.4L1165 919.3L1165.4 918.9L1165.8 918.3L1166.2 917.5L1166.6 916.6L1167 915.5L1167.4 914.2L1167.8 912.8L1168.2 911.3L1168.6 909.7L1169 908.1L1169.4 906.3L1169.8 904.6L1170.2 902.7L1170.6 900.9L1171 899.1L1171.4 897.3L1171.8 895.5L1172.2 893.7L1172.6 892L1173 890.4L1173.4 888.9L1173.8 887.5L1174.2 886.2L1174.6 885.1L1175 884.1L1175.4 883.3L1175.8 882.7L1176.2 882.2L1176.6 882L1177 882.1L1177.4 882.3L1177.8 882.8L1178.2 883.5L1178.6 884.4L1179 885.5L1179.4 886.8L1179.8 888.2L1180.3 889.8L1180.7 891.5L1181.1 893.3L1181.5 895.2L1181.9 897.3L1182.3 899.4L1182.7 901.6L1183.1 903.8L1183.5 906.1L1183.9 908.4L1184.3 910.8L1184.7 913.1L1185.1 915.5L1185.5 917.8L1185.9 920.1L1186.3 922.4L1186.7 924.5L1187.1 926.7L1187.5 928.7L1187.9 930.6L1188.3 932.3L1188.7 934L1189.1 935.5L1189.5 936.8L1189.9 937.9L1190.3 938.8L1190.7 939.6L1191.1 940L1191.5 940.3L1191.9 940.3L1192.3 940L1192.7 939.4L1193.1 938.6L1193.5 937.6L1193.9 936.4L1194.3 935L1194.7 933.4L1195.1 931.7L1195.5 929.9L1195.9 927.9L1196.3 925.8L1196.7 923.7L1197.1 921.5L1197.5 919.3L1197.9 917L1198.3 914.8L1198.7 912.6L1199.1 910.4L1199.5 908.2L1199.9 906.1L1200.3 904.1L1200.7 902.2L1201.1 900.4L1201.5 898.8L1201.9 897.3L1202.3 896L1202.7 894.8L1203.1 893.8L1203.5 893.1L1203.9 892.6L1204.3 892.3L1204.7 892.3L1205.1 892.5L1205.5 893L1205.9 893.6L1206.3 894.5L1206.7 895.5L1207.1 896.7L1207.5 898L1207.9 899.4L1208.3 900.9L1208.7 902.4L1209.1 904L1209.5 905.6L1209.9 907.3L1210.3 908.9L1210.7 910.4L1211.1 911.9L1211.5 913.3L1211.9 914.7L1212.3 915.9L1212.7 916.9L1213.1 917.8L1213.5 918.5L1213.9 919.1L1214.3 919.4L1214.7 919.4L1215.1 919.2L1215.5 918.8L1215.9 918.2L1216.3 917.4L1216.7 916.5L1217.2 915.4L1217.6 914.1L1218 912.7L1218.4 911.2L1218.8 909.6L1219.2 907.9L1219.6 906.2L1220 904.4L1220.4 902.6L1220.8 900.7L1221.2 898.9L1221.6 897.1L1222 895.3L1222.4 893.6L1222.8 891.9L1223.2 890.3L1223.6 888.8L1224 887.4L1224.4 886.1L1224.8 885L1225.2 884L1225.6 883.2L1226 882.6L1226.4 882.2L1226.8 882L1227.2 882.1L1227.6 882.4L1228 882.9L1228.4 883.6L1228.8 884.5L1229.2 885.6L1229.6 886.9L1230 888.3L1230.4 889.9L1230.8 891.7L1231.2 893.5L1231.6 895.5L1232 897.5L1232.4 899.7L1232.8 901.9L1233.2 904.1L1233.6 906.5L1234 908.8L1234.4 911.2L1234.8 913.6L1235.2 916L1235.6 918.3L1236 920.6L1236.4 922.9L1236.8 925.1L1237.2 927.3L1237.6 929.3L1238 931.2L1238.4 933L1238.8 934.7L1239.2 936.2L1239.6 937.5L1240 938.7L1240.4 939.6L1240.8 940.3L1241.2 940.8L1241.6 941L1242 941L1242.4 940.7L1242.8 940.1L1243.2 939.3L1243.6 938.2L1244 937L1244.4 935.5L1244.8 933.9L1245.2 932.1L1245.6 930.2L1246 928.2L1246.4 926.1L1246.8 923.9L1247.2 921.7L1247.6 919.4L1248 917.2L1248.4 914.9L1248.8 912.6L1249.2 910.4L1249.6 908.2L1250 906.1L1250.4 904.1L1250.8 902.2L1251.2 900.4L1251.6 898.7L1252 897.2L1252.4 895.9L1252.8 894.7L1253.2 893.8L1253.6 893.1L1254.1 892.6L1254.5 892.3L1254.9 892.3L1255.3 892.6L1255.7 893L1256.1 893.7L1256.5 894.6L1256.9 895.6L1257.3 896.8L1257.7 898.1L1258.1 899.5L1258.5 901L1258.9 902.6L1259.3 904.2L1259.7 905.8L1260.1 907.4L1260.5 909L1260.9 910.6L1261.3 912L1261.7 913.5L1262.1 914.8L1262.5 916L1262.9 917L1263.3 917.9L1263.7 918.6L1264.1 919.1L1264.5 919.4L1264.9 919.4L1265.3 919.2L1265.7 918.8L1266.1 918.2L1266.5 917.4L1266.9 916.4L1267.3 915.2L1267.7 914L1268.1 912.6L1268.5 911.1L1268.9 909.4L1269.3 907.8L1269.7 906L1270.1 904.2L1270.5 902.4L1270.9 900.6L1271.3 898.7L1271.7 896.9L1272.1 895.1L1272.5 893.4L1272.9 891.7L1273.3 890.2L1273.7 888.7L1274.1 887.3L1274.5 886L1274.9 884.9L1275.3 883.9L1275.7 883.2L1276.1 882.6L1276.5 882.2L1276.9 882L1277.3 882.1L1277.7 882.4L1278.1 882.9L1278.5 883.7L1278.9 884.6L1279.3 885.7L1279.7 887L1280.1 888.5L1280.5 890.1L1280.9 891.9L1281.3 893.7L1281.7 895.7L1282.1 897.8L1282.5 899.9L1282.9 902.2L1283.3 904.5L1283.7 906.8L1284.1 909.2L1284.5 911.6L1284.9 914L1285.3 916.4L1285.7 918.8L1286.1 921.2L1286.5 923.5L1286.9 925.7L1287.3 927.9L1287.7 929.9L1288.1 931.9L1288.5 933.7L1288.9 935.4L1289.3 936.9L1289.7 938.3L1290.1 939.4L1290.5 940.4L1291 941.1L1291.4 941.6L1291.8 941.8L1292.2 941.7L1292.6 941.4L1293 940.8L1293.4 939.9L1293.8 938.8L1294.2 937.5L1294.6 936L1295 934.4L1295.4 932.5L1295.8 930.6L1296.2 928.5L1296.6 926.4L1297 924.2L1297.4 921.9L1297.8 919.6L1298.2 917.3L1298.6 914.9L1299 912.6L1299.4 910.4L1299.8 908.2L1300.2 906.1L1300.6 904L1301 902.1L1301.4 900.3L1301.8 898.7L1302.2 897.2L1302.6 895.8L1303 894.7L1303.4 893.8L1303.8 893L1304.2 892.6L1304.6 892.3L1305 892.3L1305.4 892.6L1305.8 893.1L1306.2 893.8L1306.6 894.7L1307 895.7L1307.4 896.9L1307.8 898.2L1308.2 899.7L1308.6 901.2L1309 902.7L1309.4 904.3L1309.8 905.9L1310.2 907.5L1310.6 909.1L1311 910.7L1311.4 912.2L1311.8 913.6L1312.2 914.9L1312.6 916.1L1313 917.1L1313.4 918L1313.8 918.7L1314.2 919.1L1314.6 919.4L1315 919.4L1315.4 919.2L1315.8 918.7L1316.2 918.1L1316.6 917.3L1317 916.3L1317.4 915.1L1317.8 913.8L1318.2 912.4L1318.6 910.9L1319 909.3L1319.4 907.6L1319.8 905.9L1320.2 904.1L1320.6 902.3L1321 900.4L1321.4 898.6L1321.8 896.8L1322.2 895L1322.6 893.3L1323 891.6L1323.4 890L1323.8 888.5L1324.2 887.2L1324.6 885.9L1325 884.8L1325.4 883.9L1325.8 883.1L1326.2 882.5L1326.6 882.2L1327 882L1327.4 882.1L1327.9 882.4L1328.3 883L1328.7 883.8L1329.1 884.7L1329.5 885.9L1329.9 887.2L1330.3 888.7L1330.7 890.3L1331.1 892.1L1331.5 893.9L1331.9 895.9L1332.3 898L1332.7 900.2L1333.1 902.5L1333.5 904.8L1333.9 907.2L1334.3 909.6L1334.7 912L1335.1 914.4L1335.5 916.9L1335.9 919.3L1336.3 921.7L1336.7 924L1337.1 926.3L1337.5 928.5L1337.9 930.6L1338.3 932.6L1338.7 934.4L1339.1 936.2L1339.5 937.7L1339.9 939.1L1340.3 940.2L1340.7 941.2L1341.1 941.9L1341.5 942.3L1341.9 942.5L1342.3 942.4L1342.7 942L1343.1 941.4L1343.5 940.5L1343.9 939.4L1344.3 938L1344.7 936.5L1345.1 934.8L1345.5 932.9L1345.9 931L1346.3 928.8L1346.7 926.7L1347.1 924.4L1347.5 922.1L1347.9 919.7L1348.3 917.4L1348.7 915L1349.1 912.7L1349.5 910.4L1349.9 908.2L1350.3 906L1350.7 904L1351.1 902.1L1351.5 900.3L1351.9 898.6L1352.3 897.1L1352.7 895.8L1353.1 894.7L1353.5 893.7L1353.9 893L1354.3 892.5L1354.7 892.3L1355.1 892.4L1355.5 892.7L1355.9 893.2L1356.3 893.9L1356.7 894.8L1357.1 895.8L1357.5 897L1357.9 898.4L1358.3 899.8L1358.7 901.3L1359.1 902.9L1359.5 904.5L1359.9 906.1L1360.3 907.7L1360.7 909.3L1361.1 910.8L1361.5 912.3L1361.9 913.7L1362.3 915L1362.7 916.2L1363.1 917.2L1363.5 918L1363.9 918.7L1364.3 919.2L1364.8 919.4L1365.2 919.4L1365.6 919.2L1366 918.7L1366.4 918L1366.8 917.2L1367.2 916.2L1367.6 915L1368 913.7L1368.4 912.3L1368.8 910.8L1369.2 909.2L1369.6 907.5L1370 905.7L1370.4 903.9L1370.8 902.1L1371.2 900.3L1371.6 898.4L1372 896.6L1372.4 894.8L1372.8 893.1L1373.2 891.5L1373.6 889.9L1374 888.4L1374.4 887L1374.8 885.8L1375.2 884.7L1375.6 883.8L1376 883L1376.4 882.5L1376.8 882.1L1377.2 882L1377.6 882.1L1378 882.5L1378.4 883.1L1378.8 883.9L1379.2 884.8L1379.6 886L1380 887.3L1380.4 888.8L1380.8 890.5L1381.2 892.3L1381.6 894.2L1382 896.2L1382.4 898.3L1382.8 900.5L1383.2 902.8L1383.6 905.1L1384 907.5L1384.4 910L1384.8 912.4L1385.2 914.9L1385.6 917.4L1386 919.8L1386.4 922.2L1386.8 924.6L1387.2 926.9L1387.6 929.1L1388 931.3L1388.4 933.3L1388.8 935.2L1389.2 936.9L1389.6 938.4L1390 939.8L1390.4 941L1390.8 941.9L1391.2 942.6L1391.6 943.1L1392 943.2L1392.4 943.1L1392.8 942.7L1393.2 942.1L1393.6 941.1L1394 940L1394.4 938.6L1394.8 937L1395.2 935.2L1395.6 933.3L1396 931.3L1396.4 929.1L1396.8 926.9L1397.2 924.6L1397.6 922.2L1398 919.8L1398.4 917.5L1398.8 915.1L1399.2 912.7L1399.6 910.4L1400 908.2L1400.4 906L1400.8 904L1401.2 902L1401.7 900.2L1402.1 898.5L1402.5 897.1L1402.9 895.7L1403.3 894.6L1403.7 893.7L1404.1 893L1404.5 892.5L1404.9 892.3L1405.3 892.4L1405.7 892.7L1406.1 893.2L1406.5 894L1406.9 894.9L1407.3 895.9L1407.7 897.2L1408.1 898.5L1408.5 899.9L1408.9 901.4L1409.3 903L1409.7 904.6L1410.1 906.2L1410.5 907.8L1410.9 909.4L1411.3 911L1411.7 912.4L1412.1 913.8L1412.5 915.1L1412.9 916.3L1413.3 917.3L1413.7 918.1L1414.1 918.8L1414.5 919.2L1414.9 919.4L1415.3 919.4L1415.7 919.1L1416.1 918.6L1416.5 918L1416.9 917.1L1417.3 916.1L1417.7 914.9L1418.1 913.6L1418.5 912.2L1418.9 910.6L1419.3 909L1419.7 907.3L1420.1 905.5L1420.5 903.8L1420.9 901.9L1421.3 900.1L1421.7 898.3L1422.1 896.5L1422.5 894.7L1422.9 893L1423.3 891.3L1423.7 889.7L1424.1 888.3L1424.5 886.9L1424.9 885.7L1425.3 884.6L1425.7 883.7L1426.1 883L1426.5 882.4L1426.9 882.1L1427.3 882L1427.7 882.2L1428.1 882.5L1428.5 883.1L1428.9 883.9L1429.3 884.9L1429.7 886.1L1430.1 887.5L1430.5 889L1430.9 890.7L1431.3 892.5L1431.7 894.4L1432.1 896.4L1432.5 898.6L1432.9 900.8L1433.3 903.1L1433.7 905.5L1434.1 907.9L1434.5 910.3L1434.9 912.8L1435.3 915.3L1435.7 917.8L1436.1 920.3L1436.5 922.8L1436.9 925.2L1437.3 927.5L1437.7 929.8L1438.1 931.9L1438.6 934L1439 935.9L1439.4 937.6L1439.8 939.2L1440.2 940.6L1440.6 941.8L1441 942.7L1441.4 943.4L1441.8 943.8L1442.2 944L1442.6 943.8L1443 943.4L1443.4 942.7L1443.8 941.7L1444.2 940.5L1444.6 939.1L1445 937.5L1445.4 935.7L1445.8 933.7L1446.2 931.6L1446.6 929.4L1447 927.1L1447.4 924.8L1447.8 922.4L1448.2 920L1448.6 917.5L1449 915.1L1449.4 912.7L1449.8 910.4L1450.2 908.2L1450.6 906L1451 903.9L1451.4 902L1451.8 900.1L1452.2 898.5L1452.6 897L1453 895.7L1453.4 894.6L1453.8 893.6L1454.2 893L1454.6 892.5L1455 892.3L1455.4 892.4L1455.8 892.7L1456.2 893.3L1456.6 894L1457 895L1457.4 896.1L1457.8 897.3L1458.2 898.6L1458.6 900.1L1459 901.6L1459.4 903.1L1459.8 904.7L1460.2 906.4L1460.6 908L1461 909.6L1461.4 911.1L1461.8 912.6L1462.2 913.9L1462.6 915.2L1463 916.4L1463.4 917.4L1463.8 918.2L1464.2 918.8L1464.6 919.2L1465 919.4L1465.4 919.4L1465.8 919.1L1466.2 918.6L1466.6 917.9L1467 917L1467.4 916L1467.8 914.8L1468.2 913.5L1468.6 912L1469 910.5L1469.4 908.9L1469.8 907.2L1470.2 905.4L1470.6 903.6L1471 901.8L1471.4 899.9L1471.8 898.1L1472.2 896.3L1472.6 894.5L1473 892.8L1473.4 891.2L1473.8 889.6L1474.2 888.1L1474.6 886.8L1475 885.6L1475.5 884.5L1475.9 883.6L1476.3 882.9L1476.7 882.4L1477.1 882.1L1477.5 882L1477.9 882.2L1478.3 882.6L1478.7 883.2L1479.1 884L1479.5 885.1L1479.9 886.3L1480.3 887.6L1480.7 889.2L1481.1 890.9L1481.5 892.7L1481.9 894.6L1482.3 896.7L1482.7 898.8L1483.1 901.1L1483.5 903.4L1483.9 905.8L1484.3 908.3L1484.7 910.7L1485.1 913.3L1485.5 915.8L1485.9 918.3L1486.3 920.8L1486.7 923.3L1487.1 925.7L1487.5 928.1L1487.9 930.4L1488.3 932.6L1488.7 934.7L1489.1 936.6L1489.5 938.4L1489.9 940L1490.3 941.3L1490.7 942.5L1491.1 943.5L1491.5 944.2L1491.9 944.6L1492.3 944.7L1492.7 944.6L1493.1 944.1L1493.5 943.3L1493.9 942.3L1494.3 941.1L1494.7 939.6L1495.1 938L1495.5 936.1L1495.9 934.1L1496.3 932L1496.7 929.7L1497.1 927.4L1497.5 925" fill="none" stroke="#1E3C96" stroke-width="5.0" stroke-linejoin="round" clip-path="url(#clipB)"/>
<rect x="986.9" y="940.4" width="9.1" height="9.1" fill="#fff" stroke="#1E3C96" stroke-width="5.1"/>
<rect x="1087.1" y="941.5" width="9.1" height="9.1" fill="#fff" stroke="#1E3C96" stroke-width="5.1"/>
<rect x="1187.3" y="942.9" width="9.1" height="9.1" fill="#fff" stroke="#1E3C96" stroke-width="5.1"/>
<rect x="1287.5" y="944.4" width="9.1" height="9.1" fill="#fff" stroke="#1E3C96" stroke-width="5.1"/>
<rect x="1387.7" y="945.9" width="9.1" height="9.1" fill="#fff" stroke="#1E3C96" stroke-width="5.1"/>
<rect x="1487.9" y="947.3" width="9.1" height="9.1" fill="#fff" stroke="#1E3C96" stroke-width="5.1"/>
<path d="M936.4 926.4L936.8 928.7L937.2 930.8L937.6 932.8L938 934.7L938.4 936.4L938.8 938L939.2 939.4L939.6 940.6L940 941.6L940.4 942.3L940.8 942.9L941.2 943.2L941.6 943.2L942 942.9L942.4 942.4L942.8 941.7L943.2 940.8L943.6 939.7L944 938.4L944.4 936.9L944.8 935.3L945.2 933.5L945.6 931.7L946 929.8L946.4 927.7L946.8 925.7L947.2 923.5L947.6 921.4L948 919.3L948.4 917.1L948.8 915L949.2 912.9L949.6 910.9L950 909L950.4 907.1L950.8 905.4L951.2 903.8L951.6 902.3L952 901.1L952.4 899.9L952.8 899L953.2 898.3L953.6 897.8L954 897.6L954.4 897.6L954.8 897.9L955.2 898.3L955.6 899L956 899.8L956.4 900.8L956.8 901.9L957.2 903.1L957.6 904.5L958 905.8L958.4 907.3L958.9 908.7L959.3 910.2L959.7 911.6L960.1 913L960.5 914.4L960.9 915.7L961.3 916.8L961.7 917.9L962.1 918.8L962.5 919.6L962.9 920.2L963.3 920.6L963.7 920.8L964.1 920.7L964.5 920.4L964.9 919.9L965.3 919.1L965.7 918.1L966.1 917L966.5 915.7L966.9 914.2L967.3 912.6L967.7 910.9L968.1 909.1L968.5 907.2L968.9 905.3L969.3 903.3L969.7 901.2L970.1 899.2L970.5 897.1L970.9 895.1L971.3 893.1L971.7 891.2L972.1 889.3L972.5 887.5L972.9 885.8L973.3 884.2L973.7 882.8L974.1 881.5L974.5 880.4L974.9 879.5L975.3 878.7L975.7 878.2L976.1 877.9L976.5 877.9L976.9 878.2L977.3 878.7L977.7 879.4L978.1 880.4L978.5 881.5L978.9 882.9L979.3 884.4L979.7 886.1L980.1 888L980.5 890L980.9 892.1L981.3 894.3L981.7 896.7L982.1 899.1L982.5 901.5L982.9 904L983.3 906.6L983.7 909.2L984.1 911.8L984.5 914.3L984.9 916.9L985.3 919.4L985.7 921.9L986.1 924.3L986.5 926.6L986.9 928.9L987.3 931L987.7 933L988.1 934.9L988.5 936.6L988.9 938.1L989.3 939.5L989.7 940.7L990.1 941.7L990.5 942.4L990.9 942.9L991.3 943.2L991.7 943.2L992.1 942.9L992.5 942.4L992.9 941.6L993.3 940.7L993.7 939.6L994.1 938.2L994.5 936.8L994.9 935.1L995.3 933.4L995.8 931.5L996.2 929.6L996.6 927.6L997 925.5L997.4 923.4L997.8 921.2L998.2 919.1L998.6 916.9L999 914.8L999.4 912.7L999.8 910.7L1000.2 908.8L1000.6 907L1001 905.3L1001.4 903.7L1001.8 902.2L1002.2 900.9L1002.6 899.8L1003 898.9L1003.4 898.3L1003.8 897.8L1004.2 897.6L1004.6 897.6L1005 897.9L1005.4 898.4L1005.8 899.1L1006.2 899.9L1006.6 900.9L1007 902L1007.4 903.3L1007.8 904.6L1008.2 906L1008.6 907.4L1009 908.8L1009.4 910.3L1009.8 911.7L1010.2 913.2L1010.6 914.5L1011 915.8L1011.4 916.9L1011.8 918L1012.2 918.9L1012.6 919.7L1013 920.3L1013.4 920.6L1013.8 920.8L1014.2 920.7L1014.6 920.4L1015 919.8L1015.4 919L1015.8 918L1016.2 916.9L1016.6 915.6L1017 914.1L1017.4 912.5L1017.8 910.8L1018.2 908.9L1018.6 907L1019 905.1L1019.4 903.1L1019.8 901L1020.2 899L1020.6 896.9L1021 894.9L1021.4 892.9L1021.8 891L1022.2 889.1L1022.6 887.3L1023 885.6L1023.4 884.1L1023.8 882.7L1024.2 881.4L1024.6 880.3L1025 879.4L1025.4 878.7L1025.8 878.2L1026.2 877.9L1026.6 877.9L1027 878.2L1027.4 878.7L1027.8 879.5L1028.2 880.5L1028.6 881.6L1029 883L1029.4 884.6L1029.8 886.3L1030.2 888.2L1030.6 890.2L1031 892.3L1031.4 894.6L1031.8 896.9L1032.2 899.3L1032.7 901.8L1033.1 904.3L1033.5 906.9L1033.9 909.5L1034.3 912.1L1034.7 914.7L1035.1 917.2L1035.5 919.8L1035.9 922.2L1036.3 924.7L1036.7 927L1037.1 929.3L1037.5 931.4L1037.9 933.4L1038.3 935.3L1038.7 937L1039.1 938.6L1039.5 940L1039.9 941.1L1040.3 942.1L1040.7 942.8L1041.1 943.4L1041.5 943.6L1041.9 943.6L1042.3 943.3L1042.7 942.8L1043.1 942L1043.5 941L1043.9 939.9L1044.3 938.5L1044.7 937L1045.1 935.4L1045.5 933.6L1045.9 931.7L1046.3 929.7L1046.7 927.7L1047.1 925.6L1047.5 923.4L1047.9 921.2L1048.3 919.1L1048.7 916.9L1049.1 914.8L1049.5 912.7L1049.9 910.7L1050.3 908.7L1050.7 906.9L1051.1 905.2L1051.5 903.6L1051.9 902.2L1052.3 900.9L1052.7 899.8L1053.1 898.9L1053.5 898.2L1053.9 897.8L1054.3 897.6L1054.7 897.7L1055.1 898L1055.5 898.5L1055.9 899.1L1056.3 900L1056.7 901L1057.1 902.1L1057.5 903.4L1057.9 904.7L1058.3 906.1L1058.7 907.5L1059.1 909L1059.5 910.4L1059.9 911.9L1060.3 913.3L1060.7 914.6L1061.1 915.9L1061.5 917L1061.9 918.1L1062.3 919L1062.7 919.7L1063.1 920.3L1063.5 920.7L1063.9 920.8L1064.3 920.7L1064.7 920.3L1065.1 919.7L1065.5 918.9L1065.9 917.9L1066.3 916.8L1066.7 915.4L1067.1 913.9L1067.5 912.3L1067.9 910.6L1068.3 908.8L1068.7 906.9L1069.1 904.9L1069.6 902.9L1070 900.9L1070.4 898.8L1070.8 896.8L1071.2 894.7L1071.6 892.7L1072 890.8L1072.4 888.9L1072.8 887.2L1073.2 885.5L1073.6 884L1074 882.5L1074.4 881.3L1074.8 880.2L1075.2 879.3L1075.6 878.6L1076 878.2L1076.4 877.9L1076.8 878L1077.2 878.2L1077.6 878.8L1078 879.6L1078.4 880.6L1078.8 881.8L1079.2 883.2L1079.6 884.8L1080 886.5L1080.4 888.4L1080.8 890.4L1081.2 892.6L1081.6 894.9L1082 897.2L1082.4 899.7L1082.8 902.2L1083.2 904.7L1083.6 907.3L1084 910L1084.4 912.6L1084.8 915.2L1085.2 917.8L1085.6 920.4L1086 922.9L1086.4 925.4L1086.8 927.8L1087.2 930.1L1087.6 932.3L1088 934.3L1088.4 936.3L1088.8 938L1089.2 939.6L1089.6 941L1090 942.2L1090.4 943.2L1090.8 943.9L1091.2 944.4L1091.6 944.7L1092 944.6L1092.4 944.3L1092.8 943.7L1093.2 942.9L1093.6 941.9L1094 940.7L1094.4 939.3L1094.8 937.7L1095.2 936L1095.6 934.1L1096 932.2L1096.4 930.2L1096.8 928L1097.2 925.9L1097.6 923.7L1098 921.5L1098.4 919.2L1098.8 917L1099.2 914.9L1099.6 912.8L1100 910.7L1100.4 908.7L1100.8 906.9L1101.2 905.2L1101.6 903.6L1102 902.1L1102.4 900.8L1102.8 899.8L1103.2 898.9L1103.6 898.2L1104 897.8L1104.4 897.6L1104.8 897.7L1105.2 898L1105.6 898.5L1106 899.2L1106.5 900.1L1106.9 901.1L1107.3 902.2L1107.7 903.5L1108.1 904.8L1108.5 906.2L1108.9 907.6L1109.3 909.1L1109.7 910.6L1110.1 912L1110.5 913.4L1110.9 914.7L1111.3 916L1111.7 917.1L1112.1 918.2L1112.5 919.1L1112.9 919.8L1113.3 920.3L1113.7 920.7L1114.1 920.8L1114.5 920.7L1114.9 920.3L1115.3 919.7L1115.7 918.9L1116.1 917.8L1116.5 916.7L1116.9 915.3L1117.3 913.8L1117.7 912.2L1118.1 910.4L1118.5 908.6L1118.9 906.7L1119.3 904.7L1119.7 902.7L1120.1 900.7L1120.5 898.6L1120.9 896.6L1121.3 894.6L1121.7 892.6L1122.1 890.6L1122.5 888.8L1122.9 887L1123.3 885.4L1123.7 883.8L1124.1 882.4L1124.5 881.2L1124.9 880.1L1125.3 879.2L1125.7 878.6L1126.1 878.1L1126.5 877.9L1126.9 878L1127.3 878.3L1127.7 878.9L1128.1 879.7L1128.5 880.7L1128.9 881.9L1129.3 883.3L1129.7 884.9L1130.1 886.7L1130.5 888.6L1130.9 890.7L1131.3 892.9L1131.7 895.2L1132.1 897.5L1132.5 900L1132.9 902.6L1133.3 905.2L1133.7 907.8L1134.1 910.5L1134.5 913.1L1134.9 915.8L1135.3 918.5L1135.7 921.1L1136.1 923.7L1136.5 926.2L1136.9 928.6L1137.3 931L1137.7 933.2L1138.1 935.3L1138.5 937.2L1138.9 939L1139.3 940.7L1139.7 942.1L1140.1 943.3L1140.5 944.3L1140.9 945L1141.3 945.5L1141.7 945.7L1142.1 945.6L1142.5 945.3L1142.9 944.7L1143.4 943.8L1143.8 942.7L1144.2 941.5L1144.6 940L1145 938.4L1145.4 936.6L1145.8 934.7L1146.2 932.7L1146.6 930.6L1147 928.4L1147.4 926.2L1147.8 923.9L1148.2 921.7L1148.6 919.4L1149 917.1L1149.4 914.9L1149.8 912.8L1150.2 910.7L1150.6 908.7L1151 906.9L1151.4 905.1L1151.8 903.5L1152.2 902.1L1152.6 900.8L1153 899.7L1153.4 898.9L1153.8 898.2L1154.2 897.8L1154.6 897.6L1155 897.7L1155.4 898.1L1155.8 898.6L1156.2 899.3L1156.6 900.2L1157 901.2L1157.4 902.4L1157.8 903.6L1158.2 904.9L1158.6 906.3L1159 907.8L1159.4 909.2L1159.8 910.7L1160.2 912.1L1160.6 913.5L1161 914.9L1161.4 916.1L1161.8 917.2L1162.2 918.3L1162.6 919.1L1163 919.9L1163.4 920.4L1163.8 920.7L1164.2 920.8L1164.6 920.6L1165 920.2L1165.4 919.6L1165.8 918.8L1166.2 917.7L1166.6 916.5L1167 915.2L1167.4 913.7L1167.8 912L1168.2 910.3L1168.6 908.4L1169 906.5L1169.4 904.6L1169.8 902.5L1170.2 900.5L1170.6 898.4L1171 896.4L1171.4 894.4L1171.8 892.4L1172.2 890.5L1172.6 888.6L1173 886.9L1173.4 885.2L1173.8 883.7L1174.2 882.3L1174.6 881.1L1175 880L1175.4 879.2L1175.8 878.5L1176.2 878.1L1176.6 877.9L1177 878L1177.4 878.3L1177.8 878.9L1178.2 879.8L1178.6 880.8L1179 882.1L1179.4 883.5L1179.8 885.1L1180.3 886.9L1180.7 888.9L1181.1 890.9L1181.5 893.1L1181.9 895.5L1182.3 897.9L1182.7 900.4L1183.1 903L1183.5 905.6L1183.9 908.3L1184.3 911L1184.7 913.7L1185.1 916.4L1185.5 919.1L1185.9 921.8L1186.3 924.4L1186.7 926.9L1187.1 929.4L1187.5 931.8L1187.9 934.1L1188.3 936.2L1188.7 938.2L1189.1 940.1L1189.5 941.7L1189.9 943.1L1190.3 944.4L1190.7 945.4L1191.1 946.1L1191.5 946.6L1191.9 946.8L1192.3 946.7L1192.7 946.3L1193.1 945.6L1193.5 944.7L1193.9 943.6L1194.3 942.3L1194.7 940.7L1195.1 939.1L1195.5 937.2L1195.9 935.2L1196.3 933.2L1196.7 931L1197.1 928.8L1197.5 926.5L1197.9 924.2L1198.3 921.9L1198.7 919.5L1199.1 917.3L1199.5 915L1199.9 912.8L1200.3 910.7L1200.7 908.7L1201.1 906.9L1201.5 905.1L1201.9 903.5L1202.3 902L1202.7 900.8L1203.1 899.7L1203.5 898.8L1203.9 898.2L1204.3 897.8L1204.7 897.7L1205.1 897.8L1205.5 898.1L1205.9 898.7L1206.3 899.4L1206.7 900.3L1207.1 901.3L1207.5 902.5L1207.9 903.7L1208.3 905.1L1208.7 906.5L1209.1 907.9L1209.5 909.4L1209.9 910.8L1210.3 912.3L1210.7 913.6L1211.1 915L1211.5 916.2L1211.9 917.3L1212.3 918.3L1212.7 919.2L1213.1 919.9L1213.5 920.4L1213.9 920.7L1214.3 920.8L1214.7 920.6L1215.1 920.2L1215.5 919.5L1215.9 918.7L1216.3 917.6L1216.7 916.4L1217.2 915L1217.6 913.5L1218 911.9L1218.4 910.1L1218.8 908.3L1219.2 906.4L1219.6 904.4L1220 902.4L1220.4 900.3L1220.8 898.3L1221.2 896.2L1221.6 894.2L1222 892.2L1222.4 890.3L1222.8 888.5L1223.2 886.7L1223.6 885.1L1224 883.6L1224.4 882.2L1224.8 881L1225.2 880L1225.6 879.1L1226 878.5L1226.4 878.1L1226.8 877.9L1227.2 878L1227.6 878.4L1228 879L1228.4 879.9L1228.8 880.9L1229.2 882.2L1229.6 883.7L1230 885.3L1230.4 887.1L1230.8 889.1L1231.2 891.2L1231.6 893.4L1232 895.8L1232.4 898.2L1232.8 900.8L1233.2 903.4L1233.6 906L1234 908.7L1234.4 911.5L1234.8 914.2L1235.2 917L1235.6 919.7L1236 922.5L1236.4 925.1L1236.8 927.7L1237.2 930.3L1237.6 932.7L1238 935L1238.4 937.2L1238.8 939.2L1239.2 941.1L1239.6 942.8L1240 944.2L1240.4 945.5L1240.8 946.5L1241.2 947.2L1241.6 947.7L1242 947.8L1242.4 947.7L1242.8 947.3L1243.2 946.6L1243.6 945.6L1244 944.4L1244.4 943.1L1244.8 941.5L1245.2 939.7L1245.6 937.8L1246 935.8L1246.4 933.6L1246.8 931.4L1247.2 929.1L1247.6 926.8L1248 924.4L1248.4 922L1248.8 919.7L1249.2 917.4L1249.6 915.1L1250 912.9L1250.4 910.8L1250.8 908.7L1251.2 906.8L1251.6 905.1L1252 903.5L1252.4 902L1252.8 900.7L1253.2 899.7L1253.6 898.8L1254.1 898.2L1254.5 897.8L1254.9 897.7L1255.3 897.8L1255.7 898.2L1256.1 898.7L1256.5 899.5L1256.9 900.4L1257.3 901.4L1257.7 902.6L1258.1 903.8L1258.5 905.2L1258.9 906.6L1259.3 908L1259.7 909.5L1260.1 911L1260.5 912.4L1260.9 913.8L1261.3 915.1L1261.7 916.3L1262.1 917.4L1262.5 918.4L1262.9 919.3L1263.3 920L1263.7 920.4L1264.1 920.7L1264.5 920.8L1264.9 920.6L1265.3 920.1L1265.7 919.5L1266.1 918.6L1266.5 917.5L1266.9 916.3L1267.3 914.9L1267.7 913.4L1268.1 911.7L1268.5 910L1268.9 908.1L1269.3 906.2L1269.7 904.2L1270.1 902.2L1270.5 900.1L1270.9 898.1L1271.3 896L1271.7 894L1272.1 892L1272.5 890.1L1272.9 888.3L1273.3 886.6L1273.7 884.9L1274.1 883.4L1274.5 882.1L1274.9 880.9L1275.3 879.9L1275.7 879.1L1276.1 878.4L1276.5 878.1L1276.9 877.9L1277.3 878.1L1277.7 878.4L1278.1 879.1L1278.5 880L1278.9 881L1279.3 882.3L1279.7 883.8L1280.1 885.5L1280.5 887.3L1280.9 889.3L1281.3 891.5L1281.7 893.7L1282.1 896.1L1282.5 898.6L1282.9 901.1L1283.3 903.8L1283.7 906.5L1284.1 909.2L1284.5 912L1284.9 914.8L1285.3 917.6L1285.7 920.4L1286.1 923.1L1286.5 925.9L1286.9 928.5L1287.3 931.1L1287.7 933.6L1288.1 935.9L1288.5 938.2L1288.9 940.2L1289.3 942.1L1289.7 943.8L1290.1 945.3L1290.5 946.6L1291 947.6L1291.4 948.3L1291.8 948.7L1292.2 948.9L1292.6 948.7L1293 948.2L1293.4 947.5L1293.8 946.5L1294.2 945.3L1294.6 943.8L1295 942.2L1295.4 940.4L1295.8 938.4L1296.2 936.3L1296.6 934.1L1297 931.8L1297.4 929.5L1297.8 927.1L1298.2 924.6L1298.6 922.2L1299 919.8L1299.4 917.5L1299.8 915.2L1300.2 912.9L1300.6 910.8L1301 908.7L1301.4 906.8L1301.8 905L1302.2 903.4L1302.6 902L1303 900.7L1303.4 899.6L1303.8 898.8L1304.2 898.2L1304.6 897.8L1305 897.7L1305.4 897.8L1305.8 898.2L1306.2 898.8L1306.6 899.5L1307 900.5L1307.4 901.5L1307.8 902.7L1308.2 904L1308.6 905.3L1309 906.7L1309.4 908.2L1309.8 909.6L1310.2 911.1L1310.6 912.5L1311 913.9L1311.4 915.2L1311.8 916.4L1312.2 917.5L1312.6 918.5L1313 919.3L1313.4 920L1313.8 920.5L1314.2 920.7L1314.6 920.8L1315 920.5L1315.4 920.1L1315.8 919.4L1316.2 918.5L1316.6 917.4L1317 916.2L1317.4 914.8L1317.8 913.2L1318.2 911.6L1318.6 909.8L1319 907.9L1319.4 906L1319.8 904L1320.2 902L1320.6 899.9L1321 897.9L1321.4 895.9L1321.8 893.8L1322.2 891.9L1322.6 890L1323 888.1L1323.4 886.4L1323.8 884.8L1324.2 883.3L1324.6 882L1325 880.8L1325.4 879.8L1325.8 879L1326.2 878.4L1326.6 878L1327 877.9L1327.4 878.1L1327.9 878.5L1328.3 879.2L1328.7 880.1L1329.1 881.2L1329.5 882.5L1329.9 884L1330.3 885.7L1330.7 887.6L1331.1 889.6L1331.5 891.7L1331.9 894L1332.3 896.4L1332.7 898.9L1333.1 901.5L1333.5 904.2L1333.9 906.9L1334.3 909.7L1334.7 912.5L1335.1 915.4L1335.5 918.2L1335.9 921L1336.3 923.8L1336.7 926.6L1337.1 929.3L1337.5 931.9L1337.9 934.5L1338.3 936.9L1338.7 939.1L1339.1 941.2L1339.5 943.2L1339.9 944.9L1340.3 946.4L1340.7 947.6L1341.1 948.7L1341.5 949.4L1341.9 949.8L1342.3 949.9L1342.7 949.7L1343.1 949.2L1343.5 948.4L1343.9 947.4L1344.3 946.1L1344.7 944.6L1345.1 942.9L1345.5 941L1345.9 939L1346.3 936.8L1346.7 934.5L1347.1 932.2L1347.5 929.8L1347.9 927.3L1348.3 924.9L1348.7 922.4L1349.1 920L1349.5 917.5L1349.9 915.2L1350.3 912.9L1350.7 910.8L1351.1 908.7L1351.5 906.8L1351.9 905L1352.3 903.4L1352.7 901.9L1353.1 900.7L1353.5 899.6L1353.9 898.8L1354.3 898.2L1354.7 897.8L1355.1 897.7L1355.5 897.9L1355.9 898.3L1356.3 898.9L1356.7 899.6L1357.1 900.6L1357.5 901.6L1357.9 902.8L1358.3 904.1L1358.7 905.4L1359.1 906.9L1359.5 908.3L1359.9 909.8L1360.3 911.2L1360.7 912.6L1361.1 914L1361.5 915.3L1361.9 916.5L1362.3 917.6L1362.7 918.6L1363.1 919.4L1363.5 920.1L1363.9 920.5L1364.3 920.8L1364.8 920.8L1365.2 920.5L1365.6 920L1366 919.3L1366.4 918.4L1366.8 917.3L1367.2 916.1L1367.6 914.6L1368 913.1L1368.4 911.4L1368.8 909.6L1369.2 907.8L1369.6 905.8L1370 903.8L1370.4 901.8L1370.8 899.8L1371.2 897.7L1371.6 895.7L1372 893.7L1372.4 891.7L1372.8 889.8L1373.2 888L1373.6 886.3L1374 884.7L1374.4 883.2L1374.8 881.9L1375.2 880.7L1375.6 879.7L1376 878.9L1376.4 878.4L1376.8 878L1377.2 877.9L1377.6 878.1L1378 878.6L1378.4 879.2L1378.8 880.2L1379.2 881.3L1379.6 882.6L1380 884.2L1380.4 885.9L1380.8 887.8L1381.2 889.8L1381.6 892L1382 894.3L1382.4 896.7L1382.8 899.3L1383.2 901.9L1383.6 904.6L1384 907.4L1384.4 910.2L1384.8 913L1385.2 915.9L1385.6 918.8L1386 921.7L1386.4 924.6L1386.8 927.4L1387.2 930.1L1387.6 932.8L1388 935.4L1388.4 937.8L1388.8 940.1L1389.2 942.3L1389.6 944.2L1390 946L1390.4 947.5L1390.8 948.7L1391.2 949.7L1391.6 950.5L1392 950.9L1392.4 951L1392.8 950.7L1393.2 950.2L1393.6 949.4L1394 948.3L1394.4 946.9L1394.8 945.4L1395.2 943.6L1395.6 941.6L1396 939.5L1396.4 937.3L1396.8 935L1397.2 932.6L1397.6 930.1L1398 927.6L1398.4 925.1L1398.8 922.6L1399.2 920.1L1399.6 917.6L1400 915.3L1400.4 913L1400.8 910.8L1401.2 908.7L1401.7 906.7L1402.1 905L1402.5 903.3L1402.9 901.9L1403.3 900.6L1403.7 899.6L1404.1 898.7L1404.5 898.2L1404.9 897.8L1405.3 897.8L1405.7 897.9L1406.1 898.3L1406.5 898.9L1406.9 899.7L1407.3 900.7L1407.7 901.7L1408.1 902.9L1408.5 904.2L1408.9 905.6L1409.3 907L1409.7 908.4L1410.1 909.9L1410.5 911.3L1410.9 912.8L1411.3 914.1L1411.7 915.4L1412.1 916.6L1412.5 917.7L1412.9 918.7L1413.3 919.5L1413.7 920.1L1414.1 920.5L1414.5 920.8L1414.9 920.7L1415.3 920.5L1415.7 920L1416.1 919.3L1416.5 918.3L1416.9 917.2L1417.3 915.9L1417.7 914.5L1418.1 912.9L1418.5 911.3L1418.9 909.5L1419.3 907.6L1419.7 905.7L1420.1 903.7L1420.5 901.6L1420.9 899.6L1421.3 897.5L1421.7 895.5L1422.1 893.5L1422.5 891.5L1422.9 889.6L1423.3 887.8L1423.7 886.1L1424.1 884.5L1424.5 883.1L1424.9 881.7L1425.3 880.6L1425.7 879.6L1426.1 878.9L1426.5 878.3L1426.9 878L1427.3 878L1427.7 878.2L1428.1 878.6L1428.5 879.3L1428.9 880.3L1429.3 881.4L1429.7 882.8L1430.1 884.4L1430.5 886.1L1430.9 888L1431.3 890.1L1431.7 892.3L1432.1 894.6L1432.5 897.1L1432.9 899.6L1433.3 902.3L1433.7 905L1434.1 907.8L1434.5 910.7L1434.9 913.6L1435.3 916.5L1435.7 919.4L1436.1 922.4L1436.5 925.3L1436.9 928.1L1437.3 930.9L1437.7 933.7L1438.1 936.3L1438.6 938.8L1439 941.1L1439.4 943.3L1439.8 945.3L1440.2 947L1440.6 948.6L1441 949.8L1441.4 950.8L1441.8 951.6L1442.2 951.9L1442.6 952L1443 951.7L1443.4 951.2L1443.8 950.3L1444.2 949.1L1444.6 947.7L1445 946.1L1445.4 944.3L1445.8 942.3L1446.2 940.1L1446.6 937.8L1447 935.4L1447.4 932.9L1447.8 930.4L1448.2 927.8L1448.6 925.3L1449 922.7L1449.4 920.2L1449.8 917.7L1450.2 915.3L1450.6 913L1451 910.8L1451.4 908.7L1451.8 906.7L1452.2 904.9L1452.6 903.3L1453 901.8L1453.4 900.6L1453.8 899.5L1454.2 898.7L1454.6 898.1L1455 897.8L1455.4 897.8L1455.8 898L1456.2 898.4L1456.6 899L1457 899.8L1457.4 900.7L1457.8 901.8L1458.2 903L1458.6 904.3L1459 905.7L1459.4 907.1L1459.8 908.6L1460.2 910L1460.6 911.5L1461 912.9L1461.4 914.2L1461.8 915.5L1462.2 916.7L1462.6 917.8L1463 918.8L1463.4 919.5L1463.8 920.2L1464.2 920.6L1464.6 920.8L1465 920.7L1465.4 920.4L1465.8 919.9L1466.2 919.2L1466.6 918.2L1467 917.1L1467.4 915.8L1467.8 914.4L1468.2 912.8L1468.6 911.1L1469 909.3L1469.4 907.4L1469.8 905.5L1470.2 903.5L1470.6 901.4L1471 899.4L1471.4 897.3L1471.8 895.3L1472.2 893.3L1472.6 891.4L1473 889.5L1473.4 887.7L1473.8 886L1474.2 884.4L1474.6 882.9L1475 881.6L1475.5 880.5L1475.9 879.6L1476.3 878.8L1476.7 878.3L1477.1 878L1477.5 878L1477.9 878.2L1478.3 878.7L1478.7 879.4L1479.1 880.4L1479.5 881.6L1479.9 882.9L1480.3 884.5L1480.7 886.3L1481.1 888.2L1481.5 890.3L1481.9 892.5L1482.3 894.9L1482.7 897.4L1483.1 900L1483.5 902.7L1483.9 905.4L1484.3 908.3L1484.7 911.2L1485.1 914.1L1485.5 917.1L1485.9 920.1L1486.3 923.1L1486.7 926L1487.1 928.9L1487.5 931.8L1487.9 934.5L1488.3 937.2L1488.7 939.7L1489.1 942.1L1489.5 944.3L1489.9 946.3L1490.3 948.1L1490.7 949.7L1491.1 950.9L1491.5 951.9L1491.9 952.6L1492.3 953L1492.7 953L1493.1 952.7L1493.5 952.1L1493.9 951.2L1494.3 950L1494.7 948.5L1495.1 946.8L1495.5 944.9L1495.9 942.9L1496.3 940.6L1496.7 938.3L1497.1 935.8L1497.5 933.3" fill="none" stroke="#F0963A" stroke-width="5.0" stroke-linejoin="round" clip-path="url(#clipB)"/>
<polygon points="991.5,947.1 1001,963.5 982,963.5" fill="#fff" stroke="#F0963A" stroke-width="3.4" stroke-linejoin="miter" stroke-miterlimit="10"/>
<polygon points="1091.7,948.6 1101.2,965 1082.2,965" fill="#fff" stroke="#F0963A" stroke-width="3.4" stroke-linejoin="miter" stroke-miterlimit="10"/>
<polygon points="1191.9,950.7 1201.4,967.1 1182.4,967.1" fill="#fff" stroke="#F0963A" stroke-width="3.4" stroke-linejoin="miter" stroke-miterlimit="10"/>
<polygon points="1292.1,952.8 1301.6,969.2 1282.6,969.2" fill="#fff" stroke="#F0963A" stroke-width="3.4" stroke-linejoin="miter" stroke-miterlimit="10"/>
<polygon points="1392.3,954.9 1401.8,971.3 1382.8,971.3" fill="#fff" stroke="#F0963A" stroke-width="3.4" stroke-linejoin="miter" stroke-miterlimit="10"/>
<polygon points="1492.5,957 1502,973.4 1483,973.4" fill="#fff" stroke="#F0963A" stroke-width="3.4" stroke-linejoin="miter" stroke-miterlimit="10"/>
<path d="M936.4 932.2L936.8 934.6L937.2 936.8L937.6 939L938 941L938.4 942.9L938.8 944.6L939.2 946.2L939.6 947.5L940 948.6L940.4 949.5L940.8 950.2L941.2 950.6L941.6 950.7L942 950.6L942.4 950.2L942.8 949.6L943.2 948.7L943.6 947.7L944 946.5L944.4 945.1L944.8 943.6L945.2 941.9L945.6 940.1L946 938.2L946.4 936.2L946.8 934.2L947.2 932.1L947.6 930L948 927.8L948.4 925.7L948.8 923.6L949.2 921.5L949.6 919.4L950 917.4L950.4 915.6L950.8 913.8L951.2 912.1L951.6 910.5L952 909.2L952.4 907.9L952.8 906.9L953.2 906L953.6 905.4L954 905L954.4 904.9L954.8 905L955.2 905.2L955.6 905.7L956 906.3L956.4 907.1L956.8 907.9L957.2 908.9L957.6 910L958 911.1L958.4 912.3L958.9 913.5L959.3 914.7L959.7 915.9L960.1 917.1L960.5 918.2L960.9 919.3L961.3 920.2L961.7 921.1L962.1 921.8L962.5 922.3L962.9 922.7L963.3 922.9L963.7 922.9L964.1 922.7L964.5 922.2L964.9 921.6L965.3 920.7L965.7 919.6L966.1 918.3L966.5 916.9L966.9 915.4L967.3 913.7L967.7 912L968.1 910.1L968.5 908.2L968.9 906.2L969.3 904.2L969.7 902.2L970.1 900.1L970.5 898.1L970.9 896.1L971.3 894.1L971.7 892.2L972.1 890.4L972.5 888.6L972.9 887L973.3 885.5L973.7 884.1L974.1 882.9L974.5 881.9L974.9 881.1L975.3 880.4L975.7 880L976.1 879.9L976.5 880L976.9 880.3L977.3 881L977.7 881.8L978.1 882.9L978.5 884.2L978.9 885.7L979.3 887.4L979.7 889.2L980.1 891.2L980.5 893.4L980.9 895.7L981.3 898L981.7 900.5L982.1 903.1L982.5 905.7L982.9 908.4L983.3 911.1L983.7 913.8L984.1 916.6L984.5 919.3L984.9 922L985.3 924.7L985.7 927.3L986.1 929.9L986.5 932.4L986.9 934.8L987.3 937L987.7 939.2L988.1 941.2L988.5 943.1L988.9 944.8L989.3 946.3L989.7 947.6L990.1 948.7L990.5 949.6L990.9 950.2L991.3 950.6L991.7 950.7L992.1 950.6L992.5 950.2L992.9 949.5L993.3 948.7L993.7 947.6L994.1 946.4L994.5 945L994.9 943.4L995.3 941.7L995.8 939.9L996.2 938L996.6 936.1L997 934L997.4 931.9L997.8 929.8L998.2 927.6L998.6 925.5L999 923.4L999.4 921.3L999.8 919.2L1000.2 917.3L1000.6 915.4L1001 913.6L1001.4 911.9L1001.8 910.4L1002.2 909L1002.6 907.8L1003 906.8L1003.4 906L1003.8 905.4L1004.2 905L1004.6 904.9L1005 905L1005.4 905.3L1005.8 905.7L1006.2 906.4L1006.6 907.1L1007 908L1007.4 909L1007.8 910.1L1008.2 911.2L1008.6 912.4L1009 913.6L1009.4 914.8L1009.8 916L1010.2 917.2L1010.6 918.3L1011 919.4L1011.4 920.3L1011.8 921.1L1012.2 921.8L1012.6 922.4L1013 922.8L1013.4 922.9L1013.8 922.9L1014.2 922.7L1014.6 922.2L1015 921.5L1015.4 920.6L1015.8 919.5L1016.2 918.2L1016.6 916.8L1017 915.3L1017.4 913.6L1017.8 911.8L1018.2 910L1018.6 908L1019 906.1L1019.4 904L1019.8 902L1020.2 899.9L1020.6 897.9L1021 895.9L1021.4 893.9L1021.8 892L1022.2 890.2L1022.6 888.5L1023 886.9L1023.4 885.4L1023.8 884L1024.2 882.8L1024.6 881.8L1025 881L1025.4 880.4L1025.8 880L1026.2 879.9L1026.6 880L1027 880.4L1027.4 881L1027.8 881.9L1028.2 883L1028.6 884.3L1029 885.9L1029.4 887.6L1029.8 889.4L1030.2 891.4L1030.6 893.6L1031 895.9L1031.4 898.3L1031.8 900.8L1032.2 903.4L1032.7 906L1033.1 908.7L1033.5 911.4L1033.9 914.2L1034.3 916.9L1034.7 919.7L1035.1 922.4L1035.5 925.1L1035.9 927.8L1036.3 930.3L1036.7 932.8L1037.1 935.3L1037.5 937.6L1037.9 939.7L1038.3 941.8L1038.7 943.7L1039.1 945.4L1039.5 946.9L1039.9 948.2L1040.3 949.3L1040.7 950.2L1041.1 950.8L1041.5 951.2L1041.9 951.3L1042.3 951.1L1042.7 950.7L1043.1 950L1043.5 949.2L1043.9 948.1L1044.3 946.8L1044.7 945.4L1045.1 943.8L1045.5 942.1L1045.9 940.2L1046.3 938.3L1046.7 936.3L1047.1 934.2L1047.5 932.1L1047.9 929.9L1048.3 927.7L1048.7 925.5L1049.1 923.4L1049.5 921.3L1049.9 919.2L1050.3 917.2L1050.7 915.3L1051.1 913.6L1051.5 911.9L1051.9 910.4L1052.3 909L1052.7 907.8L1053.1 906.8L1053.5 906L1053.9 905.4L1054.3 905L1054.7 904.9L1055.1 905L1055.5 905.3L1055.9 905.8L1056.3 906.4L1056.7 907.2L1057.1 908.1L1057.5 909.1L1057.9 910.2L1058.3 911.3L1058.7 912.5L1059.1 913.7L1059.5 915L1059.9 916.2L1060.3 917.3L1060.7 918.4L1061.1 919.4L1061.5 920.4L1061.9 921.2L1062.3 921.9L1062.7 922.4L1063.1 922.8L1063.5 923L1063.9 922.9L1064.3 922.6L1064.7 922.1L1065.1 921.4L1065.5 920.5L1065.9 919.4L1066.3 918.1L1066.7 916.7L1067.1 915.1L1067.5 913.4L1067.9 911.7L1068.3 909.8L1068.7 907.9L1069.1 905.9L1069.6 903.8L1070 901.8L1070.4 899.8L1070.8 897.7L1071.2 895.7L1071.6 893.8L1072 891.9L1072.4 890.1L1072.8 888.3L1073.2 886.7L1073.6 885.2L1074 883.9L1074.4 882.7L1074.8 881.8L1075.2 881L1075.6 880.4L1076 880L1076.4 879.9L1076.8 880L1077.2 880.4L1077.6 881.1L1078 882L1078.4 883.1L1078.8 884.5L1079.2 886L1079.6 887.8L1080 889.7L1080.4 891.7L1080.8 893.9L1081.2 896.2L1081.6 898.6L1082 901.2L1082.4 903.8L1082.8 906.5L1083.2 909.2L1083.6 912L1084 914.8L1084.4 917.6L1084.8 920.4L1085.2 923.2L1085.6 926L1086 928.7L1086.4 931.3L1086.8 933.9L1087.2 936.4L1087.6 938.7L1088 941L1088.4 943.1L1088.8 945L1089.2 946.8L1089.6 948.3L1090 949.7L1090.4 950.8L1090.8 951.7L1091.2 952.3L1091.6 952.7L1092 952.8L1092.4 952.6L1092.8 952.1L1093.2 951.4L1093.6 950.4L1094 949.3L1094.4 947.9L1094.8 946.4L1095.2 944.7L1095.6 942.9L1096 941L1096.4 939L1096.8 936.9L1097.2 934.7L1097.6 932.5L1098 930.3L1098.4 928L1098.8 925.8L1099.2 923.6L1099.6 921.4L1100 919.3L1100.4 917.3L1100.8 915.4L1101.2 913.6L1101.6 911.9L1102 910.3L1102.4 909L1102.8 907.8L1103.2 906.7L1103.6 905.9L1104 905.4L1104.4 905L1104.8 904.9L1105.2 905L1105.6 905.4L1106 905.8L1106.5 906.5L1106.9 907.3L1107.3 908.2L1107.7 909.2L1108.1 910.3L1108.5 911.4L1108.9 912.6L1109.3 913.9L1109.7 915.1L1110.1 916.3L1110.5 917.4L1110.9 918.5L1111.3 919.5L1111.7 920.5L1112.1 921.3L1112.5 921.9L1112.9 922.5L1113.3 922.8L1113.7 923L1114.1 922.9L1114.5 922.6L1114.9 922.1L1115.3 921.3L1115.7 920.4L1116.1 919.3L1116.5 918L1116.9 916.5L1117.3 915L1117.7 913.3L1118.1 911.5L1118.5 909.6L1118.9 907.7L1119.3 905.7L1119.7 903.7L1120.1 901.6L1120.5 899.6L1120.9 897.5L1121.3 895.5L1121.7 893.6L1122.1 891.7L1122.5 889.9L1122.9 888.2L1123.3 886.6L1123.7 885.1L1124.1 883.8L1124.5 882.6L1124.9 881.7L1125.3 880.9L1125.7 880.3L1126.1 880L1126.5 879.9L1126.9 880.1L1127.3 880.5L1127.7 881.2L1128.1 882.1L1128.5 883.3L1128.9 884.7L1129.3 886.2L1129.7 888L1130.1 889.9L1130.5 892L1130.9 894.2L1131.3 896.5L1131.7 899L1132.1 901.6L1132.5 904.2L1132.9 906.9L1133.3 909.7L1133.7 912.5L1134.1 915.4L1134.5 918.3L1134.9 921.1L1135.3 924L1135.7 926.8L1136.1 929.6L1136.5 932.3L1136.9 935L1137.3 937.5L1137.7 939.9L1138.1 942.3L1138.5 944.4L1138.9 946.4L1139.3 948.2L1139.7 949.8L1140.1 951.2L1140.5 952.3L1140.9 953.2L1141.3 953.8L1141.7 954.2L1142.1 954.2L1142.5 954L1142.9 953.5L1143.4 952.7L1143.8 951.7L1144.2 950.4L1144.6 949L1145 947.4L1145.4 945.7L1145.8 943.8L1146.2 941.8L1146.6 939.7L1147 937.5L1147.4 935.2L1147.8 932.9L1148.2 930.6L1148.6 928.3L1149 926L1149.4 923.8L1149.8 921.6L1150.2 919.4L1150.6 917.4L1151 915.4L1151.4 913.6L1151.8 911.9L1152.2 910.3L1152.6 908.9L1153 907.7L1153.4 906.7L1153.8 905.9L1154.2 905.4L1154.6 905L1155 905L1155.4 905.1L1155.8 905.4L1156.2 905.9L1156.6 906.6L1157 907.4L1157.4 908.3L1157.8 909.3L1158.2 910.4L1158.6 911.6L1159 912.7L1159.4 914L1159.8 915.2L1160.2 916.4L1160.6 917.5L1161 918.6L1161.4 919.6L1161.8 920.5L1162.2 921.3L1162.6 922L1163 922.5L1163.4 922.8L1163.8 923L1164.2 922.9L1164.6 922.6L1165 922L1165.4 921.3L1165.8 920.3L1166.2 919.2L1166.6 917.9L1167 916.4L1167.4 914.8L1167.8 913.1L1168.2 911.3L1168.6 909.5L1169 907.5L1169.4 905.5L1169.8 903.5L1170.2 901.4L1170.6 899.4L1171 897.4L1171.4 895.4L1171.8 893.4L1172.2 891.5L1172.6 889.7L1173 888L1173.4 886.5L1173.8 885L1174.2 883.7L1174.6 882.6L1175 881.6L1175.4 880.8L1175.8 880.3L1176.2 880L1176.6 879.9L1177 880.1L1177.4 880.6L1177.8 881.3L1178.2 882.2L1178.6 883.4L1179 884.8L1179.4 886.4L1179.8 888.2L1180.3 890.1L1180.7 892.2L1181.1 894.5L1181.5 896.9L1181.9 899.4L1182.3 902L1182.7 904.6L1183.1 907.4L1183.5 910.2L1183.9 913.1L1184.3 916L1184.7 918.9L1185.1 921.9L1185.5 924.8L1185.9 927.7L1186.3 930.5L1186.7 933.3L1187.1 936L1187.5 938.7L1187.9 941.2L1188.3 943.5L1188.7 945.7L1189.1 947.8L1189.5 949.6L1189.9 951.3L1190.3 952.7L1190.7 953.8L1191.1 954.7L1191.5 955.4L1191.9 955.7L1192.3 955.7L1192.7 955.4L1193.1 954.8L1193.5 954L1193.9 952.9L1194.3 951.6L1194.7 950.1L1195.1 948.4L1195.5 946.6L1195.9 944.6L1196.3 942.5L1196.7 940.3L1197.1 938.1L1197.5 935.7L1197.9 933.4L1198.3 931L1198.7 928.6L1199.1 926.3L1199.5 924L1199.9 921.7L1200.3 919.5L1200.7 917.4L1201.1 915.5L1201.5 913.6L1201.9 911.9L1202.3 910.3L1202.7 908.9L1203.1 907.7L1203.5 906.7L1203.9 905.9L1204.3 905.4L1204.7 905.1L1205.1 905L1205.5 905.1L1205.9 905.5L1206.3 906L1206.7 906.6L1207.1 907.5L1207.5 908.4L1207.9 909.4L1208.3 910.5L1208.7 911.7L1209.1 912.9L1209.5 914.1L1209.9 915.3L1210.3 916.5L1210.7 917.6L1211.1 918.7L1211.5 919.7L1211.9 920.6L1212.3 921.4L1212.7 922L1213.1 922.5L1213.5 922.9L1213.9 923L1214.3 922.9L1214.7 922.5L1215.1 922L1215.5 921.2L1215.9 920.2L1216.3 919.1L1216.7 917.7L1217.2 916.3L1217.6 914.7L1218 913L1218.4 911.2L1218.8 909.3L1219.2 907.3L1219.6 905.3L1220 903.3L1220.4 901.3L1220.8 899.2L1221.2 897.2L1221.6 895.2L1222 893.3L1222.4 891.4L1222.8 889.6L1223.2 887.9L1223.6 886.3L1224 884.9L1224.4 883.6L1224.8 882.5L1225.2 881.5L1225.6 880.8L1226 880.3L1226.4 880L1226.8 879.9L1227.2 880.1L1227.6 880.6L1228 881.4L1228.4 882.4L1228.8 883.6L1229.2 885L1229.6 886.6L1230 888.4L1230.4 890.4L1230.8 892.5L1231.2 894.8L1231.6 897.2L1232 899.7L1232.4 902.4L1232.8 905.1L1233.2 907.9L1233.6 910.8L1234 913.7L1234.4 916.7L1234.8 919.6L1235.2 922.6L1235.6 925.6L1236 928.6L1236.4 931.5L1236.8 934.4L1237.2 937.1L1237.6 939.8L1238 942.4L1238.4 944.8L1238.8 947.1L1239.2 949.2L1239.6 951.1L1240 952.7L1240.4 954.2L1240.8 955.4L1241.2 956.3L1241.6 956.9L1242 957.2L1242.4 957.1L1242.8 956.8L1243.2 956.2L1243.6 955.3L1244 954.1L1244.4 952.8L1244.8 951.2L1245.2 949.4L1245.6 947.5L1246 945.4L1246.4 943.3L1246.8 941L1247.2 938.6L1247.6 936.2L1248 933.8L1248.4 931.3L1248.8 928.9L1249.2 926.5L1249.6 924.1L1250 921.8L1250.4 919.6L1250.8 917.5L1251.2 915.5L1251.6 913.6L1252 911.9L1252.4 910.3L1252.8 908.9L1253.2 907.7L1253.6 906.7L1254.1 905.9L1254.5 905.4L1254.9 905.1L1255.3 905L1255.7 905.2L1256.1 905.5L1256.5 906L1256.9 906.7L1257.3 907.5L1257.7 908.5L1258.1 909.5L1258.5 910.6L1258.9 911.8L1259.3 913L1259.7 914.2L1260.1 915.4L1260.5 916.6L1260.9 917.7L1261.3 918.8L1261.7 919.8L1262.1 920.7L1262.5 921.5L1262.9 922.1L1263.3 922.6L1263.7 922.9L1264.1 923L1264.5 922.8L1264.9 922.5L1265.3 921.9L1265.7 921.1L1266.1 920.1L1266.5 918.9L1266.9 917.6L1267.3 916.1L1267.7 914.5L1268.1 912.8L1268.5 911L1268.9 909.1L1269.3 907.2L1269.7 905.2L1270.1 903.1L1270.5 901.1L1270.9 899L1271.3 897L1271.7 895L1272.1 893.1L1272.5 891.2L1272.9 889.4L1273.3 887.7L1273.7 886.2L1274.1 884.8L1274.5 883.5L1274.9 882.4L1275.3 881.4L1275.7 880.7L1276.1 880.2L1276.5 880L1276.9 879.9L1277.3 880.2L1277.7 880.7L1278.1 881.5L1278.5 882.5L1278.9 883.7L1279.3 885.1L1279.7 886.8L1280.1 888.6L1280.5 890.6L1280.9 892.8L1281.3 895.1L1281.7 897.5L1282.1 900.1L1282.5 902.8L1282.9 905.5L1283.3 908.4L1283.7 911.3L1284.1 914.3L1284.5 917.3L1284.9 920.3L1285.3 923.4L1285.7 926.5L1286.1 929.5L1286.5 932.5L1286.9 935.4L1287.3 938.2L1287.7 941L1288.1 943.6L1288.5 946.1L1288.9 948.4L1289.3 950.6L1289.7 952.5L1290.1 954.2L1290.5 955.7L1291 956.9L1291.4 957.8L1291.8 958.4L1292.2 958.6L1292.6 958.6L1293 958.2L1293.4 957.5L1293.8 956.6L1294.2 955.4L1294.6 953.9L1295 952.3L1295.4 950.4L1295.8 948.4L1296.2 946.2L1296.6 944L1297 941.6L1297.4 939.2L1297.8 936.7L1298.2 934.2L1298.6 931.7L1299 929.2L1299.4 926.7L1299.8 924.3L1300.2 921.9L1300.6 919.7L1301 917.5L1301.4 915.5L1301.8 913.6L1302.2 911.9L1302.6 910.3L1303 908.9L1303.4 907.7L1303.8 906.7L1304.2 905.9L1304.6 905.4L1305 905.1L1305.4 905L1305.8 905.2L1306.2 905.6L1306.6 906.1L1307 906.8L1307.4 907.6L1307.8 908.6L1308.2 909.6L1308.6 910.7L1309 911.9L1309.4 913.1L1309.8 914.3L1310.2 915.5L1310.6 916.7L1311 917.8L1311.4 918.9L1311.8 919.9L1312.2 920.8L1312.6 921.5L1313 922.1L1313.4 922.6L1313.8 922.9L1314.2 923L1314.6 922.8L1315 922.4L1315.4 921.8L1315.8 921L1316.2 920L1316.6 918.8L1317 917.5L1317.4 916L1317.8 914.4L1318.2 912.7L1318.6 910.8L1319 908.9L1319.4 907L1319.8 905L1320.2 902.9L1320.6 900.9L1321 898.8L1321.4 896.8L1321.8 894.8L1322.2 892.9L1322.6 891.1L1323 889.3L1323.4 887.6L1323.8 886.1L1324.2 884.6L1324.6 883.4L1325 882.3L1325.4 881.4L1325.8 880.7L1326.2 880.2L1326.6 879.9L1327 879.9L1327.4 880.2L1327.9 880.8L1328.3 881.6L1328.7 882.6L1329.1 883.8L1329.5 885.3L1329.9 887L1330.3 888.8L1330.7 890.9L1331.1 893.1L1331.5 895.4L1331.9 897.9L1332.3 900.5L1332.7 903.2L1333.1 906L1333.5 908.9L1333.9 911.9L1334.3 914.9L1334.7 918L1335.1 921.1L1335.5 924.2L1335.9 927.3L1336.3 930.4L1336.7 933.4L1337.1 936.4L1337.5 939.4L1337.9 942.2L1338.3 944.9L1338.7 947.4L1339.1 949.8L1339.5 952L1339.9 954L1340.3 955.7L1340.7 957.2L1341.1 958.4L1341.5 959.3L1341.9 959.9L1342.3 960.1L1342.7 960L1343.1 959.6L1343.5 958.9L1343.9 957.8L1344.3 956.6L1344.7 955L1345.1 953.3L1345.5 951.4L1345.9 949.3L1346.3 947L1346.7 944.7L1347.1 942.2L1347.5 939.7L1347.9 937.1L1348.3 934.6L1348.7 932L1349.1 929.4L1349.5 926.9L1349.9 924.4L1350.3 922L1350.7 919.8L1351.1 917.6L1351.5 915.5L1351.9 913.6L1352.3 911.8L1352.7 910.3L1353.1 908.8L1353.5 907.6L1353.9 906.6L1354.3 905.9L1354.7 905.4L1355.1 905.1L1355.5 905.1L1355.9 905.2L1356.3 905.6L1356.7 906.2L1357.1 906.9L1357.5 907.7L1357.9 908.7L1358.3 909.7L1358.7 910.8L1359.1 912L1359.5 913.2L1359.9 914.4L1360.3 915.6L1360.7 916.8L1361.1 917.9L1361.5 919L1361.9 920L1362.3 920.8L1362.7 921.6L1363.1 922.2L1363.5 922.6L1363.9 922.9L1364.3 923L1364.8 922.8L1365.2 922.4L1365.6 921.8L1366 920.9L1366.4 919.9L1366.8 918.7L1367.2 917.4L1367.6 915.9L1368 914.2L1368.4 912.5L1368.8 910.7L1369.2 908.8L1369.6 906.8L1370 904.8L1370.4 902.8L1370.8 900.7L1371.2 898.7L1371.6 896.6L1372 894.7L1372.4 892.7L1372.8 890.9L1373.2 889.1L1373.6 887.5L1374 885.9L1374.4 884.5L1374.8 883.3L1375.2 882.2L1375.6 881.3L1376 880.6L1376.4 880.2L1376.8 879.9L1377.2 880L1377.6 880.3L1378 880.8L1378.4 881.7L1378.8 882.7L1379.2 884L1379.6 885.5L1380 887.2L1380.4 889.1L1380.8 891.1L1381.2 893.3L1381.6 895.7L1382 898.2L1382.4 900.9L1382.8 903.6L1383.2 906.5L1383.6 909.4L1384 912.4L1384.4 915.5L1384.8 918.6L1385.2 921.8L1385.6 925L1386 928.2L1386.4 931.3L1386.8 934.4L1387.2 937.5L1387.6 940.5L1388 943.4L1388.4 946.1L1388.8 948.8L1389.2 951.2L1389.6 953.4L1390 955.4L1390.4 957.2L1390.8 958.7L1391.2 959.9L1391.6 960.8L1392 961.4L1392.4 961.6L1392.8 961.5L1393.2 961L1393.6 960.2L1394 959.1L1394.4 957.8L1394.8 956.2L1395.2 954.3L1395.6 952.3L1396 950.1L1396.4 947.8L1396.8 945.4L1397.2 942.8L1397.6 940.2L1398 937.6L1398.4 934.9L1398.8 932.3L1399.2 929.7L1399.6 927.1L1400 924.6L1400.4 922.1L1400.8 919.8L1401.2 917.6L1401.7 915.5L1402.1 913.6L1402.5 911.8L1402.9 910.2L1403.3 908.8L1403.7 907.6L1404.1 906.6L1404.5 905.9L1404.9 905.4L1405.3 905.1L1405.7 905.1L1406.1 905.3L1406.5 905.7L1406.9 906.2L1407.3 907L1407.7 907.8L1408.1 908.8L1408.5 909.8L1408.9 910.9L1409.3 912.1L1409.7 913.3L1410.1 914.5L1410.5 915.7L1410.9 916.9L1411.3 918L1411.7 919.1L1412.1 920L1412.5 920.9L1412.9 921.6L1413.3 922.2L1413.7 922.7L1414.1 922.9L1414.5 923L1414.9 922.8L1415.3 922.4L1415.7 921.7L1416.1 920.9L1416.5 919.8L1416.9 918.6L1417.3 917.2L1417.7 915.7L1418.1 914.1L1418.5 912.3L1418.9 910.5L1419.3 908.6L1419.7 906.6L1420.1 904.6L1420.5 902.6L1420.9 900.5L1421.3 898.5L1421.7 896.5L1422.1 894.5L1422.5 892.6L1422.9 890.7L1423.3 889L1423.7 887.3L1424.1 885.8L1424.5 884.4L1424.9 883.2L1425.3 882.1L1425.7 881.2L1426.1 880.6L1426.5 880.1L1426.9 879.9L1427.3 880L1427.7 880.3L1428.1 880.9L1428.5 881.8L1428.9 882.8L1429.3 884.1L1429.7 885.7L1430.1 887.4L1430.5 889.3L1430.9 891.4L1431.3 893.6L1431.7 896L1432.1 898.6L1432.5 901.2L1432.9 904L1433.3 906.9L1433.7 909.9L1434.1 913L1434.5 916.1L1434.9 919.3L1435.3 922.5L1435.7 925.8L1436.1 929L1436.5 932.2L1436.9 935.4L1437.3 938.6L1437.7 941.6L1438.1 944.6L1438.6 947.4L1439 950.1L1439.4 952.6L1439.8 954.9L1440.2 956.9L1440.6 958.7L1441 960.2L1441.4 961.4L1441.8 962.3L1442.2 962.9L1442.6 963.1L1443 962.9L1443.4 962.4L1443.8 961.5L1444.2 960.4L1444.6 958.9L1445 957.3L1445.4 955.4L1445.8 953.3L1446.2 951L1446.6 948.6L1447 946L1447.4 943.4L1447.8 940.7L1448.2 938L1448.6 935.3L1449 932.6L1449.4 929.9L1449.8 927.3L1450.2 924.7L1450.6 922.2L1451 919.9L1451.4 917.6L1451.8 915.5L1452.2 913.6L1452.6 911.8L1453 910.2L1453.4 908.8L1453.8 907.6L1454.2 906.6L1454.6 905.9L1455 905.4L1455.4 905.1L1455.8 905.1L1456.2 905.3L1456.6 905.7L1457 906.3L1457.4 907L1457.8 907.9L1458.2 908.9L1458.6 909.9L1459 911L1459.4 912.2L1459.8 913.4L1460.2 914.6L1460.6 915.8L1461 917L1461.4 918.1L1461.8 919.2L1462.2 920.1L1462.6 921L1463 921.7L1463.4 922.3L1463.8 922.7L1464.2 922.9L1464.6 922.9L1465 922.7L1465.4 922.3L1465.8 921.6L1466.2 920.8L1466.6 919.7L1467 918.5L1467.4 917.1L1467.8 915.6L1468.2 913.9L1468.6 912.2L1469 910.3L1469.4 908.4L1469.8 906.4L1470.2 904.4L1470.6 902.4L1471 900.3L1471.4 898.3L1471.8 896.3L1472.2 894.3L1472.6 892.4L1473 890.6L1473.4 888.8L1473.8 887.2L1474.2 885.7L1474.6 884.3L1475 883.1L1475.5 882L1475.9 881.2L1476.3 880.5L1476.7 880.1L1477.1 879.9L1477.5 880L1477.9 880.4L1478.3 881L1478.7 881.9L1479.1 883L1479.5 884.3L1479.9 885.8L1480.3 887.6L1480.7 889.5L1481.1 891.6L1481.5 893.9L1481.9 896.4L1482.3 898.9L1482.7 901.6L1483.1 904.5L1483.5 907.4L1483.9 910.4L1484.3 913.6L1484.7 916.7L1485.1 920L1485.5 923.3L1485.9 926.6L1486.3 929.9L1486.7 933.2L1487.1 936.5L1487.5 939.7L1487.9 942.8L1488.3 945.8L1488.7 948.7L1489.1 951.4L1489.5 954L1489.9 956.3L1490.3 958.4L1490.7 960.2L1491.1 961.8L1491.5 963L1491.9 963.8L1492.3 964.4L1492.7 964.5L1493.1 964.3L1493.5 963.7L1493.9 962.8L1494.3 961.6L1494.7 960.1L1495.1 958.4L1495.5 956.4L1495.9 954.2L1496.3 951.8L1496.7 949.3L1497.1 946.7L1497.5 944" fill="none" stroke="#E3261F" stroke-width="5.0" stroke-linejoin="round" clip-path="url(#clipB)"/>
<polygon points="999.9,960.5 986,969.6 986,951.4" fill="#fff" stroke="#E3261F" stroke-width="3.4" stroke-linejoin="miter" stroke-miterlimit="10"/>
<polygon points="1100.1,962.6 1086.2,971.7 1086.2,953.4" fill="#fff" stroke="#E3261F" stroke-width="3.4" stroke-linejoin="miter" stroke-miterlimit="10"/>
<polygon points="1200.3,965.5 1186.4,974.6 1186.4,956.4" fill="#fff" stroke="#E3261F" stroke-width="3.4" stroke-linejoin="miter" stroke-miterlimit="10"/>
<polygon points="1300.5,968.4 1286.6,977.6 1286.6,959.3" fill="#fff" stroke="#E3261F" stroke-width="3.4" stroke-linejoin="miter" stroke-miterlimit="10"/>
<polygon points="1400.7,971.4 1386.8,980.5 1386.8,962.3" fill="#fff" stroke="#E3261F" stroke-width="3.4" stroke-linejoin="miter" stroke-miterlimit="10"/>
<polygon points="1500.9,974.3 1487,983.4 1487,965.2" fill="#fff" stroke="#E3261F" stroke-width="3.4" stroke-linejoin="miter" stroke-miterlimit="10"/>
<path d="M936.4 944.8L936.8 947.5L937.2 950L937.6 952.4L938 954.6L938.4 956.6L938.8 958.5L939.2 960.2L939.6 961.6L940 962.8L940.4 963.8L940.8 964.5L941.2 964.9L941.6 965L942 964.8L942.4 964.3L942.8 963.6L943.2 962.7L943.6 961.5L944 960.1L944.4 958.5L944.8 956.7L945.2 954.8L945.6 952.8L946 950.7L946.4 948.4L946.8 946.1L947.2 943.7L947.6 941.3L948 938.8L948.4 936.3L948.8 933.9L949.2 931.4L949.6 929.1L950 926.7L950.4 924.5L950.8 922.4L951.2 920.4L951.6 918.5L952 916.7L952.4 915.2L952.8 913.8L953.2 912.7L953.6 911.8L954 911.1L954.4 910.6L954.8 910.4L955.2 910.5L955.6 910.7L956 911L956.4 911.6L956.8 912.2L957.2 913L957.6 913.9L958 914.9L958.4 915.9L958.9 916.9L959.3 918L959.7 919L960.1 920.1L960.5 921L960.9 922L961.3 922.8L961.7 923.5L962.1 924.2L962.5 924.6L962.9 925L963.3 925.1L963.7 925L964.1 924.7L964.5 924.2L964.9 923.5L965.3 922.6L965.7 921.5L966.1 920.2L966.5 918.8L966.9 917.2L967.3 915.6L967.7 913.8L968.1 912L968.5 910.1L968.9 908.2L969.3 906.2L969.7 904.2L970.1 902.2L970.5 900.3L970.9 898.4L971.3 896.5L971.7 894.7L972.1 893L972.5 891.4L972.9 889.9L973.3 888.6L973.7 887.4L974.1 886.4L974.5 885.5L974.9 884.9L975.3 884.5L975.7 884.3L976.1 884.4L976.5 884.8L976.9 885.4L977.3 886.3L977.7 887.4L978.1 888.8L978.5 890.5L978.9 892.3L979.3 894.3L979.7 896.5L980.1 898.8L980.5 901.3L980.9 903.9L981.3 906.7L981.7 909.5L982.1 912.4L982.5 915.4L982.9 918.4L983.3 921.4L983.7 924.5L984.1 927.5L984.5 930.6L984.9 933.6L985.3 936.6L985.7 939.5L986.1 942.3L986.5 945.1L986.9 947.7L987.3 950.2L987.7 952.6L988.1 954.8L988.5 956.8L988.9 958.7L989.3 960.3L989.7 961.7L990.1 962.9L990.5 963.8L990.9 964.5L991.3 964.9L991.7 965L992.1 964.8L992.5 964.3L992.9 963.5L993.3 962.6L993.7 961.4L994.1 959.9L994.5 958.3L994.9 956.6L995.3 954.7L995.8 952.6L996.2 950.5L996.6 948.2L997 945.9L997.4 943.5L997.8 941L998.2 938.6L998.6 936.1L999 933.6L999.4 931.2L999.8 928.8L1000.2 926.5L1000.6 924.3L1001 922.2L1001.4 920.2L1001.8 918.3L1002.2 916.6L1002.6 915.1L1003 913.7L1003.4 912.6L1003.8 911.7L1004.2 911L1004.6 910.6L1005 910.4L1005.4 910.5L1005.8 910.7L1006.2 911.1L1006.6 911.6L1007 912.3L1007.4 913.1L1007.8 914L1008.2 914.9L1008.6 916L1009 917L1009.4 918.1L1009.8 919.1L1010.2 920.1L1010.6 921.1L1011 922L1011.4 922.9L1011.8 923.6L1012.2 924.2L1012.6 924.7L1013 925L1013.4 925.1L1013.8 925L1014.2 924.7L1014.6 924.2L1015 923.4L1015.4 922.5L1015.8 921.4L1016.2 920.1L1016.6 918.6L1017 917.1L1017.4 915.4L1017.8 913.7L1018.2 911.8L1018.6 909.9L1019 908L1019.4 906L1019.8 904L1020.2 902.1L1020.6 900.1L1021 898.2L1021.4 896.3L1021.8 894.6L1022.2 892.9L1022.6 891.3L1023 889.8L1023.4 888.5L1023.8 887.3L1024.2 886.3L1024.6 885.5L1025 884.9L1025.4 884.5L1025.8 884.3L1026.2 884.4L1026.6 884.8L1027 885.5L1027.4 886.4L1027.8 887.6L1028.2 889L1028.6 890.6L1029 892.5L1029.4 894.5L1029.8 896.7L1030.2 899.1L1030.6 901.6L1031 904.2L1031.4 906.9L1031.8 909.8L1032.2 912.7L1032.7 915.7L1033.1 918.7L1033.5 921.8L1033.9 924.9L1034.3 928L1034.7 931L1035.1 934.1L1035.5 937.1L1035.9 940L1036.3 942.9L1036.7 945.7L1037.1 948.3L1037.5 950.9L1037.9 953.3L1038.3 955.5L1038.7 957.6L1039.1 959.4L1039.5 961.1L1039.9 962.5L1040.3 963.8L1040.7 964.7L1041.1 965.4L1041.5 965.7L1041.9 965.8L1042.3 965.6L1042.7 965.1L1043.1 964.3L1043.5 963.3L1043.9 962.1L1044.3 960.6L1044.7 959L1045.1 957.2L1045.5 955.2L1045.9 953.1L1046.3 950.9L1046.7 948.6L1047.1 946.2L1047.5 943.7L1047.9 941.2L1048.3 938.7L1048.7 936.2L1049.1 933.7L1049.5 931.3L1049.9 928.9L1050.3 926.5L1050.7 924.3L1051.1 922.1L1051.5 920.1L1051.9 918.3L1052.3 916.5L1052.7 915L1053.1 913.7L1053.5 912.5L1053.9 911.7L1054.3 911L1054.7 910.6L1055.1 910.4L1055.5 910.5L1055.9 910.7L1056.3 911.1L1056.7 911.7L1057.1 912.4L1057.5 913.2L1057.9 914.1L1058.3 915L1058.7 916.1L1059.1 917.1L1059.5 918.2L1059.9 919.2L1060.3 920.2L1060.7 921.2L1061.1 922.1L1061.5 922.9L1061.9 923.7L1062.3 924.3L1062.7 924.7L1063.1 925L1063.5 925.1L1063.9 925L1064.3 924.7L1064.7 924.1L1065.1 923.3L1065.5 922.4L1065.9 921.2L1066.3 919.9L1066.7 918.5L1067.1 916.9L1067.5 915.3L1067.9 913.5L1068.3 911.7L1068.7 909.8L1069.1 907.8L1069.6 905.8L1070 903.9L1070.4 901.9L1070.8 899.9L1071.2 898L1071.6 896.2L1072 894.4L1072.4 892.7L1072.8 891.1L1073.2 889.7L1073.6 888.3L1074 887.2L1074.4 886.2L1074.8 885.4L1075.2 884.8L1075.6 884.4L1076 884.3L1076.4 884.5L1076.8 884.9L1077.2 885.5L1077.6 886.5L1078 887.7L1078.4 889.2L1078.8 890.8L1079.2 892.7L1079.6 894.7L1080 897L1080.4 899.4L1080.8 901.9L1081.2 904.6L1081.6 907.4L1082 910.3L1082.4 913.2L1082.8 916.3L1083.2 919.4L1083.6 922.5L1084 925.7L1084.4 928.8L1084.8 932L1085.2 935.1L1085.6 938.2L1086 941.3L1086.4 944.2L1086.8 947.1L1087.2 949.9L1087.6 952.5L1088 955L1088.4 957.3L1088.8 959.5L1089.2 961.4L1089.6 963.1L1090 964.6L1090.4 965.9L1090.8 966.8L1091.2 967.5L1091.6 967.9L1092 967.9L1092.4 967.6L1092.8 967.1L1093.2 966.2L1093.6 965.1L1094 963.8L1094.4 962.2L1094.8 960.5L1095.2 958.6L1095.6 956.5L1096 954.3L1096.4 951.9L1096.8 949.5L1097.2 947L1097.6 944.4L1098 941.8L1098.4 939.2L1098.8 936.6L1099.2 934.1L1099.6 931.5L1100 929.1L1100.4 926.7L1100.8 924.4L1101.2 922.2L1101.6 920.2L1102 918.3L1102.4 916.5L1102.8 915L1103.2 913.7L1103.6 912.5L1104 911.6L1104.4 911L1104.8 910.6L1105.2 910.5L1105.6 910.5L1106 910.8L1106.5 911.2L1106.9 911.8L1107.3 912.5L1107.7 913.3L1108.1 914.2L1108.5 915.1L1108.9 916.1L1109.3 917.2L1109.7 918.3L1110.1 919.3L1110.5 920.3L1110.9 921.3L1111.3 922.2L1111.7 923L1112.1 923.7L1112.5 924.3L1112.9 924.7L1113.3 925L1113.7 925.1L1114.1 925L1114.5 924.6L1114.9 924L1115.3 923.3L1115.7 922.3L1116.1 921.1L1116.5 919.8L1116.9 918.4L1117.3 916.8L1117.7 915.1L1118.1 913.3L1118.5 911.5L1118.9 909.6L1119.3 907.6L1119.7 905.7L1120.1 903.7L1120.5 901.7L1120.9 899.8L1121.3 897.9L1121.7 896L1122.1 894.2L1122.5 892.6L1122.9 891L1123.3 889.5L1123.7 888.2L1124.1 887.1L1124.5 886.1L1124.9 885.3L1125.3 884.8L1125.7 884.4L1126.1 884.3L1126.5 884.5L1126.9 884.9L1127.3 885.6L1127.7 886.6L1128.1 887.9L1128.5 889.3L1128.9 891L1129.3 892.9L1129.7 895L1130.1 897.3L1130.5 899.7L1130.9 902.3L1131.3 905L1131.7 907.8L1132.1 910.8L1132.5 913.8L1132.9 916.9L1133.3 920L1133.7 923.2L1134.1 926.5L1134.5 929.7L1134.9 933L1135.3 936.2L1135.7 939.4L1136.1 942.5L1136.5 945.6L1136.9 948.6L1137.3 951.4L1137.7 954.2L1138.1 956.7L1138.5 959.2L1138.9 961.4L1139.3 963.4L1139.7 965.2L1140.1 966.7L1140.5 968L1140.9 969L1141.3 969.6L1141.7 970L1142.1 970L1142.5 969.7L1142.9 969L1143.4 968.1L1143.8 966.9L1144.2 965.5L1144.6 963.8L1145 962L1145.4 959.9L1145.8 957.7L1146.2 955.4L1146.6 952.9L1147 950.4L1147.4 947.8L1147.8 945.1L1148.2 942.4L1148.6 939.7L1149 937L1149.4 934.4L1149.8 931.8L1150.2 929.3L1150.6 926.8L1151 924.5L1151.4 922.3L1151.8 920.2L1152.2 918.3L1152.6 916.5L1153 915L1153.4 913.6L1153.8 912.5L1154.2 911.6L1154.6 911L1155 910.6L1155.4 910.5L1155.8 910.6L1156.2 910.8L1156.6 911.3L1157 911.8L1157.4 912.5L1157.8 913.3L1158.2 914.2L1158.6 915.2L1159 916.2L1159.4 917.3L1159.8 918.3L1160.2 919.4L1160.6 920.4L1161 921.4L1161.4 922.3L1161.8 923.1L1162.2 923.8L1162.6 924.3L1163 924.8L1163.4 925L1163.8 925.1L1164.2 924.9L1164.6 924.6L1165 924L1165.4 923.2L1165.8 922.2L1166.2 921L1166.6 919.7L1167 918.2L1167.4 916.7L1167.8 915L1168.2 913.2L1168.6 911.3L1169 909.4L1169.4 907.5L1169.8 905.5L1170.2 903.5L1170.6 901.5L1171 899.6L1171.4 897.7L1171.8 895.9L1172.2 894.1L1172.6 892.4L1173 890.9L1173.4 889.4L1173.8 888.1L1174.2 887L1174.6 886L1175 885.3L1175.4 884.7L1175.8 884.4L1176.2 884.3L1176.6 884.5L1177 885L1177.4 885.7L1177.8 886.7L1178.2 888L1178.6 889.5L1179 891.2L1179.4 893.1L1179.8 895.3L1180.3 897.6L1180.7 900L1181.1 902.7L1181.5 905.4L1181.9 908.3L1182.3 911.3L1182.7 914.3L1183.1 917.5L1183.5 920.7L1183.9 924L1184.3 927.3L1184.7 930.6L1185.1 934L1185.5 937.3L1185.9 940.6L1186.3 943.8L1186.7 947L1187.1 950L1187.5 953L1187.9 955.8L1188.3 958.5L1188.7 961L1189.1 963.3L1189.5 965.4L1189.9 967.2L1190.3 968.8L1190.7 970.1L1191.1 971.1L1191.5 971.8L1191.9 972.1L1192.3 972.1L1192.7 971.7L1193.1 971L1193.5 970L1193.9 968.7L1194.3 967.2L1194.7 965.4L1195.1 963.5L1195.5 961.3L1195.9 959L1196.3 956.5L1196.7 953.9L1197.1 951.3L1197.5 948.5L1197.9 945.8L1198.3 943L1198.7 940.2L1199.1 937.4L1199.5 934.7L1199.9 932L1200.3 929.4L1200.7 926.9L1201.1 924.6L1201.5 922.3L1201.9 920.2L1202.3 918.3L1202.7 916.5L1203.1 915L1203.5 913.6L1203.9 912.5L1204.3 911.6L1204.7 911L1205.1 910.7L1205.5 910.5L1205.9 910.6L1206.3 910.9L1206.7 911.3L1207.1 911.9L1207.5 912.6L1207.9 913.4L1208.3 914.3L1208.7 915.3L1209.1 916.3L1209.5 917.4L1209.9 918.4L1210.3 919.5L1210.7 920.5L1211.1 921.5L1211.5 922.4L1211.9 923.1L1212.3 923.8L1212.7 924.4L1213.1 924.8L1213.5 925L1213.9 925.1L1214.3 924.9L1214.7 924.5L1215.1 923.9L1215.5 923.1L1215.9 922.1L1216.3 920.9L1216.7 919.6L1217.2 918.1L1217.6 916.5L1218 914.8L1218.4 913L1218.8 911.2L1219.2 909.2L1219.6 907.3L1220 905.3L1220.4 903.3L1220.8 901.4L1221.2 899.4L1221.6 897.5L1222 895.7L1222.4 893.9L1222.8 892.3L1223.2 890.7L1223.6 889.3L1224 888L1224.4 886.9L1224.8 886L1225.2 885.2L1225.6 884.7L1226 884.4L1226.4 884.4L1226.8 884.6L1227.2 885.1L1227.6 885.8L1228 886.9L1228.4 888.2L1228.8 889.7L1229.2 891.4L1229.6 893.4L1230 895.5L1230.4 897.9L1230.8 900.4L1231.2 903L1231.6 905.8L1232 908.7L1232.4 911.8L1232.8 914.9L1233.2 918.1L1233.6 921.4L1234 924.7L1234.4 928.1L1234.8 931.5L1235.2 935L1235.6 938.4L1236 941.7L1236.4 945.1L1236.8 948.3L1237.2 951.5L1237.6 954.6L1238 957.5L1238.4 960.3L1238.8 962.9L1239.2 965.3L1239.6 967.4L1240 969.3L1240.4 970.9L1240.8 972.2L1241.2 973.2L1241.6 973.9L1242 974.2L1242.4 974.1L1242.8 973.7L1243.2 973L1243.6 971.9L1244 970.5L1244.4 968.9L1244.8 967L1245.2 964.9L1245.6 962.6L1246 960.2L1246.4 957.6L1246.8 954.9L1247.2 952.1L1247.6 949.3L1248 946.4L1248.4 943.5L1248.8 940.6L1249.2 937.8L1249.6 935L1250 932.2L1250.4 929.6L1250.8 927.1L1251.2 924.6L1251.6 922.3L1252 920.2L1252.4 918.3L1252.8 916.5L1253.2 914.9L1253.6 913.6L1254.1 912.5L1254.5 911.6L1254.9 911L1255.3 910.7L1255.7 910.5L1256.1 910.6L1256.5 910.9L1256.9 911.4L1257.3 912L1257.7 912.7L1258.1 913.5L1258.5 914.4L1258.9 915.4L1259.3 916.4L1259.7 917.5L1260.1 918.5L1260.5 919.6L1260.9 920.6L1261.3 921.5L1261.7 922.4L1262.1 923.2L1262.5 923.9L1262.9 924.4L1263.3 924.8L1263.7 925L1264.1 925.1L1264.5 924.9L1264.9 924.5L1265.3 923.8L1265.7 923L1266.1 922L1266.5 920.8L1266.9 919.5L1267.3 918L1267.7 916.4L1268.1 914.7L1268.5 912.9L1268.9 911L1269.3 909.1L1269.7 907.1L1270.1 905.1L1270.5 903.2L1270.9 901.2L1271.3 899.3L1271.7 897.4L1272.1 895.5L1272.5 893.8L1272.9 892.1L1273.3 890.6L1273.7 889.2L1274.1 887.9L1274.5 886.8L1274.9 885.9L1275.3 885.2L1275.7 884.7L1276.1 884.4L1276.5 884.4L1276.9 884.6L1277.3 885.1L1277.7 885.9L1278.1 887L1278.5 888.3L1278.9 889.9L1279.3 891.6L1279.7 893.6L1280.1 895.8L1280.5 898.2L1280.9 900.7L1281.3 903.4L1281.7 906.2L1282.1 909.2L1282.5 912.3L1282.9 915.5L1283.3 918.8L1283.7 922.1L1284.1 925.5L1284.5 929L1284.9 932.5L1285.3 936L1285.7 939.5L1286.1 943L1286.5 946.4L1286.9 949.7L1287.3 953L1287.7 956.2L1288.1 959.2L1288.5 962.1L1288.9 964.8L1289.3 967.2L1289.7 969.4L1290.1 971.4L1290.5 973L1291 974.4L1291.4 975.4L1291.8 976L1292.2 976.3L1292.6 976.2L1293 975.7L1293.4 974.9L1293.8 973.7L1294.2 972.3L1294.6 970.5L1295 968.6L1295.4 966.3L1295.8 963.9L1296.2 961.4L1296.6 958.7L1297 955.9L1297.4 953L1297.8 950L1298.2 947L1298.6 944L1299 941.1L1299.4 938.1L1299.8 935.3L1300.2 932.5L1300.6 929.7L1301 927.2L1301.4 924.7L1301.8 922.4L1302.2 920.2L1302.6 918.3L1303 916.5L1303.4 914.9L1303.8 913.6L1304.2 912.5L1304.6 911.6L1305 911L1305.4 910.7L1305.8 910.6L1306.2 910.7L1306.6 911L1307 911.4L1307.4 912L1307.8 912.8L1308.2 913.6L1308.6 914.5L1309 915.5L1309.4 916.5L1309.8 917.6L1310.2 918.6L1310.6 919.7L1311 920.7L1311.4 921.6L1311.8 922.5L1312.2 923.3L1312.6 923.9L1313 924.5L1313.4 924.9L1313.8 925.1L1314.2 925.1L1314.6 924.9L1315 924.4L1315.4 923.8L1315.8 922.9L1316.2 921.9L1316.6 920.7L1317 919.3L1317.4 917.8L1317.8 916.2L1318.2 914.5L1318.6 912.7L1319 910.8L1319.4 908.9L1319.8 906.9L1320.2 905L1320.6 903L1321 901L1321.4 899.1L1321.8 897.2L1322.2 895.4L1322.6 893.6L1323 892L1323.4 890.5L1323.8 889.1L1324.2 887.8L1324.6 886.7L1325 885.8L1325.4 885.1L1325.8 884.6L1326.2 884.4L1326.6 884.4L1327 884.6L1327.4 885.2L1327.9 886L1328.3 887.1L1328.7 888.5L1329.1 890L1329.5 891.9L1329.9 893.9L1330.3 896.1L1330.7 898.5L1331.1 901.1L1331.5 903.8L1331.9 906.7L1332.3 909.7L1332.7 912.8L1333.1 916.1L1333.5 919.4L1333.9 922.8L1334.3 926.3L1334.7 929.8L1335.1 933.4L1335.5 937L1335.9 940.6L1336.3 944.2L1336.7 947.7L1337.1 951.2L1337.5 954.6L1337.9 957.8L1338.3 960.9L1338.7 963.9L1339.1 966.6L1339.5 969.2L1339.9 971.5L1340.3 973.5L1340.7 975.2L1341.1 976.5L1341.5 977.5L1341.9 978.2L1342.3 978.4L1342.7 978.3L1343.1 977.7L1343.5 976.8L1343.9 975.6L1344.3 974L1344.7 972.2L1345.1 970.1L1345.5 967.8L1345.9 965.2L1346.3 962.6L1346.7 959.7L1347.1 956.8L1347.5 953.8L1347.9 950.7L1348.3 947.6L1348.7 944.6L1349.1 941.5L1349.5 938.5L1349.9 935.5L1350.3 932.7L1350.7 929.9L1351.1 927.3L1351.5 924.8L1351.9 922.4L1352.3 920.2L1352.7 918.2L1353.1 916.5L1353.5 914.9L1353.9 913.5L1354.3 912.4L1354.7 911.6L1355.1 911L1355.5 910.7L1355.9 910.6L1356.3 910.7L1356.7 911L1357.1 911.5L1357.5 912.1L1357.9 912.8L1358.3 913.7L1358.7 914.6L1359.1 915.6L1359.5 916.6L1359.9 917.7L1360.3 918.7L1360.7 919.8L1361.1 920.8L1361.5 921.7L1361.9 922.6L1362.3 923.3L1362.7 924L1363.1 924.5L1363.5 924.9L1363.9 925.1L1364.3 925.1L1364.8 924.8L1365.2 924.4L1365.6 923.7L1366 922.8L1366.4 921.8L1366.8 920.6L1367.2 919.2L1367.6 917.7L1368 916.1L1368.4 914.3L1368.8 912.5L1369.2 910.7L1369.6 908.7L1370 906.8L1370.4 904.8L1370.8 902.8L1371.2 900.8L1371.6 898.9L1372 897L1372.4 895.2L1372.8 893.5L1373.2 891.8L1373.6 890.3L1374 888.9L1374.4 887.7L1374.8 886.6L1375.2 885.8L1375.6 885.1L1376 884.6L1376.4 884.4L1376.8 884.4L1377.2 884.7L1377.6 885.3L1378 886.1L1378.4 887.2L1378.8 888.6L1379.2 890.2L1379.6 892.1L1380 894.1L1380.4 896.4L1380.8 898.8L1381.2 901.4L1381.6 904.2L1382 907.1L1382.4 910.2L1382.8 913.4L1383.2 916.6L1383.6 920L1384 923.5L1384.4 927.1L1384.8 930.7L1385.2 934.4L1385.6 938.1L1386 941.8L1386.4 945.4L1386.8 949.1L1387.2 952.6L1387.6 956.1L1388 959.5L1388.4 962.7L1388.8 965.7L1389.2 968.6L1389.6 971.2L1390 973.5L1390.4 975.6L1390.8 977.3L1391.2 978.7L1391.6 979.7L1392 980.3L1392.4 980.5L1392.8 980.3L1393.2 979.7L1393.6 978.7L1394 977.4L1394.4 975.8L1394.8 973.8L1395.2 971.6L1395.6 969.2L1396 966.5L1396.4 963.7L1396.8 960.8L1397.2 957.7L1397.6 954.6L1398 951.4L1398.4 948.2L1398.8 945L1399.2 941.9L1399.6 938.8L1400 935.8L1400.4 932.8L1400.8 930L1401.2 927.3L1401.7 924.8L1402.1 922.4L1402.5 920.2L1402.9 918.2L1403.3 916.4L1403.7 914.9L1404.1 913.5L1404.5 912.4L1404.9 911.6L1405.3 911L1405.7 910.7L1406.1 910.6L1406.5 910.8L1406.9 911.1L1407.3 911.5L1407.7 912.2L1408.1 912.9L1408.5 913.8L1408.9 914.7L1409.3 915.7L1409.7 916.7L1410.1 917.8L1410.5 918.8L1410.9 919.9L1411.3 920.9L1411.7 921.8L1412.1 922.6L1412.5 923.4L1412.9 924.1L1413.3 924.6L1413.7 924.9L1414.1 925.1L1414.5 925L1414.9 924.8L1415.3 924.3L1415.7 923.6L1416.1 922.8L1416.5 921.7L1416.9 920.5L1417.3 919.1L1417.7 917.5L1418.1 915.9L1418.5 914.2L1418.9 912.4L1419.3 910.5L1419.7 908.6L1420.1 906.6L1420.5 904.6L1420.9 902.6L1421.3 900.7L1421.7 898.7L1422.1 896.9L1422.5 895.1L1422.9 893.3L1423.3 891.7L1423.7 890.2L1424.1 888.8L1424.5 887.6L1424.9 886.6L1425.3 885.7L1425.7 885L1426.1 884.6L1426.5 884.4L1426.9 884.4L1427.3 884.7L1427.7 885.3L1428.1 886.2L1428.5 887.4L1428.9 888.8L1429.3 890.4L1429.7 892.3L1430.1 894.4L1430.5 896.7L1430.9 899.1L1431.3 901.8L1431.7 904.6L1432.1 907.5L1432.5 910.7L1432.9 913.9L1433.3 917.3L1433.7 920.7L1434.1 924.3L1434.5 927.9L1434.9 931.6L1435.3 935.4L1435.7 939.1L1436.1 942.9L1436.5 946.7L1436.9 950.4L1437.3 954.1L1437.7 957.7L1438.1 961.1L1438.6 964.4L1439 967.6L1439.4 970.5L1439.8 973.2L1440.2 975.6L1440.6 977.7L1441 979.4L1441.4 980.8L1441.8 981.8L1442.2 982.4L1442.6 982.6L1443 982.4L1443.4 981.7L1443.8 980.6L1444.2 979.2L1444.6 977.5L1445 975.4L1445.4 973.1L1445.8 970.5L1446.2 967.8L1446.6 964.8L1447 961.8L1447.4 958.6L1447.8 955.4L1448.2 952.1L1448.6 948.8L1449 945.5L1449.4 942.3L1449.8 939.1L1450.2 936L1450.6 933L1451 930.2L1451.4 927.4L1451.8 924.9L1452.2 922.4L1452.6 920.2L1453 918.2L1453.4 916.4L1453.8 914.8L1454.2 913.5L1454.6 912.4L1455 911.6L1455.4 911L1455.8 910.7L1456.2 910.7L1456.6 910.8L1457 911.1L1457.4 911.6L1457.8 912.2L1458.2 913L1458.6 913.8L1459 914.8L1459.4 915.8L1459.8 916.8L1460.2 917.9L1460.6 918.9L1461 919.9L1461.4 920.9L1461.8 921.9L1462.2 922.7L1462.6 923.5L1463 924.1L1463.4 924.6L1463.8 924.9L1464.2 925.1L1464.6 925L1465 924.8L1465.4 924.3L1465.8 923.6L1466.2 922.7L1466.6 921.6L1467 920.3L1467.4 918.9L1467.8 917.4L1468.2 915.8L1468.6 914L1469 912.2L1469.4 910.3L1469.8 908.4L1470.2 906.4L1470.6 904.4L1471 902.5L1471.4 900.5L1471.8 898.6L1472.2 896.7L1472.6 894.9L1473 893.2L1473.4 891.6L1473.8 890.1L1474.2 888.7L1474.6 887.5L1475 886.5L1475.5 885.6L1475.9 885L1476.3 884.6L1476.7 884.4L1477.1 884.4L1477.5 884.8L1477.9 885.4L1478.3 886.3L1478.7 887.5L1479.1 889L1479.5 890.6L1479.9 892.5L1480.3 894.6L1480.7 896.9L1481.1 899.5L1481.5 902.1L1481.9 905L1482.3 908L1482.7 911.2L1483.1 914.4L1483.5 917.9L1483.9 921.4L1484.3 925L1484.7 928.7L1485.1 932.5L1485.5 936.3L1485.9 940.2L1486.3 944.1L1486.7 948L1487.1 951.8L1487.5 955.6L1487.9 959.3L1488.3 962.8L1488.7 966.2L1489.1 969.4L1489.5 972.4L1489.9 975.2L1490.3 977.6L1490.7 979.8L1491.1 981.6L1491.5 983L1491.9 984L1492.3 984.6L1492.7 984.7L1493.1 984.4L1493.5 983.7L1493.9 982.5L1494.3 981L1494.7 979.2L1495.1 977L1495.5 974.6L1495.9 971.9L1496.3 969L1496.7 966L1497.1 962.8L1497.5 959.5" fill="none" stroke="#000000" stroke-width="5.0" stroke-linejoin="round" clip-path="url(#clipB)"/>
<polygon points="979,966.5 993.2,957.2 993.2,975.8" fill="#fff" stroke="#000000" stroke-width="3.9" stroke-linejoin="miter" stroke-miterlimit="10"/>
<polygon points="1079.2,969.7 1093.4,960.4 1093.4,979" fill="#fff" stroke="#000000" stroke-width="3.9" stroke-linejoin="miter" stroke-miterlimit="10"/>
<polygon points="1179.4,974.4 1193.6,965 1193.6,983.7" fill="#fff" stroke="#000000" stroke-width="3.9" stroke-linejoin="miter" stroke-miterlimit="10"/>
<polygon points="1279.6,979 1293.8,969.7 1293.8,988.3" fill="#fff" stroke="#000000" stroke-width="3.9" stroke-linejoin="miter" stroke-miterlimit="10"/>
<polygon points="1379.8,983.6 1394,974.3 1394,992.9" fill="#fff" stroke="#000000" stroke-width="3.9" stroke-linejoin="miter" stroke-miterlimit="10"/>
<polygon points="1480,988.2 1494.2,978.9 1494.2,997.5" fill="#fff" stroke="#000000" stroke-width="3.9" stroke-linejoin="miter" stroke-miterlimit="10"/>
<rect x="940" y="789.5" width="556.5" height="223.3" fill="none" stroke="#262626" stroke-width="6.4"/>
<line x1="1091.7" y1="1012.8" x2="1091.7" y2="1004.8" stroke="#262626" stroke-width="6.2"/>
<line x1="1091.7" y1="789.5" x2="1091.7" y2="797.5" stroke="#262626" stroke-width="6.2"/>
<line x1="1292.1" y1="1012.8" x2="1292.1" y2="1004.8" stroke="#262626" stroke-width="6.2"/>
<line x1="1292.1" y1="789.5" x2="1292.1" y2="797.5" stroke="#262626" stroke-width="6.2"/>
<line x1="940" y1="956.8" x2="948" y2="956.8" stroke="#262626" stroke-width="6.2"/>
<line x1="1496.5" y1="956.8" x2="1488.5" y2="956.8" stroke="#262626" stroke-width="6.2"/>
<line x1="940" y1="888.8" x2="948" y2="888.8" stroke="#262626" stroke-width="6.2"/>
<line x1="1496.5" y1="888.8" x2="1488.5" y2="888.8" stroke="#262626" stroke-width="6.2"/>
<line x1="940" y1="820.8" x2="948" y2="820.8" stroke="#262626" stroke-width="6.2"/>
<line x1="1496.5" y1="820.8" x2="1488.5" y2="820.8" stroke="#262626" stroke-width="6.2"/>
<text x="1091.7" y="1070.5" font-size="38.5" text-anchor="middle" fill="#262626">26</text>
<text x="1292.1" y="1070.5" font-size="38.5" text-anchor="middle" fill="#262626">28</text>
<text x="1492.5" y="1070.5" font-size="38.5" text-anchor="middle" fill="#262626">30</text>
<text x="924.2" y="834.7" font-size="38.5" text-anchor="end" fill="#262626">0.29</text>
<text x="924.2" y="905.5" font-size="38.5" text-anchor="end" fill="#262626">0.28</text>
<text x="924.2" y="973.5" font-size="38.5" text-anchor="end" fill="#262626">0.27</text>
<line x1="1576.8" y1="772.6" x2="1516.4" y2="855.5" stroke="#000" stroke-width="5.0"/><polygon points="1503.2,873.5 1511,840.8 1516.4,855.5 1532,856.1" fill="#000"/>
<text x="875.4" y="1305.6" font-size="64" text-anchor="middle" fill="#000" class="serif">(B)</text>
</svg>
</body></html>
